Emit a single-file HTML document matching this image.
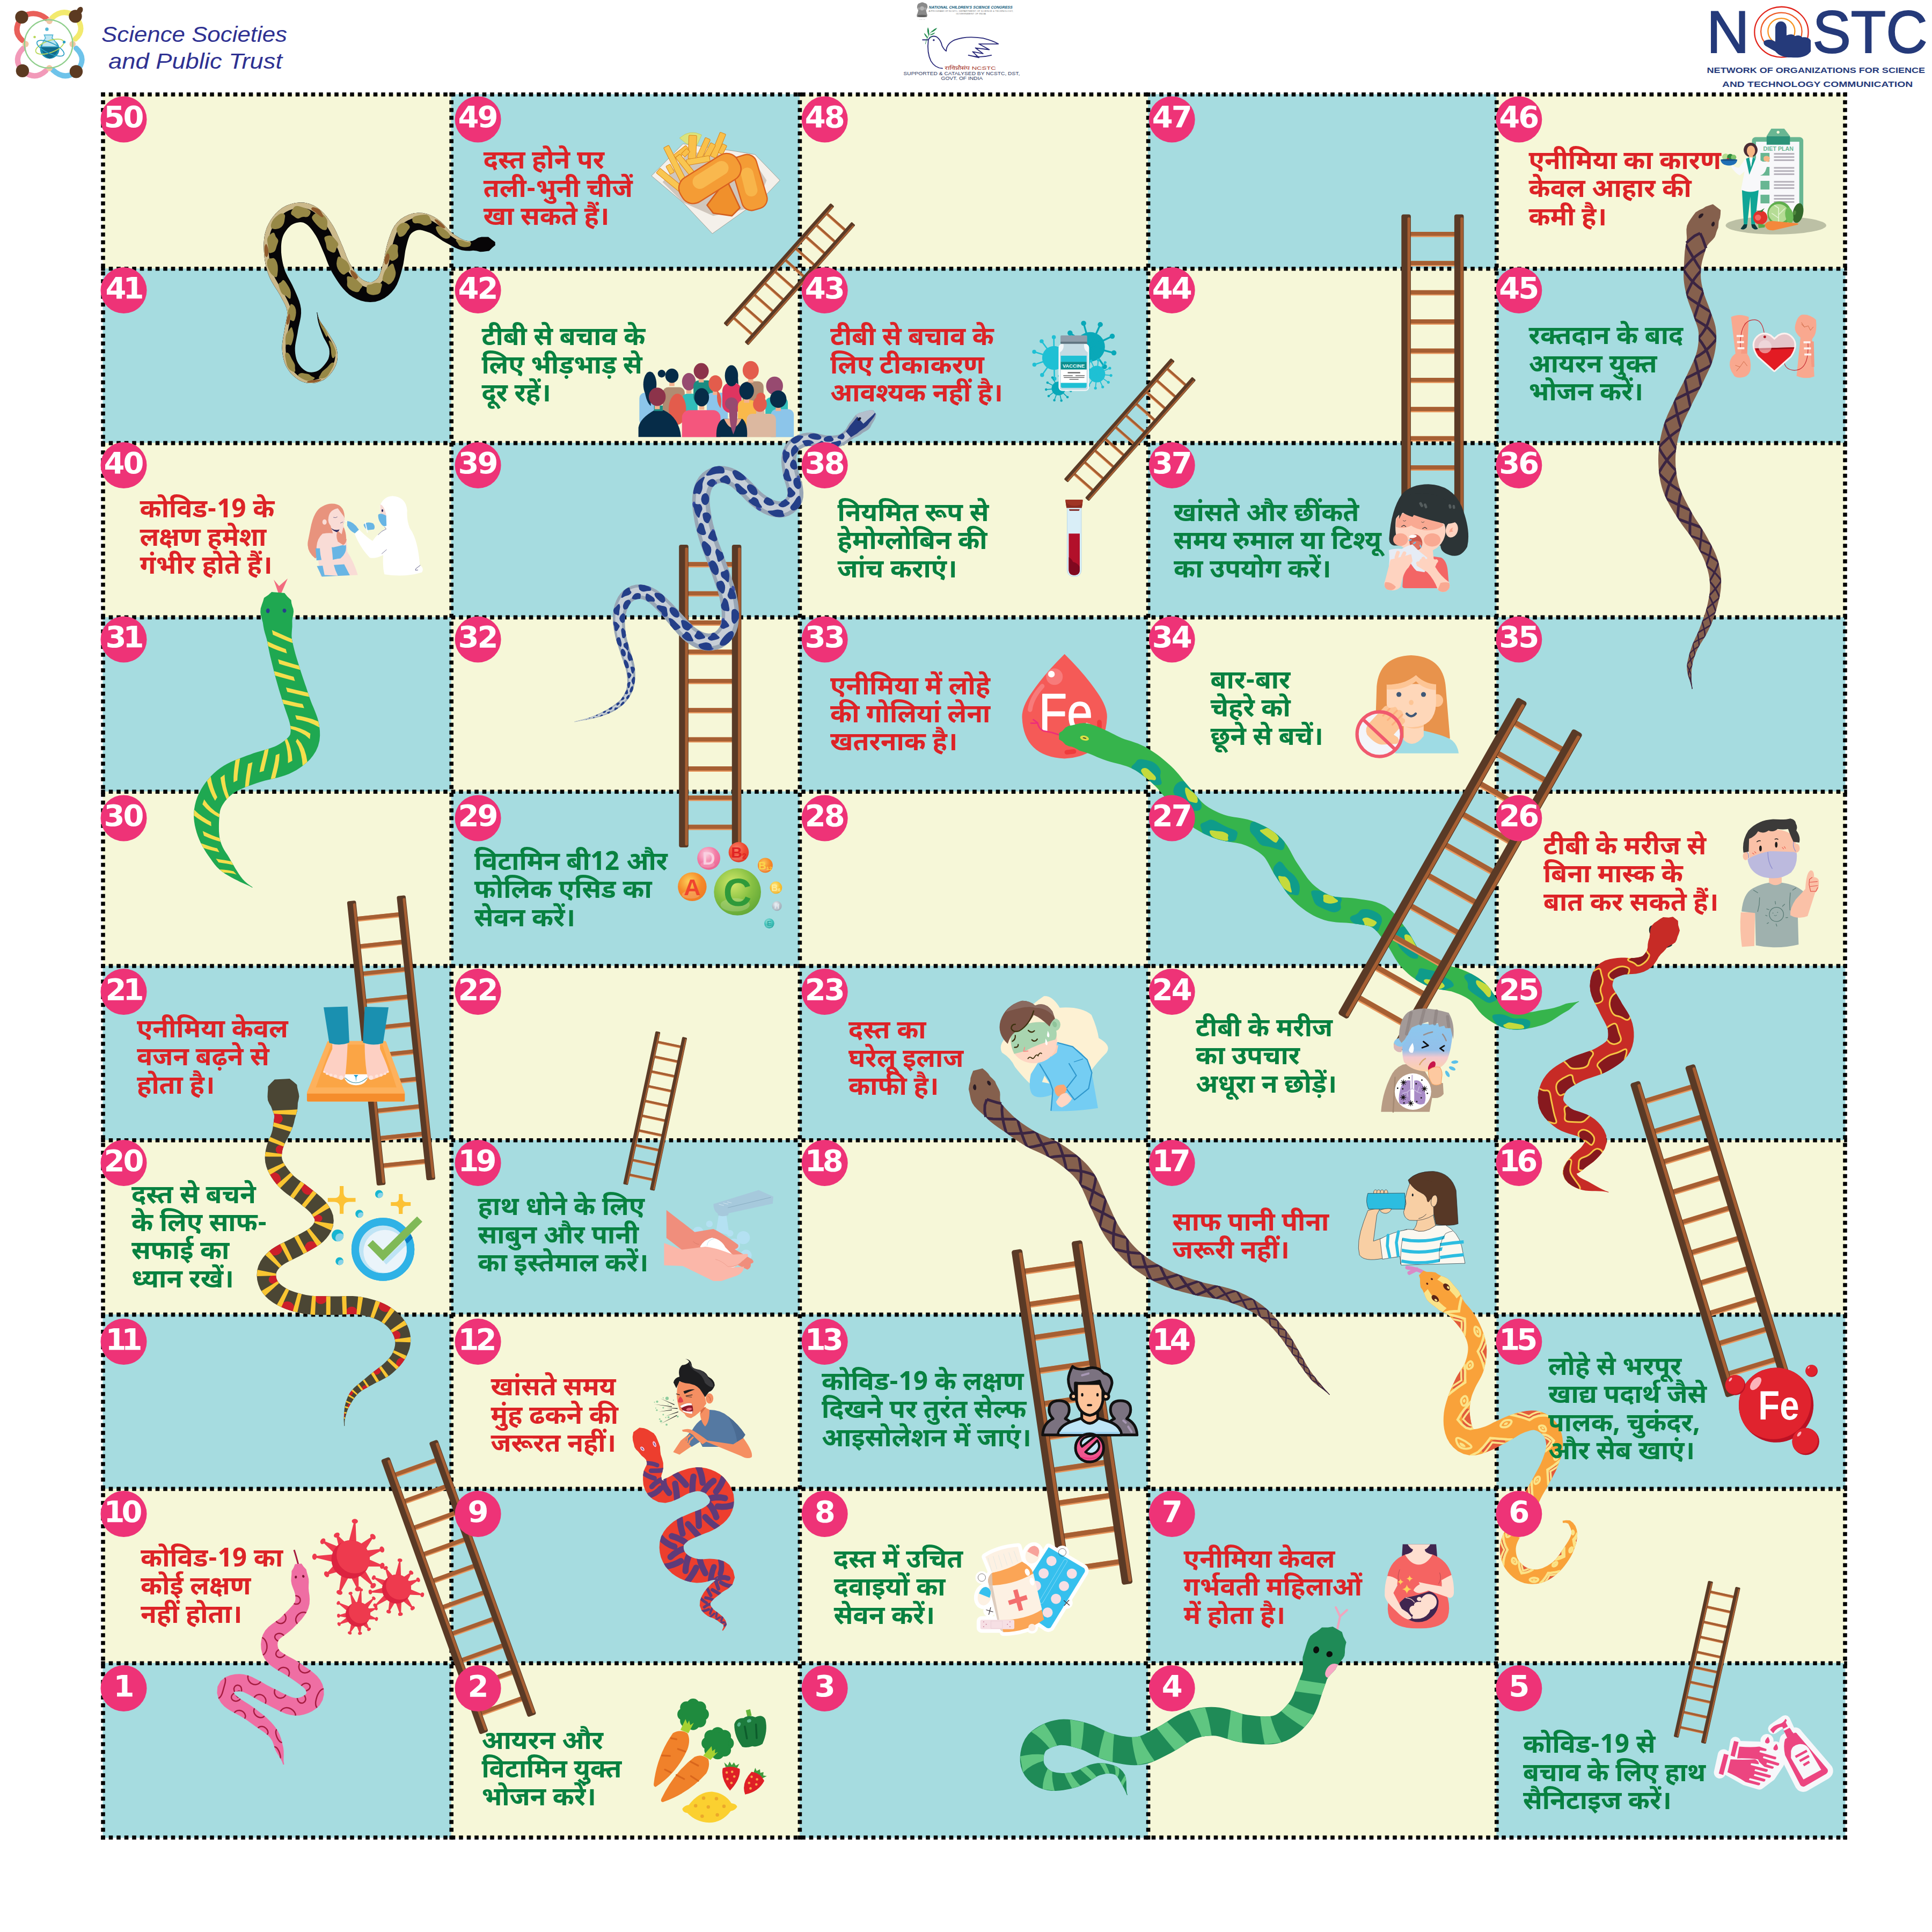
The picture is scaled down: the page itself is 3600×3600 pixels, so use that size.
<!DOCTYPE html>
<html lang="hi"><head><meta charset="utf-8"><title>Snakes and Ladders</title>
<style>
html,body{margin:0;padding:0;background:#fff}
#page{position:relative;width:3600px;height:3600px;overflow:hidden;background:#fff}
#page svg{position:absolute;left:0;top:0}
.t{position:absolute;font-family:"Noto Sans Devanagari","Liberation Sans","Noto Sans Devanagari UI","Mukta","Lohit Devanagari","FreeSans",sans-serif;font-weight:700;font-size:48.4px;line-height:52.3px;white-space:nowrap;margin:0}
.r{color:#dd2327}.g{color:#088140}
</style></head>
<body><div id="page">
<svg xmlns="http://www.w3.org/2000/svg" width="3600" height="3600" viewBox="0 0 3600 3600">
<rect x="191.5" y="175.5" width="650.2" height="325.8" fill="#f6f7d8"/>
<rect x="840.7" y="175.5" width="650.2" height="325.8" fill="#a6dce0"/>
<rect x="1489.9" y="175.5" width="650.2" height="325.8" fill="#f6f7d8"/>
<rect x="2139.1" y="175.5" width="650.2" height="325.8" fill="#a6dce0"/>
<rect x="2788.3" y="175.5" width="650.2" height="325.8" fill="#f6f7d8"/>
<rect x="191.5" y="500.3" width="650.2" height="325.8" fill="#a6dce0"/>
<rect x="840.7" y="500.3" width="650.2" height="325.8" fill="#f6f7d8"/>
<rect x="1489.9" y="500.3" width="650.2" height="325.8" fill="#a6dce0"/>
<rect x="2139.1" y="500.3" width="650.2" height="325.8" fill="#f6f7d8"/>
<rect x="2788.3" y="500.3" width="650.2" height="325.8" fill="#a6dce0"/>
<rect x="191.5" y="825.1" width="650.2" height="325.8" fill="#f6f7d8"/>
<rect x="840.7" y="825.1" width="650.2" height="325.8" fill="#a6dce0"/>
<rect x="1489.9" y="825.1" width="650.2" height="325.8" fill="#f6f7d8"/>
<rect x="2139.1" y="825.1" width="650.2" height="325.8" fill="#a6dce0"/>
<rect x="2788.3" y="825.1" width="650.2" height="325.8" fill="#f6f7d8"/>
<rect x="191.5" y="1149.9" width="650.2" height="325.8" fill="#a6dce0"/>
<rect x="840.7" y="1149.9" width="650.2" height="325.8" fill="#f6f7d8"/>
<rect x="1489.9" y="1149.9" width="650.2" height="325.8" fill="#a6dce0"/>
<rect x="2139.1" y="1149.9" width="650.2" height="325.8" fill="#f6f7d8"/>
<rect x="2788.3" y="1149.9" width="650.2" height="325.8" fill="#a6dce0"/>
<rect x="191.5" y="1474.7" width="650.2" height="325.8" fill="#f6f7d8"/>
<rect x="840.7" y="1474.7" width="650.2" height="325.8" fill="#a6dce0"/>
<rect x="1489.9" y="1474.7" width="650.2" height="325.8" fill="#f6f7d8"/>
<rect x="2139.1" y="1474.7" width="650.2" height="325.8" fill="#a6dce0"/>
<rect x="2788.3" y="1474.7" width="650.2" height="325.8" fill="#f6f7d8"/>
<rect x="191.5" y="1799.5" width="650.2" height="325.8" fill="#a6dce0"/>
<rect x="840.7" y="1799.5" width="650.2" height="325.8" fill="#f6f7d8"/>
<rect x="1489.9" y="1799.5" width="650.2" height="325.8" fill="#a6dce0"/>
<rect x="2139.1" y="1799.5" width="650.2" height="325.8" fill="#f6f7d8"/>
<rect x="2788.3" y="1799.5" width="650.2" height="325.8" fill="#a6dce0"/>
<rect x="191.5" y="2124.3" width="650.2" height="325.8" fill="#f6f7d8"/>
<rect x="840.7" y="2124.3" width="650.2" height="325.8" fill="#a6dce0"/>
<rect x="1489.9" y="2124.3" width="650.2" height="325.8" fill="#f6f7d8"/>
<rect x="2139.1" y="2124.3" width="650.2" height="325.8" fill="#a6dce0"/>
<rect x="2788.3" y="2124.3" width="650.2" height="325.8" fill="#f6f7d8"/>
<rect x="191.5" y="2449.1" width="650.2" height="325.8" fill="#a6dce0"/>
<rect x="840.7" y="2449.1" width="650.2" height="325.8" fill="#f6f7d8"/>
<rect x="1489.9" y="2449.1" width="650.2" height="325.8" fill="#a6dce0"/>
<rect x="2139.1" y="2449.1" width="650.2" height="325.8" fill="#f6f7d8"/>
<rect x="2788.3" y="2449.1" width="650.2" height="325.8" fill="#a6dce0"/>
<rect x="191.5" y="2773.9" width="650.2" height="325.8" fill="#f6f7d8"/>
<rect x="840.7" y="2773.9" width="650.2" height="325.8" fill="#a6dce0"/>
<rect x="1489.9" y="2773.9" width="650.2" height="325.8" fill="#f6f7d8"/>
<rect x="2139.1" y="2773.9" width="650.2" height="325.8" fill="#a6dce0"/>
<rect x="2788.3" y="2773.9" width="650.2" height="325.8" fill="#f6f7d8"/>
<rect x="191.5" y="3098.7" width="650.2" height="325.8" fill="#a6dce0"/>
<rect x="840.7" y="3098.7" width="650.2" height="325.8" fill="#f6f7d8"/>
<rect x="1489.9" y="3098.7" width="650.2" height="325.8" fill="#a6dce0"/>
<rect x="2139.1" y="3098.7" width="650.2" height="325.8" fill="#f6f7d8"/>
<rect x="2788.3" y="3098.7" width="650.2" height="325.8" fill="#a6dce0"/>
<g stroke="#050505" stroke-width="7.6" fill="none" stroke-dasharray="7.6 6.9">
<path d="M192 172.2 V3427.8"/>
<path d="M841.2 172.2 V3427.8"/>
<path d="M1490.4 172.2 V3427.8"/>
<path d="M2139.6 172.2 V3427.8"/>
<path d="M2788.8 172.2 V3427.8"/>
<path d="M3438 172.2 V3427.8"/>
<path d="M188.2 176 H3441.8"/>
<path d="M188.2 500.8 H3441.8"/>
<path d="M188.2 825.6 H3441.8"/>
<path d="M188.2 1150.4 H3441.8"/>
<path d="M188.2 1475.2 H3441.8"/>
<path d="M188.2 1800 H3441.8"/>
<path d="M188.2 2124.8 H3441.8"/>
<path d="M188.2 2449.6 H3441.8"/>
<path d="M188.2 2774.4 H3441.8"/>
<path d="M188.2 3099.2 H3441.8"/>
<path d="M188.2 3424 H3441.8"/>
</g>
<!-- snake s1 --><polygon points="922.6,450.9 916.3,446.6 910,441.6 903.8,441.6 897.3,441.4 890.9,442.9 885.3,446.4 879.9,448.9 874.7,449.3 870,448.8 865.5,447.7 861,445.7 856.4,443.4 851.7,440.6 846.9,437.4 842.4,434 838.1,430.5 834.3,426.6 830.4,422.3 826.1,417.6 821.2,412.8 815.4,408.2 809.1,404.3 802.5,401.1 795.4,398.4 787.3,396.8 778.6,396.4 770,397.6 761.9,400 754.3,403.4 747.1,408 740.5,413.9 735.1,420.8 731.1,428 728.2,434.9 725.9,441.2 723.9,447.3 721.9,453.6 720.2,460.1 718.8,466.6 717.6,472.7 716.6,478.5 715.5,483.8 714.3,489 712.8,494.4 711.2,499.9 709.7,505.1 708.1,509.8 706.5,513.7 704.7,516.7 702.7,519.3 700.1,521.6 697.3,523.6 694.6,525 692.2,525.9 689.7,526 686.9,525.7 683.5,524.8 680,523.5 676.5,521.7 673.4,519.6 670.4,516.9 667.4,513.7 664.3,509.8 661.2,505.6 658.2,501.2 655.2,496.5 652.4,491.9 649.9,487.4 647.8,482.8 645.7,477.9 643.7,472.6 641.5,466.9 639.2,461 636.7,455.3 634.4,449.7 632,444.2 629.5,438.4 626.8,432.4 623.7,426.3 620.3,420.3 616.6,414.5 612.8,408.9 608.5,403.3 603.7,397.7 598.1,392.3 591.7,387.2 584.3,382.8 575.9,379.4 566.8,377.6 557.9,377.3 549.6,378.3 541.7,380.2 533.9,383.1 526.4,387.1 519.6,392.2 513.8,397.8 508.9,403.7 504.6,409.8 500.9,416.2 497.6,423.1 495,430.4 493.1,437.8 492.1,445.2 491.5,452.3 491.4,459.1 491.6,465.8 492,472.5 492.6,479.1 493.5,485.8 494.7,492.4 496.2,498.9 498.1,505.4 500.3,512 503,518.5 506.2,524.7 509.6,530.5 512.9,535.8 516.2,540.7 519.1,545.5 521.9,550.3 524.6,555.4 527.4,560.6 530,565.6 532.2,570.3 533.8,574.7 534.9,578.9 535.2,583.2 535,587.8 534.2,592.9 533.1,598.5 531.9,604.5 530.7,610.7 529.8,616.7 528.7,622.5 527.6,628.4 526.6,634.7 525.8,641.5 525.5,648.5 526,655.4 526.9,662.3 528.3,669.1 530.3,675.9 533.2,682.7 537,689.1 541.4,694.9 546.4,700.1 552,704.8 558.2,709 565.5,712.1 573.3,713.9 581.1,714.1 588.6,713.2 595.9,711.1 603,707.9 609.1,703.5 614.4,698.5 618.8,693 622.6,687.2 625.7,680.7 628,673.8 629,666.5 628.9,659.4 627.9,652.4 626,645.6 623.1,639.4 619.8,633.8 616.6,628.6 613.5,623.5 610.4,618.5 607,613.5 603.5,608.6 599.9,603.7 596.7,598.8 594.1,593.5 592.4,587.8 591.2,581.9 590.2,582.1 591.1,588 591.7,594.1 593,600.2 594.7,606.2 596.7,612.1 598.7,617.8 600.9,623.5 603.2,629.2 606.2,634.6 609.1,639.7 611.6,644.7 613.3,649.6 613.9,654.5 613.9,659.5 613.1,664.4 611.7,668.9 609.5,673.1 606.7,677.1 603.5,681.1 600.1,684.8 596.6,688 593,690.6 589.1,692.2 584.8,693.3 580.4,693.7 576.1,693.5 572.3,692.4 568.6,690.6 565.1,687.9 561.6,684.7 558.5,681 555.7,677.1 553.7,673 552.1,668.6 551,663.8 550.2,658.8 549.8,653.7 549.7,648.7 550.1,643.6 550.9,638.4 552,632.9 553.2,627.1 554.4,621 555.3,615.1 556.4,609.4 557.7,603.7 559.1,597.5 560.4,590.8 561.1,583.4 560.9,575.7 559.5,568.1 557.5,561.1 555.1,554.7 552.6,548.7 550.1,543.1 547.6,537.4 544.8,531.5 541.8,525.8 538.9,520.5 536.1,515.4 533.7,510.6 531.6,506 529.9,501.3 528.5,496.4 527.2,491.3 526.1,486.1 525.2,480.8 524.5,475.6 524,470.2 523.9,464.9 523.9,459.5 524.2,454.4 524.8,449.5 525.7,444.9 527,440.8 528.6,436.9 530.8,433 533.4,429.2 536.2,425.6 539.2,422.4 542.2,419.8 545.1,417.9 548.3,416.5 551.9,415.3 555.8,414.5 559.4,414.1 562.4,414.3 565.1,414.8 567.9,416 570.8,417.7 573.8,420.1 576.8,423.1 579.8,426.6 582.8,430.6 585.8,435 588.6,439.3 591.1,443.8 593.5,448.4 595.7,453.4 598,458.7 600.3,464.2 602.7,469.7 604.9,475 607,480.3 609.1,485.9 611.4,491.8 614,498 617,504.3 620.3,510.3 623.8,516 627.3,521.5 631,527 635,532.5 639.5,538 644.7,543.6 650.7,548.9 657.6,553.5 664.8,557.3 672.5,560.2 680.8,562.2 689.9,563 699.4,562.2 708.4,559.4 716.4,555.4 723.4,550.4 729.7,544.5 735.2,537.7 739.5,530.4 742.5,523.2 744.9,516.5 746.8,510.3 748.5,504.2 750.1,497.9 751.6,491.4 752.7,484.9 753.6,478.7 754.4,473 755.2,467.6 756.3,462.4 757.6,457.2 759,451.7 760.5,446.6 762,442.3 763.5,438.8 765.3,436.2 767.4,433.9 770.3,431.9 773.6,430.2 777,429 780.2,428.4 783.6,428.6 787.3,429.3 791.5,430.5 796,432 800.4,433.6 804.7,435.6 809.1,438.3 813.9,441.5 819.2,445.1 824.7,448.7 830.5,451.9 836.1,454.9 841.6,458 847.3,461.2 853.6,463.9 860.4,466.2 867.7,467.3 875,467.4 881.7,466.8 888.3,467.6 894.6,469.3 900.1,469.1 905.6,468.2 911.4,467.4 917.1,461.8 922.9,456.9" fill="#070507"/><clipPath id="c1"><polygon points="922.6,450.9 916.3,446.6 910,441.6 903.8,441.6 897.3,441.4 890.9,442.9 885.3,446.4 879.9,448.9 874.7,449.3 870,448.8 865.5,447.7 861,445.7 856.4,443.4 851.7,440.6 846.9,437.4 842.4,434 838.1,430.5 834.3,426.6 830.4,422.3 826.1,417.6 821.2,412.8 815.4,408.2 809.1,404.3 802.5,401.1 795.4,398.4 787.3,396.8 778.6,396.4 770,397.6 761.9,400 754.3,403.4 747.1,408 740.5,413.9 735.1,420.8 731.1,428 728.2,434.9 725.9,441.2 723.9,447.3 721.9,453.6 720.2,460.1 718.8,466.6 717.6,472.7 716.6,478.5 715.5,483.8 714.3,489 712.8,494.4 711.2,499.9 709.7,505.1 708.1,509.8 706.5,513.7 704.7,516.7 702.7,519.3 700.1,521.6 697.3,523.6 694.6,525 692.2,525.9 689.7,526 686.9,525.7 683.5,524.8 680,523.5 676.5,521.7 673.4,519.6 670.4,516.9 667.4,513.7 664.3,509.8 661.2,505.6 658.2,501.2 655.2,496.5 652.4,491.9 649.9,487.4 647.8,482.8 645.7,477.9 643.7,472.6 641.5,466.9 639.2,461 636.7,455.3 634.4,449.7 632,444.2 629.5,438.4 626.8,432.4 623.7,426.3 620.3,420.3 616.6,414.5 612.8,408.9 608.5,403.3 603.7,397.7 598.1,392.3 591.7,387.2 584.3,382.8 575.9,379.4 566.8,377.6 557.9,377.3 549.6,378.3 541.7,380.2 533.9,383.1 526.4,387.1 519.6,392.2 513.8,397.8 508.9,403.7 504.6,409.8 500.9,416.2 497.6,423.1 495,430.4 493.1,437.8 492.1,445.2 491.5,452.3 491.4,459.1 491.6,465.8 492,472.5 492.6,479.1 493.5,485.8 494.7,492.4 496.2,498.9 498.1,505.4 500.3,512 503,518.5 506.2,524.7 509.6,530.5 512.9,535.8 516.2,540.7 519.1,545.5 521.9,550.3 524.6,555.4 527.4,560.6 530,565.6 532.2,570.3 533.8,574.7 534.9,578.9 535.2,583.2 535,587.8 534.2,592.9 533.1,598.5 531.9,604.5 530.7,610.7 529.8,616.7 528.7,622.5 527.6,628.4 526.6,634.7 525.8,641.5 525.5,648.5 526,655.4 526.9,662.3 528.3,669.1 530.3,675.9 533.2,682.7 537,689.1 541.4,694.9 546.4,700.1 552,704.8 558.2,709 565.5,712.1 573.3,713.9 581.1,714.1 588.6,713.2 595.9,711.1 603,707.9 609.1,703.5 614.4,698.5 618.8,693 622.6,687.2 625.7,680.7 628,673.8 629,666.5 628.9,659.4 627.9,652.4 626,645.6 623.1,639.4 619.8,633.8 616.6,628.6 613.5,623.5 610.4,618.5 607,613.5 603.5,608.6 599.9,603.7 596.7,598.8 594.1,593.5 592.4,587.8 591.2,581.9 590.2,582.1 591.1,588 591.7,594.1 593,600.2 594.7,606.2 596.7,612.1 598.7,617.8 600.9,623.5 603.2,629.2 606.2,634.6 609.1,639.7 611.6,644.7 613.3,649.6 613.9,654.5 613.9,659.5 613.1,664.4 611.7,668.9 609.5,673.1 606.7,677.1 603.5,681.1 600.1,684.8 596.6,688 593,690.6 589.1,692.2 584.8,693.3 580.4,693.7 576.1,693.5 572.3,692.4 568.6,690.6 565.1,687.9 561.6,684.7 558.5,681 555.7,677.1 553.7,673 552.1,668.6 551,663.8 550.2,658.8 549.8,653.7 549.7,648.7 550.1,643.6 550.9,638.4 552,632.9 553.2,627.1 554.4,621 555.3,615.1 556.4,609.4 557.7,603.7 559.1,597.5 560.4,590.8 561.1,583.4 560.9,575.7 559.5,568.1 557.5,561.1 555.1,554.7 552.6,548.7 550.1,543.1 547.6,537.4 544.8,531.5 541.8,525.8 538.9,520.5 536.1,515.4 533.7,510.6 531.6,506 529.9,501.3 528.5,496.4 527.2,491.3 526.1,486.1 525.2,480.8 524.5,475.6 524,470.2 523.9,464.9 523.9,459.5 524.2,454.4 524.8,449.5 525.7,444.9 527,440.8 528.6,436.9 530.8,433 533.4,429.2 536.2,425.6 539.2,422.4 542.2,419.8 545.1,417.9 548.3,416.5 551.9,415.3 555.8,414.5 559.4,414.1 562.4,414.3 565.1,414.8 567.9,416 570.8,417.7 573.8,420.1 576.8,423.1 579.8,426.6 582.8,430.6 585.8,435 588.6,439.3 591.1,443.8 593.5,448.4 595.7,453.4 598,458.7 600.3,464.2 602.7,469.7 604.9,475 607,480.3 609.1,485.9 611.4,491.8 614,498 617,504.3 620.3,510.3 623.8,516 627.3,521.5 631,527 635,532.5 639.5,538 644.7,543.6 650.7,548.9 657.6,553.5 664.8,557.3 672.5,560.2 680.8,562.2 689.9,563 699.4,562.2 708.4,559.4 716.4,555.4 723.4,550.4 729.7,544.5 735.2,537.7 739.5,530.4 742.5,523.2 744.9,516.5 746.8,510.3 748.5,504.2 750.1,497.9 751.6,491.4 752.7,484.9 753.6,478.7 754.4,473 755.2,467.6 756.3,462.4 757.6,457.2 759,451.7 760.5,446.6 762,442.3 763.5,438.8 765.3,436.2 767.4,433.9 770.3,431.9 773.6,430.2 777,429 780.2,428.4 783.6,428.6 787.3,429.3 791.5,430.5 796,432 800.4,433.6 804.7,435.6 809.1,438.3 813.9,441.5 819.2,445.1 824.7,448.7 830.5,451.9 836.1,454.9 841.6,458 847.3,461.2 853.6,463.9 860.4,466.2 867.7,467.3 875,467.4 881.7,466.8 888.3,467.6 894.6,469.3 900.1,469.1 905.6,468.2 911.4,467.4 917.1,461.8 922.9,456.9"/></clipPath><g clip-path="url(#c1)"><polygon points="876.5,449.2 871.6,449.1 867.1,448.1 862.6,446.5 858.1,444.2 853.3,441.6 848.6,438.6 843.9,435.2 839.5,431.7 835.6,427.9 831.7,423.7 827.6,419.2 822.9,414.4 817.4,409.6 811.2,405.5 804.7,402 797.7,399.2 790,397.2 781.4,396.4 772.7,397 764.4,399.1 756.6,402.2 749.3,406.5 742.4,411.9 736.6,418.6 732.2,425.9 729,432.8 726.5,439.4 724.5,445.5 722.5,451.7 720.6,458.2 719.2,464.8 718,471 716.9,476.9 715.8,482.3 714.7,487.5 713.2,492.9 711.7,498.3 710.1,503.7 708.5,508.6 706.9,512.7 705.2,516 703.2,518.6 700.8,521 698.1,523.1 695.3,524.7 692.8,525.6 690.4,526 687.6,525.8 684.4,525.1 680.8,523.9 677.4,522.2 674.1,520.1 671.1,517.6 668.1,514.5 665,510.8 662,506.7 658.9,502.2 655.9,497.6 653,492.9 650.5,488.4 648.2,483.9 646.2,479 644.1,473.8 642,468.2 639.7,462.3 637.3,456.5 634.9,450.9 632.5,445.3 630.1,439.6 627.4,433.6 624.4,427.5 621,421.5 617.4,415.6 613.6,410 609.4,404.4 604.7,398.8 599.3,393.3 593,388.2 585.8,383.6 577.5,380 568.5,377.8 559.5,377.3 551,378.1 543.1,379.8 535.3,382.5 527.7,386.3 520.7,391.2 514.7,396.8 509.7,402.7 505.3,408.8 501.4,415.1 498.1,422 495.3,429.2 493.4,436.7 492.2,444 491.6,451.2 491.4,458.1 491.5,464.8 491.9,471.5 492.5,478.2 493.4,484.8 494.5,491.5 496,498 497.8,504.5 500,511.1 502.6,517.6 505.8,523.9 509.2,529.8 512.5,535.1 515.8,540.1 518.8,544.9 521.6,549.7 524.3,554.8 527.1,560 529.7,565 531.9,569.8 533.6,574.2 534.8,578.5 535.2,582.7 535,587.3 534.3,592.4 533.3,598 532,604 530.8,610.1 529.9,616.1 528.8,621.9 527.7,627.9 526.7,634.2 525.9,640.9 525.5,647.9 525.9,654.9 526.8,661.8 528.2,668.6 530.2,675.5 533,682.3 536.7,688.7 541.1,694.5 546.1,699.8 551.6,704.5 557.8,708.7 565.1,712 572.9,713.8 580.7,714.1 588.2,713.3 595.6,711.3 602.6,708.1 608.9,703.7 614.2,698.7 618.6,693.2 622.4,687.4 625.6,681 627.9,674 628.9,666.8 629,659.6 627.9,652.6 626.1,645.8 623.1,639.5 619.8,633.9 616.7,628.7 613.6,623.6 610.5,618.6 607,613.6 603.5,608.7 600,603.8 596.8,598.8 594.1,593.5 592.4,587.8 591.2,581.9 590.9,581.9 592.1,587.8 593.5,593.7 595.7,599.2 598.5,604.5 601.6,609.6 604.8,614.8 607.8,620 610.8,625.2 613.8,630.3 616.9,635.5 620,641 622.6,646.8 624.1,653.2 624.8,659.6 624.6,666.1 623.4,672.6 621.1,678.8 618.1,684.6 614.4,689.9 610.3,694.9 605.5,699.4 599.9,703.3 593.7,706 587.2,707.8 580.5,708.5 573.7,708.2 567,706.6 560.8,703.7 555.2,699.9 550.3,695.6 545.8,690.7 541.9,685.4 538.7,679.6 536.2,673.5 534.4,667.2 533.2,660.8 532.5,654.5 532.2,648 532.6,641.5 533.4,635.2 534.4,629.1 535.6,623.2 536.6,617.3 537.6,611.3 538.8,605.3 540,599.4 541.2,593.6 542,588.1 542.3,582.7 541.9,577.5 540.7,572.3 538.9,567.2 536.6,562 534,556.7 531.3,551.4 528.7,546.1 525.9,541 522.8,536 519.7,530.9 516.5,525.6 513.4,520.1 510.5,514.3 508.2,508.2 506.2,502.1 504.5,496 503.2,489.8 502.1,483.5 501.3,477.2 500.7,470.9 500.4,464.6 500.3,458.3 500.6,451.9 501.2,445.3 502.3,438.8 504.1,432.2 506.6,425.9 509.6,419.9 513.2,414.2 517.1,408.8 521.6,403.7 526.8,399 532.6,394.9 539.1,391.8 545.7,389.5 552.5,388.1 559.6,387.4 567,387.8 574.3,389.6 581,392.6 587,396.4 592.4,400.8 597.2,405.7 601.4,410.7 605.3,415.9 608.9,421.2 612.2,426.6 615.4,432.2 618.2,438 620.8,443.7 623.2,449.3 625.5,454.9 627.9,460.5 630.3,466.1 632.5,471.9 634.6,477.5 636.8,482.9 639,488.2 641.5,493.2 644.3,498.1 647.3,503 650.4,507.9 653.7,512.6 657.1,517.1 660.6,521.3 664.2,525.1 668.2,528.4 672.4,531.1 677,533.3 681.7,534.9 686.4,535.9 690.9,536.2 695.3,535.5 699.5,534 703.6,531.6 707.5,528.7 710.9,525.3 713.8,521.4 716.1,517 718.1,512.1 719.8,506.7 721.5,501.2 723,495.5 724.5,489.9 725.8,484.3 726.8,478.6 727.8,472.7 728.9,466.6 730.2,460.4 731.9,454.3 733.7,448.3 735.6,442.3 737.8,436.3 740.5,430.1 744.1,423.9 748.9,418.4 754.5,413.8 760.7,410.2 767.2,407.6 774.1,405.8 781.4,405.2 788.5,405.8 795.2,407.6 801.5,410 807.4,412.9 813.1,416.4 818.3,420.4 823,424.7 827.3,429 831.6,433 836,436.7 840.7,440.1 845.6,443.3 850.6,446.4 855.7,449.2 860.8,451.5 865.9,453.2 871.3,454.2 876.8,454.1" fill="#cbb98b"/><path d="M850.9 450.3Q847.9 447.2 851 446.8Q854 446.5 857.6 446.9Q861.3 447.3 864.7 449.2Q868.2 451.2 873.4 451.4Q878.7 451.7 877.9 453.8Q877 455.9 876.6 457.6Q876.2 459.3 871.8 460.1Q867.3 460.8 861.6 459.9Q855.8 459.1 854.8 456.3Q853.8 453.5 850.9 450.3Z" fill="#978846"/><path d="M812.3 425.8Q811.4 422.3 814.6 421.4Q817.9 420.5 822.1 423.3Q826.4 426.2 830.3 429Q834.2 431.8 836.9 435.6Q839.6 439.3 838.7 441.3Q837.8 443.2 835.7 444.1Q833.7 445 829.5 444.5Q825.4 443.9 821.4 440.1Q817.3 436.2 815.3 432.8Q813.2 429.4 812.3 425.8Z" fill="#978846"/><path d="M810.7 411.5Q808.5 408.8 811.1 408.8Q813.7 408.7 818 411.9Q822.3 415.1 826 419Q829.6 422.9 829.3 424.3Q828.9 425.8 827.1 425.4Q825.3 425.1 821.7 422.9Q818.1 420.7 815.6 417.4Q813 414.2 810.7 411.5Z" fill="#8f5b2c"/><path d="M769.4 413.8Q767.7 410.8 768.3 407.4Q769 404 775.7 402.3Q782.4 400.7 790.2 400.1Q798 399.6 800.1 403.9Q802.1 408.3 803.8 411.8Q805.6 415.4 802.5 416.9Q799.5 418.5 795.3 419.9Q791.1 421.2 786.7 418.4Q782.4 415.6 776.7 416.1Q771.1 416.7 769.4 413.8Z" fill="#978846"/><path d="M746.8 441.3Q743.2 441.5 741.9 437.7Q740.6 433.9 739.2 430Q737.8 426 742 421Q746.2 416 750.8 415.2Q755.5 414.4 758.2 415.9Q760.9 417.5 762.8 420.4Q764.7 423.4 762 426.6Q759.3 429.7 757.7 432.7Q756 435.6 753.2 438.3Q750.4 441.1 746.8 441.3Z" fill="#978846"/><path d="M732.6 485.8Q729 486.8 726.7 483.7Q724.4 480.6 721.1 477.6Q717.7 474.6 720.7 469.6Q723.6 464.6 726 460.2Q728.4 455.9 731.9 455.2Q735.4 454.6 738.9 456Q742.4 457.3 741.5 462.8Q740.5 468.3 741.8 473.4Q743 478.4 739.6 481.6Q736.2 484.9 732.6 485.8Z" fill="#978846"/><path d="M720.4 492.4Q718.4 493.7 717.3 491.6Q716.2 489.5 716.3 485.7Q716.4 481.9 717.8 478.1Q719.3 474.2 721.2 472.8Q723.1 471.4 724.4 473.3Q725.7 475.1 725.6 479.4Q725.4 483.6 723.9 487.4Q722.4 491.2 720.4 492.4Z" fill="#8f5b2c"/><path d="M722.1 529Q719.5 526.3 715.7 524.9Q712 523.6 712.9 518.5Q713.8 513.5 715.7 508.4Q717.7 503.3 720.9 499.7Q724.1 496.1 728.2 492.5Q732.3 489 733.8 494.6Q735.4 500.2 736.8 504.7Q738.2 509.1 736.3 515.7Q734.3 522.3 729.5 527Q724.6 531.6 722.1 529Z" fill="#978846"/><path d="M683.1 542.5Q683 539 683.1 534.9Q683.3 530.7 687.6 530.5Q691.9 530.3 694.5 528.8Q697.2 527.2 701.1 527Q704.9 526.8 709 527.6Q713.1 528.5 711.4 533.4Q709.8 538.3 709.1 542.9Q708.3 547.5 700.9 549.1Q693.4 550.8 688.3 548.3Q683.2 545.9 683.1 542.5Z" fill="#978846"/><path d="M646.5 519.6Q645.6 514 650.3 515Q655 515.9 659.1 517.6Q663.2 519.4 666.1 522.6Q668.9 525.8 672.9 529.1Q676.9 532.4 674 535.6Q671.1 538.7 669.7 541.9Q668.3 545.1 662.5 544.1Q656.8 543 651.4 538.5Q646.1 534 646.7 529.6Q647.3 525.2 646.5 519.6Z" fill="#978846"/><path d="M653 505.3Q652.6 502.1 655.4 503.6Q658.2 505.1 660.8 507.4Q663.5 509.7 665.5 513Q667.6 516.3 666.5 517.8Q665.4 519.3 663.8 520.2Q662.3 521.1 659.2 518.2Q656.1 515.4 654.8 512Q653.4 508.6 653 505.3Z" fill="#8f5b2c"/><path d="M628.8 481.2Q630.2 476.3 634.5 479.2Q638.8 482 642.3 484.2Q645.8 486.3 648.5 490.5Q651.2 494.7 652 499.7Q652.7 504.8 649.4 506.3Q646 507.9 643.3 510.6Q640.6 513.4 636.2 509.8Q631.7 506.1 629.3 500.8Q626.9 495.5 627.1 490.8Q627.4 486.1 628.8 481.2Z" fill="#978846"/><path d="M606.7 440.5Q610.5 439 614 438.7Q617.6 438.3 621 442Q624.4 445.7 628.2 450.4Q632 455.1 629.3 458.8Q626.5 462.5 625.5 467Q624.4 471.4 620.5 470.7Q616.5 470 612.5 467.1Q608.5 464.3 608.1 458.9Q607.7 453.6 605.3 447.8Q602.9 442 606.7 440.5Z" fill="#978846"/><path d="M582.3 402.4Q584.8 399.4 587.8 397.6Q590.9 395.9 596.3 397.3Q601.7 398.7 606.1 404.3Q610.4 409.9 610.1 414.5Q609.9 419.1 609.6 424Q609.3 429 605.1 428.8Q600.8 428.6 596.8 425.3Q592.7 422 589.4 418.2Q586.1 414.5 582.9 409.9Q579.8 405.3 582.3 402.4Z" fill="#978846"/><path d="M580.1 388.7Q580.3 386.7 582.9 386.3Q585.5 385.9 590.7 387.9Q595.9 390 598.2 394Q600.6 398.1 602 401.7Q603.5 405.3 600.7 404.8Q597.9 404.2 594 400.7Q590.1 397.2 584.9 394Q579.8 390.7 580.1 388.7Z" fill="#8f5b2c"/><path d="M544.4 400.8Q541.2 398.8 542.6 395Q544.1 391.3 547.2 386.9Q550.4 382.4 557.9 384.5Q565.3 386.6 572.3 389.2Q579.3 391.8 578.8 395.7Q578.2 399.5 575.6 402.2Q572.9 405 568.2 404.2Q563.5 403.4 559.1 406Q554.8 408.6 551.2 405.8Q547.7 402.9 544.4 400.8Z" fill="#978846"/><path d="M513 426.9Q509.8 427.1 506.7 425.4Q503.7 423.6 505.2 417.7Q506.7 411.9 510.5 407.6Q514.4 403.4 519.5 399.8Q524.6 396.3 528.1 398Q531.7 399.8 531.1 403.9Q530.4 408 530 412Q529.5 415.9 526.9 420.1Q524.3 424.3 520.3 425.5Q516.3 426.7 513 426.9Z" fill="#978846"/><path d="M510 469.5Q507.2 470.8 503.7 471.6Q500.1 472.4 499.8 464.8Q499.5 457.2 498.3 450.9Q497.1 444.7 500.4 440.1Q503.7 435.5 507.4 433.9Q511.2 432.4 512.3 437Q513.4 441.6 516.6 444.4Q519.7 447.3 517.6 452.8Q515.5 458.4 514.2 463.3Q512.9 468.2 510 469.5Z" fill="#978846"/><path d="M498.4 477.8Q497.2 479.5 495.5 478.6Q493.8 477.6 493.2 472.6Q492.5 467.5 492.8 462.7Q493 457.9 494.5 455.7Q496.1 453.5 497.3 456.3Q498.6 459.1 499.5 463.1Q500.5 467.1 500.1 471.6Q499.6 476 498.4 477.8Z" fill="#8f5b2c"/><path d="M516.6 513.5Q515.8 518.1 511.7 515.7Q507.7 513.3 504.5 509.2Q501.4 505 499.2 499.1Q496.9 493.2 497.8 487.4Q498.7 481.6 501.8 481.5Q505 481.4 508 480.9Q511.1 480.5 513.9 484.7Q516.7 489 517.4 494.5Q518 500.1 517.7 504.5Q517.3 508.9 516.6 513.5Z" fill="#978846"/><path d="M541.6 554.2Q541.2 558.8 537.1 554.9Q533 550.9 529.4 549.8Q525.9 548.7 523.4 543.5Q520.9 538.4 519.6 533.3Q518.3 528.3 521.1 527.2Q523.8 526.1 525.9 522.9Q527.9 519.6 531.8 525.1Q535.6 530.6 538.6 535.4Q541.5 540.2 541.8 544.8Q542.1 549.5 541.6 554.2Z" fill="#978846"/><path d="M545.6 598.2Q543.1 597.2 541.1 595.7Q539.2 594.2 538 590.6Q536.8 587 536.5 582.7Q536.1 578.4 537.9 575.9Q539.7 573.3 540.4 569.5Q541.2 565.7 544.4 566.9Q547.5 568 549.8 572.6Q552 577.1 551.7 582.4Q551.5 587.6 549.8 593.4Q548.2 599.2 545.6 598.2Z" fill="#978846"/><path d="M536.6 604.7Q535.3 605.6 534.3 604.2Q533.4 602.9 533.9 598.5Q534.4 594.1 535.4 590.8Q536.5 587.4 537.7 585.5Q538.8 583.5 539.8 585.7Q540.8 587.8 540.7 591.6Q540.6 595.3 539.3 599.6Q538 603.9 536.6 604.7Z" fill="#8f5b2c"/><path d="M539.9 643.1Q537.5 641.4 534.9 642.3Q532.4 643.1 531.9 637.7Q531.4 632.3 532.3 626.9Q533.3 621.5 535.7 618.8Q538.1 616.2 540.8 611.8Q543.4 607.5 544.7 612.1Q545.9 616.6 546.9 620.5Q547.8 624.4 546.7 629.4Q545.7 634.5 544 639.6Q542.4 644.7 539.9 643.1Z" fill="#978846"/><path d="M550.1 689.6Q550.7 692.9 548 693Q545.3 693.1 540.8 689.6Q536.3 686.1 534.5 679.5Q532.8 672.9 531.6 665.8Q530.4 658.6 532.7 657.4Q535 656.3 537.4 658.1Q539.7 660 541.6 664.5Q543.6 669.1 546.7 674Q549.9 678.9 549.7 682.6Q549.5 686.3 550.1 689.6Z" fill="#978846"/><path d="M583.9 702.5Q587.5 703.6 585.7 705.8Q583.8 708 579 709.1Q574.3 710.2 569.2 708.5Q564.1 706.7 559 703Q553.9 699.4 555.8 697.9Q557.8 696.4 559.6 695.5Q561.5 694.6 564.9 695.2Q568.2 695.9 572.3 696.6Q576.5 697.4 578.4 699.4Q580.3 701.4 583.9 702.5Z" fill="#978846"/><path d="M596.3 707Q599.9 706.4 598.1 708.2Q596.3 710 590.9 711.5Q585.4 712.9 579.1 713Q572.9 713.1 572.4 711.9Q571.9 710.7 573.9 710.1Q575.9 709.5 580.3 708.7Q584.8 707.9 588.8 707.8Q592.8 707.7 596.3 707Z" fill="#8f5b2c"/><path d="M618.6 675.8Q620.9 674.8 622.1 676.6Q623.4 678.3 619.9 684.8Q616.5 691.3 612.6 697.2Q608.8 703 603.6 704.4Q598.4 705.8 595.7 705Q592.9 704.2 594.9 701.6Q596.9 699 598.3 695.6Q599.7 692.2 604.6 688.8Q609.5 685.4 612.9 681.1Q616.4 676.8 618.6 675.8Z" fill="#978846"/><path d="M612.6 635.5Q612.9 633.5 615.1 635.2Q617.3 636.9 620 640.9Q622.7 644.8 624.7 651Q626.8 657.2 625.5 660.9Q624.2 664.6 622.6 666.3Q621 668.1 619.6 666.9Q618.3 665.8 617.6 661.5Q616.9 657.3 616.7 652.4Q616.5 647.4 614.5 642.4Q612.4 637.4 612.6 635.5Z" fill="#978846"/><path d="M594.4 597.9Q593.8 595.2 595.8 599.1Q597.9 602.9 599.7 604.5Q601.4 606 604.5 610.9Q607.5 615.9 609.4 620Q611.2 624 610.6 625.1Q610 626.2 609.3 627.7Q608.7 629.3 605.6 623.4Q602.6 617.5 600.2 613.1Q597.8 608.7 596.4 604.6Q595.1 600.5 594.4 597.9Z" fill="#978846"/><path d="M592.7 590.1Q592.3 587.9 593.1 590.8Q594 593.6 595.7 596.7Q597.3 599.8 599.5 603.3Q601.6 606.7 602.1 607.9Q602.5 609.1 601.9 608.9Q601.3 608.6 598.8 604.4Q596.4 600.2 594.8 596.2Q593.2 592.2 592.7 590.1Z" fill="#8f5b2c"/></g>
<g transform="translate(1880 1200) scale(0.1139)"><path d="M910 165 Q1250 500 1450 800 Q1610 1030 1605 1200 Q1580 1840 910 1875 Q240 1840 215 1200 Q210 1030 370 800 Q570 500 910 165Z" fill="#f55a57"/><circle cx="745" cy="535" r="135" fill="#f77b7b"/><circle cx="695" cy="493" r="54" fill="#ffffff"/><path d="M545 690 Q370 880 345 1075" stroke="#f77b7b" stroke-width="75" stroke-linecap="round" fill="none"/><rect x="0" y="-37.5" width="160" height="75" rx="37.5" fill="#ee3b3b" transform="translate(1480 1240) rotate(90)"/><rect x="0" y="-37.5" width="191" height="75" rx="37.5" fill="#ee3b3b" transform="translate(910 1775) rotate(-6)"/><text x="490" y="1410" font-family="'Liberation Sans',sans-serif" font-size="870" fill="#fff" stroke="#fff" stroke-width="14" stroke-linejoin="round" textLength="880" lengthAdjust="spacingAndGlyphs">Fe</text><path d="M835 1490 Q700 1440 560 1420 Q480 1380 470 1290 L400 1238 M470 1290 Q440 1300 360 1295" stroke="#ee2d7a" stroke-width="24" fill="none" stroke-linecap="round"/></g>
<g transform="translate(1840 1840) scale(0.1346)"><path d="M780 120 Q900 110 1000 280 Q1300 260 1440 380 Q1520 560 1540 700 Q1720 800 1650 900 Q1500 1050 1400 1200 L700 1420 Q560 1330 380 1100 Q330 980 200 900 Q150 800 250 700 Q500 300 780 120Z" fill="#fdf1d3"/><path d="M960 760 Q1300 800 1430 1100 L1530 1670 Q1200 1720 880 1710 L900 1480 Q700 1560 620 1480 Q560 1400 600 1200 L700 1040 Q800 1000 900 900Z" fill="#74cdf3"/><path d="M755 1310 L790 1220 L860 1330Z" fill="#fdf1d3"/><polyline points="725,1065 860,1290 905,1420 880,1700" fill="none" stroke="#2f97cc" stroke-width="16" stroke-linecap="round" stroke-linejoin="round"/><polyline points="1130,1055 1230,1220 1090,1400 1205,1555 1400,1400 1445,1180 1380,1000 1180,820 975,765" fill="none" stroke="#2f97cc" stroke-width="16" stroke-linecap="round" stroke-linejoin="round"/><polyline points="1200,1030 1320,990" fill="none" stroke="#2f97cc" stroke-width="10" stroke-linecap="round" stroke-linejoin="round"/><path d="M930 1390 Q960 1340 1060 1345 L1100 1400 L1070 1470 L980 1510 Q920 1470 930 1390Z" fill="#fba671"/><path d="M990 1520 Q1020 1460 1100 1460 L1170 1540 Q1130 1620 1030 1660 Q960 1640 950 1580Z" fill="#fed6c3"/><path d="M860 800 L980 800 L960 900 L880 960Z" fill="#fdcdb5"/><path d="M330 640 Q560 420 900 500 Q1000 700 940 860 Q860 1040 640 1050 Q440 1040 350 880 Q300 760 330 640Z" fill="#fed6c3"/><path d="M330 640 Q560 420 900 500 Q990 620 940 720 Q700 780 520 880 L370 920 Q300 760 330 640Z" fill="#a9d5b0"/><ellipse cx="935" cy="515" rx="75" ry="85" fill="#a9d5b0"/><ellipse cx="930" cy="510" rx="30" ry="42" fill="#8fc49a" transform="rotate(-20 930 510)"/><path d="M280 780 Q130 640 180 460 Q250 250 470 185 Q580 180 660 250 Q800 190 900 330 L935 430 Q880 470 860 540 Q740 420 640 380 Q560 540 380 620 Q320 660 280 780Z" fill="#7a5346"/><path d="M470 185 Q580 180 660 250 Q800 190 900 330 L925 410 Q820 280 660 280 Q560 240 250 340 Q340 220 470 185Z" fill="#8a6a60"/><path d="M640 325 Q580 520 440 600 Q360 630 330 570 Q330 510 385 510" stroke="#3e3210" stroke-width="18" fill="none" stroke-linecap="round"/><path d="M565 595 Q610 640 650 600" stroke="#3e3210" stroke-width="17" fill="none" stroke-linecap="round"/><path d="M615 725 Q655 765 690 715" stroke="#3e3210" stroke-width="17" fill="none" stroke-linecap="round"/><path d="M385 665 Q390 720 345 745" stroke="#3e3210" stroke-width="17" fill="none" stroke-linecap="round"/><path d="M425 790 Q430 830 375 830" stroke="#3e3210" stroke-width="17" fill="none" stroke-linecap="round"/><path d="M560 985 Q585 950 610 975 Q635 1000 660 950 Q685 920 700 945 Q725 890 750 915" stroke="#3e3210" stroke-width="14" fill="none" stroke-linecap="round"/><polyline points="515,830 500,885 560,880" fill="none" stroke="#f5908a" stroke-width="14" stroke-linecap="round" stroke-linejoin="round"/><path d="M835 600 Q870 660 850 690 Q820 690 825 650Z" fill="#ffffff"/><path d="M805 705 Q845 770 825 800 Q795 795 800 750Z" fill="#ffffff"/></g>
<g transform="translate(1190 2520) scale(0.1190)"><path d="M660 1380 L760 1300 L900 1420 L640 1600 L540 1560Z" fill="#f58f62"/><path d="M1110 900 Q1280 900 1400 1000 Q1560 1120 1670 1290 L1540 1480 H1000 L960 1400 L830 1480 L740 1380 Q740 1300 830 1230 Q900 1100 1000 1040Z" fill="#5579a2"/><path d="M1400 1000 Q1560 1120 1670 1290 L1540 1480 Q1560 1300 1400 1000Z" fill="#4a6b93"/><path d="M1000 840 L1110 900 Q1110 1100 1040 1160 Q980 1100 960 960Z" fill="#f58f62"/><path d="M960 900 L1060 850 L980 960Z" fill="#d96c45"/><path d="M1640 1340 Q1800 1560 1770 1640 Q1700 1680 1600 1620 L1060 1400 L1000 1440 L880 1330 Q820 1240 690 1240 L680 1215 Q790 1180 860 1230 Q960 1290 1080 1380 L1480 1440Z" fill="#f58f62"/><polyline points="800,1300 760,1340 760,1390" fill="none" stroke="#f58f62" stroke-width="26" stroke-linecap="round" stroke-linejoin="round"/><polyline points="850,1330 800,1380 790,1420" fill="none" stroke="#f58f62" stroke-width="26" stroke-linecap="round" stroke-linejoin="round"/><ellipse cx="1110" cy="720" rx="60" ry="80" fill="#f58f62"/><path d="M1090 690 Q1130 700 1120 760" stroke="#c75e3c" stroke-width="8" fill="none"/><path d="M620 470 Q800 400 1000 520 L1060 800 Q960 960 820 1030 Q740 1020 720 960 L640 900 L610 780 Q580 640 620 470Z" fill="#f58f62"/><path d="M545 470 Q560 400 640 380 Q610 260 680 200 Q760 190 790 150 Q790 120 730 100 Q820 110 830 190 Q830 250 900 260 Q1040 280 1090 380 Q1200 440 1190 520 Q1160 600 1100 620 L1040 700 L990 620 Q940 520 800 490 Q700 480 640 450 L590 560Z" fill="#1d1d1f"/><path d="M790 150 Q800 250 900 300 Q1000 350 1040 480 Q1120 560 1170 540 Q1180 480 1090 400 Q1040 290 900 262 Q830 250 830 190Z" fill="#3a3a3d"/><path d="M700 610 Q800 570 880 580 Q800 610 720 650Z" fill="#1d1d1f"/><polyline points="590,650 640,665" fill="none" stroke="#1d1d1f" stroke-width="9" stroke-linecap="round" stroke-linejoin="round"/><polyline points="740,680 840,665" fill="none" stroke="#1d1d1f" stroke-width="9" stroke-linecap="round" stroke-linejoin="round"/><polyline points="745,690 830,700" fill="none" stroke="#1d1d1f" stroke-width="7" stroke-linecap="round" stroke-linejoin="round"/><path d="M650 690 Q690 720 700 770 Q660 800 620 780 Q605 750 650 690Z" fill="#e0404c"/><path d="M650 840 Q760 780 830 800 Q870 900 840 960 Q760 960 690 910Z" fill="#8d1a2a"/><path d="M650 840 Q760 780 830 800 L835 830 Q760 820 670 870Z" fill="#ffffff"/><path d="M690 905 Q770 940 845 920 L840 960 Q760 960 690 925Z" fill="#ffffff"/><ellipse cx="790" cy="890" rx="45" ry="22" fill="#e8697a" transform="rotate(-10 790 890)"/><polygon points="340,720 560,814 560,826" fill="#1d1d1f"/><polygon points="240,810 520,844 520,856" fill="#1d1d1f"/><polygon points="310,930 520,894 520,906" fill="#1d1d1f"/><polygon points="420,1000 620,924 620,936" fill="#1d1d1f"/><polygon points="340,1120 600,979 600,991" fill="#1d1d1f"/><polygon points="440,870 610,872 610,884" fill="#1d1d1f"/><circle cx="445" cy="720" r="26" fill="#8fcc9e"/><circle cx="290" cy="772" r="18" fill="#8fcc9e"/><circle cx="385" cy="712" r="9" fill="#8fcc9e"/><circle cx="545" cy="748" r="8" fill="#8fcc9e"/><circle cx="248" cy="780" r="8" fill="#8fcc9e"/><circle cx="462" cy="815" r="7" fill="#8fcc9e"/><circle cx="385" cy="868" r="12" fill="#8fcc9e"/><circle cx="285" cy="905" r="14" fill="#8fcc9e"/><circle cx="268" cy="872" r="8" fill="#8fcc9e"/><circle cx="385" cy="975" r="12" fill="#8fcc9e"/><circle cx="468" cy="1015" r="16" fill="#8fcc9e"/><circle cx="425" cy="1020" r="9" fill="#8fcc9e"/><circle cx="612" cy="1005" r="15" fill="#8fcc9e"/><circle cx="330" cy="1045" r="12" fill="#8fcc9e"/><circle cx="350" cy="1078" r="18" fill="#8fcc9e"/><circle cx="437" cy="1132" r="16" fill="#8fcc9e"/></g>
<!-- ladder A --><g transform="translate(1570.8 399) rotate(41.7)"><rect x="-23.4" y="17.2" width="47.3" height="5.2" rx="2.4" fill="#e8965c"/><rect x="-23.4" y="17.2" width="47.3" height="4.1" rx="2.1" fill="#a65f33"/><rect x="-23.4" y="46.1" width="47.3" height="5.2" rx="2.4" fill="#e8965c"/><rect x="-23.4" y="46.1" width="47.3" height="4.1" rx="2.1" fill="#a65f33"/><rect x="-23.4" y="75" width="47.3" height="5.2" rx="2.4" fill="#e8965c"/><rect x="-23.4" y="75" width="47.3" height="4.1" rx="2.1" fill="#a65f33"/><rect x="-23.4" y="104" width="47.3" height="5.2" rx="2.4" fill="#e8965c"/><rect x="-23.4" y="104" width="47.3" height="4.1" rx="2.1" fill="#a65f33"/><rect x="-23.4" y="132.9" width="47.3" height="5.2" rx="2.4" fill="#e8965c"/><rect x="-23.4" y="132.9" width="47.3" height="4.1" rx="2.1" fill="#a65f33"/><rect x="-23.4" y="161.8" width="47.3" height="5.2" rx="2.4" fill="#e8965c"/><rect x="-23.4" y="161.8" width="47.3" height="4.1" rx="2.1" fill="#a65f33"/><rect x="-23.4" y="190.8" width="47.3" height="5.2" rx="2.4" fill="#e8965c"/><rect x="-23.4" y="190.8" width="47.3" height="4.1" rx="2.1" fill="#a65f33"/><rect x="-23.4" y="219.7" width="47.3" height="5.2" rx="2.4" fill="#e8965c"/><rect x="-23.4" y="219.7" width="47.3" height="4.1" rx="2.1" fill="#a65f33"/><rect x="-23.4" y="248.6" width="47.3" height="5.2" rx="2.4" fill="#e8965c"/><rect x="-23.4" y="248.6" width="47.3" height="4.1" rx="2.1" fill="#a65f33"/><rect x="-23.4" y="277.5" width="47.3" height="5.2" rx="2.4" fill="#e8965c"/><rect x="-23.4" y="277.5" width="47.3" height="4.1" rx="2.1" fill="#a65f33"/><rect x="-30.9" y="0" width="9.3" height="300" rx="2.1" fill="#5a3a26"/><rect x="-24.9" y="2.8" width="2.8" height="295.3" rx="1.3" fill="#a65f33"/><rect x="21.6" y="0" width="9.3" height="300" rx="2.1" fill="#5a3a26"/><rect x="27.5" y="2.8" width="2.8" height="295.3" rx="1.3" fill="#a65f33"/></g>
<!-- ladder C --><g transform="translate(2205.2 687.8) rotate(41.5)"><rect x="-23.5" y="17.2" width="47.5" height="5.3" rx="2.4" fill="#e8965c"/><rect x="-23.5" y="17.2" width="47.5" height="4.1" rx="2.1" fill="#a65f33"/><rect x="-23.5" y="46.3" width="47.5" height="5.3" rx="2.4" fill="#e8965c"/><rect x="-23.5" y="46.3" width="47.5" height="4.1" rx="2.1" fill="#a65f33"/><rect x="-23.5" y="75.3" width="47.5" height="5.3" rx="2.4" fill="#e8965c"/><rect x="-23.5" y="75.3" width="47.5" height="4.1" rx="2.1" fill="#a65f33"/><rect x="-23.5" y="104.4" width="47.5" height="5.3" rx="2.4" fill="#e8965c"/><rect x="-23.5" y="104.4" width="47.5" height="4.1" rx="2.1" fill="#a65f33"/><rect x="-23.5" y="133.4" width="47.5" height="5.3" rx="2.4" fill="#e8965c"/><rect x="-23.5" y="133.4" width="47.5" height="4.1" rx="2.1" fill="#a65f33"/><rect x="-23.5" y="162.4" width="47.5" height="5.3" rx="2.4" fill="#e8965c"/><rect x="-23.5" y="162.4" width="47.5" height="4.1" rx="2.1" fill="#a65f33"/><rect x="-23.5" y="191.5" width="47.5" height="5.3" rx="2.4" fill="#e8965c"/><rect x="-23.5" y="191.5" width="47.5" height="4.1" rx="2.1" fill="#a65f33"/><rect x="-23.5" y="220.5" width="47.5" height="5.3" rx="2.4" fill="#e8965c"/><rect x="-23.5" y="220.5" width="47.5" height="4.1" rx="2.1" fill="#a65f33"/><rect x="-23.5" y="249.5" width="47.5" height="5.3" rx="2.4" fill="#e8965c"/><rect x="-23.5" y="249.5" width="47.5" height="4.1" rx="2.1" fill="#a65f33"/><rect x="-23.5" y="278.6" width="47.5" height="5.3" rx="2.4" fill="#e8965c"/><rect x="-23.5" y="278.6" width="47.5" height="4.1" rx="2.1" fill="#a65f33"/><rect x="-31" y="0" width="9.4" height="301.1" rx="2.1" fill="#5a3a26"/><rect x="-25" y="2.8" width="2.8" height="296.4" rx="1.3" fill="#a65f33"/><rect x="21.6" y="0" width="9.4" height="301.1" rx="2.1" fill="#5a3a26"/><rect x="27.6" y="2.8" width="2.8" height="296.4" rx="1.3" fill="#a65f33"/></g>
<!-- ladder B --><g transform="translate(2669.4 399.6) rotate(0)"><rect x="-44" y="32.3" width="88.9" height="9.9" rx="4.4" fill="#e8965c"/><rect x="-44" y="32.3" width="88.9" height="7.7" rx="3.9" fill="#a65f33"/><rect x="-44" y="86.7" width="88.9" height="9.9" rx="4.4" fill="#e8965c"/><rect x="-44" y="86.7" width="88.9" height="7.7" rx="3.9" fill="#a65f33"/><rect x="-44" y="141.1" width="88.9" height="9.9" rx="4.4" fill="#e8965c"/><rect x="-44" y="141.1" width="88.9" height="7.7" rx="3.9" fill="#a65f33"/><rect x="-44" y="195.5" width="88.9" height="9.9" rx="4.4" fill="#e8965c"/><rect x="-44" y="195.5" width="88.9" height="7.7" rx="3.9" fill="#a65f33"/><rect x="-44" y="249.9" width="88.9" height="9.9" rx="4.4" fill="#e8965c"/><rect x="-44" y="249.9" width="88.9" height="7.7" rx="3.9" fill="#a65f33"/><rect x="-44" y="304.3" width="88.9" height="9.9" rx="4.4" fill="#e8965c"/><rect x="-44" y="304.3" width="88.9" height="7.7" rx="3.9" fill="#a65f33"/><rect x="-44" y="358.7" width="88.9" height="9.9" rx="4.4" fill="#e8965c"/><rect x="-44" y="358.7" width="88.9" height="7.7" rx="3.9" fill="#a65f33"/><rect x="-44" y="413.1" width="88.9" height="9.9" rx="4.4" fill="#e8965c"/><rect x="-44" y="413.1" width="88.9" height="7.7" rx="3.9" fill="#a65f33"/><rect x="-44" y="467.5" width="88.9" height="9.9" rx="4.4" fill="#e8965c"/><rect x="-44" y="467.5" width="88.9" height="7.7" rx="3.9" fill="#a65f33"/><rect x="-44" y="521.8" width="88.9" height="9.9" rx="4.4" fill="#e8965c"/><rect x="-44" y="521.8" width="88.9" height="7.7" rx="3.9" fill="#a65f33"/><rect x="-58.1" y="0" width="17.6" height="564" rx="3.9" fill="#5a3a26"/><rect x="-46.8" y="5.3" width="5.3" height="555.2" rx="2.5" fill="#a65f33"/><rect x="40.5" y="0" width="17.6" height="564" rx="3.9" fill="#5a3a26"/><rect x="51.8" y="5.3" width="5.3" height="555.2" rx="2.5" fill="#a65f33"/></g>
<!-- ladder D --><g transform="translate(1323.3 1015) rotate(0)"><rect x="-44" y="32.3" width="88.9" height="9.9" rx="4.4" fill="#e8965c"/><rect x="-44" y="32.3" width="88.9" height="7.7" rx="3.9" fill="#a65f33"/><rect x="-44" y="86.7" width="88.9" height="9.9" rx="4.4" fill="#e8965c"/><rect x="-44" y="86.7" width="88.9" height="7.7" rx="3.9" fill="#a65f33"/><rect x="-44" y="141.1" width="88.9" height="9.9" rx="4.4" fill="#e8965c"/><rect x="-44" y="141.1" width="88.9" height="7.7" rx="3.9" fill="#a65f33"/><rect x="-44" y="195.5" width="88.9" height="9.9" rx="4.4" fill="#e8965c"/><rect x="-44" y="195.5" width="88.9" height="7.7" rx="3.9" fill="#a65f33"/><rect x="-44" y="249.9" width="88.9" height="9.9" rx="4.4" fill="#e8965c"/><rect x="-44" y="249.9" width="88.9" height="7.7" rx="3.9" fill="#a65f33"/><rect x="-44" y="304.3" width="88.9" height="9.9" rx="4.4" fill="#e8965c"/><rect x="-44" y="304.3" width="88.9" height="7.7" rx="3.9" fill="#a65f33"/><rect x="-44" y="358.7" width="88.9" height="9.9" rx="4.4" fill="#e8965c"/><rect x="-44" y="358.7" width="88.9" height="7.7" rx="3.9" fill="#a65f33"/><rect x="-44" y="413.1" width="88.9" height="9.9" rx="4.4" fill="#e8965c"/><rect x="-44" y="413.1" width="88.9" height="7.7" rx="3.9" fill="#a65f33"/><rect x="-44" y="467.5" width="88.9" height="9.9" rx="4.4" fill="#e8965c"/><rect x="-44" y="467.5" width="88.9" height="7.7" rx="3.9" fill="#a65f33"/><rect x="-44" y="521.8" width="88.9" height="9.9" rx="4.4" fill="#e8965c"/><rect x="-44" y="521.8" width="88.9" height="7.7" rx="3.9" fill="#a65f33"/><rect x="-58.1" y="0" width="17.6" height="564" rx="3.9" fill="#5a3a26"/><rect x="-46.8" y="5.3" width="5.3" height="555.2" rx="2.5" fill="#a65f33"/><rect x="40.5" y="0" width="17.6" height="564" rx="3.9" fill="#5a3a26"/><rect x="51.8" y="5.3" width="5.3" height="555.2" rx="2.5" fill="#a65f33"/></g>
<!-- snake s2 --><polygon points="1626.8,764.3 1619.4,764.6 1612.9,766.1 1606.8,768.1 1600.1,769.8 1594.6,773.3 1590.4,778.4 1586.7,783.7 1582.6,788.4 1579.5,793.6 1576.6,799 1572.8,803.4 1568.8,806.8 1565.1,809.1 1561.1,810.4 1556.4,811.2 1551.4,811.7 1546.3,811.7 1541.2,811.5 1536.2,810.7 1531,809.6 1525.1,808.2 1518.7,807 1511.4,806.1 1503.7,806.2 1495.9,807.5 1488.6,809.7 1481.5,812.9 1474.7,817.1 1468.3,822.8 1463.2,829.8 1459.7,837.3 1457.4,844.9 1456.1,852.6 1455.9,860.2 1456.4,867.4 1457.3,874 1458.3,880.4 1459.5,886.9 1461.2,893.4 1463,899.4 1464.7,904.8 1465.9,909.6 1466.7,914.3 1467.1,918.8 1467.1,922.4 1466.6,924.9 1465.3,927.1 1463.1,929.4 1460.4,931.8 1457.8,933.4 1455.4,934.2 1452.6,934.3 1448.9,933.8 1444.7,932.7 1440.3,931.2 1436.1,929.3 1431.9,926.9 1427.6,924.1 1423.3,921 1419.2,917.7 1415.3,914.3 1411.6,910.6 1407.7,906.3 1403.4,901.7 1398.9,897.1 1394.2,892.7 1389.5,888.4 1384.4,884 1378.5,879.5 1371.7,875.5 1364.5,872.3 1357,870 1349,868.5 1340.4,868.3 1331.7,869.6 1323.5,872.4 1315.9,876.3 1308.8,881.6 1302.7,888.2 1298.2,895.6 1294.9,903 1292.7,910.3 1291.1,917.5 1290.2,924.8 1289.8,932 1290,939 1290.4,945.8 1291.1,952.2 1292,958.6 1293,964.8 1294,971.1 1295.3,977.4 1296.7,983.7 1298.3,989.9 1299.9,995.9 1301.6,1002 1303.4,1008 1305.4,1014 1307.5,1020.1 1309.7,1025.9 1311.8,1031.7 1314,1037.2 1316.1,1042.8 1318.2,1048.4 1320.3,1054.1 1322.4,1059.7 1324.5,1065.3 1326.5,1070.8 1328.5,1076.4 1330.4,1082.1 1332.4,1087.8 1334.4,1093.3 1336.3,1098.8 1338,1104.1 1339.5,1109.4 1340.7,1114.8 1341.9,1120.2 1342.9,1125.7 1343.7,1131.1 1344.3,1136.4 1344.7,1141.6 1344.8,1146.7 1344.6,1151.8 1344.1,1156.7 1343.3,1161.1 1342.2,1164.9 1340.6,1168.3 1338.5,1171.5 1336,1174.4 1333.4,1176.7 1330.7,1178.4 1327.6,1179.5 1324.2,1180.2 1320.4,1180.4 1316.7,1180.1 1313,1179.3 1309.2,1177.8 1305.1,1175.7 1300.8,1173.2 1296.7,1170.4 1292.8,1167.4 1289.1,1164 1285.3,1160.1 1281.2,1155.9 1277.1,1151.6 1273,1147.3 1269.1,1143 1265.1,1138.6 1261.1,1134.1 1256.8,1129.5 1252.5,1124.8 1248,1120.4 1243.5,1116.1 1238.9,1111.7 1234,1107.3 1228.7,1102.9 1222.7,1098.8 1216.1,1095.2 1209.1,1092.2 1201.6,1090.1 1193.4,1089 1184.8,1089.5 1176.5,1091.6 1169,1095.2 1162.3,1099.8 1156.4,1105.6 1151.7,1112.1 1148.3,1119 1145.7,1125.8 1143.9,1132.6 1142.6,1139.5 1141.9,1146.5 1141.8,1153.4 1142.2,1160.1 1142.9,1166.6 1143.8,1173 1145,1179.3 1146.3,1185.6 1147.9,1191.8 1149.8,1197.9 1151.7,1203.8 1153.5,1209.6 1155.4,1215.3 1157.1,1221.2 1159.2,1227 1161.3,1232.7 1163.3,1238.1 1165.1,1243.3 1166.4,1248.5 1167.5,1254 1168.3,1259.5 1168.8,1265.1 1169,1270.6 1168.7,1276 1167.8,1281.3 1166.4,1286.5 1164.3,1291.5 1161.7,1296.3 1158.6,1300.8 1154.9,1304.9 1150.7,1308.6 1146.2,1312.1 1141.5,1315.4 1136.7,1318.7 1131.7,1321.7 1126.6,1324.6 1121.4,1327.3 1116,1329.8 1110.5,1332.2 1105,1334.5 1099.4,1336.6 1093.7,1338.5 1087.9,1340.1 1082.1,1341.6 1076.2,1343.1 1070.4,1344.5 1070.6,1345.4 1076.5,1344.2 1082.4,1343 1088.4,1342 1094.3,1341 1100.3,1339.8 1106.2,1338.4 1112.1,1336.9 1118,1335.4 1123.9,1333.6 1129.8,1331.6 1135.5,1329.2 1141.2,1326.5 1146.6,1323.5 1151.9,1320.1 1157.1,1316.4 1161.9,1312.1 1166.5,1307.4 1170.6,1302.3 1174.2,1296.8 1177.2,1290.9 1179.7,1284.7 1181.6,1278.3 1182.8,1271.8 1183.5,1265.2 1183.7,1258.7 1183.6,1252.3 1183.1,1245.8 1182.1,1239.2 1180.6,1232.8 1178.8,1226.8 1177,1221 1175.2,1215.4 1173.5,1209.8 1171.8,1204 1170.2,1198.2 1168.6,1192.6 1167.3,1187 1166.2,1181.6 1165.5,1176 1165,1170.4 1164.6,1164.7 1164.5,1159.2 1164.7,1153.9 1165.2,1148.8 1166.2,1143.8 1167.6,1139 1169.3,1134.3 1171.3,1129.9 1173.5,1126.2 1176,1123.1 1178.9,1120.6 1182.1,1118.6 1185.5,1117 1188.9,1116.2 1192.3,1116 1196,1116.6 1200,1117.8 1204.1,1119.6 1208,1121.9 1211.8,1124.8 1215.7,1128.2 1219.6,1132 1223.6,1136.1 1227.6,1140.3 1231.5,1144.5 1235.3,1148.8 1239,1153.2 1242.8,1157.9 1246.6,1162.6 1250.7,1167.3 1254.7,1172 1258.7,1176.6 1262.8,1181.2 1267.3,1186.1 1272.3,1190.9 1277.8,1195.5 1283.6,1199.6 1289.6,1203.4 1296.2,1206.9 1303.6,1209.8 1311.6,1211.7 1319.9,1212.4 1328.1,1212 1336.5,1210.3 1344.7,1207.2 1352.2,1202.6 1358.7,1197.1 1364.1,1190.8 1368.6,1184 1372.1,1176.5 1374.5,1168.9 1375.9,1161.4 1376.7,1154.3 1377,1147.3 1377,1140.4 1376.5,1133.6 1375.8,1126.9 1374.9,1120.4 1373.7,1114 1372.4,1107.7 1370.9,1101.3 1369.2,1095 1367.3,1088.8 1365.3,1082.8 1363.3,1077 1361.3,1071.3 1359.4,1065.6 1357.4,1059.8 1355.3,1054 1353.2,1048.3 1351.1,1042.7 1349,1037 1347,1031.3 1344.8,1025.6 1342.7,1019.9 1340.5,1014.4 1338.5,1008.9 1336.7,1003.6 1334.9,998.2 1333.3,992.6 1331.7,987.1 1330.2,981.5 1328.7,976 1327.5,970.5 1326.4,965 1325.4,959.4 1324.5,953.8 1323.7,948.2 1323,942.7 1322.6,937.4 1322.4,932.4 1322.6,927.6 1323.2,922.9 1324.1,918.4 1325.3,914.1 1326.8,910.5 1328.5,907.5 1330.5,905.3 1333,903.4 1336.1,901.7 1339.3,900.6 1342.4,900 1345.8,900.1 1349.6,900.8 1353.7,902 1357.5,903.6 1361.2,905.7 1364.9,908.4 1368.9,911.9 1373.1,915.7 1377.3,919.4 1381.2,923.3 1385.2,927.5 1389.5,932.1 1394.3,936.8 1399.6,941.4 1405,945.5 1410.4,949.4 1416.3,953.1 1422.6,956.6 1429.3,959.6 1436.4,961.9 1443.9,963.6 1452.2,964.5 1461.3,963.8 1470.3,960.8 1478,956.2 1484.4,950.7 1490.1,944 1494.6,935.7 1496.8,926.5 1497.1,918.1 1496.4,910.6 1495.3,903.4 1493.4,896.6 1491.4,890.5 1489.5,885.1 1488,879.9 1486.7,874.6 1485.5,869.2 1484.6,863.9 1483.9,859.1 1483.8,854.7 1484.2,850.5 1485.1,846.4 1486.4,842.9 1488.2,840.1 1490.7,837.7 1494,835.4 1497.8,833.5 1502,832.1 1506,831.2 1510.3,831.2 1515,831.7 1520.4,832.7 1526.3,833.9 1532.9,834.9 1539.9,835.4 1546.9,835.1 1553.8,834.4 1560.7,833.2 1567.8,831.2 1574.9,828.1 1581.3,823.8 1586.4,819.4 1591.7,815.8 1597.7,813.2 1603.3,810 1607.9,806.3 1613,803.5 1617.9,800.6 1621.6,796.4 1624.5,790.6 1627.8,785.2 1630.9,779.3 1632.9,772.2" fill="#98a6b5"/><clipPath id="c2"><polygon points="1626.8,764.3 1619.4,764.6 1612.9,766.1 1606.8,768.1 1600.1,769.8 1594.6,773.3 1590.4,778.4 1586.7,783.7 1582.6,788.4 1579.5,793.6 1576.6,799 1572.8,803.4 1568.8,806.8 1565.1,809.1 1561.1,810.4 1556.4,811.2 1551.4,811.7 1546.3,811.7 1541.2,811.5 1536.2,810.7 1531,809.6 1525.1,808.2 1518.7,807 1511.4,806.1 1503.7,806.2 1495.9,807.5 1488.6,809.7 1481.5,812.9 1474.7,817.1 1468.3,822.8 1463.2,829.8 1459.7,837.3 1457.4,844.9 1456.1,852.6 1455.9,860.2 1456.4,867.4 1457.3,874 1458.3,880.4 1459.5,886.9 1461.2,893.4 1463,899.4 1464.7,904.8 1465.9,909.6 1466.7,914.3 1467.1,918.8 1467.1,922.4 1466.6,924.9 1465.3,927.1 1463.1,929.4 1460.4,931.8 1457.8,933.4 1455.4,934.2 1452.6,934.3 1448.9,933.8 1444.7,932.7 1440.3,931.2 1436.1,929.3 1431.9,926.9 1427.6,924.1 1423.3,921 1419.2,917.7 1415.3,914.3 1411.6,910.6 1407.7,906.3 1403.4,901.7 1398.9,897.1 1394.2,892.7 1389.5,888.4 1384.4,884 1378.5,879.5 1371.7,875.5 1364.5,872.3 1357,870 1349,868.5 1340.4,868.3 1331.7,869.6 1323.5,872.4 1315.9,876.3 1308.8,881.6 1302.7,888.2 1298.2,895.6 1294.9,903 1292.7,910.3 1291.1,917.5 1290.2,924.8 1289.8,932 1290,939 1290.4,945.8 1291.1,952.2 1292,958.6 1293,964.8 1294,971.1 1295.3,977.4 1296.7,983.7 1298.3,989.9 1299.9,995.9 1301.6,1002 1303.4,1008 1305.4,1014 1307.5,1020.1 1309.7,1025.9 1311.8,1031.7 1314,1037.2 1316.1,1042.8 1318.2,1048.4 1320.3,1054.1 1322.4,1059.7 1324.5,1065.3 1326.5,1070.8 1328.5,1076.4 1330.4,1082.1 1332.4,1087.8 1334.4,1093.3 1336.3,1098.8 1338,1104.1 1339.5,1109.4 1340.7,1114.8 1341.9,1120.2 1342.9,1125.7 1343.7,1131.1 1344.3,1136.4 1344.7,1141.6 1344.8,1146.7 1344.6,1151.8 1344.1,1156.7 1343.3,1161.1 1342.2,1164.9 1340.6,1168.3 1338.5,1171.5 1336,1174.4 1333.4,1176.7 1330.7,1178.4 1327.6,1179.5 1324.2,1180.2 1320.4,1180.4 1316.7,1180.1 1313,1179.3 1309.2,1177.8 1305.1,1175.7 1300.8,1173.2 1296.7,1170.4 1292.8,1167.4 1289.1,1164 1285.3,1160.1 1281.2,1155.9 1277.1,1151.6 1273,1147.3 1269.1,1143 1265.1,1138.6 1261.1,1134.1 1256.8,1129.5 1252.5,1124.8 1248,1120.4 1243.5,1116.1 1238.9,1111.7 1234,1107.3 1228.7,1102.9 1222.7,1098.8 1216.1,1095.2 1209.1,1092.2 1201.6,1090.1 1193.4,1089 1184.8,1089.5 1176.5,1091.6 1169,1095.2 1162.3,1099.8 1156.4,1105.6 1151.7,1112.1 1148.3,1119 1145.7,1125.8 1143.9,1132.6 1142.6,1139.5 1141.9,1146.5 1141.8,1153.4 1142.2,1160.1 1142.9,1166.6 1143.8,1173 1145,1179.3 1146.3,1185.6 1147.9,1191.8 1149.8,1197.9 1151.7,1203.8 1153.5,1209.6 1155.4,1215.3 1157.1,1221.2 1159.2,1227 1161.3,1232.7 1163.3,1238.1 1165.1,1243.3 1166.4,1248.5 1167.5,1254 1168.3,1259.5 1168.8,1265.1 1169,1270.6 1168.7,1276 1167.8,1281.3 1166.4,1286.5 1164.3,1291.5 1161.7,1296.3 1158.6,1300.8 1154.9,1304.9 1150.7,1308.6 1146.2,1312.1 1141.5,1315.4 1136.7,1318.7 1131.7,1321.7 1126.6,1324.6 1121.4,1327.3 1116,1329.8 1110.5,1332.2 1105,1334.5 1099.4,1336.6 1093.7,1338.5 1087.9,1340.1 1082.1,1341.6 1076.2,1343.1 1070.4,1344.5 1070.6,1345.4 1076.5,1344.2 1082.4,1343 1088.4,1342 1094.3,1341 1100.3,1339.8 1106.2,1338.4 1112.1,1336.9 1118,1335.4 1123.9,1333.6 1129.8,1331.6 1135.5,1329.2 1141.2,1326.5 1146.6,1323.5 1151.9,1320.1 1157.1,1316.4 1161.9,1312.1 1166.5,1307.4 1170.6,1302.3 1174.2,1296.8 1177.2,1290.9 1179.7,1284.7 1181.6,1278.3 1182.8,1271.8 1183.5,1265.2 1183.7,1258.7 1183.6,1252.3 1183.1,1245.8 1182.1,1239.2 1180.6,1232.8 1178.8,1226.8 1177,1221 1175.2,1215.4 1173.5,1209.8 1171.8,1204 1170.2,1198.2 1168.6,1192.6 1167.3,1187 1166.2,1181.6 1165.5,1176 1165,1170.4 1164.6,1164.7 1164.5,1159.2 1164.7,1153.9 1165.2,1148.8 1166.2,1143.8 1167.6,1139 1169.3,1134.3 1171.3,1129.9 1173.5,1126.2 1176,1123.1 1178.9,1120.6 1182.1,1118.6 1185.5,1117 1188.9,1116.2 1192.3,1116 1196,1116.6 1200,1117.8 1204.1,1119.6 1208,1121.9 1211.8,1124.8 1215.7,1128.2 1219.6,1132 1223.6,1136.1 1227.6,1140.3 1231.5,1144.5 1235.3,1148.8 1239,1153.2 1242.8,1157.9 1246.6,1162.6 1250.7,1167.3 1254.7,1172 1258.7,1176.6 1262.8,1181.2 1267.3,1186.1 1272.3,1190.9 1277.8,1195.5 1283.6,1199.6 1289.6,1203.4 1296.2,1206.9 1303.6,1209.8 1311.6,1211.7 1319.9,1212.4 1328.1,1212 1336.5,1210.3 1344.7,1207.2 1352.2,1202.6 1358.7,1197.1 1364.1,1190.8 1368.6,1184 1372.1,1176.5 1374.5,1168.9 1375.9,1161.4 1376.7,1154.3 1377,1147.3 1377,1140.4 1376.5,1133.6 1375.8,1126.9 1374.9,1120.4 1373.7,1114 1372.4,1107.7 1370.9,1101.3 1369.2,1095 1367.3,1088.8 1365.3,1082.8 1363.3,1077 1361.3,1071.3 1359.4,1065.6 1357.4,1059.8 1355.3,1054 1353.2,1048.3 1351.1,1042.7 1349,1037 1347,1031.3 1344.8,1025.6 1342.7,1019.9 1340.5,1014.4 1338.5,1008.9 1336.7,1003.6 1334.9,998.2 1333.3,992.6 1331.7,987.1 1330.2,981.5 1328.7,976 1327.5,970.5 1326.4,965 1325.4,959.4 1324.5,953.8 1323.7,948.2 1323,942.7 1322.6,937.4 1322.4,932.4 1322.6,927.6 1323.2,922.9 1324.1,918.4 1325.3,914.1 1326.8,910.5 1328.5,907.5 1330.5,905.3 1333,903.4 1336.1,901.7 1339.3,900.6 1342.4,900 1345.8,900.1 1349.6,900.8 1353.7,902 1357.5,903.6 1361.2,905.7 1364.9,908.4 1368.9,911.9 1373.1,915.7 1377.3,919.4 1381.2,923.3 1385.2,927.5 1389.5,932.1 1394.3,936.8 1399.6,941.4 1405,945.5 1410.4,949.4 1416.3,953.1 1422.6,956.6 1429.3,959.6 1436.4,961.9 1443.9,963.6 1452.2,964.5 1461.3,963.8 1470.3,960.8 1478,956.2 1484.4,950.7 1490.1,944 1494.6,935.7 1496.8,926.5 1497.1,918.1 1496.4,910.6 1495.3,903.4 1493.4,896.6 1491.4,890.5 1489.5,885.1 1488,879.9 1486.7,874.6 1485.5,869.2 1484.6,863.9 1483.9,859.1 1483.8,854.7 1484.2,850.5 1485.1,846.4 1486.4,842.9 1488.2,840.1 1490.7,837.7 1494,835.4 1497.8,833.5 1502,832.1 1506,831.2 1510.3,831.2 1515,831.7 1520.4,832.7 1526.3,833.9 1532.9,834.9 1539.9,835.4 1546.9,835.1 1553.8,834.4 1560.7,833.2 1567.8,831.2 1574.9,828.1 1581.3,823.8 1586.4,819.4 1591.7,815.8 1597.7,813.2 1603.3,810 1607.9,806.3 1613,803.5 1617.9,800.6 1621.6,796.4 1624.5,790.6 1627.8,785.2 1630.9,779.3 1632.9,772.2"/></clipPath><g clip-path="url(#c2)"><polygon points="1628,765.9 1621.7,767.6 1615.9,769.9 1610.3,772.6 1604.4,775.2 1599.3,778.7 1594.9,783.4 1590.9,788.2 1586.8,792.7 1583.1,797.5 1579.7,802.4 1575.5,806.6 1571.3,810.2 1567,812.9 1562.4,814.6 1557.3,815.6 1551.9,816.2 1546.4,816.4 1541,816.2 1535.6,815.5 1530,814.4 1524.2,813.1 1517.9,811.9 1511.2,811.1 1504.1,811.2 1497.1,812.4 1490.4,814.5 1484,817.4 1477.9,821.2 1472.3,826.3 1467.8,832.4 1464.8,839.1 1462.8,846 1461.7,853 1461.5,860 1462,866.7 1462.9,873 1464,879.2 1465.2,885.5 1466.9,891.7 1468.7,897.6 1470.4,903.2 1471.8,908.4 1472.6,913.6 1473.1,918.7 1473,923.2 1472.2,927.1 1470.2,930.4 1467.4,933.7 1463.9,936.7 1460.3,938.9 1456.6,940.1 1452.5,940.3 1447.9,939.7 1443,938.6 1438.1,936.9 1433.4,934.8 1428.8,932.2 1424.2,929.2 1419.6,925.9 1415.2,922.5 1411.1,918.8 1407.2,914.9 1403.2,910.6 1399,906 1394.5,901.6 1390,897.3 1385.4,893.1 1380.5,888.9 1375,884.7 1368.9,881.1 1362.3,878.3 1355.5,876.2 1348.4,874.9 1340.8,874.6 1333.2,875.8 1326,878.2 1319.3,881.7 1313.1,886.3 1307.9,892.1 1303.9,898.5 1301,905.2 1299,911.9 1297.5,918.6 1296.7,925.3 1296.3,932.1 1296.5,938.7 1296.9,945.1 1297.6,951.4 1298.5,957.6 1299.4,963.7 1300.5,969.9 1301.7,976.1 1303.1,982.2 1304.6,988.2 1306.3,994.2 1308,1000.1 1309.7,1006 1311.6,1012 1313.7,1017.8 1315.8,1023.6 1318,1029.3 1320.2,1034.9 1322.3,1040.5 1324.3,1046.1 1326.4,1051.8 1328.5,1057.4 1330.6,1063 1332.7,1068.6 1334.7,1074.3 1336.6,1079.9 1338.6,1085.6 1340.6,1091.2 1342.5,1096.8 1344.2,1102.3 1345.8,1107.8 1347.1,1113.3 1348.3,1119 1349.3,1124.6 1350.2,1130.3 1350.8,1135.8 1351.2,1141.4 1351.2,1146.9 1351,1152.3 1350.5,1157.6 1349.6,1162.6 1348.1,1167.2 1346.2,1171.5 1343.6,1175.4 1340.6,1179 1337.2,1181.9 1333.5,1184.2 1329.4,1185.7 1325,1186.6 1320.3,1186.8 1315.7,1186.4 1311.1,1185.4 1306.6,1183.6 1302,1181.3 1297.4,1178.5 1292.9,1175.4 1288.7,1172.1 1284.7,1168.4 1280.8,1164.4 1276.7,1160 1272.6,1155.7 1268.6,1151.3 1264.6,1146.9 1260.7,1142.5 1256.6,1137.9 1252.5,1133.3 1248.3,1128.8 1243.9,1124.4 1239.5,1120.1 1235.1,1115.8 1230.4,1111.5 1225.3,1107.3 1219.8,1103.4 1213.7,1100.1 1207.3,1097.4 1200.5,1095.4 1193.2,1094.4 1185.6,1094.8 1178.3,1096.7 1171.7,1099.8 1165.6,1104 1160.3,1109.1 1156.1,1114.9 1152.9,1121.2 1150.4,1127.5 1148.6,1133.9 1147.3,1140.4 1146.6,1146.9 1146.4,1153.5 1146.6,1159.9 1147.2,1166.2 1148.1,1172.4 1149.1,1178.6 1150.3,1184.8 1151.8,1190.9 1153.5,1196.9 1155.4,1202.7 1157.2,1208.5 1159,1214.2 1160.8,1220 1162.7,1225.8 1164.8,1231.5 1166.8,1237 1168.5,1242.5 1169.8,1248 1170.7,1253.6 1171.4,1259.4 1171.8,1265.1 1171.8,1270.8 1171.3,1276.4 1170.2,1282 1168.5,1287.4 1166.3,1292.6 1163.5,1297.5 1160.1,1302.1 1156.3,1306.4 1152,1310.2 1147.4,1313.7 1142.5,1317 1137.6,1320.2 1132.5,1323.2 1127.3,1326 1121.9,1328.5 1116.4,1330.9 1110.9,1333.2 1105.2,1335.3 1099.6,1337.2 1093.8,1339 1088,1340.5 1082.2,1341.9 1076.3,1343.3 1070.4,1344.6 1070.5,1345.2 1076.4,1343.9 1082.3,1342.7 1088.3,1341.5 1094.2,1340.3 1100.1,1339 1105.9,1337.4 1111.7,1335.8 1117.5,1334 1123.3,1332 1129,1329.8 1134.6,1327.3 1140,1324.5 1145.3,1321.5 1150.5,1318.1 1155.5,1314.4 1160.2,1310.3 1164.5,1305.8 1168.4,1300.8 1171.7,1295.4 1174.5,1289.8 1176.7,1283.9 1178.4,1277.7 1179.4,1271.5 1179.9,1265.2 1179.9,1258.9 1179.6,1252.7 1178.9,1246.5 1177.9,1240.2 1176.3,1234.1 1174.5,1228.3 1172.5,1222.5 1170.7,1216.9 1169,1211.2 1167.3,1205.4 1165.5,1199.6 1163.9,1193.9 1162.4,1188.2 1161.2,1182.6 1160.4,1176.8 1159.7,1171 1159.2,1165.2 1158.9,1159.4 1159,1153.8 1159.4,1148.2 1160.3,1142.7 1161.7,1137.4 1163.4,1132.1 1165.5,1127.2 1168.1,1122.7 1171.1,1118.7 1174.7,1115.4 1178.9,1112.7 1183.3,1110.7 1187.9,1109.5 1192.6,1109.3 1197.4,1110 1202.3,1111.4 1207.1,1113.5 1211.7,1116.1 1216,1119.3 1220.3,1122.9 1224.4,1126.9 1228.6,1131.1 1232.7,1135.3 1236.8,1139.6 1240.7,1144 1244.5,1148.4 1248.4,1153 1252.3,1157.7 1256.3,1162.3 1260.3,1166.9 1264.4,1171.4 1268.4,1175.9 1272.8,1180.5 1277.5,1185.1 1282.5,1189.2 1287.9,1193 1293.5,1196.5 1299.4,1199.6 1305.9,1202.1 1312.9,1203.8 1320,1204.4 1327.1,1204 1334.3,1202.6 1341.2,1200 1347.5,1196.2 1353,1191.4 1357.7,1186 1361.6,1180.1 1364.6,1173.6 1366.7,1166.9 1368,1160.2 1368.7,1153.7 1368.9,1147.2 1368.9,1140.7 1368.5,1134.3 1367.8,1128 1366.9,1121.7 1365.8,1115.6 1364.5,1109.4 1363.1,1103.3 1361.4,1097.3 1359.5,1091.3 1357.6,1085.5 1355.6,1079.7 1353.6,1074 1351.7,1068.3 1349.6,1062.6 1347.6,1056.8 1345.5,1051.2 1343.4,1045.5 1341.3,1039.9 1339.2,1034.2 1337.1,1028.5 1334.9,1022.8 1332.8,1017.3 1330.8,1011.7 1328.9,1006.2 1327.1,1000.6 1325.4,995 1323.7,989.3 1322.2,983.6 1320.7,977.9 1319.4,972.2 1318.3,966.6 1317.3,960.8 1316.3,955 1315.5,949.2 1314.9,943.5 1314.4,937.8 1314.2,932.3 1314.5,926.9 1315.2,921.6 1316.3,916.3 1317.7,911.3 1319.7,906.7 1322,902.7 1325.1,899.4 1328.7,896.6 1332.9,894.4 1337.4,892.8 1341.9,892.1 1346.6,892.2 1351.5,893.1 1356.4,894.6 1361.1,896.5 1365.5,899.1 1369.7,902.3 1374,906 1378.4,909.9 1382.7,913.9 1386.8,917.9 1390.8,922.2 1395,926.7 1399.6,931.2 1404.5,935.5 1409.5,939.4 1414.7,943.1 1420.2,946.6 1426,949.8 1432.1,952.5 1438.5,954.6 1445.1,956.2 1452.3,956.9 1459.8,956.4 1467.2,954 1473.6,950.1 1479.1,945.4 1483.9,939.8 1487.6,933 1489.4,925.5 1489.6,918.3 1489,911.5 1487.9,905 1486.2,898.6 1484.3,892.7 1482.4,887.2 1480.9,881.7 1479.6,876.1 1478.5,870.4 1477.5,864.8 1476.9,859.4 1476.9,854.2 1477.5,849.1 1478.8,844.2 1480.6,839.6 1483.2,835.8 1486.7,832.5 1490.8,829.8 1495.5,827.6 1500.4,826 1505.4,825 1510.6,824.9 1515.9,825.6 1521.6,826.6 1527.5,827.8 1533.8,828.8 1540.2,829.4 1546.8,829.3 1553.2,828.8 1559.6,827.7 1566.1,826 1572.5,823.3 1578.2,819.6 1583,815.4 1587.9,811.6 1593.2,808.3 1598.1,804.6 1602.6,800.7 1607.4,797.2 1612.1,793.8 1616.3,789.7 1620,785 1624.1,780.4 1628,775.6 1631.4,770.2" fill="#c6ced6"/><path d="M1562.6 817.2Q1559.8 816.5 1560.9 814.3Q1561.9 812 1563.9 811Q1565.8 809.9 1568.1 808.2Q1570.4 806.5 1571.6 808.5Q1572.9 810.4 1573.6 812.2Q1574.4 814 1572.6 816.7Q1570.8 819.4 1568.1 818.7Q1565.4 818 1562.6 817.2Z" fill="#243f88"/><path d="M1549.3 829.8Q1545.9 828.5 1547.6 826.2Q1549.3 823.8 1553.4 823.5Q1557.4 823.2 1561.7 821.6Q1566.1 820 1566.9 822.4Q1567.6 824.7 1566.8 826.8Q1566 828.9 1562.6 831.6Q1559.2 834.3 1556 832.6Q1552.8 831 1549.3 829.8Z" fill="#243f88"/><path d="M1544 815.1Q1543 813.9 1544 812.9Q1544.9 811.8 1546.9 811.8Q1548.8 811.8 1549.9 812.9Q1550.9 814 1550 815.1Q1549.1 816.2 1547 816.3Q1545 816.3 1544 815.1Z" fill="#3c50a4"/><path d="M1535 819.9Q1534.2 817.4 1536.1 815.7Q1537.9 814 1541 812.9Q1544 811.7 1547.1 813.1Q1550.1 814.5 1552.1 816.2Q1554.1 818 1553 820.2Q1552 822.5 1548 823Q1543.9 823.6 1539.9 823Q1535.8 822.4 1535 819.9Z" fill="#243f88"/><path d="M1520.8 829.2Q1520.1 826.4 1523.1 825.4Q1526.1 824.5 1528.9 822.4Q1531.6 820.3 1534 823Q1536.3 825.7 1537.8 827.6Q1539.2 829.4 1539.1 832.2Q1539 834.9 1534.2 833.7Q1529.5 832.4 1525.5 832.2Q1521.5 832 1520.8 829.2Z" fill="#243f88"/><path d="M1506.9 814.5Q1504.7 812.3 1507.2 810.1Q1509.6 807.9 1514.8 807.5Q1520 807 1524.4 808.9Q1528.7 810.9 1530 813.4Q1531.2 815.9 1529.3 817.8Q1527.4 819.7 1522.7 819.5Q1518.1 819.3 1513.6 818Q1509.1 816.6 1506.9 814.5Z" fill="#243f88"/><path d="M1505.5 830Q1504.5 829 1505.3 827.6Q1506.2 826.3 1508.2 826.3Q1510.3 826.3 1511.2 827.5Q1512.2 828.8 1511.1 829.9Q1510.1 831 1508.3 831Q1506.5 831 1505.5 830Z" fill="#3c50a4"/><path d="M1498.3 828.6Q1497.7 826.3 1495.6 823.9Q1493.5 821.4 1498.9 820.5Q1504.3 819.5 1508.2 820Q1512 820.4 1515.1 823Q1518.3 825.5 1514 826.4Q1509.7 827.4 1507.7 829.7Q1505.7 832.1 1502.3 831.5Q1498.9 830.9 1498.3 828.6Z" fill="#243f88"/><path d="M1477.4 825.9Q1475.4 824.3 1473.6 822.3Q1471.9 820.3 1476.7 816.5Q1481.5 812.7 1486.1 811.8Q1490.6 810.9 1494.6 811.9Q1498.6 812.9 1495.7 815.7Q1492.8 818.5 1490.3 821.3Q1487.7 824 1483.6 825.8Q1479.4 827.5 1477.4 825.9Z" fill="#243f88"/><path d="M1478.6 849.6Q1476 853 1474.8 848.6Q1473.5 844.1 1473.9 840Q1474.2 835.8 1478.3 831.7Q1482.4 827.7 1483.7 830.2Q1485 832.7 1487 834.5Q1489 836.3 1487.4 839.4Q1485.8 842.4 1483.4 844.3Q1481.1 846.2 1478.6 849.6Z" fill="#243f88"/><path d="M1461 847.8Q1459.4 849.2 1458.4 847.3Q1457.4 845.4 1458.4 842.1Q1459.3 838.8 1461.1 837.6Q1462.9 836.4 1463.6 838.4Q1464.2 840.4 1463.4 843.4Q1462.6 846.5 1461 847.8Z" fill="#3c50a4"/><path d="M1465.6 860.6Q1464 864.9 1461.5 861.3Q1459.1 857.7 1458.6 853.4Q1458.1 849.2 1459.6 843.3Q1461.1 837.4 1463.6 839.4Q1466.1 841.4 1468.7 842Q1471.3 842.6 1471.5 846.8Q1471.8 851.1 1469.5 853.7Q1467.1 856.3 1465.6 860.6Z" fill="#243f88"/><path d="M1483.4 874.3Q1480.7 875.4 1478 874.8Q1475.3 874.2 1473.2 870.5Q1471.2 866.9 1472.5 863.3Q1473.7 859.8 1475.8 857.5Q1477.9 855.1 1480.4 856.9Q1482.9 858.6 1484.1 861.8Q1485.3 864.9 1485.7 869Q1486.1 873.1 1483.4 874.3Z" fill="#243f88"/><path d="M1472.9 896.7Q1469.4 897.3 1466.7 896.5Q1464.1 895.8 1460.5 892.3Q1456.9 888.9 1459.2 884.9Q1461.6 881 1462.5 876.4Q1463.5 871.7 1466.6 873.4Q1469.8 875.2 1470.5 880.2Q1471.1 885.3 1473.7 890.7Q1476.3 896.1 1472.9 896.7Z" fill="#243f88"/><path d="M1491 894.4Q1490.2 896.3 1488.3 895.2Q1486.5 894.2 1485.6 891.4Q1484.6 888.7 1485.5 887Q1486.5 885.3 1488.2 886.1Q1490 887 1491 889.8Q1491.9 892.5 1491 894.4Z" fill="#3c50a4"/><path d="M1490.5 910.1Q1488.1 912.3 1485.3 910.8Q1482.5 909.4 1480.4 905.9Q1478.3 902.3 1478.3 898.3Q1478.3 894.2 1480.2 891.8Q1482.1 889.4 1485.1 890.1Q1488.2 890.8 1490.4 894.6Q1492.7 898.4 1492.8 903.2Q1493 908 1490.5 910.1Z" fill="#243f88"/><path d="M1475.3 926.5Q1472.8 927.4 1469.6 926.2Q1466.4 924.9 1467.5 921.9Q1468.7 919 1467.7 914.8Q1466.6 910.7 1469.3 908.6Q1472 906.5 1474.5 909.6Q1477 912.8 1480.3 915.7Q1483.7 918.7 1480.8 922.2Q1477.9 925.6 1475.3 926.5Z" fill="#243f88"/><path d="M1477.3 951.2Q1474.2 950.3 1472.8 947.5Q1471.4 944.7 1475.3 940.4Q1479.2 936.2 1481.7 931.7Q1484.2 927.2 1487.2 924.6Q1490.2 922.1 1491.7 927Q1493.2 932 1492.4 938.3Q1491.6 944.6 1486 948.3Q1480.3 952.1 1477.3 951.2Z" fill="#243f88"/><path d="M1461.8 936.2Q1460.3 935.5 1460.2 933.8Q1460.2 932.1 1461.5 931Q1462.9 929.8 1464.6 930.2Q1466.3 930.5 1466.6 932.2Q1466.9 934 1465.2 935.4Q1463.4 936.9 1461.8 936.2Z" fill="#3c50a4"/><path d="M1452 943Q1448.9 940.2 1452.2 938.4Q1455.5 936.6 1456.3 933.9Q1457.2 931.2 1460.3 930.7Q1463.5 930.2 1465.6 932Q1467.7 933.8 1470.6 935.7Q1473.4 937.6 1468.6 941.1Q1463.8 944.7 1459.5 945.2Q1455.2 945.7 1452 943Z" fill="#243f88"/><path d="M1432.3 955.4Q1428.1 951.4 1434 951.4Q1439.9 951.4 1444 950.2Q1448.1 949 1453.8 949.9Q1459.4 950.7 1459.4 953.9Q1459.3 957.1 1461.5 959.9Q1463.7 962.8 1454.9 963.4Q1446.1 964 1441.3 961.6Q1436.5 959.3 1432.3 955.4Z" fill="#243f88"/><path d="M1423.1 932.7Q1424.4 930 1426.4 927.8Q1428.5 925.7 1432.3 926.9Q1436.1 928.1 1438.4 930.7Q1440.6 933.2 1442.3 936.3Q1444.1 939.4 1440.7 940.9Q1437.4 942.4 1433.3 942.1Q1429.3 941.7 1425.6 938.6Q1421.9 935.5 1423.1 932.7Z" fill="#243f88"/><path d="M1408.6 946.1Q1408.1 944 1410.2 943.8Q1412.4 943.5 1415.1 945.3Q1417.8 947.1 1418.5 949.2Q1419.2 951.3 1417 951.7Q1414.7 952 1411.9 950.2Q1409.1 948.3 1408.6 946.1Z" fill="#3c50a4"/><path d="M1396.1 931.6Q1399.8 930.3 1401.5 927.6Q1403.1 925 1407.8 927.3Q1412.6 929.6 1413.6 933.5Q1414.5 937.5 1418.3 942.1Q1422.1 946.7 1416.8 946.2Q1411.4 945.6 1407.3 943.6Q1403.1 941.6 1397.7 937.3Q1392.3 933 1396.1 931.6Z" fill="#243f88"/><path d="M1392 906.3Q1392.7 903 1396 902.4Q1399.3 901.8 1403.6 904.6Q1407.8 907.4 1409.9 911.4Q1412 915.5 1411.6 918.8Q1411.2 922.1 1407.9 922.7Q1404.6 923.4 1400.6 920.7Q1396.5 918 1394 913.8Q1391.4 909.5 1392 906.3Z" fill="#243f88"/><path d="M1369.9 906.1Q1367.8 901.8 1371.6 900.9Q1375.4 900 1379.4 904.2Q1383.5 908.4 1388.9 912.6Q1394.4 916.7 1391.5 918.9Q1388.5 921 1385.6 921.4Q1382.7 921.8 1377.7 920.8Q1372.8 919.8 1372.5 915.1Q1372.1 910.5 1369.9 906.1Z" fill="#243f88"/><path d="M1381.7 887.8Q1381.4 885.5 1383.6 885.5Q1385.9 885.4 1388.4 887.6Q1390.8 889.8 1391 892Q1391.1 894.1 1389 894.2Q1386.8 894.2 1384.5 892.1Q1382.1 890 1381.7 887.8Z" fill="#3c50a4"/><path d="M1365.3 882.3Q1363.7 878.9 1366.6 876.8Q1369.4 874.6 1375 877.7Q1380.6 880.7 1385 884.6Q1389.4 888.4 1388.2 891.6Q1387.1 894.8 1383.8 895.1Q1380.4 895.4 1376 894.5Q1371.5 893.5 1369.2 889.6Q1366.9 885.6 1365.3 882.3Z" fill="#243f88"/><path d="M1341.7 895.9Q1340.2 892.9 1343.2 890.7Q1346.1 888.5 1350.2 886.3Q1354.2 884.2 1357.4 887.9Q1360.5 891.6 1361.2 894.6Q1361.9 897.6 1360 900.5Q1358.1 903.4 1354.2 901.5Q1350.4 899.5 1346.8 899.2Q1343.2 899 1341.7 895.9Z" fill="#243f88"/><path d="M1318.4 886.4Q1313.4 886.4 1317.9 881Q1322.4 875.5 1327 871Q1331.5 866.4 1339.5 868Q1347.5 869.5 1348.8 872.4Q1350.1 875.3 1350.2 878.9Q1350.2 882.6 1342.7 882.2Q1335.1 881.9 1329.2 884.1Q1323.3 886.4 1318.4 886.4Z" fill="#243f88"/><path d="M1331 902.7Q1329.5 901.9 1329.4 900.1Q1329.3 898.3 1331.3 897.2Q1333.2 896.2 1334.7 897.2Q1336.3 898.2 1336 900Q1335.7 901.8 1334.2 902.6Q1332.6 903.4 1331 902.7Z" fill="#3c50a4"/><path d="M1324 906.7Q1321.2 905.6 1318.6 903.7Q1316 901.7 1318.3 898.1Q1320.7 894.5 1324.2 893.2Q1327.7 891.8 1330.7 893.4Q1333.7 895 1333 898Q1332.3 901.1 1331.9 903.7Q1331.5 906.4 1329.1 907.1Q1326.7 907.8 1324 906.7Z" fill="#243f88"/><path d="M1301.5 920.6Q1298.4 918.7 1294.4 920.4Q1290.3 922.2 1292.3 913.4Q1294.2 904.6 1297.9 899.6Q1301.6 894.5 1308.5 889.9Q1315.5 885.4 1312 892.8Q1308.5 900.2 1309 905Q1309.6 909.8 1307.1 916.1Q1304.6 922.5 1301.5 920.6Z" fill="#243f88"/><path d="M1317.1 939.9Q1314.3 941.7 1311.3 940.2Q1308.3 938.6 1307 934.1Q1305.8 929.5 1307.4 925.2Q1309.1 920.9 1312.2 919.6Q1315.4 918.3 1317.9 920.5Q1320.4 922.7 1321.2 926.5Q1322.1 930.3 1321 934.2Q1319.9 938 1317.1 939.9Z" fill="#243f88"/><path d="M1295.2 945.1Q1293.8 946.9 1292.1 945.4Q1290.4 943.9 1290.2 940.5Q1290 937.1 1291.5 935.4Q1293.1 933.6 1294.6 935.2Q1296.2 936.9 1296.4 940.1Q1296.6 943.4 1295.2 945.1Z" fill="#3c50a4"/><path d="M1304 961.4Q1303 967.3 1299.7 963.1Q1296.4 959 1294.9 954.7Q1293.4 950.5 1292.5 943.7Q1291.6 936.9 1295.5 938.5Q1299.4 940.1 1302.6 939.3Q1305.7 938.5 1307.7 943.5Q1309.7 948.6 1307.4 952.1Q1305.1 955.6 1304 961.4Z" fill="#243f88"/><path d="M1321.1 972.9Q1319.4 976.1 1316 974.6Q1312.7 973.1 1311.2 969.3Q1309.7 965.5 1309.3 960.9Q1308.8 956.3 1312.1 955.4Q1315.3 954.5 1318.4 955.1Q1321.4 955.7 1323.6 959.2Q1325.9 962.6 1324.4 966.1Q1322.9 969.7 1321.1 972.9Z" fill="#243f88"/><path d="M1313.3 996.4Q1309.8 997.4 1306.9 996.6Q1303.9 995.8 1300.4 992.6Q1296.9 989.3 1299 985.3Q1301 981.3 1302.4 977.2Q1303.7 973.1 1307.3 974.5Q1310.8 975.8 1311.9 980.5Q1312.9 985.2 1314.8 990.3Q1316.8 995.3 1313.3 996.4Z" fill="#243f88"/><path d="M1332.1 994.6Q1331 996.5 1329.1 995.5Q1327.1 994.6 1326.3 991.7Q1325.5 988.9 1326.6 987.1Q1327.8 985.3 1329.7 986.3Q1331.6 987.2 1332.4 990Q1333.2 992.8 1332.1 994.6Z" fill="#3c50a4"/><path d="M1334.7 1007.7Q1331.7 1009.5 1328.7 1008.2Q1325.7 1006.8 1321.9 1004.6Q1318.2 1002.4 1320.1 998.5Q1322 994.6 1323.6 991.5Q1325.1 988.4 1328.7 988.4Q1332.3 988.5 1333.1 993Q1334 997.5 1335.9 1001.7Q1337.8 1005.9 1334.7 1007.7Z" fill="#243f88"/><path d="M1323.6 1033.1Q1321.9 1036.3 1318.4 1036.3Q1314.9 1036.4 1312.5 1030.6Q1310 1024.9 1308.3 1019Q1306.7 1013.1 1308.9 1010Q1311.2 1006.9 1314.7 1009.3Q1318.1 1011.7 1321.8 1015.4Q1325.5 1019.2 1325.4 1024.6Q1325.3 1030 1323.6 1033.1Z" fill="#243f88"/><path d="M1346.8 1042.4Q1344.5 1044.1 1341.2 1046.3Q1337.8 1048.5 1336.7 1042.7Q1335.5 1036.9 1333.8 1032.6Q1332.1 1028.3 1334 1024.5Q1335.8 1020.8 1339.2 1024.4Q1342.7 1028 1346.8 1029.6Q1350.9 1031.1 1350 1035.9Q1349.1 1040.7 1346.8 1042.4Z" fill="#243f88"/><path d="M1326.1 1055.8Q1325.2 1057.8 1323.2 1056.9Q1321.2 1056 1320.1 1053.2Q1319.1 1050.4 1320 1048.5Q1321 1046.5 1323 1047.4Q1324.9 1048.2 1326 1051.1Q1327 1053.9 1326.1 1055.8Z" fill="#3c50a4"/><path d="M1337.8 1069.2Q1335.9 1072.3 1332.4 1071.2Q1328.9 1070 1325.9 1065.4Q1322.9 1060.8 1322.1 1055.3Q1321.4 1049.7 1323.3 1046.6Q1325.3 1043.5 1328.8 1044.6Q1332.3 1045.7 1335.3 1050.4Q1338.3 1055.1 1339.1 1060.6Q1339.8 1066.2 1337.8 1069.2Z" fill="#243f88"/><path d="M1358.1 1082.3Q1357.4 1087.3 1353.8 1083.3Q1350.2 1079.3 1347 1077.2Q1343.8 1075.2 1343.1 1070.2Q1342.4 1065.2 1346 1065Q1349.6 1064.8 1352.6 1062.1Q1355.6 1059.5 1357.5 1064.6Q1359.3 1069.8 1359.1 1073.5Q1358.9 1077.3 1358.1 1082.3Z" fill="#243f88"/><path d="M1349.5 1103.6Q1347.9 1107.6 1344.5 1105.2Q1341.2 1102.8 1338.6 1099.3Q1336 1095.9 1335 1090.7Q1334.1 1085.5 1337 1084.1Q1339.9 1082.6 1343 1082.1Q1346.2 1081.6 1348.8 1086.1Q1351.5 1090.7 1351.2 1095.2Q1351 1099.6 1349.5 1103.6Z" fill="#243f88"/><path d="M1369.1 1101.1Q1368 1103.1 1366.1 1101.9Q1364.2 1100.8 1363.4 1097.7Q1362.5 1094.7 1363.5 1092.7Q1364.5 1090.8 1366.5 1091.8Q1368.4 1092.9 1369.3 1096Q1370.2 1099.1 1369.1 1101.1Z" fill="#3c50a4"/><path d="M1369.1 1115.9Q1365.4 1115.8 1362.3 1116.5Q1359.3 1117.1 1357 1113.3Q1354.7 1109.5 1356.4 1106.1Q1358 1102.7 1358.9 1098.1Q1359.8 1093.6 1363.3 1096.2Q1366.8 1098.8 1368.7 1102.2Q1370.5 1105.7 1371.6 1110.9Q1372.8 1116 1369.1 1115.9Z" fill="#243f88"/><path d="M1356.4 1138.9Q1352.7 1138.6 1349.9 1138.1Q1347 1137.5 1344.5 1133.5Q1342 1129.4 1344.1 1125.7Q1346.3 1122 1347.5 1117.3Q1348.7 1112.6 1352.2 1115.1Q1355.6 1117.6 1356.8 1122.3Q1358 1127.1 1359 1133.2Q1360 1139.3 1356.4 1138.9Z" fill="#243f88"/><path d="M1371.3 1160.4Q1368.3 1163.6 1365.7 1160.9Q1363.1 1158.1 1363 1152.9Q1363 1147.6 1363 1142Q1363 1136.4 1366.2 1135.2Q1369.4 1134.1 1372.2 1135.9Q1375.1 1137.7 1377.1 1142.9Q1379.1 1148 1376.6 1152.6Q1374.2 1157.2 1371.3 1160.4Z" fill="#243f88"/><path d="M1348.4 1159.8Q1346.7 1160.7 1345.4 1159.3Q1344.1 1157.9 1344.4 1155.5Q1344.6 1153.1 1346.2 1152Q1347.9 1150.8 1349.3 1152.2Q1350.7 1153.7 1350.4 1156.3Q1350.1 1158.9 1348.4 1159.8Z" fill="#3c50a4"/><path d="M1349.4 1171.4Q1346.4 1172.5 1343.7 1170.3Q1340.9 1168 1342.9 1165.3Q1344.8 1162.6 1344.6 1158.7Q1344.4 1154.8 1347.9 1154.7Q1351.5 1154.7 1353.4 1157.2Q1355.3 1159.7 1357.8 1163.3Q1360.3 1167 1356.3 1168.6Q1352.3 1170.3 1349.4 1171.4Z" fill="#243f88"/><path d="M1344.2 1202.9Q1340.2 1201.8 1341.3 1198Q1342.5 1194.3 1346 1189.7Q1349.6 1185 1353.9 1181.1Q1358.1 1177.1 1361.8 1176Q1365.4 1174.9 1366.9 1178.6Q1368.3 1182.3 1364.9 1189.1Q1361.4 1195.8 1354.8 1199.9Q1348.2 1204 1344.2 1202.9Z" fill="#243f88"/><path d="M1320 1191.3Q1317.4 1188.3 1321.1 1186.4Q1324.8 1184.5 1325.9 1180.9Q1327.1 1177.4 1330.2 1178.7Q1333.3 1180 1335.2 1182Q1337.1 1184 1340 1186.6Q1342.9 1189.1 1337.2 1191Q1331.6 1192.8 1327.1 1193.6Q1322.6 1194.3 1320 1191.3Z" fill="#243f88"/><path d="M1316.9 1210.6Q1315 1208.9 1317 1207.5Q1319 1206.1 1322.7 1206Q1326.3 1205.9 1328.4 1207.1Q1330.5 1208.3 1328.8 1210.1Q1327 1211.9 1322.9 1212.1Q1318.8 1212.2 1316.9 1210.6Z" fill="#3c50a4"/><path d="M1302.2 1204.4Q1300.3 1200.8 1304.1 1199.6Q1308 1198.5 1311.9 1197.4Q1315.8 1196.3 1320 1197.7Q1324.3 1199.2 1325.5 1202Q1326.8 1204.8 1326.6 1208.1Q1326.3 1211.3 1320.1 1211.7Q1313.9 1212.1 1309 1210.1Q1304.1 1208.1 1302.2 1204.4Z" fill="#243f88"/><path d="M1294.7 1183.2Q1296.9 1180.8 1298.1 1177.4Q1299.4 1174.1 1303.2 1176Q1307 1178 1308.9 1180.3Q1310.8 1182.6 1313.2 1185.6Q1315.6 1188.7 1311.4 1189.8Q1307.2 1190.9 1303.5 1191.5Q1299.9 1192.2 1296.2 1188.9Q1292.6 1185.6 1294.7 1183.2Z" fill="#243f88"/><path d="M1272 1183Q1274.8 1181.1 1276.7 1178.4Q1278.6 1175.8 1282.5 1178.2Q1286.3 1180.6 1287.7 1183.9Q1289.1 1187.2 1291.4 1191.2Q1293.6 1195.3 1289 1195.1Q1284.3 1194.9 1280.5 1193.9Q1276.6 1192.8 1272.9 1188.8Q1269.2 1184.8 1272 1183Z" fill="#243f88"/><path d="M1282.8 1164.2Q1282.9 1162.2 1285 1162.1Q1287 1162.1 1288.9 1164Q1290.8 1165.8 1290.7 1167.7Q1290.7 1169.7 1288.7 1169.9Q1286.7 1170.1 1284.7 1168.2Q1282.8 1166.2 1282.8 1164.2Z" fill="#3c50a4"/><path d="M1269.2 1158.8Q1268.4 1154.7 1272.4 1155.2Q1276.3 1155.7 1280 1158.1Q1283.6 1160.5 1286.7 1164.2Q1289.7 1167.8 1287.7 1170.3Q1285.7 1172.8 1283.2 1174.4Q1280.8 1176.1 1276.6 1173.6Q1272.3 1171 1271.1 1167Q1269.9 1162.9 1269.2 1158.8Z" fill="#243f88"/><path d="M1246.8 1156Q1244.6 1150.8 1248.9 1151.8Q1253.3 1152.8 1256.7 1156.6Q1260.1 1160.3 1265.1 1164.8Q1270.1 1169.2 1266.7 1170.7Q1263.2 1172.3 1260.9 1173.7Q1258.6 1175.1 1253.8 1172.7Q1248.9 1170.4 1248.9 1165.8Q1248.9 1161.3 1246.8 1156Z" fill="#243f88"/><path d="M1247.6 1134.6Q1248.4 1131.6 1251.5 1131.3Q1254.7 1130.9 1258.6 1133.5Q1262.5 1136.1 1264.4 1140.1Q1266.4 1144.1 1265.7 1147.2Q1265 1150.3 1261.8 1150.7Q1258.6 1151.1 1255 1148.4Q1251.3 1145.7 1249.1 1141.7Q1246.9 1137.6 1247.6 1134.6Z" fill="#243f88"/><path d="M1232.7 1143.5Q1232.7 1141.5 1234.7 1141.6Q1236.6 1141.7 1238.5 1143.9Q1240.3 1146 1240.2 1148Q1240.1 1150 1238.2 1149.8Q1236.2 1149.7 1234.4 1147.6Q1232.6 1145.5 1232.7 1143.5Z" fill="#3c50a4"/><path d="M1223.8 1129.6Q1225.5 1126.9 1229.1 1127.8Q1232.7 1128.7 1237.5 1129.5Q1242.3 1130.3 1242.8 1135.1Q1243.2 1139.9 1244.1 1143.8Q1244.9 1147.7 1241.9 1149Q1238.8 1150.3 1235.4 1145.2Q1232 1140.2 1227.1 1136.2Q1222.2 1132.3 1223.8 1129.6Z" fill="#243f88"/><path d="M1219.5 1107.8Q1219.4 1104.6 1223 1104.5Q1226.7 1104.4 1231.2 1105.9Q1235.7 1107.4 1237.9 1111.6Q1240 1115.7 1239.7 1118.7Q1239.4 1121.7 1236.7 1122.9Q1234 1124.1 1230.2 1120.9Q1226.4 1117.7 1223 1114.4Q1219.7 1111 1219.5 1107.8Z" fill="#243f88"/><path d="M1202.7 1113.2Q1202.9 1110.8 1203.5 1107.7Q1204.1 1104.7 1208.7 1107.3Q1213.2 1109.9 1216.6 1112.4Q1220 1114.9 1220.2 1118.5Q1220.5 1122 1216.7 1121.1Q1212.9 1120.3 1209.6 1121Q1206.3 1121.7 1204.4 1118.7Q1202.6 1115.7 1202.7 1113.2Z" fill="#243f88"/><path d="M1203 1094.6Q1201.7 1092.9 1203.8 1092.1Q1205.8 1091.3 1209.1 1092.5Q1212.3 1093.6 1213.3 1095.5Q1214.3 1097.3 1212.3 1097.9Q1210.3 1098.4 1207.3 1097.3Q1204.3 1096.2 1203 1094.6Z" fill="#3c50a4"/><path d="M1190.8 1097.1Q1190.6 1094.6 1189.7 1091.6Q1188.8 1088.6 1195.4 1089.3Q1202 1089.9 1206.1 1091.9Q1210.3 1093.8 1212.6 1097.3Q1214.8 1100.8 1210.4 1100.9Q1205.9 1100.9 1202.5 1102Q1199.1 1103.2 1195.1 1101.4Q1191.1 1099.6 1190.8 1097.1Z" fill="#243f88"/><path d="M1179.7 1116.5Q1176.6 1115.9 1178 1112.7Q1179.5 1109.5 1182.2 1107Q1184.9 1104.5 1189.4 1105Q1193.8 1105.6 1193.9 1108.2Q1194 1110.9 1193.6 1113.6Q1193.3 1116.3 1190.6 1117Q1187.9 1117.6 1185.4 1117.4Q1182.8 1117.2 1179.7 1116.5Z" fill="#243f88"/><path d="M1160.7 1113.2Q1156.7 1115.8 1158 1110.9Q1159.3 1106.1 1161.2 1102.6Q1163 1099.1 1168.3 1096.1Q1173.5 1093.2 1173.5 1096.6Q1173.5 1099.9 1175.7 1102Q1177.8 1104.1 1174.5 1106.9Q1171.1 1109.6 1168 1110.1Q1164.8 1110.6 1160.7 1113.2Z" fill="#243f88"/><path d="M1171.9 1126.2Q1170.3 1126.4 1169.8 1124.8Q1169.3 1123.3 1170.6 1121.6Q1171.9 1120 1173.5 1120.1Q1175.1 1120.3 1175.4 1121.7Q1175.7 1123.2 1174.6 1124.6Q1173.5 1126 1171.9 1126.2Z" fill="#3c50a4"/><path d="M1166.1 1135.7Q1163.4 1136.4 1161.8 1134.2Q1160.2 1132 1161.1 1127.5Q1162 1123 1165.2 1120.1Q1168.4 1117.2 1171.3 1117.4Q1174.3 1117.7 1174.9 1120.4Q1175.4 1123 1174.4 1126Q1173.4 1129 1171 1132.1Q1168.7 1135.1 1166.1 1135.7Z" fill="#243f88"/><path d="M1150.9 1146.5Q1148.2 1145.2 1146.2 1144.5Q1144.2 1143.8 1143.2 1139.4Q1142.1 1135 1145.1 1132.9Q1148.1 1130.8 1150.9 1127.1Q1153.7 1123.4 1154.8 1126.9Q1155.9 1130.4 1155 1134.1Q1154 1137.7 1153.8 1142.8Q1153.6 1147.8 1150.9 1146.5Z" fill="#243f88"/><path d="M1162 1160.3Q1159.8 1161.2 1157.9 1159.8Q1156 1158.5 1154.7 1155Q1153.5 1151.5 1155.2 1148.4Q1156.9 1145.4 1159.2 1143.7Q1161.4 1141.9 1163.3 1143.7Q1165.2 1145.4 1165.1 1148.8Q1165 1152.1 1164.6 1155.7Q1164.1 1159.3 1162 1160.3Z" fill="#243f88"/><path d="M1146 1165.6Q1145.1 1166.9 1143.9 1165.7Q1142.7 1164.6 1142.5 1162.1Q1142.2 1159.6 1143.2 1158.3Q1144.2 1157 1145.4 1158.2Q1146.5 1159.4 1146.7 1161.9Q1146.9 1164.3 1146 1165.6Z" fill="#3c50a4"/><path d="M1151 1174.1Q1149.9 1176.3 1147.6 1175.9Q1145.2 1175.5 1145 1171.6Q1144.8 1167.6 1143.9 1163.7Q1143.1 1159.7 1145.5 1159Q1147.8 1158.3 1149.5 1160.1Q1151.2 1162 1153.4 1164.3Q1155.6 1166.6 1153.9 1169.3Q1152.2 1171.9 1151 1174.1Z" fill="#243f88"/><path d="M1165 1187.2Q1163.8 1189 1161.7 1189.3Q1159.5 1189.5 1158.9 1185.1Q1158.2 1180.7 1157.6 1176.7Q1156.9 1172.7 1158.8 1171Q1160.8 1169.3 1162.5 1171.7Q1164.2 1174.2 1166.2 1176.5Q1168.3 1178.9 1167.3 1182.2Q1166.2 1185.4 1165 1187.2Z" fill="#243f88"/><path d="M1157.8 1204.1Q1156.7 1206.4 1154.6 1204.3Q1152.4 1202.3 1150.2 1199.9Q1148 1197.5 1148.1 1193.9Q1148.2 1190.2 1149.6 1188.9Q1151.1 1187.5 1153.2 1187.3Q1155.3 1187.1 1156.4 1191Q1157.5 1194.9 1158.2 1198.3Q1158.9 1201.8 1157.8 1204.1Z" fill="#243f88"/><path d="M1170.9 1204.4Q1170.3 1205.6 1169.2 1204.9Q1168 1204.2 1167.4 1202.4Q1166.9 1200.5 1167.5 1199.3Q1168.1 1198.1 1169.3 1198.7Q1170.4 1199.4 1171 1201.3Q1171.5 1203.2 1170.9 1204.4Z" fill="#3c50a4"/><path d="M1170.8 1210.9Q1170 1213.8 1168 1211Q1166 1208.2 1163.8 1206.8Q1161.6 1205.4 1161.7 1202.1Q1161.7 1198.9 1163.5 1198.5Q1165.3 1198.2 1167.3 1196.7Q1169.2 1195.2 1170 1198.9Q1170.8 1202.6 1171.2 1205.3Q1171.5 1208 1170.8 1210.9Z" fill="#243f88"/><path d="M1165 1222.1Q1163.7 1223.6 1161.7 1223.2Q1159.8 1222.9 1158.3 1220.3Q1156.8 1217.7 1156.7 1214.8Q1156.6 1212 1157.8 1210.3Q1159 1208.5 1160.9 1209.3Q1162.9 1210.2 1164.4 1212.5Q1165.9 1214.9 1166.1 1217.8Q1166.3 1220.7 1165 1222.1Z" fill="#243f88"/><path d="M1177.9 1230.6Q1175.6 1230 1174 1231.6Q1172.5 1233.1 1170.7 1229.3Q1168.9 1225.4 1169.3 1222.6Q1169.7 1219.8 1169.7 1215.6Q1169.6 1211.3 1172 1214.6Q1174.4 1217.8 1176.1 1220.1Q1177.8 1222.4 1179 1226.8Q1180.3 1231.2 1177.9 1230.6Z" fill="#243f88"/><path d="M1166.6 1239.4Q1166 1240.4 1164.9 1239.8Q1163.8 1239.2 1163.2 1237.6Q1162.6 1235.9 1163.1 1234.8Q1163.6 1233.7 1164.8 1234.3Q1165.9 1234.9 1166.5 1236.6Q1167.1 1238.3 1166.6 1239.4Z" fill="#3c50a4"/><path d="M1170.8 1244.8Q1169.2 1245.7 1167.5 1245.3Q1165.8 1244.9 1164.1 1242Q1162.4 1239.2 1162.3 1236.2Q1162.3 1233.3 1162.9 1230.7Q1163.5 1228.1 1165.7 1229.5Q1167.9 1230.9 1169.5 1233.8Q1171.1 1236.7 1171.7 1240.3Q1172.3 1244 1170.8 1244.8Z" fill="#243f88"/><path d="M1180.6 1253.7Q1179.7 1256.2 1178.2 1254.7Q1176.6 1253.2 1176.2 1250.8Q1175.8 1248.3 1175 1245.3Q1174.2 1242.3 1176.2 1242.3Q1178.2 1242.2 1179.7 1242.3Q1181.3 1242.4 1182.7 1244.7Q1184.1 1247.1 1182.8 1249.1Q1181.4 1251.1 1180.6 1253.7Z" fill="#243f88"/><path d="M1173.8 1263.1Q1172.8 1264.8 1171.3 1263.9Q1169.8 1262.9 1169.6 1260.7Q1169.4 1258.4 1168.8 1255.9Q1168.3 1253.4 1170 1253.1Q1171.7 1252.7 1173.1 1253.4Q1174.5 1254.1 1175.8 1256Q1177.2 1257.9 1176 1259.7Q1174.7 1261.4 1173.8 1263.1Z" fill="#243f88"/><path d="M1182.3 1270.8Q1181.5 1271.6 1180.9 1270.7Q1180.4 1269.8 1180.5 1268.2Q1180.6 1266.5 1181.3 1265.7Q1182.1 1264.9 1182.7 1265.8Q1183.4 1266.6 1183.2 1268.3Q1183 1270 1182.3 1270.8Z" fill="#3c50a4"/><path d="M1180.9 1275.2Q1179.5 1275.7 1178.6 1274.2Q1177.8 1272.6 1177 1270.3Q1176.2 1267.9 1177.3 1265.7Q1178.4 1263.5 1179.5 1262Q1180.7 1260.5 1182.2 1261.2Q1183.7 1262 1183.5 1265.1Q1183.3 1268.2 1182.9 1271.4Q1182.4 1274.6 1180.9 1275.2Z" fill="#243f88"/><path d="M1171.8 1282.2Q1170.3 1282.8 1169.9 1280.7Q1169.6 1278.7 1168.5 1277Q1167.4 1275.3 1168.7 1273.7Q1170 1272.1 1171.1 1271.3Q1172.1 1270.5 1173.7 1270.5Q1175.3 1270.6 1174.6 1273.5Q1173.9 1276.4 1173.6 1279Q1173.2 1281.6 1171.8 1282.2Z" fill="#243f88"/><path d="M1175.7 1290.3Q1174.4 1290.8 1173.7 1289.7Q1173 1288.5 1173.5 1286.2Q1174 1283.8 1175 1281.7Q1176 1279.6 1177.3 1278.8Q1178.7 1278 1179.5 1279.4Q1180.2 1280.8 1180.1 1283.2Q1179.9 1285.6 1178.5 1287.7Q1177.1 1289.9 1175.7 1290.3Z" fill="#243f88"/><path d="M1165.6 1292.7Q1164.8 1293 1164.6 1292.2Q1164.4 1291.5 1164.9 1290.4Q1165.3 1289.4 1166 1289.1Q1166.7 1288.8 1167 1289.6Q1167.3 1290.4 1166.8 1291.4Q1166.3 1292.4 1165.6 1292.7Z" fill="#3c50a4"/><path d="M1167.1 1293.7Q1166.2 1293 1164.8 1292.9Q1163.4 1292.8 1164.5 1290.9Q1165.6 1289 1166.3 1287.6Q1167.1 1286.3 1168.4 1285.2Q1169.8 1284.1 1169.8 1286.2Q1169.8 1288.4 1170.3 1289.9Q1170.8 1291.4 1169.4 1292.8Q1168 1294.3 1167.1 1293.7Z" fill="#243f88"/><path d="M1168.7 1302.7Q1167.6 1302.4 1167 1301.6Q1166.3 1300.8 1167.1 1299.2Q1167.9 1297.5 1169 1296.4Q1170.2 1295.3 1171.5 1294.8Q1172.8 1294.3 1173.1 1295.7Q1173.3 1297.1 1172.9 1298.7Q1172.5 1300.4 1171.1 1301.7Q1169.7 1303 1168.7 1302.7Z" fill="#243f88"/><path d="M1158.3 1305.1Q1156.7 1305.8 1157.2 1304.3Q1157.7 1302.7 1158.1 1301.4Q1158.5 1300.2 1159.6 1298.8Q1160.7 1297.4 1161.4 1298.4Q1162.1 1299.4 1163.2 1299.8Q1164.2 1300.2 1163.3 1301.8Q1162.4 1303.5 1161.2 1303.9Q1159.9 1304.4 1158.3 1305.1Z" fill="#243f88"/><path d="M1157.5 1315.3Q1156.8 1315.3 1156.9 1314.6Q1157 1313.9 1157.8 1313.2Q1158.6 1312.5 1159.4 1312.5Q1160.1 1312.5 1160 1313.2Q1159.9 1313.9 1159.1 1314.6Q1158.2 1315.3 1157.5 1315.3Z" fill="#3c50a4"/><path d="M1157.1 1314.7Q1155.3 1315.3 1155.9 1313.7Q1156.4 1312.2 1157.4 1310.9Q1158.5 1309.6 1160 1308.1Q1161.5 1306.6 1162.2 1307.5Q1162.9 1308.4 1163.5 1309.1Q1164.2 1309.8 1163.1 1311.5Q1161.9 1313.3 1160.4 1313.7Q1158.8 1314.1 1157.1 1314.7Z" fill="#243f88"/><path d="M1149.4 1314.5Q1148.7 1313.7 1148.5 1312.8Q1148.2 1311.9 1148.9 1310.6Q1149.6 1309.4 1150.9 1309.3Q1152.2 1309.2 1153.4 1309.1Q1154.7 1308.9 1154.7 1310.1Q1154.7 1311.3 1153.7 1312.3Q1152.7 1313.3 1151.4 1314.3Q1150 1315.3 1149.4 1314.5Z" fill="#243f88"/><path d="M1145.2 1323.2Q1144.7 1322.3 1144.8 1321.4Q1144.8 1320.5 1145.4 1319.2Q1145.9 1317.9 1147.2 1318.2Q1148.6 1318.5 1149.9 1318.3Q1151.3 1318.1 1151.3 1319.3Q1151.4 1320.4 1150 1321.2Q1148.6 1321.9 1147.2 1323.1Q1145.8 1324.2 1145.2 1323.2Z" fill="#243f88"/><path d="M1134.8 1321.4Q1134.2 1321.3 1134.4 1320.6Q1134.6 1320 1135.4 1319.5Q1136.2 1319 1136.8 1319.1Q1137.4 1319.3 1137.2 1319.9Q1137 1320.5 1136.2 1321Q1135.4 1321.5 1134.8 1321.4Z" fill="#3c50a4"/><path d="M1135.2 1322.5Q1134.2 1322.2 1134.3 1321.2Q1134.4 1320.2 1135.6 1319.2Q1136.8 1318.1 1138.2 1317.5Q1139.6 1316.9 1140.5 1317.3Q1141.4 1317.7 1141.2 1318.8Q1141.1 1319.8 1140.1 1320.9Q1139 1322 1137.6 1322.4Q1136.1 1322.8 1135.2 1322.5Z" fill="#243f88"/><path d="M1132 1329.3Q1131.3 1328.9 1130.9 1328.1Q1130.4 1327.3 1131.9 1326.9Q1133.4 1326.5 1134.5 1325.8Q1135.6 1325.1 1136.4 1325.6Q1137.3 1326.1 1136.6 1327.1Q1135.9 1328 1135.6 1329.1Q1135.2 1330.2 1134 1329.9Q1132.7 1329.7 1132 1329.3Z" fill="#243f88"/><path d="M1123.9 1328.3Q1123.3 1327.9 1123.3 1327.1Q1123.3 1326.3 1124.4 1325.6Q1125.6 1324.9 1126.7 1324.5Q1127.9 1324.1 1128.7 1324.4Q1129.6 1324.8 1129.2 1325.7Q1128.8 1326.6 1127.9 1327.4Q1127.1 1328.3 1125.8 1328.5Q1124.5 1328.6 1123.9 1328.3Z" fill="#243f88"/><path d="M1117.8 1335.1Q1117.3 1335 1117.6 1334.6Q1117.8 1334.2 1118.6 1334Q1119.3 1333.7 1119.7 1333.9Q1120.2 1334.1 1119.9 1334.5Q1119.7 1334.8 1119 1335.1Q1118.2 1335.3 1117.8 1335.1Z" fill="#3c50a4"/><path d="M1118.6 1334.5Q1117.6 1334.3 1118.5 1333.6Q1119.4 1332.9 1119.9 1332.2Q1120.3 1331.5 1121.4 1331.4Q1122.6 1331.3 1122.8 1331.9Q1123 1332.5 1123.5 1333.1Q1124 1333.8 1122.8 1334.1Q1121.5 1334.4 1120.5 1334.6Q1119.6 1334.7 1118.6 1334.5Z" fill="#243f88"/><path d="M1110.5 1333.8Q1109.8 1333.6 1110.3 1333Q1110.8 1332.4 1111.3 1331.9Q1111.7 1331.4 1112.5 1331.2Q1113.3 1331.1 1113.5 1331.6Q1113.6 1332.1 1113.9 1332.6Q1114.2 1333.1 1113.4 1333.5Q1112.5 1333.9 1111.9 1333.9Q1111.2 1333.9 1110.5 1333.8Z" fill="#243f88"/><path d="M1105.2 1338Q1105.1 1337.6 1105 1337.3Q1104.8 1336.9 1105.5 1336.6Q1106.1 1336.2 1106.6 1336.3Q1107.2 1336.4 1107.8 1336.5Q1108.4 1336.7 1108 1337.2Q1107.6 1337.6 1107.2 1337.9Q1106.7 1338.2 1106 1338.3Q1105.3 1338.4 1105.2 1338Z" fill="#243f88"/><path d="M1095.6 1338.3Q1095.4 1338.2 1095.6 1338Q1095.7 1337.9 1096.1 1337.7Q1096.5 1337.6 1096.8 1337.7Q1097 1337.7 1096.8 1337.9Q1096.7 1338.1 1096.3 1338.3Q1095.9 1338.4 1095.6 1338.3Z" fill="#3c50a4"/><path d="M1097.6 1338.4Q1097.7 1338.1 1097.6 1337.8Q1097.5 1337.5 1097.9 1337.2Q1098.4 1336.9 1098.8 1337Q1099.2 1337.2 1099.7 1337.2Q1100.3 1337.2 1100 1337.6Q1099.6 1338 1099.2 1338.2Q1098.8 1338.4 1098.2 1338.6Q1097.6 1338.8 1097.6 1338.4Z" fill="#243f88"/><path d="M1091.7 1341.2Q1091.5 1341 1091.6 1340.8Q1091.7 1340.5 1092.1 1340.4Q1092.4 1340.3 1092.8 1340.2Q1093.2 1340.2 1093.3 1340.4Q1093.5 1340.6 1093.4 1340.8Q1093.3 1341.1 1093 1341.2Q1092.7 1341.4 1092.3 1341.4Q1092 1341.3 1091.7 1341.2Z" fill="#243f88"/><polygon points="1627.5,765.3 1620.4,766.5 1614.1,768.9 1607.8,771.3 1601.4,773.9 1596.1,778.1 1591.8,783.4 1587.6,788.6 1583.4,793.5 1580,798.9 1576.1,803.9 1585.6,814.8 1591.2,811.2 1596.9,807.7 1601.9,803.6 1606.9,799.9 1612,796.5 1616.6,792.5 1620.4,787.3 1624.5,782.1 1628.5,776.9 1631.8,770.7" fill="#243a80"/><polygon points="1626.8,764.3 1619.4,764.6 1612.9,766.1 1606.8,768.1 1600.2,769.8 1594.7,773.2 1608.7,789.6 1613.1,785.7 1617.4,781.6 1621.9,777.5 1626.3,773.4 1630.5,769" fill="#b4bfcc"/><path d="M1599.4 784.1Q1597.8 784 1597.8 782.2Q1597.8 780.5 1599.5 778.9Q1601.3 777.3 1603.1 777.6Q1604.8 777.9 1604.6 779.5Q1604.5 781.1 1602.7 782.6Q1601 784.2 1599.4 784.1Z" fill="#151a33"/></g>
<!-- snake s3 --><polygon points="3191.8,380.6 3184.9,382.7 3178.3,385 3173,388.6 3166.2,391.5 3159.6,395.5 3155,401.5 3150.6,407.8 3146.5,414.1 3143.5,420.6 3142.4,427.5 3142.6,434.8 3143.1,441.9 3143,448.7 3141.6,455.1 3140.3,461.5 3139.4,468 3138.9,474.6 3138.5,481.1 3138.2,487.6 3137.9,494.1 3137.5,500.5 3137.2,507.1 3137.1,513.8 3137.4,520.7 3138.1,527.5 3139.1,534.3 3140.4,540.8 3141.8,547.1 3143.4,553.5 3145.3,559.9 3147.4,566.1 3149.6,572 3151.7,577.6 3153.7,583 3155.7,588.7 3157.7,594.5 3159.8,600.2 3161.7,605.5 3163.2,610.3 3164.3,614.9 3165,619.5 3165.2,624.4 3165.2,629.6 3165,634.8 3164.5,640.1 3163.8,645.3 3162.9,650.5 3161.7,655.6 3160.3,660.5 3158.6,665.4 3156.6,670.4 3154.3,675.5 3151.9,680.8 3149.4,686.2 3146.8,691.6 3144.3,697.1 3141.7,702.3 3139.1,707.6 3136.4,712.9 3133.7,718.2 3130.9,723.6 3128.2,729.1 3125.4,734.6 3122.7,740.2 3120.1,745.7 3117.6,751.2 3115,756.6 3112.4,762.1 3109.7,767.8 3107.1,773.6 3104.7,779.5 3102.3,785.7 3100.2,792 3098.3,798.3 3096.7,804.6 3095.2,810.9 3093.9,817.2 3092.7,823.6 3091.8,830 3091,836.5 3090.4,843.1 3090.1,849.6 3090,856.2 3090.1,862.7 3090.4,869.2 3090.8,875.7 3091.5,882.2 3092.4,888.7 3093.5,895.2 3095,901.7 3096.7,908.2 3098.7,914.6 3101.1,921 3103.8,927.1 3106.7,933.1 3109.8,938.8 3112.9,944.3 3116.2,949.7 3119.4,954.9 3122.7,960.1 3125.9,965.3 3129.4,970.6 3133,975.9 3136.7,981 3140.4,985.9 3144.1,990.8 3147.7,995.5 3151.1,1000.2 3154.3,1004.9 3157.4,1009.7 3160.5,1014.7 3163.5,1019.8 3166.4,1024.9 3169.1,1030 3171.7,1035 3174.1,1040.1 3176.3,1045.2 3178.3,1050.3 3180,1055.5 3181.6,1060.8 3183,1066.2 3184.2,1071.6 3185.1,1077.1 3185.8,1082.6 3186.2,1088.1 3186.3,1093.5 3186.2,1099 3185.7,1104.6 3184.9,1110.2 3183.9,1115.8 3182.8,1121.6 3181.5,1127.3 3180.1,1132.9 3178.5,1138.5 3176.7,1144 3174.8,1149.5 3172.8,1155 3170.8,1160.6 3168.8,1166.1 3166.7,1171.6 3164.6,1176.9 3162.2,1182.2 3159.6,1187.6 3157,1193.2 3154.5,1199 3152.2,1204.9 3150.2,1210.9 3148.4,1216.8 3146.8,1222.8 3145.3,1228.9 3144,1235.1 3143.3,1241.5 3143.4,1248 3144.5,1254.3 3146.1,1260.4 3148,1266.3 3149.9,1272.1 3151.5,1277.9 3152.7,1283.8 3153.7,1283.6 3152.9,1277.6 3152.2,1271.6 3151.8,1265.6 3151.5,1259.6 3151.7,1253.7 3152.1,1248 3152.9,1242.4 3153.8,1236.8 3155.1,1231.2 3156.7,1225.7 3158.7,1220.2 3160.8,1214.8 3163.2,1209.5 3165.8,1204.4 3168.8,1199.4 3172,1194.4 3175.2,1189.2 3178.5,1183.9 3181.5,1178.3 3184.2,1172.7 3186.8,1167.1 3189.3,1161.5 3191.6,1155.7 3193.8,1149.8 3195.7,1143.9 3197.6,1137.9 3199.3,1131.9 3200.9,1125.9 3202.4,1119.8 3203.9,1113.7 3205.1,1107.4 3206.1,1101 3206.8,1094.4 3207.1,1087.8 3207.1,1081.3 3206.8,1074.7 3206.1,1068.2 3205.2,1061.8 3203.9,1055.4 3202.4,1049 3200.6,1042.8 3198.4,1036.5 3196,1030.5 3193.3,1024.6 3190.4,1018.9 3187.5,1013.4 3184.5,1007.9 3181.6,1002.5 3178.5,997.1 3175.4,991.6 3172,986.2 3168.6,980.9 3165.2,975.8 3161.9,970.8 3158.7,965.9 3155.7,961 3152.8,956.1 3150,951 3147.2,945.8 3144.4,940.5 3141.7,935.3 3139.1,930.2 3136.6,925 3134.2,919.9 3132.1,914.9 3130.2,909.9 3128.6,904.9 3127.2,899.8 3126,894.5 3124.9,889.2 3124,883.8 3123.3,878.4 3122.7,872.9 3122.3,867.4 3122.1,861.8 3122,856.3 3122.1,850.8 3122.4,845.3 3122.9,839.8 3123.6,834.3 3124.4,828.8 3125.5,823.4 3126.6,817.9 3127.9,812.4 3129.4,807 3130.9,801.8 3132.7,796.7 3134.7,791.6 3136.9,786.5 3139.2,781.2 3141.7,776 3144.3,770.6 3147,765.2 3149.6,759.7 3152.1,754.3 3154.7,749.1 3157.4,743.8 3160.1,738.5 3162.8,733.2 3165.6,727.8 3168.4,722.4 3171.2,716.8 3173.9,711.2 3176.5,705.7 3179.1,700.3 3181.7,694.8 3184.4,689.1 3187,683.2 3189.5,677 3191.8,670.5 3193.7,663.8 3195.2,657.1 3196.4,650.4 3197.3,643.7 3197.9,637 3198.1,630.2 3198.1,623.3 3197.6,616.1 3196.6,608.8 3194.8,601.7 3192.7,595 3190.5,589 3188.3,583.4 3186.3,577.8 3184.3,572.1 3182.1,566.2 3179.9,560.6 3177.9,555.2 3176,550 3174.4,544.8 3173.1,539.5 3171.8,534.1 3170.7,528.7 3169.9,523.6 3169.3,518.4 3169.1,513.2 3169.2,507.9 3169.4,502.4 3169.9,496.8 3170.8,491.3 3172,485.8 3173.5,480.4 3175.1,475.1 3176.7,469.9 3178.3,464.6 3180.1,459.3 3183.5,454.5 3187.7,450.2 3191.9,446.1 3195.2,441.8 3197,437.2 3198.2,432.7 3199.7,428.4 3201.6,424.3 3202.1,418.5 3202.7,412 3205,406.1 3205.9,399 3206.2,391.4" fill="#85604d"/><clipPath id="c3"><polygon points="3191.8,380.6 3184.9,382.7 3178.3,385 3173,388.6 3166.2,391.5 3159.6,395.5 3155,401.5 3150.6,407.8 3146.5,414.1 3143.5,420.6 3142.4,427.5 3142.6,434.8 3143.1,441.9 3143,448.7 3141.6,455.1 3140.3,461.5 3139.4,468 3138.9,474.6 3138.5,481.1 3138.2,487.6 3137.9,494.1 3137.5,500.5 3137.2,507.1 3137.1,513.8 3137.4,520.7 3138.1,527.5 3139.1,534.3 3140.4,540.8 3141.8,547.1 3143.4,553.5 3145.3,559.9 3147.4,566.1 3149.6,572 3151.7,577.6 3153.7,583 3155.7,588.7 3157.7,594.5 3159.8,600.2 3161.7,605.5 3163.2,610.3 3164.3,614.9 3165,619.5 3165.2,624.4 3165.2,629.6 3165,634.8 3164.5,640.1 3163.8,645.3 3162.9,650.5 3161.7,655.6 3160.3,660.5 3158.6,665.4 3156.6,670.4 3154.3,675.5 3151.9,680.8 3149.4,686.2 3146.8,691.6 3144.3,697.1 3141.7,702.3 3139.1,707.6 3136.4,712.9 3133.7,718.2 3130.9,723.6 3128.2,729.1 3125.4,734.6 3122.7,740.2 3120.1,745.7 3117.6,751.2 3115,756.6 3112.4,762.1 3109.7,767.8 3107.1,773.6 3104.7,779.5 3102.3,785.7 3100.2,792 3098.3,798.3 3096.7,804.6 3095.2,810.9 3093.9,817.2 3092.7,823.6 3091.8,830 3091,836.5 3090.4,843.1 3090.1,849.6 3090,856.2 3090.1,862.7 3090.4,869.2 3090.8,875.7 3091.5,882.2 3092.4,888.7 3093.5,895.2 3095,901.7 3096.7,908.2 3098.7,914.6 3101.1,921 3103.8,927.1 3106.7,933.1 3109.8,938.8 3112.9,944.3 3116.2,949.7 3119.4,954.9 3122.7,960.1 3125.9,965.3 3129.4,970.6 3133,975.9 3136.7,981 3140.4,985.9 3144.1,990.8 3147.7,995.5 3151.1,1000.2 3154.3,1004.9 3157.4,1009.7 3160.5,1014.7 3163.5,1019.8 3166.4,1024.9 3169.1,1030 3171.7,1035 3174.1,1040.1 3176.3,1045.2 3178.3,1050.3 3180,1055.5 3181.6,1060.8 3183,1066.2 3184.2,1071.6 3185.1,1077.1 3185.8,1082.6 3186.2,1088.1 3186.3,1093.5 3186.2,1099 3185.7,1104.6 3184.9,1110.2 3183.9,1115.8 3182.8,1121.6 3181.5,1127.3 3180.1,1132.9 3178.5,1138.5 3176.7,1144 3174.8,1149.5 3172.8,1155 3170.8,1160.6 3168.8,1166.1 3166.7,1171.6 3164.6,1176.9 3162.2,1182.2 3159.6,1187.6 3157,1193.2 3154.5,1199 3152.2,1204.9 3150.2,1210.9 3148.4,1216.8 3146.8,1222.8 3145.3,1228.9 3144,1235.1 3143.3,1241.5 3143.4,1248 3144.5,1254.3 3146.1,1260.4 3148,1266.3 3149.9,1272.1 3151.5,1277.9 3152.7,1283.8 3153.7,1283.6 3152.9,1277.6 3152.2,1271.6 3151.8,1265.6 3151.5,1259.6 3151.7,1253.7 3152.1,1248 3152.9,1242.4 3153.8,1236.8 3155.1,1231.2 3156.7,1225.7 3158.7,1220.2 3160.8,1214.8 3163.2,1209.5 3165.8,1204.4 3168.8,1199.4 3172,1194.4 3175.2,1189.2 3178.5,1183.9 3181.5,1178.3 3184.2,1172.7 3186.8,1167.1 3189.3,1161.5 3191.6,1155.7 3193.8,1149.8 3195.7,1143.9 3197.6,1137.9 3199.3,1131.9 3200.9,1125.9 3202.4,1119.8 3203.9,1113.7 3205.1,1107.4 3206.1,1101 3206.8,1094.4 3207.1,1087.8 3207.1,1081.3 3206.8,1074.7 3206.1,1068.2 3205.2,1061.8 3203.9,1055.4 3202.4,1049 3200.6,1042.8 3198.4,1036.5 3196,1030.5 3193.3,1024.6 3190.4,1018.9 3187.5,1013.4 3184.5,1007.9 3181.6,1002.5 3178.5,997.1 3175.4,991.6 3172,986.2 3168.6,980.9 3165.2,975.8 3161.9,970.8 3158.7,965.9 3155.7,961 3152.8,956.1 3150,951 3147.2,945.8 3144.4,940.5 3141.7,935.3 3139.1,930.2 3136.6,925 3134.2,919.9 3132.1,914.9 3130.2,909.9 3128.6,904.9 3127.2,899.8 3126,894.5 3124.9,889.2 3124,883.8 3123.3,878.4 3122.7,872.9 3122.3,867.4 3122.1,861.8 3122,856.3 3122.1,850.8 3122.4,845.3 3122.9,839.8 3123.6,834.3 3124.4,828.8 3125.5,823.4 3126.6,817.9 3127.9,812.4 3129.4,807 3130.9,801.8 3132.7,796.7 3134.7,791.6 3136.9,786.5 3139.2,781.2 3141.7,776 3144.3,770.6 3147,765.2 3149.6,759.7 3152.1,754.3 3154.7,749.1 3157.4,743.8 3160.1,738.5 3162.8,733.2 3165.6,727.8 3168.4,722.4 3171.2,716.8 3173.9,711.2 3176.5,705.7 3179.1,700.3 3181.7,694.8 3184.4,689.1 3187,683.2 3189.5,677 3191.8,670.5 3193.7,663.8 3195.2,657.1 3196.4,650.4 3197.3,643.7 3197.9,637 3198.1,630.2 3198.1,623.3 3197.6,616.1 3196.6,608.8 3194.8,601.7 3192.7,595 3190.5,589 3188.3,583.4 3186.3,577.8 3184.3,572.1 3182.1,566.2 3179.9,560.6 3177.9,555.2 3176,550 3174.4,544.8 3173.1,539.5 3171.8,534.1 3170.7,528.7 3169.9,523.6 3169.3,518.4 3169.1,513.2 3169.2,507.9 3169.4,502.4 3169.9,496.8 3170.8,491.3 3172,485.8 3173.5,480.4 3175.1,475.1 3176.7,469.9 3178.3,464.6 3180.1,459.3 3183.5,454.5 3187.7,450.2 3191.9,446.1 3195.2,441.8 3197,437.2 3198.2,432.7 3199.7,428.4 3201.6,424.3 3202.1,418.5 3202.7,412 3205,406.1 3205.9,399 3206.2,391.4"/></clipPath><g clip-path="url(#c3)"><polyline points="3179.4,464.4 3169.4,470.4 3160,477.2 3151.5,484.8 3143.9,493.1 3136.6,501.9" fill="none" stroke="#3b2542" stroke-width="5"/><polyline points="3140.8,454.4 3146.6,465.4 3152.7,475.9 3158.5,485.7 3164.1,495 3170.1,503.6" fill="none" stroke="#3b2542" stroke-width="5"/><polyline points="3170.1,503.6 3163.2,511.5 3156.8,520.1 3151.2,529.6 3146.2,539.9 3141.8,550.6" fill="none" stroke="#3b2542" stroke-width="5"/><polyline points="3136.6,501.9 3143,511.6 3150.1,520.6 3157.8,528.6 3166,535.6 3174.5,542" fill="none" stroke="#3b2542" stroke-width="5"/><polyline points="3174.5,542 3170.3,551.6 3166.7,561.9 3163.5,572.5 3160.1,583 3156.5,593.7" fill="none" stroke="#3b2542" stroke-width="5"/><polyline points="3141.8,550.6 3150.9,557.9 3160.4,564.2 3169.9,570.1 3179.4,576.1 3188.7,582" fill="none" stroke="#3b2542" stroke-width="5"/><polyline points="3188.7,582 3185.4,592.6 3181.9,603.4 3177.2,613.5 3171.2,622.3 3164.4,630.1" fill="none" stroke="#3b2542" stroke-width="5"/><polyline points="3156.5,593.7 3166,599.6 3175.3,605.4 3184,612.4 3191.9,621.1 3199,630.9" fill="none" stroke="#3b2542" stroke-width="5"/><polyline points="3199,630.9 3191.5,640.2 3183.5,648.5 3175.1,655.9 3166.2,662 3157.1,667.1" fill="none" stroke="#3b2542" stroke-width="5"/><polyline points="3164.4,630.1 3170.8,638.3 3176.7,647.5 3181.8,657.4 3186.1,668.2 3189.3,679.8" fill="none" stroke="#3b2542" stroke-width="5"/><polyline points="3189.3,679.8 3179.2,685.8 3169.1,691 3159.1,696 3149.2,700.9 3139.2,705.6" fill="none" stroke="#3b2542" stroke-width="5"/><polyline points="3157.1,667.1 3160.3,677.3 3162.9,688 3165.4,698.9 3167.8,709.9 3170,721" fill="none" stroke="#3b2542" stroke-width="5"/><polyline points="3170,721 3159.8,725.9 3149.7,730.5 3139.5,735.2 3129.4,740.2 3119.4,745.3" fill="none" stroke="#3b2542" stroke-width="5"/><polyline points="3139.2,705.6 3141.4,716.4 3143.5,727.4 3145.7,738.3 3147.9,749.2 3150.3,760" fill="none" stroke="#3b2542" stroke-width="5"/><polyline points="3150.3,760 3140.4,765 3130.4,770 3120.5,775.1 3110.6,780.7 3100.9,787.1" fill="none" stroke="#3b2542" stroke-width="5"/><polyline points="3119.4,745.3 3121.9,756.1 3124.2,767 3126.7,777.9 3129.5,788.4 3132.9,798.4" fill="none" stroke="#3b2542" stroke-width="5"/><polyline points="3132.9,798.4 3124,804 3115.3,810.5 3106.8,817.6 3098.5,825.3 3090.5,833.6" fill="none" stroke="#3b2542" stroke-width="5"/><polyline points="3100.9,787.1 3104.5,798.3 3108.7,808.8 3113.4,818.9 3118.5,828.5 3124,837.6" fill="none" stroke="#3b2542" stroke-width="5"/><polyline points="3124,837.6 3116.5,845.1 3109.4,853.2 3102.7,862 3096.4,871.4 3090.6,881.4" fill="none" stroke="#3b2542" stroke-width="5"/><polyline points="3090.5,833.6 3096.3,843.7 3102.7,853.1 3109.4,861.9 3116.5,870 3124,877.6" fill="none" stroke="#3b2542" stroke-width="5"/><polyline points="3124,877.6 3118.4,886.6 3113.4,896.1 3109.1,906.3 3105.8,917.1 3103.6,928.4" fill="none" stroke="#3b2542" stroke-width="5"/><polyline points="3090.6,881.4 3098.6,889.9 3106.9,897.6 3115.5,904.5 3124.3,910.4 3133.1,915.4" fill="none" stroke="#3b2542" stroke-width="5"/><polyline points="3133.1,915.4 3130.5,925.3 3128.6,935.6 3127.4,945.9 3126.5,956.3 3125.9,966.6" fill="none" stroke="#3b2542" stroke-width="5"/><polyline points="3103.6,928.4 3113.4,933.8 3123.1,938.5 3132.7,942.9 3142,947.2 3151.1,951.6" fill="none" stroke="#3b2542" stroke-width="5"/><polyline points="3151.1,951.6 3149.8,961 3149.1,970.5 3148.9,979.9 3148.9,989.3 3149,998.4" fill="none" stroke="#3b2542" stroke-width="5"/><polyline points="3125.9,966.6 3135.2,970.2 3144.4,973.6 3153.4,976.7 3162.2,979.9 3170.9,983.4" fill="none" stroke="#3b2542" stroke-width="5"/><polyline points="3170.9,983.4 3170.4,992.4 3169.7,1001.2 3168.8,1009.9 3167.8,1018.4 3166.7,1026.7" fill="none" stroke="#3b2542" stroke-width="4"/><polyline points="3149,998.4 3157.2,1000.9 3165.3,1003.9 3173.2,1007.3 3181.1,1010.9 3188.9,1014.8" fill="none" stroke="#3b2542" stroke-width="4"/><polyline points="3188.9,1014.8 3187.6,1023.2 3186.1,1031.5 3184.1,1039.5 3181.8,1047.2 3179.1,1054.5" fill="none" stroke="#3b2542" stroke-width="3.8"/><polyline points="3166.7,1026.7 3174.1,1030 3181.5,1033.6 3188.8,1037.6 3195.8,1042.3 3202.6,1047.5" fill="none" stroke="#3b2542" stroke-width="3.8"/><polyline points="3202.6,1047.5 3199.6,1055.5 3196.3,1063 3192.8,1070.1 3189.1,1076.9 3185.3,1083.2" fill="none" stroke="#3b2542" stroke-width="3.6"/><polyline points="3179.1,1054.5 3185.5,1059 3191.6,1063.9 3197.4,1069.4 3202.8,1075.4 3207.6,1081.9" fill="none" stroke="#3b2542" stroke-width="3.6"/><polyline points="3207.6,1081.9 3203.3,1088.3 3198.7,1094.4 3194,1099.9 3189.3,1105 3184.5,1109.9" fill="none" stroke="#3b2542" stroke-width="3.3"/><polyline points="3185.3,1083.2 3190.1,1088.4 3194.4,1094.2 3198.2,1100.3 3201.5,1106.8 3204.4,1113.5" fill="none" stroke="#3b2542" stroke-width="3.3"/><polyline points="3204.4,1113.5 3199.2,1118.1 3194.1,1122.5 3189.1,1126.7 3184.1,1130.9 3179.1,1134.8" fill="none" stroke="#3b2542" stroke-width="3"/><polyline points="3184.5,1109.9 3187.5,1115.6 3190.3,1121.6 3192.8,1127.7 3195.2,1133.8 3197.4,1140.1" fill="none" stroke="#3b2542" stroke-width="3"/><polyline points="3197.4,1140.1 3192.2,1144 3187,1147.6 3181.8,1151 3176.6,1154.3 3171.4,1157.6" fill="none" stroke="#3b2542" stroke-width="2.8"/><polyline points="3179.1,1134.8 3181.4,1140.5 3183.4,1146.4 3185.3,1152.3 3187,1158.3 3188.5,1164.4" fill="none" stroke="#3b2542" stroke-width="2.8"/><polyline points="3188.5,1164.4 3183.2,1167.5 3177.9,1170.6 3172.8,1173.6 3167.9,1176.5 3163.1,1179.3" fill="none" stroke="#3b2542" stroke-width="2.7"/><polyline points="3171.4,1157.6 3173.2,1163.4 3174.7,1169.2 3176,1175 3176.8,1180.9 3177.2,1186.7" fill="none" stroke="#3b2542" stroke-width="2.7"/><polyline points="3177.2,1186.7 3172.3,1188.8 3167.5,1191 3162.9,1193.3 3158.5,1195.8 3154.3,1198.5" fill="none" stroke="#3b2542" stroke-width="2.4"/><polyline points="3163.1,1179.3 3164.1,1184.5 3164.9,1189.6 3165.4,1194.7 3165.9,1199.6 3166.3,1204.3" fill="none" stroke="#3b2542" stroke-width="2.4"/><polyline points="3166.3,1204.3 3162.1,1206.5 3158.2,1209.1 3154.6,1211.9 3151.1,1215 3147.8,1218.1" fill="none" stroke="#3b2542" stroke-width="2.2"/><polyline points="3154.3,1198.5 3155.1,1203.4 3156,1208.2 3156.8,1212.8 3157.7,1217.2 3158.4,1221.6" fill="none" stroke="#3b2542" stroke-width="2.2"/><polyline points="3158.4,1221.6 3155.1,1224.5 3151.9,1227.7 3148.9,1231 3146,1234.6 3143.3,1238.4" fill="none" stroke="#3b2542" stroke-width="2.2"/><polyline points="3147.8,1218.1 3148.8,1222.7 3149.8,1227.2 3150.9,1231.5 3152.2,1235.7 3153.6,1239.7" fill="none" stroke="#3b2542" stroke-width="2.2"/><polyline points="3153.6,1239.7 3151,1243.2 3148.7,1247 3147,1250.9 3146,1255 3145.6,1259.2" fill="none" stroke="#3b2542" stroke-width="2.2"/><polyline points="3143.3,1238.4 3145,1242.7 3146.9,1246.9 3148.7,1250.9 3150.3,1254.6 3151.7,1258.3" fill="none" stroke="#3b2542" stroke-width="2.2"/><polyline points="3151.7,1258.3 3150.7,1262.4 3150.4,1266.5 3150.5,1270.5 3150.9,1274.4 3151.6,1278.4" fill="none" stroke="#3b2542" stroke-width="2.2"/><polyline points="3145.6,1259.2 3147.8,1262.9 3149.6,1266.6 3151,1270.4 3152.1,1274.2 3153,1278.1" fill="none" stroke="#3b2542" stroke-width="2.2"/><polyline points="3153,1278.1 3153.3,1282.1 3153.3,1283.7 3153.1,1283.7 3152.9,1283.8 3152.7,1283.8" fill="none" stroke="#3b2542" stroke-width="2.2"/><polyline points="3151.6,1278.4 3152.6,1282.2 3153.1,1283.7 3153.3,1283.7 3153.5,1283.6 3153.7,1283.6" fill="none" stroke="#3b2542" stroke-width="2.2"/></g><polyline points="3168,434.6 3172.8,444.7 3175.9,453.7 3178.9,462.4" fill="none" stroke="#3b2542" stroke-width="5"/><polyline points="3168,434.6 3157.7,439.5 3149.7,445.8 3142.3,452.5" fill="none" stroke="#3b2542" stroke-width="5"/><path d="M3191.3 421.9Q3189.9 421.8 3189.2 420.6Q3188.6 419.4 3189 417.6Q3189.5 415.8 3190.6 414.4Q3191.7 413 3192.8 412.9Q3193.9 412.8 3194.6 414.2Q3195.2 415.5 3195.1 417.5Q3194.9 419.5 3193.8 420.7Q3192.6 421.9 3191.3 421.9Z" fill="#2a1c25"/><path d="M3167 406.7Q3165.5 406.9 3165 405.5Q3164.5 404.1 3165.5 402Q3166.5 400 3168.6 398.8Q3170.7 397.7 3172.3 397.8Q3173.9 397.8 3174.1 399Q3174.2 400.2 3173.1 402Q3171.9 403.7 3170.2 405.2Q3168.5 406.6 3167 406.7Z" fill="#2a1c25"/>
<!-- snake s4 --><path d="M519 1106 L510 1080 L520 1092 L536 1078 L523 1108Z" fill="#f26c7f"/><polygon points="506.2,1103.1 500.2,1108.6 492,1113.9 490.3,1120.1 487.9,1126.7 485.7,1133.8 485.2,1140.8 486.3,1147.6 488.1,1154 489.8,1160.3 490.7,1166.6 491.9,1172.9 493.5,1179.2 495.4,1185.4 497.2,1191.7 498.6,1198.1 499.7,1204.5 501,1210.9 502.3,1217.2 503.7,1223.5 505.2,1229.6 506.7,1235.7 508.2,1241.7 509.7,1247.7 511.2,1253.6 512.7,1259.5 514.3,1265.5 516,1271.5 517.7,1277.5 519.4,1283.4 521.1,1289.3 522.9,1295.1 524.7,1300.9 526.5,1306.7 528.4,1312.6 530.4,1318.6 532.5,1324.8 534.6,1330.7 536.5,1336.3 538.3,1341.7 539.7,1346.7 540.7,1351.2 541.3,1355.3 541.5,1359.3 541.5,1363.2 541.1,1366.5 540.6,1368.7 539.8,1370.3 538.8,1371.8 537.4,1373.5 535.4,1375.5 532.7,1377.9 529.6,1380.4 526.2,1382.9 522.4,1385.4 518.6,1387.7 514.8,1389.7 510.9,1391.5 506.6,1393.1 501.8,1394.7 496.5,1396.4 490.9,1398 485,1399.7 478.8,1401.6 472.3,1403.6 466,1405.9 459.9,1408.1 454.2,1410.3 448.3,1412.5 442.3,1414.8 436.1,1417.3 429.8,1420.1 423.3,1423.3 416.7,1427 410.3,1431.3 404.1,1436 398.4,1441 393,1446.3 388,1451.9 383.3,1457.8 378.9,1464 374.9,1470.5 371.2,1477.4 367.9,1484.7 365.2,1492.5 363.2,1500.5 361.8,1508.4 361.2,1516.1 361.2,1523.6 361.9,1530.8 363,1537.8 364.6,1544.6 366.5,1551.4 368.7,1558 371.3,1564.6 374.2,1571.1 377.5,1577.5 381.1,1583.6 384.8,1589.4 388.6,1595 392.4,1600.3 396.2,1605.7 400,1610.8 404.3,1615.7 409.1,1620.2 414.3,1624.4 419.7,1628.2 425.3,1631.6 430.9,1634.7 436.5,1637.7 442.2,1640.6 447.9,1643.5 453.7,1646.1 459.4,1648.5 464.9,1651.1 470.1,1654 470.7,1653.2 465.6,1649.8 460.7,1646.3 456.2,1642.3 452.1,1638 448.4,1633.2 444.9,1628.2 441.6,1623.1 438.4,1617.9 435.4,1612.8 432.5,1607.8 429.7,1602.9 426.9,1598.1 424,1593.3 420.8,1588.6 417.9,1583.9 415.2,1579 413,1574.1 411.2,1569.1 409.9,1564.2 408.9,1559.3 408.4,1554.3 408,1549.2 407.9,1543.9 407.9,1538.7 408,1533.5 408.2,1528.5 408.6,1523.6 408.9,1519 409.4,1514.8 410.1,1510.8 411.2,1507.1 412.7,1503.5 414.6,1500 416.9,1496.4 419.5,1492.8 422.4,1489.4 425.6,1486.1 428.9,1483 432.4,1480.1 436,1477.5 439.7,1475.1 443.5,1473 447.5,1471 452,1469.1 456.8,1467.1 461.8,1465.1 467.1,1463.2 472.6,1461.2 478.2,1459.3 483.6,1457.5 488.7,1455.9 493.8,1454.6 499.3,1453.3 505.1,1452 511.1,1450.5 517.5,1449 524.2,1447.1 531.3,1444.8 538.6,1441.9 545.7,1438.5 552.3,1434.9 558.7,1430.8 565.1,1426.3 571.3,1421.1 577.4,1415.2 583.2,1408.1 588.5,1399.7 592.7,1390.3 595.3,1380.3 596.2,1370.6 596,1361.8 595.1,1353.6 593.7,1345.7 591.6,1338 589.1,1330.9 586.6,1324.5 584.2,1318.5 581.8,1312.9 579.6,1307.5 577.7,1302.3 575.9,1296.9 574,1291.3 572.1,1285.6 570.2,1279.8 568.2,1274.2 566.3,1268.5 564.4,1262.9 562.5,1257.3 560.7,1251.8 558.9,1246.2 557.2,1240.5 555.4,1234.8 553.6,1229.1 551.9,1223.5 550.3,1217.9 548.8,1212.3 547.4,1206.8 546.1,1201.3 544.9,1195.9 543.9,1190.5 543.4,1184.9 543.6,1179.2 544,1173.5 544.5,1167.7 544.5,1162 544.4,1156.3 545.3,1150.5 546.5,1144.8 547.1,1139.5 546.5,1134.5 544.7,1129.5 543.2,1124 542.5,1118.2 535.4,1111.4 530.2,1104.9" fill="#1fa851"/><clipPath id="c4"><polygon points="506.2,1103.1 500.2,1108.6 492,1113.9 490.3,1120.1 487.9,1126.7 485.7,1133.8 485.2,1140.8 486.3,1147.6 488.1,1154 489.8,1160.3 490.7,1166.6 491.9,1172.9 493.5,1179.2 495.4,1185.4 497.2,1191.7 498.6,1198.1 499.7,1204.5 501,1210.9 502.3,1217.2 503.7,1223.5 505.2,1229.6 506.7,1235.7 508.2,1241.7 509.7,1247.7 511.2,1253.6 512.7,1259.5 514.3,1265.5 516,1271.5 517.7,1277.5 519.4,1283.4 521.1,1289.3 522.9,1295.1 524.7,1300.9 526.5,1306.7 528.4,1312.6 530.4,1318.6 532.5,1324.8 534.6,1330.7 536.5,1336.3 538.3,1341.7 539.7,1346.7 540.7,1351.2 541.3,1355.3 541.5,1359.3 541.5,1363.2 541.1,1366.5 540.6,1368.7 539.8,1370.3 538.8,1371.8 537.4,1373.5 535.4,1375.5 532.7,1377.9 529.6,1380.4 526.2,1382.9 522.4,1385.4 518.6,1387.7 514.8,1389.7 510.9,1391.5 506.6,1393.1 501.8,1394.7 496.5,1396.4 490.9,1398 485,1399.7 478.8,1401.6 472.3,1403.6 466,1405.9 459.9,1408.1 454.2,1410.3 448.3,1412.5 442.3,1414.8 436.1,1417.3 429.8,1420.1 423.3,1423.3 416.7,1427 410.3,1431.3 404.1,1436 398.4,1441 393,1446.3 388,1451.9 383.3,1457.8 378.9,1464 374.9,1470.5 371.2,1477.4 367.9,1484.7 365.2,1492.5 363.2,1500.5 361.8,1508.4 361.2,1516.1 361.2,1523.6 361.9,1530.8 363,1537.8 364.6,1544.6 366.5,1551.4 368.7,1558 371.3,1564.6 374.2,1571.1 377.5,1577.5 381.1,1583.6 384.8,1589.4 388.6,1595 392.4,1600.3 396.2,1605.7 400,1610.8 404.3,1615.7 409.1,1620.2 414.3,1624.4 419.7,1628.2 425.3,1631.6 430.9,1634.7 436.5,1637.7 442.2,1640.6 447.9,1643.5 453.7,1646.1 459.4,1648.5 464.9,1651.1 470.1,1654 470.7,1653.2 465.6,1649.8 460.7,1646.3 456.2,1642.3 452.1,1638 448.4,1633.2 444.9,1628.2 441.6,1623.1 438.4,1617.9 435.4,1612.8 432.5,1607.8 429.7,1602.9 426.9,1598.1 424,1593.3 420.8,1588.6 417.9,1583.9 415.2,1579 413,1574.1 411.2,1569.1 409.9,1564.2 408.9,1559.3 408.4,1554.3 408,1549.2 407.9,1543.9 407.9,1538.7 408,1533.5 408.2,1528.5 408.6,1523.6 408.9,1519 409.4,1514.8 410.1,1510.8 411.2,1507.1 412.7,1503.5 414.6,1500 416.9,1496.4 419.5,1492.8 422.4,1489.4 425.6,1486.1 428.9,1483 432.4,1480.1 436,1477.5 439.7,1475.1 443.5,1473 447.5,1471 452,1469.1 456.8,1467.1 461.8,1465.1 467.1,1463.2 472.6,1461.2 478.2,1459.3 483.6,1457.5 488.7,1455.9 493.8,1454.6 499.3,1453.3 505.1,1452 511.1,1450.5 517.5,1449 524.2,1447.1 531.3,1444.8 538.6,1441.9 545.7,1438.5 552.3,1434.9 558.7,1430.8 565.1,1426.3 571.3,1421.1 577.4,1415.2 583.2,1408.1 588.5,1399.7 592.7,1390.3 595.3,1380.3 596.2,1370.6 596,1361.8 595.1,1353.6 593.7,1345.7 591.6,1338 589.1,1330.9 586.6,1324.5 584.2,1318.5 581.8,1312.9 579.6,1307.5 577.7,1302.3 575.9,1296.9 574,1291.3 572.1,1285.6 570.2,1279.8 568.2,1274.2 566.3,1268.5 564.4,1262.9 562.5,1257.3 560.7,1251.8 558.9,1246.2 557.2,1240.5 555.4,1234.8 553.6,1229.1 551.9,1223.5 550.3,1217.9 548.8,1212.3 547.4,1206.8 546.1,1201.3 544.9,1195.9 543.9,1190.5 543.4,1184.9 543.6,1179.2 544,1173.5 544.5,1167.7 544.5,1162 544.4,1156.3 545.3,1150.5 546.5,1144.8 547.1,1139.5 546.5,1134.5 544.7,1129.5 543.2,1124 542.5,1118.2 535.4,1111.4 530.2,1104.9"/></clipPath><g clip-path="url(#c4)"><polygon points="544,1190.6 535.1,1186.8 526.2,1182.8 516.8,1178.5 506.8,1174.1 508.5,1182.7 518.1,1187 527.2,1191.1 536.2,1194.8 545.4,1198.2" fill="#f5de4c"/><polygon points="532.6,1209.5 523.9,1206.3 515.2,1202.8 506.6,1199.1 498,1195 499.6,1204.1 508.3,1207.9 517,1211.4 525.7,1214.6 534.6,1217.6" fill="#f5de4c"/><polygon points="557.1,1240.3 547.2,1237.5 537.4,1234.6 527.7,1231.6 518.1,1228.5 520.3,1236.9 530,1239.9 539.8,1242.7 549.6,1245.6 559.6,1248.3" fill="#f5de4c"/><polygon points="547.1,1260.9 537.8,1258.4 528.5,1255.8 519.4,1253.1 510.4,1250.4 512.5,1258.7 521.7,1261.5 530.9,1264.1 540.2,1266.6 549.6,1268.9" fill="#f5de4c"/><polygon points="573.8,1290.7 563.5,1288.3 553.2,1285.9 543,1283.5 532.8,1281.1 535.4,1289.2 545.6,1291.6 555.9,1294 566.2,1296.4 576.4,1298.6" fill="#f5de4c"/><polygon points="563.8,1311.8 554.2,1309.9 544.6,1307.7 535,1305.5 525.4,1303.2 528,1311.4 537.7,1313.8 547.3,1316 557.1,1317.9 566.8,1319.6" fill="#f5de4c"/><polygon points="593.4,1344.4 582.2,1340 571.3,1336.9 560.6,1334.6 550.1,1332.8 552.7,1340.5 563.2,1342.6 573.9,1345.6 584.7,1349.9 595.4,1355.6" fill="#f5de4c"/><polygon points="578.4,1367.1 569.1,1361.6 559.6,1357.5 550.3,1354.5 541,1352.6 541.5,1358.3 550.7,1361.1 559.9,1364.9 568.9,1370.1 577.3,1377.3" fill="#f5de4c"/><polygon points="572.7,1419.9 570.4,1407.3 566.7,1395.4 561.3,1384.9 554.1,1376.5 551.1,1381.5 556.5,1391.4 560.3,1402.6 562.7,1414.7 563.9,1427.2" fill="#f5de4c"/><polygon points="544.7,1417.5 543.7,1406.5 541.8,1395.7 538.9,1385.5 534.7,1376.2 530.6,1379.6 533.6,1389.6 535.5,1400.2 536.5,1411 536.6,1422.1" fill="#f5de4c"/><polygon points="512.9,1450.1 515.8,1438.8 518.4,1427.4 520.2,1415.8 520.8,1404.3 513.9,1407.1 512.3,1418.5 509.9,1429.8 507.1,1441.1 504.3,1452.1" fill="#f5de4c"/><polygon points="491.4,1436.7 493.8,1426.4 496.3,1416 498.7,1405.6 500.7,1395.1 493,1397.4 490.6,1407.9 488,1418.3 485.6,1428.6 483.5,1438.9" fill="#f5de4c"/><polygon points="463.6,1464.4 465.1,1453.5 466.8,1442.5 468.5,1431.4 470.5,1420.2 462.3,1423.2 460.5,1434.3 458.8,1445.3 457.4,1456.3 456.5,1467.2" fill="#f5de4c"/><polygon points="442.2,1454.3 442.8,1444.1 444.1,1433.7 445.6,1423.3 447.4,1412.8 438.8,1416.1 437.2,1426.7 435.9,1437.2 435.2,1447.7 435.2,1457.8" fill="#f5de4c"/><polygon points="426.9,1484.8 423.6,1475.3 421,1465.2 419.2,1454.5 418.4,1443.3 410.8,1449.1 412.6,1460.1 415.1,1470.5 418.4,1480.3 422.4,1489.4" fill="#f5de4c"/><polygon points="404.9,1485.4 400.9,1476.7 397.4,1467.3 394.6,1457.3 392.5,1446.8 385.6,1454.8 388.5,1465.1 392,1474.7 396.1,1483.7 400.8,1491.9" fill="#f5de4c"/><polygon points="409.2,1517 401,1511.9 393.4,1505.6 386.5,1498.1 380.4,1489.5 377.2,1498.8 384.3,1506.6 392.1,1513.2 400.3,1518.7 408.6,1523.3" fill="#f5de4c"/><polygon points="393.2,1531.4 385.2,1526.9 377.2,1521.7 369.3,1515.7 361.8,1508.7 361.1,1519.5 369.3,1525.5 377.6,1530.8 385.8,1535.4 393.7,1539.5" fill="#f5de4c"/><polygon points="409.3,1561.6 402.2,1559.2 394.5,1556.2 386.3,1552.6 377.7,1548.5 380,1557.3 388.5,1560.9 396.4,1564 404,1566.5 411,1568.5" fill="#f5de4c"/><polygon points="404.7,1580.7 397.6,1578.9 390.2,1576.8 382.4,1574.1 374.1,1571 378.8,1579.9 386.9,1582.4 394.5,1584.5 401.8,1586.3 408.8,1587.9" fill="#f5de4c"/><polygon points="430.8,1604.9 424.4,1603.7 417.4,1602.6 409.9,1601.4 402.3,1600 407.4,1607 415.1,1608.2 422.3,1609.3 428.9,1610.4 434.8,1611.9" fill="#f5de4c"/><polygon points="435.2,1623.5 429.5,1622.2 423.1,1621.3 416.2,1620.6 408.7,1619.9 416,1625.7 423.2,1626.2 429.7,1626.9 435.6,1628.1 440.9,1629.8" fill="#f5de4c"/></g><path d="M531.4 1141.3Q530.1 1142 528.8 1141.4Q527.5 1140.8 526.9 1139.3Q526.3 1137.8 526.8 1136.3Q527.3 1134.8 528.5 1134.2Q529.7 1133.6 531.1 1134.3Q532.4 1134.9 533.1 1136.3Q533.8 1137.8 533.2 1139.2Q532.7 1140.7 531.4 1141.3Z" fill="#27408b"/><path d="M500.6 1142.2Q499.3 1142.9 498 1142.3Q496.6 1141.6 496 1139.9Q495.4 1138.1 496 1136.3Q496.7 1134.6 498.1 1133.9Q499.5 1133.1 500.7 1133.9Q501.9 1134.6 502.4 1136.3Q502.8 1138 502.3 1139.8Q501.8 1141.5 500.6 1142.2Z" fill="#27408b"/>
<!-- snake s5 --><polygon points="1973.3,1377.7 1979.4,1381.3 1985.6,1387.7 1991.7,1390.6 1997.4,1391.5 2002.5,1393.6 2007.2,1396.1 2011.2,1398.4 2015.2,1399.8 2019.4,1400.9 2023.9,1402.4 2028.7,1404.1 2033.8,1406.1 2039,1408.3 2044.5,1410.7 2050.2,1413.1 2056.1,1415.3 2062.5,1417.5 2069,1419.4 2075.5,1421.2 2081.8,1422.8 2087.7,1424.3 2093.3,1426 2098.4,1427.6 2103.2,1429.3 2107.5,1431.2 2111.8,1433.2 2116,1435.6 2120.3,1438.3 2124.6,1441.2 2128.9,1444.4 2133.2,1447.6 2137.5,1451.1 2141.7,1454.6 2145.9,1458.3 2149.8,1461.9 2153.5,1465.5 2157,1469.2 2160.4,1473.2 2164,1477.5 2167.6,1482 2171.4,1486.8 2175.4,1491.7 2179.4,1496.6 2183.3,1501.1 2187,1505.6 2190.8,1510.2 2194.8,1515.1 2199.1,1520.1 2203.8,1525.3 2209.1,1530.5 2214.8,1535.4 2220.7,1539.9 2226.6,1543.9 2232.6,1547.6 2238.8,1551 2244.9,1554.2 2251.2,1557 2257.5,1559.7 2264,1562.2 2270.9,1564.5 2278.1,1566.3 2285,1567.7 2291.4,1568.8 2297.4,1569.7 2303.1,1570.6 2308.3,1571.6 2313,1572.6 2317.4,1573.9 2321.7,1575.5 2326.4,1577.5 2331.1,1579.7 2335.6,1582 2339.9,1584.4 2344,1587 2347.7,1589.7 2351.2,1592.4 2354.2,1595.2 2356.7,1598.1 2359.1,1601.4 2361.5,1605.4 2364.1,1610 2366.8,1615.1 2369.7,1620.6 2373,1626.5 2376.6,1632.3 2380.2,1637.7 2383.5,1642.8 2386.9,1647.8 2390.4,1653 2394.1,1658.4 2398,1663.8 2402.3,1669.3 2407,1674.8 2412.1,1680 2417.4,1684.9 2422.8,1689.5 2428.4,1693.8 2434.2,1697.9 2440.2,1701.8 2446.5,1705.4 2453.1,1708.7 2459.9,1711.6 2467.3,1714.2 2474.9,1716.3 2482.5,1717.6 2489.6,1718.4 2496.3,1718.9 2502.6,1719.3 2508.5,1719.6 2514,1720 2519.2,1720.4 2524.6,1721.2 2530.5,1722.1 2536.4,1723 2541.9,1723.8 2546.7,1724.6 2550.8,1725.6 2554.1,1726.7 2556.9,1728.1 2559.5,1729.9 2562.3,1732.3 2565.3,1735.4 2568.4,1739 2571.7,1743.2 2575,1747.6 2578.5,1752.4 2582,1757 2585.2,1761.4 2587.9,1765.7 2590.6,1770.2 2593.5,1775.3 2596.6,1780.7 2600,1786.5 2604,1792.6 2608.5,1798.8 2613.6,1804.4 2618.7,1809.6 2624,1814.4 2629.4,1819 2635.2,1823.3 2641.1,1827.4 2647.4,1831.1 2654,1834.6 2661.2,1837.8 2668.7,1840.4 2676,1842.2 2682.7,1843.5 2688.9,1844.6 2694.6,1845.5 2699.7,1846.4 2704.3,1847.3 2708.7,1848.7 2713.4,1850.4 2718.3,1852.3 2723,1854.3 2727.5,1856.5 2731.8,1858.8 2735.8,1861.3 2739.2,1863.6 2742,1866.1 2744.7,1869.2 2747.8,1873.4 2751.5,1878.5 2755.9,1884.3 2761.3,1890.3 2767.3,1895.5 2773.2,1899.9 2778.8,1903.8 2784.7,1907.3 2791,1910.6 2797.7,1913.4 2804.9,1915.7 2812.3,1917.5 2820,1918.4 2827.5,1918.7 2834.7,1918.3 2841.8,1917.4 2848.5,1916.3 2855.1,1914.9 2861.5,1913.4 2867.8,1911.8 2874,1910.1 2880.1,1907.8 2886,1905 2891.7,1901.7 2897.1,1898.2 2902.4,1894.7 2907.6,1891.2 2912.8,1888 2918.1,1885 2923.3,1881.9 2928,1877.9 2932.6,1873.5 2937.3,1869.4 2942.5,1866.3 2942.1,1865.4 2936.3,1867.2 2930.1,1868.3 2923.8,1869.1 2917.7,1870.3 2912,1872.4 2906.5,1874.7 2900.8,1876.6 2895,1878.2 2889.2,1879.4 2883.5,1880.5 2877.9,1881.4 2872.3,1882.3 2866.8,1883.3 2861.3,1884.5 2855.8,1885.6 2850.4,1886.3 2845.1,1886.7 2839.9,1886.6 2834.8,1886.2 2830,1885.4 2825.6,1884.2 2821.5,1882.7 2817.4,1880.8 2813.4,1878.5 2809.3,1876 2805.1,1873.3 2800.9,1870.4 2796.6,1867.4 2792.9,1864.6 2789.8,1861.9 2787.3,1858.7 2784.6,1854.8 2781.5,1849.9 2777.7,1844.2 2772.8,1838 2767.1,1832 2761,1827 2755,1822.6 2749,1818.8 2742.9,1815.3 2736.7,1812.1 2730.5,1809.2 2724,1806.4 2717,1803.9 2709.9,1802 2703.1,1800.5 2697,1799.4 2691.3,1798.3 2686.2,1797.3 2681.8,1796.2 2677.9,1794.9 2674.1,1793.2 2670.1,1791.1 2666,1788.6 2662,1785.9 2658.1,1783 2654.3,1779.8 2650.7,1776.4 2647.4,1773.1 2644.4,1769.7 2641.8,1766.2 2639.2,1762.2 2636.6,1757.6 2633.7,1752.5 2630.7,1747 2627.3,1741.2 2623.5,1735.4 2619.6,1729.9 2615.9,1724.9 2612.3,1719.9 2608.4,1714.7 2604.2,1709.4 2599.5,1703.9 2594.1,1698.4 2587.7,1692.9 2580.5,1687.9 2572.5,1683.9 2564.4,1681 2556.8,1679 2549.7,1677.7 2543.3,1676.7 2537.4,1675.9 2531.3,1674.9 2524.8,1674 2518,1673.3 2511.4,1672.8 2505.3,1672.5 2499.6,1672.1 2494.3,1671.7 2489.4,1671.2 2485.1,1670.4 2481.1,1669.4 2477.1,1667.9 2472.9,1666.1 2468.7,1664 2464.5,1661.6 2460.4,1658.9 2456.4,1656.1 2452.4,1653 2448.6,1649.8 2445,1646.5 2441.8,1643.1 2438.7,1639.4 2435.5,1635.4 2432.4,1631.1 2429.2,1626.5 2426,1621.7 2422.7,1616.7 2419.4,1611.7 2416.2,1607.1 2413.5,1602.7 2410.9,1598 2408.2,1592.9 2405.3,1587.4 2402,1581.5 2398.1,1575.2 2393.4,1568.7 2388,1562.6 2382.2,1557.1 2376.2,1552.3 2370.2,1548 2364.1,1544.1 2357.9,1540.6 2351.7,1537.4 2345.4,1534.5 2339,1531.8 2332.1,1529.2 2324.9,1527.1 2317.8,1525.5 2311.2,1524.3 2304.9,1523.3 2299.1,1522.4 2293.6,1521.5 2288.7,1520.5 2284.1,1519.3 2279.6,1517.8 2274.9,1516 2270.1,1514 2265.4,1511.8 2260.8,1509.5 2256.4,1507.1 2252.1,1504.5 2248.1,1501.7 2244.4,1498.9 2241,1496 2237.7,1492.7 2234.3,1489 2230.8,1484.9 2227.1,1480.4 2223.3,1475.7 2219.3,1470.8 2215.3,1466.2 2211.6,1461.8 2208,1457.4 2204.3,1452.7 2200.4,1447.8 2196.3,1442.8 2191.9,1437.7 2187.1,1432.6 2182.2,1427.8 2177.2,1423.3 2172.3,1419 2167.3,1414.8 2162.2,1410.6 2156.9,1406.6 2151.5,1402.7 2145.8,1398.9 2139.9,1395.2 2133.6,1391.6 2127,1388.4 2120.3,1385.6 2113.7,1383.2 2107.4,1381.1 2101.4,1379.3 2095.7,1377.4 2090.5,1375.4 2085.6,1373.3 2080.9,1371 2076.1,1368.5 2071,1365.9 2065.7,1363.3 2060.1,1360.8 2054.4,1358.1 2048.3,1355.5 2041.9,1352.8 2035,1350.4 2027.6,1348.2 2019.8,1347.2 2011.9,1348 2004.5,1349.8 1997.6,1351.6 1991.2,1352.6 1985.2,1355.8 1979.4,1362.3 1973.5,1365.7" fill="#36b44c"/><clipPath id="c5"><polygon points="1973.3,1377.7 1979.4,1381.3 1985.6,1387.7 1991.7,1390.6 1997.4,1391.5 2002.5,1393.6 2007.2,1396.1 2011.2,1398.4 2015.2,1399.8 2019.4,1400.9 2023.9,1402.4 2028.7,1404.1 2033.8,1406.1 2039,1408.3 2044.5,1410.7 2050.2,1413.1 2056.1,1415.3 2062.5,1417.5 2069,1419.4 2075.5,1421.2 2081.8,1422.8 2087.7,1424.3 2093.3,1426 2098.4,1427.6 2103.2,1429.3 2107.5,1431.2 2111.8,1433.2 2116,1435.6 2120.3,1438.3 2124.6,1441.2 2128.9,1444.4 2133.2,1447.6 2137.5,1451.1 2141.7,1454.6 2145.9,1458.3 2149.8,1461.9 2153.5,1465.5 2157,1469.2 2160.4,1473.2 2164,1477.5 2167.6,1482 2171.4,1486.8 2175.4,1491.7 2179.4,1496.6 2183.3,1501.1 2187,1505.6 2190.8,1510.2 2194.8,1515.1 2199.1,1520.1 2203.8,1525.3 2209.1,1530.5 2214.8,1535.4 2220.7,1539.9 2226.6,1543.9 2232.6,1547.6 2238.8,1551 2244.9,1554.2 2251.2,1557 2257.5,1559.7 2264,1562.2 2270.9,1564.5 2278.1,1566.3 2285,1567.7 2291.4,1568.8 2297.4,1569.7 2303.1,1570.6 2308.3,1571.6 2313,1572.6 2317.4,1573.9 2321.7,1575.5 2326.4,1577.5 2331.1,1579.7 2335.6,1582 2339.9,1584.4 2344,1587 2347.7,1589.7 2351.2,1592.4 2354.2,1595.2 2356.7,1598.1 2359.1,1601.4 2361.5,1605.4 2364.1,1610 2366.8,1615.1 2369.7,1620.6 2373,1626.5 2376.6,1632.3 2380.2,1637.7 2383.5,1642.8 2386.9,1647.8 2390.4,1653 2394.1,1658.4 2398,1663.8 2402.3,1669.3 2407,1674.8 2412.1,1680 2417.4,1684.9 2422.8,1689.5 2428.4,1693.8 2434.2,1697.9 2440.2,1701.8 2446.5,1705.4 2453.1,1708.7 2459.9,1711.6 2467.3,1714.2 2474.9,1716.3 2482.5,1717.6 2489.6,1718.4 2496.3,1718.9 2502.6,1719.3 2508.5,1719.6 2514,1720 2519.2,1720.4 2524.6,1721.2 2530.5,1722.1 2536.4,1723 2541.9,1723.8 2546.7,1724.6 2550.8,1725.6 2554.1,1726.7 2556.9,1728.1 2559.5,1729.9 2562.3,1732.3 2565.3,1735.4 2568.4,1739 2571.7,1743.2 2575,1747.6 2578.5,1752.4 2582,1757 2585.2,1761.4 2587.9,1765.7 2590.6,1770.2 2593.5,1775.3 2596.6,1780.7 2600,1786.5 2604,1792.6 2608.5,1798.8 2613.6,1804.4 2618.7,1809.6 2624,1814.4 2629.4,1819 2635.2,1823.3 2641.1,1827.4 2647.4,1831.1 2654,1834.6 2661.2,1837.8 2668.7,1840.4 2676,1842.2 2682.7,1843.5 2688.9,1844.6 2694.6,1845.5 2699.7,1846.4 2704.3,1847.3 2708.7,1848.7 2713.4,1850.4 2718.3,1852.3 2723,1854.3 2727.5,1856.5 2731.8,1858.8 2735.8,1861.3 2739.2,1863.6 2742,1866.1 2744.7,1869.2 2747.8,1873.4 2751.5,1878.5 2755.9,1884.3 2761.3,1890.3 2767.3,1895.5 2773.2,1899.9 2778.8,1903.8 2784.7,1907.3 2791,1910.6 2797.7,1913.4 2804.9,1915.7 2812.3,1917.5 2820,1918.4 2827.5,1918.7 2834.7,1918.3 2841.8,1917.4 2848.5,1916.3 2855.1,1914.9 2861.5,1913.4 2867.8,1911.8 2874,1910.1 2880.1,1907.8 2886,1905 2891.7,1901.7 2897.1,1898.2 2902.4,1894.7 2907.6,1891.2 2912.8,1888 2918.1,1885 2923.3,1881.9 2928,1877.9 2932.6,1873.5 2937.3,1869.4 2942.5,1866.3 2942.1,1865.4 2936.3,1867.2 2930.1,1868.3 2923.8,1869.1 2917.7,1870.3 2912,1872.4 2906.5,1874.7 2900.8,1876.6 2895,1878.2 2889.2,1879.4 2883.5,1880.5 2877.9,1881.4 2872.3,1882.3 2866.8,1883.3 2861.3,1884.5 2855.8,1885.6 2850.4,1886.3 2845.1,1886.7 2839.9,1886.6 2834.8,1886.2 2830,1885.4 2825.6,1884.2 2821.5,1882.7 2817.4,1880.8 2813.4,1878.5 2809.3,1876 2805.1,1873.3 2800.9,1870.4 2796.6,1867.4 2792.9,1864.6 2789.8,1861.9 2787.3,1858.7 2784.6,1854.8 2781.5,1849.9 2777.7,1844.2 2772.8,1838 2767.1,1832 2761,1827 2755,1822.6 2749,1818.8 2742.9,1815.3 2736.7,1812.1 2730.5,1809.2 2724,1806.4 2717,1803.9 2709.9,1802 2703.1,1800.5 2697,1799.4 2691.3,1798.3 2686.2,1797.3 2681.8,1796.2 2677.9,1794.9 2674.1,1793.2 2670.1,1791.1 2666,1788.6 2662,1785.9 2658.1,1783 2654.3,1779.8 2650.7,1776.4 2647.4,1773.1 2644.4,1769.7 2641.8,1766.2 2639.2,1762.2 2636.6,1757.6 2633.7,1752.5 2630.7,1747 2627.3,1741.2 2623.5,1735.4 2619.6,1729.9 2615.9,1724.9 2612.3,1719.9 2608.4,1714.7 2604.2,1709.4 2599.5,1703.9 2594.1,1698.4 2587.7,1692.9 2580.5,1687.9 2572.5,1683.9 2564.4,1681 2556.8,1679 2549.7,1677.7 2543.3,1676.7 2537.4,1675.9 2531.3,1674.9 2524.8,1674 2518,1673.3 2511.4,1672.8 2505.3,1672.5 2499.6,1672.1 2494.3,1671.7 2489.4,1671.2 2485.1,1670.4 2481.1,1669.4 2477.1,1667.9 2472.9,1666.1 2468.7,1664 2464.5,1661.6 2460.4,1658.9 2456.4,1656.1 2452.4,1653 2448.6,1649.8 2445,1646.5 2441.8,1643.1 2438.7,1639.4 2435.5,1635.4 2432.4,1631.1 2429.2,1626.5 2426,1621.7 2422.7,1616.7 2419.4,1611.7 2416.2,1607.1 2413.5,1602.7 2410.9,1598 2408.2,1592.9 2405.3,1587.4 2402,1581.5 2398.1,1575.2 2393.4,1568.7 2388,1562.6 2382.2,1557.1 2376.2,1552.3 2370.2,1548 2364.1,1544.1 2357.9,1540.6 2351.7,1537.4 2345.4,1534.5 2339,1531.8 2332.1,1529.2 2324.9,1527.1 2317.8,1525.5 2311.2,1524.3 2304.9,1523.3 2299.1,1522.4 2293.6,1521.5 2288.7,1520.5 2284.1,1519.3 2279.6,1517.8 2274.9,1516 2270.1,1514 2265.4,1511.8 2260.8,1509.5 2256.4,1507.1 2252.1,1504.5 2248.1,1501.7 2244.4,1498.9 2241,1496 2237.7,1492.7 2234.3,1489 2230.8,1484.9 2227.1,1480.4 2223.3,1475.7 2219.3,1470.8 2215.3,1466.2 2211.6,1461.8 2208,1457.4 2204.3,1452.7 2200.4,1447.8 2196.3,1442.8 2191.9,1437.7 2187.1,1432.6 2182.2,1427.8 2177.2,1423.3 2172.3,1419 2167.3,1414.8 2162.2,1410.6 2156.9,1406.6 2151.5,1402.7 2145.8,1398.9 2139.9,1395.2 2133.6,1391.6 2127,1388.4 2120.3,1385.6 2113.7,1383.2 2107.4,1381.1 2101.4,1379.3 2095.7,1377.4 2090.5,1375.4 2085.6,1373.3 2080.9,1371 2076.1,1368.5 2071,1365.9 2065.7,1363.3 2060.1,1360.8 2054.4,1358.1 2048.3,1355.5 2041.9,1352.8 2035,1350.4 2027.6,1348.2 2019.8,1347.2 2011.9,1348 2004.5,1349.8 1997.6,1351.6 1991.2,1352.6 1985.2,1355.8 1979.4,1362.3 1973.5,1365.7"/></clipPath><g clip-path="url(#c5)"><path d="M2163.7 1454.3Q2166.6 1462.3 2160.5 1462.7Q2154.4 1463.2 2147.8 1462.4Q2141.3 1461.6 2135.2 1456Q2129 1450.3 2123.6 1445.8Q2118.2 1441.2 2111.8 1435.6Q2105.4 1430.1 2110.4 1426Q2115.4 1421.9 2117.8 1417.9Q2120.2 1414 2127.5 1414.8Q2134.8 1415.5 2143.4 1418Q2152 1420.6 2158.1 1428.1Q2164.2 1435.7 2162.6 1441Q2160.9 1446.3 2163.7 1454.3Z" fill="#0f9c8a"/><path d="M2153.9 1451.3Q2153.3 1454.8 2148.8 1453.6Q2144.3 1452.4 2140 1452.9Q2135.7 1453.3 2132.8 1448.5Q2129.8 1443.6 2127.5 1439.8Q2125.1 1436 2126.9 1433.7Q2128.6 1431.4 2132.7 1431Q2136.8 1430.7 2141.2 1435Q2145.6 1439.2 2150 1443.5Q2154.5 1447.8 2153.9 1451.3Z" fill="#c5da3c"/><path d="M2238.9 1503.4Q2238.2 1509 2232.5 1510.5Q2226.9 1512 2219.8 1509.4Q2212.7 1506.8 2207.5 1499.7Q2202.3 1492.6 2193.7 1485.9Q2185 1479.2 2186.4 1472.5Q2187.8 1465.7 2190.8 1462.1Q2193.9 1458.5 2198.2 1456.5Q2202.5 1454.4 2208.9 1456.8Q2215.3 1459.1 2223.3 1463.9Q2231.4 1468.7 2231.8 1477Q2232.3 1485.2 2235.9 1491.5Q2239.5 1497.8 2238.9 1503.4Z" fill="#0f9c8a"/><path d="M2231.7 1493.3Q2231 1496.6 2227.4 1496.1Q2223.7 1495.5 2219.1 1494.1Q2214.5 1492.6 2212.1 1486.9Q2209.8 1481.3 2208.7 1477.1Q2207.7 1473 2208.4 1469Q2209.1 1465 2214.5 1469.7Q2219.8 1474.5 2224.5 1477.3Q2229.3 1480.2 2230.8 1485.1Q2232.3 1490 2231.7 1493.3Z" fill="#c5da3c"/><path d="M2305.9 1553.7Q2305.1 1559 2303.1 1563.8Q2301.2 1568.6 2291.4 1568.4Q2281.6 1568.3 2272.2 1569.6Q2262.8 1570.9 2252 1565.5Q2241.3 1560.1 2240.6 1553.8Q2239.9 1547.5 2237.5 1541.5Q2235.1 1535.4 2240.5 1533.5Q2245.9 1531.6 2251.6 1528.5Q2257.2 1525.3 2266 1530.3Q2274.9 1535.3 2281.4 1538.7Q2288 1542.1 2297.4 1545.3Q2306.7 1548.4 2305.9 1553.7Z" fill="#0f9c8a"/><path d="M2288.6 1557.7Q2287.5 1560.5 2288.6 1564.1Q2289.7 1567.7 2281.6 1566.4Q2273.5 1565 2266.8 1562.8Q2260 1560.5 2257 1556.8Q2254 1553.2 2253.9 1549.8Q2253.8 1546.4 2260.2 1547.6Q2266.6 1548.9 2272.6 1549Q2278.6 1549.1 2284.1 1552Q2289.7 1554.9 2288.6 1557.7Z" fill="#c5da3c"/><path d="M2392.8 1579.9Q2390.8 1585.6 2384.2 1583.4Q2377.6 1581.2 2371.4 1579.4Q2365.3 1577.5 2356.8 1576.5Q2348.4 1575.6 2344 1568.2Q2339.6 1560.8 2334.3 1555.6Q2329 1550.3 2328.9 1545.4Q2328.8 1540.5 2330 1535.4Q2331.2 1530.3 2340.6 1530.1Q2350 1529.9 2359.2 1536.9Q2368.5 1543.8 2379.6 1550.1Q2390.7 1556.4 2392.8 1565.3Q2394.8 1574.1 2392.8 1579.9Z" fill="#0f9c8a"/><path d="M2382.4 1563.7Q2381 1566.2 2379.2 1569.1Q2377.5 1572 2371.4 1567.3Q2365.2 1562.6 2360.4 1559.1Q2355.6 1555.6 2350.3 1551.1Q2345.1 1546.6 2350.2 1545.9Q2355.3 1545.2 2358.3 1543.5Q2361.4 1541.9 2368.1 1546Q2374.8 1550.2 2379.3 1555.7Q2383.9 1561.2 2382.4 1563.7Z" fill="#c5da3c"/><path d="M2420.5 1664.9Q2418.7 1670 2411.6 1667.6Q2404.6 1665.2 2398.7 1667.6Q2392.9 1670 2386.4 1660.3Q2379.9 1650.7 2377.3 1642.7Q2374.6 1634.7 2373 1626.6Q2371.4 1618.4 2374.3 1614.1Q2377.2 1609.7 2381.8 1606.2Q2386.3 1602.6 2392.6 1611.9Q2399 1621.3 2405.1 1625.6Q2411.2 1629.9 2416.3 1637.8Q2421.4 1645.7 2421.9 1652.8Q2422.3 1659.9 2420.5 1664.9Z" fill="#0f9c8a"/><path d="M2406.4 1658.7Q2408.4 1664.8 2403.3 1662.2Q2398.1 1659.5 2393.8 1656.4Q2389.5 1653.2 2386.7 1647.8Q2383.9 1642.5 2382.3 1636.8Q2380.7 1631.1 2384.9 1632.3Q2389.1 1633.5 2392.5 1633.2Q2395.8 1632.8 2399.9 1638.2Q2404 1643.7 2404.2 1648.1Q2404.4 1652.6 2406.4 1658.7Z" fill="#c5da3c"/><path d="M2499.6 1678.8Q2497.1 1683.7 2498.5 1688.8Q2500 1693.8 2493.8 1697.8Q2487.6 1701.9 2477.3 1698Q2467.1 1694 2458.8 1690Q2450.6 1686 2448.4 1679.9Q2446.1 1673.9 2443.7 1666.4Q2441.2 1658.9 2448.5 1659Q2455.8 1659.1 2461.9 1660.3Q2468 1661.5 2474.3 1660.3Q2480.7 1659 2485.2 1662.9Q2489.7 1666.7 2495.9 1670.3Q2502.1 1673.9 2499.6 1678.8Z" fill="#0f9c8a"/><path d="M2491.2 1676.6Q2495.5 1679.4 2490.8 1681.2Q2486 1683.1 2481.8 1683.6Q2477.5 1684.2 2471.4 1682.4Q2465.3 1680.7 2465.8 1677.2Q2466.3 1673.8 2465.7 1670.4Q2465.1 1667 2469.4 1666.8Q2473.7 1666.7 2478 1667.6Q2482.4 1668.5 2484.7 1671.2Q2487 1673.8 2491.2 1676.6Z" fill="#c5da3c"/><path d="M2573.6 1721.2Q2571.6 1725.2 2569.3 1731.2Q2567 1737.2 2561.1 1734Q2555.2 1730.7 2550.8 1730.9Q2546.5 1731.1 2540 1728.6Q2533.5 1726 2526 1722.4Q2518.5 1718.8 2516.1 1713.5Q2513.7 1708.2 2521.9 1705.6Q2530.1 1703.1 2532.9 1698.2Q2535.7 1693.3 2545.5 1694.1Q2555.3 1694.8 2564.5 1699.7Q2573.7 1704.6 2574.7 1710.9Q2575.6 1717.2 2573.6 1721.2Z" fill="#0f9c8a"/><path d="M2564.9 1720.6Q2563.1 1723.3 2560.9 1725Q2558.6 1726.8 2555.4 1726.6Q2552.2 1726.4 2547.5 1725.7Q2542.8 1725 2542.3 1721.7Q2541.8 1718.4 2539.4 1715.3Q2536.9 1712.2 2541.7 1710.6Q2546.5 1709 2551.6 1710.9Q2556.6 1712.8 2561.7 1715.4Q2566.8 1718 2564.9 1720.6Z" fill="#c5da3c"/><path d="M2642 1778.5Q2644.4 1786.3 2637.8 1786.6Q2631.2 1786.8 2624.5 1781.8Q2617.8 1776.8 2612.2 1770.8Q2606.6 1764.9 2603.4 1757.2Q2600.3 1749.4 2596.1 1740.2Q2591.9 1730.9 2598.9 1730.9Q2605.9 1730.8 2609.4 1728.2Q2612.9 1725.5 2619.5 1726.9Q2626 1728.4 2632.4 1737.5Q2638.7 1746.6 2641.8 1754.2Q2644.9 1761.8 2642.3 1766.2Q2639.6 1770.6 2642 1778.5Z" fill="#0f9c8a"/><path d="M2638.4 1768.3Q2635.4 1769.8 2632.6 1770Q2629.8 1770.2 2625.5 1767.9Q2621.2 1765.5 2620.2 1759.7Q2619.2 1753.8 2617.5 1748.2Q2615.7 1742.5 2618.5 1741.4Q2621.3 1740.3 2625.5 1742.6Q2629.7 1744.9 2632.3 1750.6Q2634.9 1756.2 2638.1 1761.6Q2641.4 1766.9 2638.4 1768.3Z" fill="#c5da3c"/><path d="M2707.6 1831.9Q2711.2 1837.6 2703.8 1840Q2696.5 1842.3 2691.6 1845.5Q2686.6 1848.7 2676.3 1846.9Q2666 1845 2652.9 1840.1Q2639.7 1835.2 2637.9 1828Q2636 1820.9 2639.2 1817.7Q2642.5 1814.4 2643.2 1808.5Q2643.9 1802.5 2652.2 1804.8Q2660.6 1807.1 2668.7 1808.5Q2676.8 1809.9 2682.7 1814.8Q2688.5 1819.7 2696.3 1822.9Q2704 1826.2 2707.6 1831.9Z" fill="#0f9c8a"/><path d="M2691 1834.9Q2693.1 1837.8 2690.1 1839.8Q2687.1 1841.8 2681.7 1843.3Q2676.3 1844.7 2670.5 1840.9Q2664.6 1837.1 2658.1 1832.9Q2651.6 1828.7 2653.5 1826.2Q2655.3 1823.6 2661.6 1825Q2668 1826.4 2674.2 1826.1Q2680.4 1825.8 2684.7 1828.9Q2689 1832.1 2691 1834.9Z" fill="#c5da3c"/><path d="M2785.9 1865.1Q2781.2 1867.3 2777.2 1868.5Q2773.2 1869.7 2767.4 1866.1Q2761.6 1862.5 2755.1 1858.1Q2748.7 1853.7 2741.2 1848.2Q2733.8 1842.6 2735.1 1837.2Q2736.4 1831.8 2731.1 1825.5Q2725.8 1819.3 2730.5 1816.4Q2735.2 1813.4 2743.4 1813.9Q2751.6 1814.3 2761.4 1821.5Q2771.2 1828.7 2776.3 1837.6Q2781.4 1846.5 2786 1854.7Q2790.7 1862.8 2785.9 1865.1Z" fill="#0f9c8a"/><path d="M2778.3 1853.2Q2777.8 1856.3 2775.5 1857.9Q2773.1 1859.5 2768.7 1853.6Q2764.2 1847.7 2759.1 1843.3Q2753.9 1838.9 2751.7 1834.7Q2749.6 1830.5 2750.5 1827.8Q2751.3 1825 2757.4 1828.1Q2763.6 1831.1 2770.3 1835Q2777 1838.9 2777.8 1844.5Q2778.7 1850.1 2778.3 1853.2Z" fill="#c5da3c"/><path d="M2851.5 1905Q2851.4 1908.2 2850.9 1911.3Q2850.5 1914.3 2843.1 1917.5Q2835.6 1920.7 2824.5 1923.4Q2813.3 1926.2 2804.9 1920.5Q2796.5 1914.7 2790.4 1909.4Q2784.4 1904.2 2781.6 1897.9Q2778.9 1891.7 2784.5 1890.6Q2790.2 1889.6 2797 1889.9Q2803.9 1890.2 2811.7 1894.4Q2819.5 1898.5 2829.2 1898Q2838.9 1897.4 2845.3 1899.6Q2851.6 1901.8 2851.5 1905Z" fill="#0f9c8a"/><path d="M2838.4 1911Q2839.9 1912.7 2840.2 1914.8Q2840.5 1917 2831.9 1917.4Q2823.3 1917.7 2815.3 1917.3Q2807.3 1917 2803.3 1913.6Q2799.3 1910.2 2802.6 1909.1Q2806 1907.9 2808.5 1906.2Q2811.1 1904.5 2818.2 1906Q2825.3 1907.5 2831.1 1908.4Q2836.8 1909.3 2838.4 1911Z" fill="#c5da3c"/></g><path d="M2029 1377.3Q2028.7 1379.1 2026.2 1379.8Q2023.6 1380.5 2020.4 1379.8Q2017.2 1379.2 2014.9 1377.5Q2012.6 1375.8 2012.6 1374Q2012.6 1372.2 2015.1 1371.2Q2017.7 1370.1 2021.3 1370.8Q2024.8 1371.5 2027.1 1373.5Q2029.4 1375.4 2029 1377.3Z" fill="#d9df45"/><path d="M2024.4 1376.3Q2024 1376.7 2022.1 1376.4Q2020.1 1376.1 2018.6 1375.5Q2017 1374.8 2017.4 1374.4Q2017.7 1373.9 2019.7 1374.1Q2021.6 1374.4 2023.2 1375.1Q2024.7 1375.9 2024.4 1376.3Z" fill="#23372a"/>
<!-- ladder E --><g transform="translate(2888.6 1333.4) rotate(29.6)"><rect x="-53" y="38.9" width="107" height="11.9" rx="5.3" fill="#e8965c"/><rect x="-53" y="38.9" width="107" height="9.3" rx="4.7" fill="#a65f33"/><rect x="-53" y="104.3" width="107" height="11.9" rx="5.3" fill="#e8965c"/><rect x="-53" y="104.3" width="107" height="9.3" rx="4.7" fill="#a65f33"/><rect x="-53" y="169.8" width="107" height="11.9" rx="5.3" fill="#e8965c"/><rect x="-53" y="169.8" width="107" height="9.3" rx="4.7" fill="#a65f33"/><rect x="-53" y="235.2" width="107" height="11.9" rx="5.3" fill="#e8965c"/><rect x="-53" y="235.2" width="107" height="9.3" rx="4.7" fill="#a65f33"/><rect x="-53" y="300.7" width="107" height="11.9" rx="5.3" fill="#e8965c"/><rect x="-53" y="300.7" width="107" height="9.3" rx="4.7" fill="#a65f33"/><rect x="-53" y="366.2" width="107" height="11.9" rx="5.3" fill="#e8965c"/><rect x="-53" y="366.2" width="107" height="9.3" rx="4.7" fill="#a65f33"/><rect x="-53" y="431.6" width="107" height="11.9" rx="5.3" fill="#e8965c"/><rect x="-53" y="431.6" width="107" height="9.3" rx="4.7" fill="#a65f33"/><rect x="-53" y="497.1" width="107" height="11.9" rx="5.3" fill="#e8965c"/><rect x="-53" y="497.1" width="107" height="9.3" rx="4.7" fill="#a65f33"/><rect x="-53" y="562.5" width="107" height="11.9" rx="5.3" fill="#e8965c"/><rect x="-53" y="562.5" width="107" height="9.3" rx="4.7" fill="#a65f33"/><rect x="-53" y="628" width="107" height="11.9" rx="5.3" fill="#e8965c"/><rect x="-53" y="628" width="107" height="9.3" rx="4.7" fill="#a65f33"/><rect x="-69.9" y="0" width="21.1" height="678.7" rx="4.6" fill="#5a3a26"/><rect x="-56.4" y="6.3" width="6.3" height="668.2" rx="3" fill="#a65f33"/><rect x="48.8" y="0" width="21.1" height="678.7" rx="4.6" fill="#5a3a26"/><rect x="62.3" y="6.3" width="6.3" height="668.2" rx="3" fill="#a65f33"/></g>
<!-- snake s6 --><path d="M3106 1765.9Q3104.3 1766.1 3103.9 1764.8Q3103.5 1763.6 3104.8 1761.8Q3106.1 1760 3108.7 1759Q3111.2 1758.1 3113.4 1758.4Q3115.6 1758.8 3115.9 1760Q3116.3 1761.2 3114.5 1762.5Q3112.6 1763.7 3110.2 1764.7Q3107.7 1765.7 3106 1765.9Z" fill="#232f35"/><path d="M3076.6 1740.5Q3075.2 1741.1 3074.1 1739.1Q3073 1737 3072.8 1733.4Q3072.6 1729.7 3074.1 1727.1Q3075.6 1724.5 3077.6 1724.5Q3079.6 1724.5 3080.4 1726.5Q3081.2 1728.5 3080.7 1731.6Q3080.2 1734.7 3079.1 1737.3Q3077.9 1740 3076.6 1740.5Z" fill="#232f35"/><polygon points="3117.3,1708.3 3109.5,1709.7 3099.1,1709.1 3093.4,1712.3 3088.2,1716 3082.5,1719.8 3077.8,1724.7 3075.3,1731.6 3074.4,1739.4 3073.6,1746.9 3071.5,1753.2 3070.4,1759.5 3070.1,1765.8 3068.7,1771.3 3066.1,1775.6 3063.3,1779 3060.5,1781.4 3057.4,1782.8 3053.7,1783.7 3049.4,1784.4 3045,1785 3040.1,1785.1 3034.5,1784.9 3027.9,1784.5 3020.7,1784.5 3013.5,1785.1 3006.4,1785.9 2999.1,1787.2 2990.7,1789.7 2981.8,1794.7 2974,1802.1 2968.6,1810.5 2965.1,1819.2 2963.2,1828.1 2962.5,1837.4 2963.5,1846.9 2965.9,1855.8 2969,1863.2 2972.1,1869.7 2975,1875.3 2977.7,1880.6 2980.3,1885.7 2982.9,1891.3 2985.9,1897.1 2988.9,1902.6 2991.5,1907.5 2993.6,1911.8 2995,1915.3 2995.9,1918.5 2996.3,1922 2996.6,1925.9 2996.6,1929.6 2996.3,1932.8 2995.7,1935.3 2995.1,1937.3 2994,1938.8 2992.4,1940.7 2989.6,1943 2986.3,1945.5 2982.2,1948.1 2977.7,1950.8 2973.3,1953.3 2969,1955.5 2964.8,1957.3 2960,1959 2954.7,1960.8 2949.1,1962.7 2943,1964.7 2936.6,1967 2929.9,1969.8 2923.6,1972.8 2917.7,1975.9 2912,1979 2906,1982.4 2900,1986.2 2893.7,1990.7 2887.2,1996.2 2881.1,2002.9 2875.8,2010.5 2871.7,2018.5 2868.7,2026.7 2866.6,2035.3 2865.6,2044.5 2866,2054.5 2868.4,2064.9 2872.8,2074.2 2878,2081.9 2883.6,2088.2 2889.3,2093.6 2895.3,2098.5 2902,2103.2 2909.5,2107.2 2917.1,2110.3 2923.8,2112.4 2929.8,2114.2 2934.9,2115.7 2938.9,2117 2941.9,2118.5 2944.7,2120.5 2947.8,2122.9 2950.6,2125.2 2952.4,2127 2953.5,2127 2953.9,2125.6 2954.3,2125.2 2953.3,2127.6 2951,2131.4 2948.4,2135.3 2945.6,2138.8 2941.9,2142 2937.2,2145.8 2931.9,2150.3 2927.3,2155.2 2923.1,2160.2 2918.7,2165.9 2913.9,2174.6 2911.8,2186 2915.7,2196.9 2922.1,2204.3 2928.7,2208.9 2935.2,2212.4 2941.5,2215.3 2947.9,2217.3 2954.2,2218.5 2960.5,2219 2966.8,2219.2 2973.1,2219.3 2979.3,2219.4 2985.4,2219.7 2991.4,2220.5 2997.3,2221.9 2997.5,2220.9 2991.8,2218.9 2986.3,2216.5 2980.8,2213.8 2975.3,2210.8 2970,2207.7 2964.7,2204.7 2959.5,2201.8 2954.4,2199.2 2949.5,2197 2945,2194.6 2941.3,2191.7 2938.6,2188.8 2937.9,2186.6 2938.2,2186.2 2939.8,2186.3 2942,2185.3 2946,2182.5 2950.4,2179.1 2954.5,2175.6 2958.5,2172.4 2963.3,2168.9 2969.1,2164.7 2974.7,2159.6 2979.8,2154.3 2984.8,2148.5 2990.1,2140.7 2993.9,2128.9 2993.1,2115.7 2988.6,2105.1 2983.3,2097.3 2977.6,2091.1 2971.5,2085.6 2964.5,2080.7 2956.8,2076.8 2949.5,2074 2943.1,2071.8 2937.6,2070.1 2932.9,2068.4 2929.4,2066.8 2926.4,2065 2923.5,2062.6 2920.3,2059.7 2917.5,2056.7 2915.2,2053.9 2913.8,2051.6 2913.1,2050.1 2913,2048.6 2913.1,2046.7 2913.6,2043.9 2914.4,2040.9 2915.6,2037.9 2916.9,2035.1 2918.5,2032.9 2920.5,2030.8 2923.3,2028.5 2926.7,2026 2930.9,2023.5 2935.4,2020.9 2940.2,2018.3 2945,2015.8 2949.5,2013.6 2953.9,2011.7 2958.8,2010 2964.2,2008.2 2969.9,2006.3 2976,2004.3 2982.6,2001.9 2989.4,1999 2995.8,1995.7 3001.9,1992.3 3007.7,1988.8 3013.8,1984.8 3020,1980.2 3026.4,1974.6 3032.6,1967.4 3038,1958.9 3041.6,1949.6 3043.7,1940.4 3044.5,1931.7 3044.4,1923.3 3043.5,1915.2 3041.8,1906.9 3039,1898.7 3035.5,1891.2 3031.9,1885 3028.4,1879.5 3025.2,1874.6 3022.3,1869.9 3019.5,1864.8 3016.3,1859.4 3013.1,1854.1 3010.1,1849.3 3007.7,1845.1 3005.9,1841.5 3005,1838.8 3004.6,1836.4 3004.8,1833.7 3005.3,1830.9 3006.1,1828.4 3006.5,1826.3 3007,1825 3008.1,1823.6 3011,1821.8 3015.2,1819.8 3019.9,1818 3024.5,1816.4 3029.3,1815.6 3034.7,1815.2 3041.1,1815.1 3048.3,1814.6 3055.6,1813.1 3063,1810.7 3070.4,1807.1 3077.4,1802 3082.9,1795.8 3087.2,1789.5 3090.6,1783.3 3094.7,1778.1 3099.5,1773.6 3103.6,1769 3107,1764.6 3112,1761.5 3117.4,1759.1 3121.7,1756.1 3124.2,1751.3 3125.9,1745.6 3128.1,1740 3130,1733.8 3127.1,1723.7 3126.7,1715.7" fill="#c72b26"/><clipPath id="c6"><polygon points="3117.3,1708.3 3109.5,1709.7 3099.1,1709.1 3093.4,1712.3 3088.2,1716 3082.5,1719.8 3077.8,1724.7 3075.3,1731.6 3074.4,1739.4 3073.6,1746.9 3071.5,1753.2 3070.4,1759.5 3070.1,1765.8 3068.7,1771.3 3066.1,1775.6 3063.3,1779 3060.5,1781.4 3057.4,1782.8 3053.7,1783.7 3049.4,1784.4 3045,1785 3040.1,1785.1 3034.5,1784.9 3027.9,1784.5 3020.7,1784.5 3013.5,1785.1 3006.4,1785.9 2999.1,1787.2 2990.7,1789.7 2981.8,1794.7 2974,1802.1 2968.6,1810.5 2965.1,1819.2 2963.2,1828.1 2962.5,1837.4 2963.5,1846.9 2965.9,1855.8 2969,1863.2 2972.1,1869.7 2975,1875.3 2977.7,1880.6 2980.3,1885.7 2982.9,1891.3 2985.9,1897.1 2988.9,1902.6 2991.5,1907.5 2993.6,1911.8 2995,1915.3 2995.9,1918.5 2996.3,1922 2996.6,1925.9 2996.6,1929.6 2996.3,1932.8 2995.7,1935.3 2995.1,1937.3 2994,1938.8 2992.4,1940.7 2989.6,1943 2986.3,1945.5 2982.2,1948.1 2977.7,1950.8 2973.3,1953.3 2969,1955.5 2964.8,1957.3 2960,1959 2954.7,1960.8 2949.1,1962.7 2943,1964.7 2936.6,1967 2929.9,1969.8 2923.6,1972.8 2917.7,1975.9 2912,1979 2906,1982.4 2900,1986.2 2893.7,1990.7 2887.2,1996.2 2881.1,2002.9 2875.8,2010.5 2871.7,2018.5 2868.7,2026.7 2866.6,2035.3 2865.6,2044.5 2866,2054.5 2868.4,2064.9 2872.8,2074.2 2878,2081.9 2883.6,2088.2 2889.3,2093.6 2895.3,2098.5 2902,2103.2 2909.5,2107.2 2917.1,2110.3 2923.8,2112.4 2929.8,2114.2 2934.9,2115.7 2938.9,2117 2941.9,2118.5 2944.7,2120.5 2947.8,2122.9 2950.6,2125.2 2952.4,2127 2953.5,2127 2953.9,2125.6 2954.3,2125.2 2953.3,2127.6 2951,2131.4 2948.4,2135.3 2945.6,2138.8 2941.9,2142 2937.2,2145.8 2931.9,2150.3 2927.3,2155.2 2923.1,2160.2 2918.7,2165.9 2913.9,2174.6 2911.8,2186 2915.7,2196.9 2922.1,2204.3 2928.7,2208.9 2935.2,2212.4 2941.5,2215.3 2947.9,2217.3 2954.2,2218.5 2960.5,2219 2966.8,2219.2 2973.1,2219.3 2979.3,2219.4 2985.4,2219.7 2991.4,2220.5 2997.3,2221.9 2997.5,2220.9 2991.8,2218.9 2986.3,2216.5 2980.8,2213.8 2975.3,2210.8 2970,2207.7 2964.7,2204.7 2959.5,2201.8 2954.4,2199.2 2949.5,2197 2945,2194.6 2941.3,2191.7 2938.6,2188.8 2937.9,2186.6 2938.2,2186.2 2939.8,2186.3 2942,2185.3 2946,2182.5 2950.4,2179.1 2954.5,2175.6 2958.5,2172.4 2963.3,2168.9 2969.1,2164.7 2974.7,2159.6 2979.8,2154.3 2984.8,2148.5 2990.1,2140.7 2993.9,2128.9 2993.1,2115.7 2988.6,2105.1 2983.3,2097.3 2977.6,2091.1 2971.5,2085.6 2964.5,2080.7 2956.8,2076.8 2949.5,2074 2943.1,2071.8 2937.6,2070.1 2932.9,2068.4 2929.4,2066.8 2926.4,2065 2923.5,2062.6 2920.3,2059.7 2917.5,2056.7 2915.2,2053.9 2913.8,2051.6 2913.1,2050.1 2913,2048.6 2913.1,2046.7 2913.6,2043.9 2914.4,2040.9 2915.6,2037.9 2916.9,2035.1 2918.5,2032.9 2920.5,2030.8 2923.3,2028.5 2926.7,2026 2930.9,2023.5 2935.4,2020.9 2940.2,2018.3 2945,2015.8 2949.5,2013.6 2953.9,2011.7 2958.8,2010 2964.2,2008.2 2969.9,2006.3 2976,2004.3 2982.6,2001.9 2989.4,1999 2995.8,1995.7 3001.9,1992.3 3007.7,1988.8 3013.8,1984.8 3020,1980.2 3026.4,1974.6 3032.6,1967.4 3038,1958.9 3041.6,1949.6 3043.7,1940.4 3044.5,1931.7 3044.4,1923.3 3043.5,1915.2 3041.8,1906.9 3039,1898.7 3035.5,1891.2 3031.9,1885 3028.4,1879.5 3025.2,1874.6 3022.3,1869.9 3019.5,1864.8 3016.3,1859.4 3013.1,1854.1 3010.1,1849.3 3007.7,1845.1 3005.9,1841.5 3005,1838.8 3004.6,1836.4 3004.8,1833.7 3005.3,1830.9 3006.1,1828.4 3006.5,1826.3 3007,1825 3008.1,1823.6 3011,1821.8 3015.2,1819.8 3019.9,1818 3024.5,1816.4 3029.3,1815.6 3034.7,1815.2 3041.1,1815.1 3048.3,1814.6 3055.6,1813.1 3063,1810.7 3070.4,1807.1 3077.4,1802 3082.9,1795.8 3087.2,1789.5 3090.6,1783.3 3094.7,1778.1 3099.5,1773.6 3103.6,1769 3107,1764.6 3112,1761.5 3117.4,1759.1 3121.7,1756.1 3124.2,1751.3 3125.9,1745.6 3128.1,1740 3130,1733.8 3127.1,1723.7 3126.7,1715.7"/></clipPath><g clip-path="url(#c6)"><path d="M3038.2 1791.7Q3030.6 1789.3 3035.2 1786.1Q3039.8 1783 3044 1780.4Q3048.3 1777.8 3052.8 1778.6Q3057.4 1779.3 3061.8 1773.9Q3066.2 1768.6 3068.2 1772.3Q3070.3 1776.1 3072.4 1777.9Q3074.5 1779.8 3071.2 1785.8Q3067.9 1791.9 3060 1796.8Q3052 1801.7 3048.9 1797.9Q3045.8 1794.1 3038.2 1791.7Z" fill="#87191e" stroke="#f6c443" stroke-width="3"/><path d="M3004.5 1825.7Q3000.7 1824.8 2998 1820.2Q2995.3 1815.6 3000.7 1810.9Q3006.1 1806.2 3013.4 1802.9Q3020.8 1799.7 3028.3 1801.5Q3035.9 1803.3 3036 1807Q3036.1 1810.6 3034.4 1813.9Q3032.8 1817.1 3028.9 1821.2Q3025 1825.2 3019 1826.7Q3013 1828.1 3010.6 1827.3Q3008.2 1826.6 3004.5 1825.7Z" fill="#87191e" stroke="#f6c443" stroke-width="3"/><path d="M2983.9 1866.4Q2979.4 1869.7 2974 1870.1Q2968.7 1870.5 2963.6 1860.1Q2958.5 1849.7 2955.1 1834.2Q2951.7 1818.7 2959.4 1814.5Q2967.1 1810.3 2974.4 1806.5Q2981.6 1802.7 2982.5 1808.6Q2983.4 1814.5 2985.7 1821.4Q2988.1 1828.2 2984.2 1836.1Q2980.3 1844.1 2984.4 1853.6Q2988.4 1863.1 2983.9 1866.4Z" fill="#87191e" stroke="#f6c443" stroke-width="3"/><path d="M3036.7 1897.4Q3033.1 1902.9 3026.4 1898.4Q3019.6 1893.9 3013.1 1893Q3006.5 1892.1 3002.6 1883.8Q2998.8 1875.5 2999.3 1868.7Q2999.8 1861.9 3002.5 1857.8Q3005.2 1853.6 3009.9 1850.4Q3014.6 1847.1 3020.5 1854.8Q3026.4 1862.4 3030.7 1868.1Q3035 1873.7 3037.7 1882.8Q3040.3 1891.8 3036.7 1897.4Z" fill="#87191e" stroke="#f6c443" stroke-width="3"/><path d="M3004.7 1945.3Q2999.3 1943.9 2996.6 1940Q2994 1936.1 2987.9 1933.5Q2981.7 1930.9 2985.6 1927.8Q2989.5 1924.8 2990.7 1920.7Q2991.9 1916.7 2996.2 1913.3Q3000.4 1910 3006.1 1907.7Q3011.8 1905.4 3013.9 1914.3Q3015.9 1923.2 3019.3 1931.2Q3022.7 1939.2 3016.4 1942.9Q3010.1 1946.7 3004.7 1945.3Z" fill="#87191e" stroke="#f6c443" stroke-width="3"/><path d="M2983.8 1999.8Q2983.3 1993.8 2978.4 1989Q2973.6 1984.3 2980.5 1978.4Q2987.5 1972.5 2994.6 1968.5Q3001.7 1964.6 3008.7 1963Q3015.7 1961.4 3024.5 1956.4Q3033.3 1951.4 3030.3 1963.7Q3027.2 1975.9 3024.5 1983.5Q3021.8 1991.2 3013 1997.3Q3004.2 2003.4 2994.2 2004.6Q2984.2 2005.9 2983.8 1999.8Z" fill="#87191e" stroke="#f6c443" stroke-width="3"/><path d="M2923.3 1986.9Q2920.2 1982.7 2914.8 1978Q2909.5 1973.4 2919.9 1967.5Q2930.4 1961.7 2938.3 1957.5Q2946.2 1953.4 2953.3 1954.2Q2960.5 1955.1 2965.9 1958.7Q2971.2 1962.4 2966.4 1968.4Q2961.5 1974.4 2960.3 1981.1Q2959.1 1987.8 2950.2 1989.7Q2941.3 1991.5 2933.9 1991.3Q2926.4 1991.2 2923.3 1986.9Z" fill="#87191e" stroke="#f6c443" stroke-width="3"/><path d="M2911.7 2039.8Q2906.4 2043.1 2902.9 2037.3Q2899.4 2031.5 2899.7 2024.8Q2899.9 2018 2906 2013.4Q2912.2 2008.7 2921.1 2004.6Q2930.1 2000.4 2930.6 2007.7Q2931.2 2015 2934.5 2019.4Q2937.8 2023.9 2934.8 2029.5Q2931.8 2035.2 2929.7 2037.8Q2927.5 2040.4 2922.3 2038.4Q2917.1 2036.4 2911.7 2039.8Z" fill="#87191e" stroke="#f6c443" stroke-width="3"/><path d="M2899.4 2086.8Q2902.4 2095.2 2892.5 2092.5Q2882.7 2089.9 2874.7 2085.8Q2866.6 2081.6 2860.7 2065.8Q2854.8 2049.9 2859.7 2037.5Q2864.5 2025.1 2869.5 2028.9Q2874.5 2032.6 2881 2031.9Q2887.4 2031.3 2888.8 2040Q2890.1 2048.8 2891.9 2056.7Q2893.6 2064.7 2895 2071.5Q2896.4 2078.3 2899.4 2086.8Z" fill="#87191e" stroke="#f6c443" stroke-width="3"/><path d="M2961.5 2079.7Q2957.2 2084.2 2953.3 2087.8Q2949.5 2091.3 2941.8 2091Q2934.2 2090.8 2924.4 2090.3Q2914.7 2089.8 2915.8 2082.8Q2916.9 2075.7 2915.3 2069.3Q2913.8 2063 2919.1 2061Q2924.4 2059 2929.1 2057.8Q2933.8 2056.7 2937.2 2061.3Q2940.7 2065.9 2953.3 2070.5Q2965.8 2075.1 2961.5 2079.7Z" fill="#87191e" stroke="#f6c443" stroke-width="3"/><path d="M2962.7 2132.4Q2958.9 2129.1 2955.6 2126.7Q2952.2 2124.4 2948 2126.8Q2943.8 2129.2 2942.6 2129.7Q2941.4 2130.2 2942.2 2125.5Q2943 2120.8 2941.3 2115.6Q2939.7 2110.3 2944.6 2106.9Q2949.5 2103.4 2956.4 2106.4Q2963.3 2109.3 2968 2115.2Q2972.6 2121 2969.6 2128.4Q2966.5 2135.8 2962.7 2132.4Z" fill="#87191e" stroke="#f6c443" stroke-width="3"/><path d="M2945.8 2180.7Q2940.9 2180.5 2941.3 2176Q2941.6 2171.5 2942 2165.2Q2942.4 2159 2951.1 2156.3Q2959.9 2153.6 2966.3 2146.7Q2972.8 2139.8 2977.8 2140.7Q2982.8 2141.5 2985.5 2145.7Q2988.2 2149.9 2980.3 2158.4Q2972.3 2167 2967.4 2174.7Q2962.5 2182.3 2956.6 2181.5Q2950.8 2180.8 2945.8 2180.7Z" fill="#87191e" stroke="#f6c443" stroke-width="3"/><path d="M2943.2 2210.5Q2944.9 2213.4 2944 2215.7Q2943.1 2218 2933.2 2214.4Q2923.3 2210.7 2915.5 2198.6Q2907.8 2186.4 2913.9 2172.9Q2920.1 2159.4 2924.6 2160Q2929.2 2160.6 2927.7 2166.9Q2926.2 2173.1 2925.8 2179.1Q2925.4 2185.1 2930.1 2191.9Q2934.8 2198.7 2938.1 2203.1Q2941.5 2207.6 2943.2 2210.5Z" fill="#87191e" stroke="#f6c443" stroke-width="3"/></g>
<!-- ladder J --><g transform="translate(3097.6 2000.7) rotate(-17)"><rect x="-47.8" y="35" width="96.5" height="10.7" rx="4.8" fill="#e8965c"/><rect x="-47.8" y="35" width="96.5" height="8.3" rx="4.3" fill="#a65f33"/><rect x="-47.8" y="94" width="96.5" height="10.7" rx="4.8" fill="#e8965c"/><rect x="-47.8" y="94" width="96.5" height="8.3" rx="4.3" fill="#a65f33"/><rect x="-47.8" y="153.1" width="96.5" height="10.7" rx="4.8" fill="#e8965c"/><rect x="-47.8" y="153.1" width="96.5" height="8.3" rx="4.3" fill="#a65f33"/><rect x="-47.8" y="212.1" width="96.5" height="10.7" rx="4.8" fill="#e8965c"/><rect x="-47.8" y="212.1" width="96.5" height="8.3" rx="4.3" fill="#a65f33"/><rect x="-47.8" y="271.1" width="96.5" height="10.7" rx="4.8" fill="#e8965c"/><rect x="-47.8" y="271.1" width="96.5" height="8.3" rx="4.3" fill="#a65f33"/><rect x="-47.8" y="330.1" width="96.5" height="10.7" rx="4.8" fill="#e8965c"/><rect x="-47.8" y="330.1" width="96.5" height="8.3" rx="4.3" fill="#a65f33"/><rect x="-47.8" y="389.1" width="96.5" height="10.7" rx="4.8" fill="#e8965c"/><rect x="-47.8" y="389.1" width="96.5" height="8.3" rx="4.3" fill="#a65f33"/><rect x="-47.8" y="448.1" width="96.5" height="10.7" rx="4.8" fill="#e8965c"/><rect x="-47.8" y="448.1" width="96.5" height="8.3" rx="4.3" fill="#a65f33"/><rect x="-47.8" y="507.1" width="96.5" height="10.7" rx="4.8" fill="#e8965c"/><rect x="-47.8" y="507.1" width="96.5" height="8.3" rx="4.3" fill="#a65f33"/><rect x="-47.8" y="566.2" width="96.5" height="10.7" rx="4.8" fill="#e8965c"/><rect x="-47.8" y="566.2" width="96.5" height="8.3" rx="4.3" fill="#a65f33"/><rect x="-63" y="0" width="19" height="611.9" rx="4.2" fill="#5a3a26"/><rect x="-50.8" y="5.7" width="5.7" height="602.4" rx="2.7" fill="#a65f33"/><rect x="44" y="0" width="19" height="611.9" rx="4.2" fill="#5a3a26"/><rect x="56.2" y="5.7" width="5.7" height="602.4" rx="2.7" fill="#a65f33"/></g>
<!-- snake s7 --><polygon points="511.7,2011.5 505.4,2017.8 499.4,2024.2 499.3,2030.4 498.8,2036.8 498.5,2043.6 499.1,2050.3 501.8,2056.4 505,2061.7 506.8,2066.6 508.3,2071.1 510.4,2075.3 511.5,2079.8 510.8,2084.6 510.1,2089.6 509.3,2095.1 508.5,2100.6 507.6,2105.9 506.2,2111 504.2,2116.4 501.7,2122.2 499.1,2128.7 496.9,2135.6 495.3,2142.6 494.1,2149.8 493.6,2157.7 494.3,2166.1 496.3,2174.1 499.1,2181.5 502.5,2188 506.1,2194.1 510,2199.7 514.1,2205.1 518.7,2210.4 523.6,2215.5 529,2220.2 534.3,2224.4 539.5,2228.2 544.5,2231.7 549.1,2235 553.5,2238.5 558,2242.1 562.7,2245.9 567.2,2249.5 571.5,2253.1 575.2,2256.5 578.5,2259.8 581.3,2263.4 583.7,2266.9 585.5,2270.2 586.5,2272.6 586.6,2274.4 586.3,2276.2 585.2,2278.6 583.5,2281.4 581,2284.4 578.2,2287.3 574.9,2289.9 571.1,2292.5 566.6,2295.1 561.7,2297.8 556.5,2300.5 551.1,2303.4 545.9,2306.2 540.8,2309 535.7,2311.5 530.4,2314.1 524.9,2316.8 519.1,2319.8 513.1,2323.2 506.8,2327.3 500.9,2332 495.3,2337.3 490.1,2343.3 485.4,2350.3 481.6,2358.4 479.2,2367.3 478.5,2376.4 479.3,2385.2 481.4,2393.6 484.7,2401.7 489.2,2409.1 494.6,2415.6 500.4,2421 506.4,2425.6 512.6,2429.6 518.8,2433 525.2,2436.1 531.7,2438.7 538.1,2440.9 544.5,2442.9 550.8,2444.6 557.2,2446.1 563.6,2447.4 570.2,2448.5 576.9,2449.3 583.6,2449.9 590.1,2450.1 596.5,2450.3 602.7,2450.3 608.7,2450.3 614.7,2450.2 620.8,2450.3 627.1,2450.1 633.3,2449.9 639.4,2449.6 645.2,2449.3 650.9,2449 656.3,2449 661.5,2449.1 666.7,2449.5 671.8,2450.2 677.1,2451.2 682.3,2452.3 687.5,2453.6 692.6,2455.2 697.5,2456.9 702.2,2458.9 706.6,2461.1 710.9,2463.5 714.9,2466.3 718.7,2469.3 722.2,2472.6 725.4,2476 728.2,2479.4 730.6,2483 732.6,2486.8 734.3,2490.7 735.5,2494.8 736.2,2498.9 736.4,2503 736,2507.3 735,2511.8 733.6,2516.3 731.7,2520.7 729.3,2525 726.4,2529.1 723.1,2533.1 719.3,2537 715.4,2540.7 711.4,2544.2 707.2,2547.5 702.7,2551 698,2554.5 693.2,2558.2 688.3,2562.1 683.6,2566 678.9,2569.9 674.2,2573.8 669.4,2577.7 664.5,2581.7 659.7,2586.1 655.1,2591 651.2,2596.4 648.2,2602.3 645.8,2608.2 644,2614.3 642.5,2620.4 641.6,2626.7 641.1,2632.9 640.9,2639 640.6,2645.1 640.9,2651.1 641.3,2657.2 642.3,2657.1 642.1,2651.1 642.6,2645.2 643.9,2639.4 645.5,2633.7 647.4,2628.1 649.6,2622.7 652.4,2617.6 655.3,2612.7 658.3,2607.9 661.5,2603.5 665,2599.4 668.7,2595.6 673,2592.2 677.7,2589.1 682.8,2586.2 688,2583.3 693.3,2580.4 698.5,2577.6 703.8,2575 709.1,2572.4 714.6,2569.6 720.2,2566.5 725.8,2562.9 731.1,2558.8 736,2554.3 740.7,2549.7 745.4,2544.7 749.8,2539.3 753.8,2533.4 757.4,2527.2 760.4,2520.6 762.9,2513.5 764.5,2506 765.3,2498.2 764.9,2490.3 763.5,2482.7 761.3,2475.3 758.3,2468.2 754.4,2461.5 749.9,2455.4 744.9,2450 739.6,2445.1 734.1,2440.6 728.3,2436.5 722.2,2432.8 715.9,2429.6 709.6,2426.8 703.3,2424.3 696.9,2422.2 690.5,2420.4 684,2418.8 677.5,2417.4 670.8,2416.3 664,2415.5 657.2,2415.1 650.6,2415 644.3,2415.1 638.1,2415.2 632.2,2415.4 626.4,2415.5 620.7,2415.5 614.8,2415.4 608.8,2415.3 602.8,2415.3 597,2415.3 591.3,2415.2 585.8,2414.9 580.5,2414.5 575.3,2413.8 570.1,2412.9 564.8,2411.8 559.4,2410.5 554.2,2409.1 549.1,2407.5 544.2,2405.8 539.5,2403.9 535.1,2401.7 530.9,2399.3 527,2396.8 523.4,2394 520.5,2391.3 518.2,2388.5 516.5,2385.7 515.3,2382.7 514.5,2379.4 514.2,2376.3 514.5,2373.4 515.2,2370.8 516.6,2368.1 518.6,2365.1 521.3,2362.1 524.4,2359.1 527.9,2356.4 531.7,2353.9 536.2,2351.5 541.1,2349 546.3,2346.4 551.8,2343.7 557.5,2340.9 563,2337.9 568.3,2335 573.5,2332.2 578.9,2329.3 584.5,2326.1 590.3,2322.6 596.4,2318.4 602.4,2313.5 607.9,2307.7 612.9,2301.3 617.2,2293.8 620.5,2285 621.8,2274.9 620.7,2264.8 617.5,2256.1 613.5,2248.8 609.2,2242.5 604.4,2236.7 599.2,2231.5 594,2226.9 589,2222.8 584.1,2219 579.4,2215.3 574.5,2211.4 569.4,2207.6 564.3,2203.9 559.4,2200.5 554.8,2197.2 550.8,2194.1 547.1,2190.9 543.7,2187.3 540.4,2183.5 537.1,2179.4 534,2175.3 531.2,2171.2 528.7,2167.2 526.9,2163.6 525.7,2160.1 525.1,2156.5 525,2152.5 525.5,2147.8 526.3,2143 527.6,2138.4 529.4,2133.7 531.8,2128.5 534.7,2123 537.8,2117 540.7,2110.9 543.3,2104.9 545.8,2098.8 547.8,2092.2 549.3,2085.1 551.5,2077.7 553.9,2069.9 554.6,2062.4 554.9,2055.3 556.4,2048.8 557.4,2043 556.7,2037.8 555.4,2032.6 554.1,2027 553.3,2021.2 546.7,2015.6 539.7,2009.9" fill="#4b4634"/><clipPath id="c7"><polygon points="511.7,2011.5 505.4,2017.8 499.4,2024.2 499.3,2030.4 498.8,2036.8 498.5,2043.6 499.1,2050.3 501.8,2056.4 505,2061.7 506.8,2066.6 508.3,2071.1 510.4,2075.3 511.5,2079.8 510.8,2084.6 510.1,2089.6 509.3,2095.1 508.5,2100.6 507.6,2105.9 506.2,2111 504.2,2116.4 501.7,2122.2 499.1,2128.7 496.9,2135.6 495.3,2142.6 494.1,2149.8 493.6,2157.7 494.3,2166.1 496.3,2174.1 499.1,2181.5 502.5,2188 506.1,2194.1 510,2199.7 514.1,2205.1 518.7,2210.4 523.6,2215.5 529,2220.2 534.3,2224.4 539.5,2228.2 544.5,2231.7 549.1,2235 553.5,2238.5 558,2242.1 562.7,2245.9 567.2,2249.5 571.5,2253.1 575.2,2256.5 578.5,2259.8 581.3,2263.4 583.7,2266.9 585.5,2270.2 586.5,2272.6 586.6,2274.4 586.3,2276.2 585.2,2278.6 583.5,2281.4 581,2284.4 578.2,2287.3 574.9,2289.9 571.1,2292.5 566.6,2295.1 561.7,2297.8 556.5,2300.5 551.1,2303.4 545.9,2306.2 540.8,2309 535.7,2311.5 530.4,2314.1 524.9,2316.8 519.1,2319.8 513.1,2323.2 506.8,2327.3 500.9,2332 495.3,2337.3 490.1,2343.3 485.4,2350.3 481.6,2358.4 479.2,2367.3 478.5,2376.4 479.3,2385.2 481.4,2393.6 484.7,2401.7 489.2,2409.1 494.6,2415.6 500.4,2421 506.4,2425.6 512.6,2429.6 518.8,2433 525.2,2436.1 531.7,2438.7 538.1,2440.9 544.5,2442.9 550.8,2444.6 557.2,2446.1 563.6,2447.4 570.2,2448.5 576.9,2449.3 583.6,2449.9 590.1,2450.1 596.5,2450.3 602.7,2450.3 608.7,2450.3 614.7,2450.2 620.8,2450.3 627.1,2450.1 633.3,2449.9 639.4,2449.6 645.2,2449.3 650.9,2449 656.3,2449 661.5,2449.1 666.7,2449.5 671.8,2450.2 677.1,2451.2 682.3,2452.3 687.5,2453.6 692.6,2455.2 697.5,2456.9 702.2,2458.9 706.6,2461.1 710.9,2463.5 714.9,2466.3 718.7,2469.3 722.2,2472.6 725.4,2476 728.2,2479.4 730.6,2483 732.6,2486.8 734.3,2490.7 735.5,2494.8 736.2,2498.9 736.4,2503 736,2507.3 735,2511.8 733.6,2516.3 731.7,2520.7 729.3,2525 726.4,2529.1 723.1,2533.1 719.3,2537 715.4,2540.7 711.4,2544.2 707.2,2547.5 702.7,2551 698,2554.5 693.2,2558.2 688.3,2562.1 683.6,2566 678.9,2569.9 674.2,2573.8 669.4,2577.7 664.5,2581.7 659.7,2586.1 655.1,2591 651.2,2596.4 648.2,2602.3 645.8,2608.2 644,2614.3 642.5,2620.4 641.6,2626.7 641.1,2632.9 640.9,2639 640.6,2645.1 640.9,2651.1 641.3,2657.2 642.3,2657.1 642.1,2651.1 642.6,2645.2 643.9,2639.4 645.5,2633.7 647.4,2628.1 649.6,2622.7 652.4,2617.6 655.3,2612.7 658.3,2607.9 661.5,2603.5 665,2599.4 668.7,2595.6 673,2592.2 677.7,2589.1 682.8,2586.2 688,2583.3 693.3,2580.4 698.5,2577.6 703.8,2575 709.1,2572.4 714.6,2569.6 720.2,2566.5 725.8,2562.9 731.1,2558.8 736,2554.3 740.7,2549.7 745.4,2544.7 749.8,2539.3 753.8,2533.4 757.4,2527.2 760.4,2520.6 762.9,2513.5 764.5,2506 765.3,2498.2 764.9,2490.3 763.5,2482.7 761.3,2475.3 758.3,2468.2 754.4,2461.5 749.9,2455.4 744.9,2450 739.6,2445.1 734.1,2440.6 728.3,2436.5 722.2,2432.8 715.9,2429.6 709.6,2426.8 703.3,2424.3 696.9,2422.2 690.5,2420.4 684,2418.8 677.5,2417.4 670.8,2416.3 664,2415.5 657.2,2415.1 650.6,2415 644.3,2415.1 638.1,2415.2 632.2,2415.4 626.4,2415.5 620.7,2415.5 614.8,2415.4 608.8,2415.3 602.8,2415.3 597,2415.3 591.3,2415.2 585.8,2414.9 580.5,2414.5 575.3,2413.8 570.1,2412.9 564.8,2411.8 559.4,2410.5 554.2,2409.1 549.1,2407.5 544.2,2405.8 539.5,2403.9 535.1,2401.7 530.9,2399.3 527,2396.8 523.4,2394 520.5,2391.3 518.2,2388.5 516.5,2385.7 515.3,2382.7 514.5,2379.4 514.2,2376.3 514.5,2373.4 515.2,2370.8 516.6,2368.1 518.6,2365.1 521.3,2362.1 524.4,2359.1 527.9,2356.4 531.7,2353.9 536.2,2351.5 541.1,2349 546.3,2346.4 551.8,2343.7 557.5,2340.9 563,2337.9 568.3,2335 573.5,2332.2 578.9,2329.3 584.5,2326.1 590.3,2322.6 596.4,2318.4 602.4,2313.5 607.9,2307.7 612.9,2301.3 617.2,2293.8 620.5,2285 621.8,2274.9 620.7,2264.8 617.5,2256.1 613.5,2248.8 609.2,2242.5 604.4,2236.7 599.2,2231.5 594,2226.9 589,2222.8 584.1,2219 579.4,2215.3 574.5,2211.4 569.4,2207.6 564.3,2203.9 559.4,2200.5 554.8,2197.2 550.8,2194.1 547.1,2190.9 543.7,2187.3 540.4,2183.5 537.1,2179.4 534,2175.3 531.2,2171.2 528.7,2167.2 526.9,2163.6 525.7,2160.1 525.1,2156.5 525,2152.5 525.5,2147.8 526.3,2143 527.6,2138.4 529.4,2133.7 531.8,2128.5 534.7,2123 537.8,2117 540.7,2110.9 543.3,2104.9 545.8,2098.8 547.8,2092.2 549.3,2085.1 551.5,2077.7 553.9,2069.9 554.6,2062.4 554.9,2055.3 556.4,2048.8 557.4,2043 556.7,2037.8 555.4,2032.6 554.1,2027 553.3,2021.2 546.7,2015.6 539.7,2009.9"/></clipPath><g clip-path="url(#c7)"><path d="M517 2094.3Q512 2094.8 507.6 2091.8Q503.2 2088.8 501.6 2084.8Q499.9 2080.8 501.4 2078.1Q502.9 2075.3 507.8 2074.3Q512.6 2073.2 518.5 2075Q524.5 2076.8 526.2 2081.4Q527.9 2086 524.9 2089.9Q522 2093.8 517 2094.3Z" fill="#cc1f2a"/><polygon points="554.4,2067.3 542.7,2067.9 531,2068.4 519.3,2069 507.6,2069.6 510.4,2075.3 520.7,2075.9 531,2076.4 541.3,2077 551.6,2077.6" fill="#f9c531"/><polygon points="545,2100.8 536.2,2098.4 527.4,2096.1 518.6,2093.7 509.8,2091.3 508.8,2098.7 517,2101.2 525.2,2103.7 533.4,2106.3 541.6,2108.8" fill="#f9c531"/><path d="M526.9 2151.2Q522.7 2152 518.8 2150.1Q514.9 2148.2 514 2144Q513 2139.9 515.7 2136.7Q518.5 2133.5 522.8 2133.5Q527.1 2133.5 530.2 2136.2Q533.4 2139 534.3 2142.2Q535.1 2145.5 533.1 2148Q531.1 2150.5 526.9 2151.2Z" fill="#cc1f2a"/><polygon points="530.8,2130.7 523.9,2127.6 517,2124.6 510.1,2121.6 503.3,2118.6 500.2,2125.8 507.2,2128.5 514.2,2131.1 521.3,2133.8 528.3,2136.4" fill="#f9c531"/><polygon points="525.2,2150.2 517.6,2149.2 509.9,2148.2 502.3,2147.2 494.6,2146.2 493.6,2155.1 501.5,2155.2 509.3,2155.2 517.1,2155.3 525,2155.3" fill="#f9c531"/><path d="M522 2203.5Q520 2208 515.2 2209.3Q510.3 2210.7 505.6 2207.6Q500.9 2204.5 499.5 2198.8Q498.1 2193.1 500.8 2188.9Q503.5 2184.8 508.3 2184.3Q513.2 2183.9 517.3 2186.7Q521.4 2189.5 522.7 2194.3Q524.1 2199 522 2203.5Z" fill="#cc1f2a"/><polygon points="528.5,2166.7 521,2170.2 513.6,2173.6 506.1,2177.1 498.7,2180.5 503,2189 510.2,2184.7 517.3,2180.4 524.4,2176.1 531.6,2171.8" fill="#f9c531"/><polygon points="541.7,2185 535.2,2190.6 528.8,2196.1 522.3,2201.6 515.9,2207.2 522,2213.9 528,2207.9 534,2201.9 540,2195.8 546,2189.8" fill="#f9c531"/><path d="M585.7 2217.7Q584.4 2222.5 580.1 2224.9Q575.7 2227.2 570.9 2225.8Q566.2 2224.4 563.6 2220.1Q561 2215.8 562.1 2211Q563.1 2206.2 567.4 2203.7Q571.7 2201.2 576.9 2202.7Q582 2204.2 584.5 2208.6Q587.1 2213 585.7 2217.7Z" fill="#cc1f2a"/><polygon points="560.5,2201.3 555.5,2208.2 550.6,2215.1 545.6,2222.1 540.7,2229 547.1,2233.6 552.1,2226.7 557.1,2219.8 562.2,2212.8 567.2,2205.9" fill="#f9c531"/><polygon points="583.6,2218.6 578.3,2225.3 572.9,2232 567.5,2238.8 562.2,2245.5 568.2,2250.4 573.7,2243.7 579.2,2237 584.6,2230.4 590.1,2223.7" fill="#f9c531"/><path d="M593.7 2276.8Q588.8 2277 584.4 2275.7Q580 2274.3 578.1 2274.7Q576.2 2275 577.4 2273.2Q578.6 2271.4 581.9 2267.9Q585.3 2264.5 590.1 2263.5Q594.8 2262.4 598.3 2265.5Q601.7 2268.5 600.1 2272.5Q598.5 2276.5 593.7 2276.8Z" fill="#cc1f2a"/><polygon points="608.7,2241.8 601.7,2247.1 594.8,2252.4 587.9,2257.7 581,2263 584.2,2267.7 591.8,2263.3 599.3,2259 606.9,2254.6 614.5,2250.3" fill="#f9c531"/><polygon points="621.4,2280.6 612.7,2279.3 604,2278 595.3,2276.7 586.5,2275.4 585.4,2278.2 593.5,2281.9 601.5,2285.5 609.6,2289.2 617.6,2292.8" fill="#f9c531"/><path d="M572.4 2335.1Q568.5 2331.8 567.9 2326.7Q567.3 2321.6 570.4 2317.7Q573.6 2313.8 578.6 2313.1Q583.7 2312.4 588.1 2315.2Q592.5 2317.9 593.2 2323.2Q593.9 2328.4 590.2 2332.8Q586.6 2337.3 581.4 2337.8Q576.3 2338.4 572.4 2335.1Z" fill="#cc1f2a"/><polygon points="599.2,2316.3 593.5,2309.4 587.8,2302.5 582.2,2295.7 576.5,2288.8 571.6,2292.2 576.4,2299.7 581.3,2307.2 586.2,2314.7 591.1,2322.1" fill="#f9c531"/><polygon points="572.4,2332.7 568.1,2324.8 563.9,2316.9 559.6,2309 555.4,2301.1 548.2,2304.9 552.5,2312.8 556.8,2320.7 561.1,2328.6 565.4,2336.5" fill="#f9c531"/><path d="M505.4 2338Q500.6 2335.9 499.4 2330.6Q498.1 2325.4 502.1 2320.1Q506.1 2314.8 512 2313.8Q517.9 2312.7 521.9 2316Q525.9 2319.4 526.3 2324.5Q526.7 2329.6 523.6 2333.7Q520.4 2337.7 515.3 2338.9Q510.2 2340.1 505.4 2338Z" fill="#cc1f2a"/><polygon points="545.2,2346.9 541.3,2338.9 537.3,2330.8 533.3,2322.7 529.3,2314.7 521.8,2318.4 526,2326.4 530.1,2334.4 534.3,2342.3 538.4,2350.3" fill="#f9c531"/><polygon points="524.9,2358.7 519.1,2351.9 513.3,2345 507.5,2338.2 501.7,2331.3 494.3,2338.4 500.9,2344.5 507.5,2350.6 514.1,2356.6 520.7,2362.7" fill="#f9c531"/><path d="M519.5 2386.8Q516.1 2390.1 511.3 2391.5Q506.6 2392.9 503.2 2389.9Q499.8 2386.8 501 2382.4Q502.2 2378 506.9 2376.6Q511.6 2375.2 516.3 2376.1Q521.1 2376.9 523.2 2378Q525.4 2379.1 524.2 2381.3Q522.9 2383.4 519.5 2386.8Z" fill="#cc1f2a"/><polygon points="514.5,2373.1 505.8,2371.3 497,2369.6 488.2,2367.8 479.5,2366.1 478.6,2378.1 487.5,2377.8 496.4,2377.5 505.4,2377.2 514.3,2376.9" fill="#f9c531"/><polygon points="517.3,2387.2 509.7,2391.8 502.1,2396.4 494.5,2401 487,2405.7 493.8,2414.7 500.4,2408.7 507,2402.8 513.5,2396.8 520.1,2390.9" fill="#f9c531"/><path d="M548.8 2436.5Q549.5 2441.5 546.2 2445.4Q542.9 2449.4 537.2 2449.6Q531.5 2449.8 526.9 2446Q522.4 2442.2 522.3 2437Q522.2 2431.8 526.1 2428.4Q530 2425.1 535.1 2425Q540.3 2425 544.2 2428.2Q548.1 2431.5 548.8 2436.5Z" fill="#cc1f2a"/><polygon points="533,2400.6 528.7,2408.3 524.4,2416 520.1,2423.7 515.8,2431.4 524.3,2435.7 527.9,2427.7 531.5,2419.6 535.2,2411.6 538.8,2403.6" fill="#f9c531"/><polygon points="555.2,2409.4 552.8,2417.8 550.4,2426.3 548,2434.8 545.6,2443.2 554.1,2445.4 556.1,2436.8 558.1,2428.3 560.1,2419.8 562.2,2411.2" fill="#f9c531"/><path d="M608.9 2413.3Q610.8 2418 608.9 2422.6Q607 2427.2 602.4 2429.1Q597.8 2431 593.3 2429Q588.8 2427 587.3 2422.3Q585.7 2417.5 587.7 2413Q589.6 2408.4 593.8 2406.6Q598.1 2404.8 602.5 2406.7Q607 2408.7 608.9 2413.3Z" fill="#cc1f2a"/><polygon points="581.5,2414.6 580.6,2423.3 579.8,2432 579,2440.7 578.1,2449.4 587,2450 587.4,2441.3 587.8,2432.5 588.2,2423.8 588.6,2415.1" fill="#f9c531"/><polygon points="607.8,2415.3 607.8,2424.1 607.8,2432.8 607.8,2441.5 607.7,2450.3 615.7,2450.2 615.7,2441.5 615.8,2432.8 615.8,2424.1 615.8,2415.4" fill="#f9c531"/><path d="M665.7 2442.4Q667 2447 664.9 2451.3Q662.8 2455.6 659 2457.4Q655.2 2459.1 651.2 2457.4Q647.1 2455.7 645.2 2451.2Q643.2 2446.8 645 2442.2Q646.7 2437.6 651.2 2435.6Q655.7 2433.7 660.1 2435.8Q664.4 2437.8 665.7 2442.4Z" fill="#cc1f2a"/><polygon points="637.1,2415.2 637.4,2423.8 637.8,2432.4 638.1,2441 638.4,2449.6 646.2,2449.2 646,2440.7 645.8,2432.1 645.5,2423.6 645.3,2415" fill="#f9c531"/><polygon points="667.4,2415.8 666.6,2424.2 665.7,2432.5 664.9,2440.9 664.1,2449.3 670.9,2450.1 672.3,2441.9 673.7,2433.6 675,2425.4 676.4,2417.2" fill="#f9c531"/><path d="M730.2 2435.6Q729.7 2440.4 725.7 2442.8Q721.6 2445.2 716.8 2444.5Q711.9 2443.8 708.5 2440.3Q705.1 2436.9 704.8 2432.1Q704.5 2427.4 707.9 2424.1Q711.4 2420.9 717.1 2421.5Q722.8 2422.2 726.7 2426.5Q730.7 2430.8 730.2 2435.6Z" fill="#cc1f2a"/><polygon points="700.2,2423.3 697.7,2431.1 695.2,2438.9 692.7,2446.6 690.2,2454.4 696.5,2456.6 699.5,2449 702.4,2441.4 705.4,2433.8 708.3,2426.3" fill="#f9c531"/><polygon points="728.2,2436.5 723.9,2443.2 719.5,2450 715.2,2456.8 710.8,2463.5 716,2467.1 720.9,2460.8 725.8,2454.4 730.7,2448.1 735.6,2441.8" fill="#f9c531"/><path d="M741.8 2495.2Q738.2 2497.1 734 2496.4Q729.9 2495.7 727.4 2493.8Q724.9 2491.9 725.3 2489.1Q725.7 2486.3 728.7 2483.3Q731.7 2480.2 736.1 2479.5Q740.4 2478.7 743.6 2481.8Q746.7 2484.8 746.1 2489.1Q745.5 2493.3 741.8 2495.2Z" fill="#cc1f2a"/><polygon points="753.6,2460.2 747.1,2464.9 740.6,2469.5 734.2,2474.1 727.7,2478.7 730.7,2483.1 737.6,2479.5 744.6,2475.8 751.5,2472.1 758.4,2468.4" fill="#f9c531"/><polygon points="765,2491.4 757.6,2492.4 750.3,2493.4 743,2494.4 735.6,2495.4 736.4,2500.4 743.5,2500.6 750.7,2500.8 757.9,2501 765.1,2501.2" fill="#f9c531"/><path d="M743.8 2548.5Q740.2 2547.6 738.9 2544.3Q737.5 2541 738.7 2537.4Q739.9 2533.7 743.1 2531.5Q746.3 2529.2 750.1 2529.4Q753.9 2529.6 755.9 2532.8Q758 2535.9 756.5 2540.3Q755.1 2544.6 751.2 2547.1Q747.3 2549.5 743.8 2548.5Z" fill="#cc1f2a"/><polygon points="757.8,2526.5 751.8,2523.8 745.8,2521.2 739.8,2518.5 733.8,2515.9 731.9,2520.3 737.5,2523.5 743,2526.6 748.6,2529.7 754.2,2532.9" fill="#f9c531"/><polygon points="743.3,2547 738.7,2542.9 734.1,2538.9 729.6,2534.9 725,2530.9 721.4,2534.9 725.7,2539.2 730,2543.4 734.3,2547.6 738.6,2551.8" fill="#f9c531"/><path d="M697.4 2560.3Q694.9 2558.8 694.5 2555.7Q694.1 2552.6 695.9 2549.6Q697.7 2546.7 700.6 2545.8Q703.5 2545 706.1 2546.7Q708.8 2548.5 709.5 2551.8Q710.2 2555 708.3 2557.7Q706.4 2560.5 703.1 2561.2Q699.9 2561.9 697.4 2560.3Z" fill="#cc1f2a"/><polygon points="724.1,2564.1 720.7,2559.3 717.2,2554.6 713.7,2549.9 710.2,2545.2 706.3,2548.3 709.5,2553 712.7,2557.7 715.9,2562.5 719,2567.2" fill="#f9c531"/><polygon points="706.5,2573.6 703.8,2569.3 701.1,2565 698.4,2560.6 695.7,2556.3 691.3,2559.7 693.9,2563.8 696.5,2567.8 699.1,2571.9 701.7,2576" fill="#f9c531"/><path d="M676.9 2590.6Q675.1 2589.5 674.7 2587.6Q674.3 2585.6 675.6 2583.8Q676.9 2582 679.1 2581.5Q681.3 2581 683.3 2582.2Q685.2 2583.5 685.6 2585.6Q685.9 2587.7 684.5 2589.3Q683.1 2591 680.9 2591.3Q678.7 2591.6 676.9 2590.6Z" fill="#cc1f2a"/><polygon points="687.9,2583.3 685.6,2580 683.4,2576.7 681.1,2573.4 678.8,2570 675.9,2572.4 678.1,2575.6 680.3,2578.8 682.4,2581.9 684.6,2585.1" fill="#f9c531"/><polygon points="676.8,2589.7 674.7,2586.8 672.7,2584 670.6,2581.2 668.5,2578.4 665.5,2580.9 667.6,2583.6 669.7,2586.2 671.8,2588.9 673.9,2591.6" fill="#f9c531"/><path d="M652.1 2600.1Q650.3 2599.9 649.3 2598.4Q648.4 2596.8 648.8 2594.6Q649.3 2592.5 651 2591.3Q652.7 2590 654.6 2590.5Q656.4 2591 657.2 2592.7Q658 2594.4 657.5 2596.3Q656.9 2598.1 655.4 2599.2Q653.8 2600.3 652.1 2600.1Z" fill="#cc1f2a"/><polygon points="666.5,2597.6 664.2,2595.4 661.8,2593.2 659.4,2591 657.1,2588.7 654.8,2591.3 657.3,2593.4 659.8,2595.5 662.3,2597.6 664.7,2599.7" fill="#f9c531"/><polygon points="660.5,2605 657.9,2603.3 655.3,2601.7 652.7,2600 650.2,2598.4 648.6,2601.3 651.2,2602.8 653.7,2604.3 656.3,2605.7 658.8,2607.2" fill="#f9c531"/><path d="M650.2 2622.7Q648.9 2622.9 648.2 2622Q647.6 2621.1 647.7 2619.5Q647.9 2617.9 649 2616.6Q650.1 2615.3 651.5 2615.2Q653 2615.1 653.8 2616.2Q654.7 2617.2 654.3 2618.7Q653.9 2620.1 652.7 2621.3Q651.4 2622.4 650.2 2622.7Z" fill="#cc1f2a"/><polygon points="654.5,2614 652.2,2612.9 649.9,2611.9 647.6,2610.9 645.3,2609.8 644.5,2612.7 646.6,2613.6 648.8,2614.5 651,2615.4 653.1,2616.3" fill="#f9c531"/><polygon points="649.9,2622.2 648.1,2621.6 646.3,2621 644.5,2620.4 642.7,2619.8 642.2,2622.7 643.8,2623.2 645.5,2623.7 647.1,2624.2 648.8,2624.6" fill="#f9c531"/><path d="M641.4 2641.1Q641 2641.8 640.6 2641Q640.3 2640.3 640.1 2638.6Q639.9 2637 640.1 2635.3Q640.3 2633.7 640.9 2633.1Q641.5 2632.5 642 2633.3Q642.5 2634.1 642.5 2635.7Q642.5 2637.3 642.1 2638.9Q641.8 2640.5 641.4 2641.1Z" fill="#cc1f2a"/><polygon points="646.1,2631.6 644.9,2631.4 643.7,2631.2 642.5,2630.9 641.3,2630.7 641.1,2633.5 642.2,2633.7 643.2,2633.9 644.2,2634.1 645.3,2634.3" fill="#f9c531"/><polygon points="643.5,2641 642.8,2640.9 642.2,2640.8 641.5,2640.8 640.8,2640.7 640.7,2643.5 641.2,2643.6 641.8,2643.6 642.3,2643.7 642.9,2643.7" fill="#f9c531"/></g>
<!-- ladder F --><g transform="translate(701 1673.8) rotate(-6)"><rect x="-41.6" y="30.5" width="84" height="9.3" rx="4.2" fill="#e8965c"/><rect x="-41.6" y="30.5" width="84" height="7.3" rx="3.7" fill="#a65f33"/><rect x="-41.6" y="81.9" width="84" height="9.3" rx="4.2" fill="#e8965c"/><rect x="-41.6" y="81.9" width="84" height="7.3" rx="3.7" fill="#a65f33"/><rect x="-41.6" y="133.2" width="84" height="9.3" rx="4.2" fill="#e8965c"/><rect x="-41.6" y="133.2" width="84" height="7.3" rx="3.7" fill="#a65f33"/><rect x="-41.6" y="184.6" width="84" height="9.3" rx="4.2" fill="#e8965c"/><rect x="-41.6" y="184.6" width="84" height="7.3" rx="3.7" fill="#a65f33"/><rect x="-41.6" y="236" width="84" height="9.3" rx="4.2" fill="#e8965c"/><rect x="-41.6" y="236" width="84" height="7.3" rx="3.7" fill="#a65f33"/><rect x="-41.6" y="287.4" width="84" height="9.3" rx="4.2" fill="#e8965c"/><rect x="-41.6" y="287.4" width="84" height="7.3" rx="3.7" fill="#a65f33"/><rect x="-41.6" y="338.7" width="84" height="9.3" rx="4.2" fill="#e8965c"/><rect x="-41.6" y="338.7" width="84" height="7.3" rx="3.7" fill="#a65f33"/><rect x="-41.6" y="390.1" width="84" height="9.3" rx="4.2" fill="#e8965c"/><rect x="-41.6" y="390.1" width="84" height="7.3" rx="3.7" fill="#a65f33"/><rect x="-41.6" y="441.5" width="84" height="9.3" rx="4.2" fill="#e8965c"/><rect x="-41.6" y="441.5" width="84" height="7.3" rx="3.7" fill="#a65f33"/><rect x="-41.6" y="492.8" width="84" height="9.3" rx="4.2" fill="#e8965c"/><rect x="-41.6" y="492.8" width="84" height="7.3" rx="3.7" fill="#a65f33"/><rect x="-54.8" y="0" width="16.6" height="532.7" rx="3.6" fill="#5a3a26"/><rect x="-44.2" y="5" width="5" height="524.4" rx="2.3" fill="#a65f33"/><rect x="38.3" y="0" width="16.6" height="532.7" rx="3.6" fill="#5a3a26"/><rect x="48.9" y="5" width="5" height="524.4" rx="2.3" fill="#a65f33"/></g>
<!-- ladder G --><g transform="translate(1251 1927.6) rotate(12)"><rect x="-22.8" y="16.7" width="46" height="5.1" rx="2.3" fill="#e8965c"/><rect x="-22.8" y="16.7" width="46" height="4" rx="2" fill="#a65f33"/><rect x="-22.8" y="44.8" width="46" height="5.1" rx="2.3" fill="#e8965c"/><rect x="-22.8" y="44.8" width="46" height="4" rx="2" fill="#a65f33"/><rect x="-22.8" y="72.9" width="46" height="5.1" rx="2.3" fill="#e8965c"/><rect x="-22.8" y="72.9" width="46" height="4" rx="2" fill="#a65f33"/><rect x="-22.8" y="101" width="46" height="5.1" rx="2.3" fill="#e8965c"/><rect x="-22.8" y="101" width="46" height="4" rx="2" fill="#a65f33"/><rect x="-22.8" y="129.1" width="46" height="5.1" rx="2.3" fill="#e8965c"/><rect x="-22.8" y="129.1" width="46" height="4" rx="2" fill="#a65f33"/><rect x="-22.8" y="157.2" width="46" height="5.1" rx="2.3" fill="#e8965c"/><rect x="-22.8" y="157.2" width="46" height="4" rx="2" fill="#a65f33"/><rect x="-22.8" y="185.3" width="46" height="5.1" rx="2.3" fill="#e8965c"/><rect x="-22.8" y="185.3" width="46" height="4" rx="2" fill="#a65f33"/><rect x="-22.8" y="213.4" width="46" height="5.1" rx="2.3" fill="#e8965c"/><rect x="-22.8" y="213.4" width="46" height="4" rx="2" fill="#a65f33"/><rect x="-22.8" y="241.6" width="46" height="5.1" rx="2.3" fill="#e8965c"/><rect x="-22.8" y="241.6" width="46" height="4" rx="2" fill="#a65f33"/><rect x="-22.8" y="269.7" width="46" height="5.1" rx="2.3" fill="#e8965c"/><rect x="-22.8" y="269.7" width="46" height="4" rx="2" fill="#a65f33"/><rect x="-30" y="0" width="9.1" height="291.4" rx="2" fill="#5a3a26"/><rect x="-24.2" y="2.7" width="2.7" height="286.9" rx="1.3" fill="#a65f33"/><rect x="20.9" y="0" width="9.1" height="291.4" rx="2" fill="#5a3a26"/><rect x="26.7" y="2.7" width="2.7" height="286.9" rx="1.3" fill="#a65f33"/></g>
<!-- snake s8 --><polygon points="1813.3,1995.3 1810.5,2002.2 1808.4,2008.8 1807.9,2015.3 1805.9,2022.3 1804.9,2029.4 1806.4,2036 1807.7,2042.4 1809,2048.8 1811.5,2055.3 1815.7,2061.6 1821.3,2067.6 1827.4,2073.1 1833.5,2078.2 1838.8,2083.4 1843.8,2088.4 1849,2092.8 1854.3,2096.7 1859.5,2100.4 1864.7,2103.9 1869.9,2107.4 1875.1,2111 1880.1,2114.7 1885.2,2118.4 1890.3,2122.1 1895.5,2125.6 1900.8,2129.1 1906.2,2132.6 1911.9,2135.9 1917.8,2139.1 1923.6,2141.9 1929.4,2144.6 1935,2147.1 1940.4,2149.5 1945.6,2151.9 1950.7,2154.4 1955.5,2156.9 1960.1,2159.6 1964.6,2162.6 1969.3,2165.8 1973.9,2169.1 1978.5,2172.5 1983,2175.9 1987.3,2179.5 1991.5,2183.1 1995.5,2186.8 1999.4,2190.5 2002.9,2194.4 2006.2,2198.3 2009.2,2202.3 2011.9,2206.5 2014.5,2211 2016.9,2215.8 2019.2,2220.9 2021.5,2226.1 2023.9,2231.6 2026.3,2237.3 2028.9,2243 2031.5,2248.7 2034.2,2254.2 2036.8,2259.5 2039.2,2264.9 2041.7,2270.3 2044.3,2275.9 2047,2281.5 2049.8,2287.2 2052.8,2293 2056,2298.7 2059.5,2304.4 2063.1,2309.8 2066.8,2315 2070.6,2320.1 2074.4,2325.2 2078.5,2330.2 2082.6,2335.1 2086.9,2339.9 2091.3,2344.7 2095.9,2349.3 2100.7,2353.8 2105.6,2358.1 2110.7,2362.3 2115.9,2366.2 2121.2,2370 2126.5,2373.6 2132,2377.1 2137.4,2380.4 2143,2383.6 2148.6,2386.6 2154.2,2389.5 2160,2392.2 2165.8,2394.8 2171.8,2397.3 2177.8,2399.6 2183.9,2401.6 2189.9,2403.6 2195.9,2405.3 2201.9,2407 2207.9,2408.5 2213.9,2410 2219.8,2411.5 2225.8,2412.9 2231.9,2414.4 2238.1,2415.6 2244.4,2416.8 2250.5,2417.7 2256.5,2418.7 2262.4,2419.6 2268.2,2420.5 2273.9,2421.6 2279.4,2422.8 2284.7,2424.2 2290,2426 2295.3,2427.9 2300.7,2430 2306.1,2432.1 2311.4,2434.3 2316.6,2436.6 2321.8,2439 2327,2441.5 2332,2444.2 2336.9,2446.9 2341.7,2449.9 2346.4,2453 2350.9,2456.4 2355.3,2459.9 2359.6,2463.7 2363.9,2467.7 2368,2471.8 2372.1,2476 2376.1,2480.4 2380,2484.8 2383.8,2489.3 2387.3,2493.8 2390.7,2498.5 2394.1,2503.2 2397.4,2508.1 2400.8,2513.1 2404.2,2518.1 2407.7,2523.1 2411.3,2528 2414.8,2532.8 2418.3,2537.7 2421.8,2542.7 2425.2,2547.7 2428.8,2552.7 2432.4,2557.7 2436.1,2562.6 2440,2567.5 2444.1,2572.1 2448.6,2576.4 2453.4,2580.3 2458.2,2584 2463.2,2587.6 2468,2591.3 2472.7,2595.1 2477.2,2599.2 2477.8,2598.4 2473.7,2594.1 2469.6,2589.6 2465.7,2585 2461.8,2580.3 2458.1,2575.6 2454.3,2570.9 2450.7,2566.3 2446.9,2561.8 2443.4,2557.1 2440.1,2552.3 2436.9,2547.3 2433.9,2542.1 2431,2536.9 2428.1,2531.6 2425.1,2526.3 2422.1,2521 2419.1,2515.8 2416.2,2510.6 2413.3,2505.3 2410.3,2500 2407.1,2494.7 2403.8,2489.4 2400.2,2484.3 2396.3,2479.3 2392.4,2474.5 2388.5,2469.7 2384.6,2464.9 2380.6,2460.2 2376.6,2455.5 2372.3,2450.8 2368,2446.3 2363.4,2441.8 2358.6,2437.5 2353.6,2433.3 2348.5,2429.4 2343.2,2425.8 2337.8,2422.3 2332.4,2419 2326.8,2416 2321.2,2413.1 2315.5,2410.4 2309.7,2407.8 2303.8,2405.5 2297.9,2403.3 2291.7,2401.2 2285.4,2399.4 2279.2,2397.8 2273,2396.4 2266.9,2395.2 2261,2394 2255.1,2392.8 2249.4,2391.5 2243.8,2390.2 2238.3,2388.7 2232.8,2387 2227.1,2385.2 2221.4,2383.4 2215.8,2381.6 2210.2,2379.7 2204.7,2377.8 2199.2,2375.9 2193.8,2373.8 2188.6,2371.7 2183.4,2369.5 2178.3,2367.1 2173.3,2364.6 2168.2,2362 2163.1,2359.3 2158.1,2356.6 2153.2,2353.7 2148.4,2350.8 2143.6,2347.7 2139,2344.6 2134.5,2341.3 2130.1,2337.9 2125.9,2334.4 2121.8,2330.8 2117.8,2327 2113.9,2323 2110.1,2318.9 2106.4,2314.7 2102.9,2310.3 2099.4,2305.9 2096,2301.3 2092.6,2296.7 2089.4,2292 2086.4,2287.3 2083.6,2282.7 2081,2277.9 2078.5,2272.9 2076,2267.7 2073.6,2262.4 2071.2,2257 2068.7,2251.5 2066.2,2245.8 2063.6,2240.2 2061,2234.8 2058.6,2229.6 2056.3,2224.3 2054,2218.8 2051.7,2213.2 2049.2,2207.4 2046.5,2201.5 2043.5,2195.5 2040.2,2189.5 2036.3,2183.6 2032.1,2177.9 2027.7,2172.5 2023,2167.6 2018.3,2162.9 2013.4,2158.4 2008.4,2154.2 2003.4,2150.1 1998.3,2146.2 1993.1,2142.5 1988,2138.8 1982.6,2135.2 1977,2131.7 1971.2,2128.3 1965.3,2125.3 1959.4,2122.5 1953.7,2119.9 1948.1,2117.5 1942.6,2115.1 1937.4,2112.8 1932.4,2110.4 1927.6,2107.9 1922.9,2105.1 1918.1,2102.1 1913.3,2099 1908.5,2095.8 1903.8,2092.4 1899.1,2089 1894.6,2085.5 1890.1,2081.7 1885.9,2077.7 1881.7,2073.6 1877.7,2069.5 1873.9,2065.5 1870.4,2061.6 1867,2058 1864.6,2053.9 1863.5,2049.2 1863.4,2044.4 1863.6,2039.6 1863.2,2034.8 1861.4,2029.9 1858.8,2024.9 1856.2,2019.9 1854.2,2015 1850,2010.5 1845,2005.8 1841.5,2000.6 1836.6,1995.5 1830.7,1990.7" fill="#85604d"/><clipPath id="c8"><polygon points="1813.3,1995.3 1810.5,2002.2 1808.4,2008.8 1807.9,2015.3 1805.9,2022.3 1804.9,2029.4 1806.4,2036 1807.7,2042.4 1809,2048.8 1811.5,2055.3 1815.7,2061.6 1821.3,2067.6 1827.4,2073.1 1833.5,2078.2 1838.8,2083.4 1843.8,2088.4 1849,2092.8 1854.3,2096.7 1859.5,2100.4 1864.7,2103.9 1869.9,2107.4 1875.1,2111 1880.1,2114.7 1885.2,2118.4 1890.3,2122.1 1895.5,2125.6 1900.8,2129.1 1906.2,2132.6 1911.9,2135.9 1917.8,2139.1 1923.6,2141.9 1929.4,2144.6 1935,2147.1 1940.4,2149.5 1945.6,2151.9 1950.7,2154.4 1955.5,2156.9 1960.1,2159.6 1964.6,2162.6 1969.3,2165.8 1973.9,2169.1 1978.5,2172.5 1983,2175.9 1987.3,2179.5 1991.5,2183.1 1995.5,2186.8 1999.4,2190.5 2002.9,2194.4 2006.2,2198.3 2009.2,2202.3 2011.9,2206.5 2014.5,2211 2016.9,2215.8 2019.2,2220.9 2021.5,2226.1 2023.9,2231.6 2026.3,2237.3 2028.9,2243 2031.5,2248.7 2034.2,2254.2 2036.8,2259.5 2039.2,2264.9 2041.7,2270.3 2044.3,2275.9 2047,2281.5 2049.8,2287.2 2052.8,2293 2056,2298.7 2059.5,2304.4 2063.1,2309.8 2066.8,2315 2070.6,2320.1 2074.4,2325.2 2078.5,2330.2 2082.6,2335.1 2086.9,2339.9 2091.3,2344.7 2095.9,2349.3 2100.7,2353.8 2105.6,2358.1 2110.7,2362.3 2115.9,2366.2 2121.2,2370 2126.5,2373.6 2132,2377.1 2137.4,2380.4 2143,2383.6 2148.6,2386.6 2154.2,2389.5 2160,2392.2 2165.8,2394.8 2171.8,2397.3 2177.8,2399.6 2183.9,2401.6 2189.9,2403.6 2195.9,2405.3 2201.9,2407 2207.9,2408.5 2213.9,2410 2219.8,2411.5 2225.8,2412.9 2231.9,2414.4 2238.1,2415.6 2244.4,2416.8 2250.5,2417.7 2256.5,2418.7 2262.4,2419.6 2268.2,2420.5 2273.9,2421.6 2279.4,2422.8 2284.7,2424.2 2290,2426 2295.3,2427.9 2300.7,2430 2306.1,2432.1 2311.4,2434.3 2316.6,2436.6 2321.8,2439 2327,2441.5 2332,2444.2 2336.9,2446.9 2341.7,2449.9 2346.4,2453 2350.9,2456.4 2355.3,2459.9 2359.6,2463.7 2363.9,2467.7 2368,2471.8 2372.1,2476 2376.1,2480.4 2380,2484.8 2383.8,2489.3 2387.3,2493.8 2390.7,2498.5 2394.1,2503.2 2397.4,2508.1 2400.8,2513.1 2404.2,2518.1 2407.7,2523.1 2411.3,2528 2414.8,2532.8 2418.3,2537.7 2421.8,2542.7 2425.2,2547.7 2428.8,2552.7 2432.4,2557.7 2436.1,2562.6 2440,2567.5 2444.1,2572.1 2448.6,2576.4 2453.4,2580.3 2458.2,2584 2463.2,2587.6 2468,2591.3 2472.7,2595.1 2477.2,2599.2 2477.8,2598.4 2473.7,2594.1 2469.6,2589.6 2465.7,2585 2461.8,2580.3 2458.1,2575.6 2454.3,2570.9 2450.7,2566.3 2446.9,2561.8 2443.4,2557.1 2440.1,2552.3 2436.9,2547.3 2433.9,2542.1 2431,2536.9 2428.1,2531.6 2425.1,2526.3 2422.1,2521 2419.1,2515.8 2416.2,2510.6 2413.3,2505.3 2410.3,2500 2407.1,2494.7 2403.8,2489.4 2400.2,2484.3 2396.3,2479.3 2392.4,2474.5 2388.5,2469.7 2384.6,2464.9 2380.6,2460.2 2376.6,2455.5 2372.3,2450.8 2368,2446.3 2363.4,2441.8 2358.6,2437.5 2353.6,2433.3 2348.5,2429.4 2343.2,2425.8 2337.8,2422.3 2332.4,2419 2326.8,2416 2321.2,2413.1 2315.5,2410.4 2309.7,2407.8 2303.8,2405.5 2297.9,2403.3 2291.7,2401.2 2285.4,2399.4 2279.2,2397.8 2273,2396.4 2266.9,2395.2 2261,2394 2255.1,2392.8 2249.4,2391.5 2243.8,2390.2 2238.3,2388.7 2232.8,2387 2227.1,2385.2 2221.4,2383.4 2215.8,2381.6 2210.2,2379.7 2204.7,2377.8 2199.2,2375.9 2193.8,2373.8 2188.6,2371.7 2183.4,2369.5 2178.3,2367.1 2173.3,2364.6 2168.2,2362 2163.1,2359.3 2158.1,2356.6 2153.2,2353.7 2148.4,2350.8 2143.6,2347.7 2139,2344.6 2134.5,2341.3 2130.1,2337.9 2125.9,2334.4 2121.8,2330.8 2117.8,2327 2113.9,2323 2110.1,2318.9 2106.4,2314.7 2102.9,2310.3 2099.4,2305.9 2096,2301.3 2092.6,2296.7 2089.4,2292 2086.4,2287.3 2083.6,2282.7 2081,2277.9 2078.5,2272.9 2076,2267.7 2073.6,2262.4 2071.2,2257 2068.7,2251.5 2066.2,2245.8 2063.6,2240.2 2061,2234.8 2058.6,2229.6 2056.3,2224.3 2054,2218.8 2051.7,2213.2 2049.2,2207.4 2046.5,2201.5 2043.5,2195.5 2040.2,2189.5 2036.3,2183.6 2032.1,2177.9 2027.7,2172.5 2023,2167.6 2018.3,2162.9 2013.4,2158.4 2008.4,2154.2 2003.4,2150.1 1998.3,2146.2 1993.1,2142.5 1988,2138.8 1982.6,2135.2 1977,2131.7 1971.2,2128.3 1965.3,2125.3 1959.4,2122.5 1953.7,2119.9 1948.1,2117.5 1942.6,2115.1 1937.4,2112.8 1932.4,2110.4 1927.6,2107.9 1922.9,2105.1 1918.1,2102.1 1913.3,2099 1908.5,2095.8 1903.8,2092.4 1899.1,2089 1894.6,2085.5 1890.1,2081.7 1885.9,2077.7 1881.7,2073.6 1877.7,2069.5 1873.9,2065.5 1870.4,2061.6 1867,2058 1864.6,2053.9 1863.5,2049.2 1863.4,2044.4 1863.6,2039.6 1863.2,2034.8 1861.4,2029.9 1858.8,2024.9 1856.2,2019.9 1854.2,2015 1850,2010.5 1845,2005.8 1841.5,2000.6 1836.6,1995.5 1830.7,1990.7"/></clipPath><g clip-path="url(#c8)"><polyline points="1867.5,2057 1866.9,2068.1 1867.8,2079.6 1869.7,2090.9 1872.4,2101.8 1875.7,2112.5" fill="none" stroke="#3b2542" stroke-width="5"/><polyline points="1837.7,2083.6 1850.6,2085.1 1862.8,2085.3 1874.3,2085.3 1885.3,2085.5 1896,2085.6" fill="none" stroke="#3b2542" stroke-width="5"/><polyline points="1896,2085.6 1898.8,2096.1 1902,2106.6 1905.5,2117.1 1909.6,2127.7 1914.5,2138.3" fill="none" stroke="#3b2542" stroke-width="5"/><polyline points="1875.7,2112.5 1887,2112.4 1898.2,2112.1 1909.2,2111.5 1920,2110.3 1930.4,2108.5" fill="none" stroke="#3b2542" stroke-width="5"/><polyline points="1930.4,2108.5 1934.7,2118.1 1939.7,2127.8 1945,2137.6 1950,2147.3 1954.1,2157.1" fill="none" stroke="#3b2542" stroke-width="5"/><polyline points="1914.5,2138.3 1926,2136.5 1937,2134 1947.8,2131.3 1958.8,2128.9 1970.4,2127" fill="none" stroke="#3b2542" stroke-width="5"/><polyline points="1970.4,2127 1975.3,2137.7 1979.2,2148.5 1982.4,2159.2 1985.1,2169.9 1987.2,2180.4" fill="none" stroke="#3b2542" stroke-width="5"/><polyline points="1954.1,2157.1 1964.4,2155.2 1975.3,2154.2 1986.4,2153.6 1997.8,2153.5 2009.4,2153.9" fill="none" stroke="#3b2542" stroke-width="5"/><polyline points="2009.4,2153.9 2012,2165.3 2013.7,2176.7 2014.5,2187.8 2014,2198.5 2012.2,2208.6" fill="none" stroke="#3b2542" stroke-width="5"/><polyline points="1987.2,2180.4 1997.9,2180.6 2008.8,2181.5 2019.8,2183.4 2031.1,2186.6 2042.2,2191.4" fill="none" stroke="#3b2542" stroke-width="5"/><polyline points="2042.2,2191.4 2040.6,2203.3 2038.1,2214.4 2035.2,2225.3 2032.4,2236.1 2029.9,2247.3" fill="none" stroke="#3b2542" stroke-width="5"/><polyline points="2012.2,2208.6 2022,2212.4 2031.8,2217.2 2041.6,2222.6 2051.3,2227.9 2060.9,2232.8" fill="none" stroke="#3b2542" stroke-width="5"/><polyline points="2060.9,2232.8 2058.5,2243.6 2056.1,2254.5 2053.5,2265.4 2051.1,2276.3 2049,2287.4" fill="none" stroke="#3b2542" stroke-width="5"/><polyline points="2029.9,2247.3 2040,2252.4 2049.9,2257.4 2059.7,2262.6 2069.4,2267.7 2079.1,2272.4" fill="none" stroke="#3b2542" stroke-width="5"/><polyline points="2079.1,2272.4 2076.9,2282.8 2075.4,2293.5 2074.7,2304.5 2074.6,2315.7 2074.9,2327" fill="none" stroke="#3b2542" stroke-width="5"/><polyline points="2049,2287.4 2059.3,2292.6 2069.8,2297.1 2080.2,2300.7 2090.6,2303.9 2100.9,2306.6" fill="none" stroke="#3b2542" stroke-width="5"/><polyline points="2100.9,2306.6 2100.9,2317.1 2101.5,2327.8 2102.7,2338.6 2104.7,2349.6 2107.4,2360.6" fill="none" stroke="#3b2542" stroke-width="5"/><polyline points="2074.9,2327 2085.8,2329.9 2096.6,2332.3 2107.4,2334 2117.9,2335.1 2128.2,2335.4" fill="none" stroke="#3b2542" stroke-width="5"/><polyline points="2128.2,2335.4 2130.4,2345.5 2133.4,2355.6 2136.9,2365.7 2141,2375.9 2145.6,2385.9" fill="none" stroke="#3b2542" stroke-width="5"/><polyline points="2107.4,2360.6 2118.7,2361.1 2129.7,2361 2140.4,2360.2 2150.9,2359 2161.2,2357.4" fill="none" stroke="#3b2542" stroke-width="5"/><polyline points="2161.2,2357.4 2165.4,2367 2170,2376.5 2175.1,2385.8 2180.9,2394.8 2187.2,2403.5" fill="none" stroke="#3b2542" stroke-width="5"/><polyline points="2145.6,2385.9 2156.6,2384.3 2167.2,2382.3 2177.6,2380 2187.6,2377.3 2197.3,2374.4" fill="none" stroke="#3b2542" stroke-width="5"/><polyline points="2197.3,2374.4 2202.7,2382.8 2208.5,2391 2214.6,2398.9 2220.8,2406.5 2227.3,2414" fill="none" stroke="#3b2542" stroke-width="5"/><polyline points="2187.2,2403.5 2197.2,2400.1 2206.8,2396.7 2216.2,2393.3 2225.5,2390 2234.5,2386.8" fill="none" stroke="#3b2542" stroke-width="5"/><polyline points="2234.5,2386.8 2240,2394.2 2245.8,2401.1 2252,2407.8 2258.3,2414.2 2264.5,2420.5" fill="none" stroke="#3b2542" stroke-width="5"/><polyline points="2227.3,2414 2236.1,2410.3 2244.7,2406.5 2253,2402.6 2261.1,2398.7 2269.4,2395" fill="none" stroke="#3b2542" stroke-width="5"/><polyline points="2269.4,2395 2275.2,2401.6 2280.9,2408.1 2286.1,2414.7 2290.9,2421.5 2295.2,2428.5" fill="none" stroke="#3b2542" stroke-width="3.9"/><polyline points="2264.5,2420.5 2272,2416.6 2279.7,2413 2287.5,2409.9 2295.7,2407.2 2304.1,2405" fill="none" stroke="#3b2542" stroke-width="3.9"/><polyline points="2304.1,2405 2308.7,2412.2 2312.9,2419.4 2316.9,2426.7 2320.6,2433.8 2324,2440.7" fill="none" stroke="#3b2542" stroke-width="3.7"/><polyline points="2295.2,2428.5 2303,2426.1 2310.9,2424 2318.9,2422.2 2327.1,2420.9 2335.3,2420.1" fill="none" stroke="#3b2542" stroke-width="3.7"/><polyline points="2335.3,2420.1 2338.5,2427.5 2341.5,2434.7 2344.2,2441.8 2346.6,2448.6 2348.7,2455.3" fill="none" stroke="#3b2542" stroke-width="3.5"/><polyline points="2324,2440.7 2331.5,2439.3 2339.1,2438.5 2346.6,2438.2 2354.2,2438.6 2361.7,2439.6" fill="none" stroke="#3b2542" stroke-width="3.5"/><polyline points="2361.7,2439.6 2363.2,2446.5 2364.5,2453.1 2365.7,2459.6 2366.7,2465.9 2367.8,2472.1" fill="none" stroke="#3b2542" stroke-width="3"/><polyline points="2348.7,2455.3 2355.3,2455.4 2361.8,2456 2368.3,2457 2374.7,2458.3 2381,2460" fill="none" stroke="#3b2542" stroke-width="3"/><polyline points="2381,2460 2381.5,2466 2381.9,2471.9 2382.4,2477.8 2382.8,2483.5 2383.2,2489.1" fill="none" stroke="#3b2542" stroke-width="2.7"/><polyline points="2367.8,2472.1 2373.6,2473.1 2379.3,2474.2 2385,2475.6 2390.6,2477 2396.3,2478.6" fill="none" stroke="#3b2542" stroke-width="2.7"/><polyline points="2396.3,2478.6 2396.5,2484.3 2396.5,2489.9 2396.3,2495.4 2396,2500.9 2395.7,2506.2" fill="none" stroke="#3b2542" stroke-width="2.5"/><polyline points="2383.2,2489.1 2388.5,2490.4 2393.7,2491.9 2399,2493.6 2404.2,2495.4 2409.3,2497.5" fill="none" stroke="#3b2542" stroke-width="2.5"/><polyline points="2409.3,2497.5 2408.7,2502.9 2408.3,2508.2 2407.9,2513.5 2407.7,2518.6 2407.7,2523.6" fill="none" stroke="#3b2542" stroke-width="2.4"/><polyline points="2395.7,2506.2 2400.7,2508 2405.6,2509.9 2410.4,2511.9 2415.1,2513.9 2419.6,2516" fill="none" stroke="#3b2542" stroke-width="2.4"/><polyline points="2419.6,2516 2419.3,2520.9 2419.1,2525.8 2419,2530.5 2419.1,2535.1 2419.3,2539.6" fill="none" stroke="#3b2542" stroke-width="2.2"/><polyline points="2407.7,2523.6 2412.4,2525.4 2416.9,2527.2 2421.2,2529.1 2425.4,2531.2 2429.3,2533.4" fill="none" stroke="#3b2542" stroke-width="2.2"/><polyline points="2429.3,2533.4 2429.3,2538.1 2429.5,2542.6 2429.8,2547.2 2430.2,2551.6 2430.9,2556" fill="none" stroke="#3b2542" stroke-width="2.2"/><polyline points="2419.3,2539.6 2423.5,2541.7 2427.6,2543.8 2431.5,2546 2435.4,2548.2 2439.1,2550.4" fill="none" stroke="#3b2542" stroke-width="2.2"/><polyline points="2439.1,2550.4 2439.6,2554.7 2440.3,2559.1 2441.2,2563.4 2442.3,2567.7 2443.6,2571.9" fill="none" stroke="#3b2542" stroke-width="2.2"/><polyline points="2430.9,2556 2434.9,2558.1 2438.8,2560.2 2442.7,2562.2 2446.7,2564.1 2450.5,2565.8" fill="none" stroke="#3b2542" stroke-width="2.2"/><polyline points="2450.5,2565.8 2451.7,2570 2453,2574.1 2454.7,2578 2456.8,2581.6 2459.2,2584.8" fill="none" stroke="#3b2542" stroke-width="2.2"/><polyline points="2443.6,2571.9 2447.8,2573.6 2451.9,2575.2 2455.8,2577 2459.4,2578.9 2462.7,2581.1" fill="none" stroke="#3b2542" stroke-width="2.2"/><polyline points="2462.7,2581.1 2464.7,2584.8 2466.9,2588.2 2469.4,2591.3 2472.1,2594.2 2474.9,2597" fill="none" stroke="#3b2542" stroke-width="2.2"/><polyline points="2459.2,2584.8 2463,2586.6 2466.5,2588.6 2469.7,2591 2472.8,2593.5 2475.7,2596.2" fill="none" stroke="#3b2542" stroke-width="2.2"/><polyline points="2475.7,2596.2 2477.7,2598.6 2477.6,2598.7 2477.4,2598.9 2477.3,2599 2477.1,2599.2" fill="none" stroke="#3b2542" stroke-width="2.2"/><polyline points="2474.9,2597 2477.3,2599 2477.4,2598.9 2477.6,2598.7 2477.7,2598.6 2477.9,2598.4" fill="none" stroke="#3b2542" stroke-width="2.2"/></g><polyline points="1838.7,2048.5 1849.3,2051.8 1857.9,2054.5 1865.8,2056.4" fill="none" stroke="#3b2542" stroke-width="5"/><polyline points="1838.7,2048.5 1835.1,2059.5 1834.8,2070.5 1836.7,2081.2" fill="none" stroke="#3b2542" stroke-width="5"/><path d="M1845.7 2021.9Q1844.8 2022.9 1843.4 2022.6Q1842 2022.2 1840.9 2020.6Q1839.8 2019 1839.4 2017.2Q1839 2015.4 1839.7 2014.4Q1840.3 2013.4 1841.8 2013.8Q1843.3 2014.2 1844.7 2015.7Q1846.2 2017.1 1846.4 2019Q1846.6 2020.8 1845.7 2021.9Z" fill="#2a1c25"/><path d="M1818.3 2030.5Q1817.4 2031.7 1816 2031.2Q1814.7 2030.7 1813.7 2028.8Q1812.8 2026.9 1813.2 2024.7Q1813.6 2022.4 1814.7 2021.2Q1815.8 2020 1816.8 2020.6Q1817.9 2021.2 1818.5 2023.1Q1819.2 2025.1 1819.2 2027.2Q1819.2 2029.3 1818.3 2030.5Z" fill="#2a1c25"/>
<!-- ladder H --><g transform="translate(1950.4 2320.4) rotate(-8.4)"><rect x="-50.5" y="37" width="102" height="11.3" rx="5.1" fill="#e8965c"/><rect x="-50.5" y="37" width="102" height="8.8" rx="4.5" fill="#a65f33"/><rect x="-50.5" y="99.4" width="102" height="11.3" rx="5.1" fill="#e8965c"/><rect x="-50.5" y="99.4" width="102" height="8.8" rx="4.5" fill="#a65f33"/><rect x="-50.5" y="161.8" width="102" height="11.3" rx="5.1" fill="#e8965c"/><rect x="-50.5" y="161.8" width="102" height="8.8" rx="4.5" fill="#a65f33"/><rect x="-50.5" y="224.1" width="102" height="11.3" rx="5.1" fill="#e8965c"/><rect x="-50.5" y="224.1" width="102" height="8.8" rx="4.5" fill="#a65f33"/><rect x="-50.5" y="286.5" width="102" height="11.3" rx="5.1" fill="#e8965c"/><rect x="-50.5" y="286.5" width="102" height="8.8" rx="4.5" fill="#a65f33"/><rect x="-50.5" y="348.9" width="102" height="11.3" rx="5.1" fill="#e8965c"/><rect x="-50.5" y="348.9" width="102" height="8.8" rx="4.5" fill="#a65f33"/><rect x="-50.5" y="411.3" width="102" height="11.3" rx="5.1" fill="#e8965c"/><rect x="-50.5" y="411.3" width="102" height="8.8" rx="4.5" fill="#a65f33"/><rect x="-50.5" y="473.6" width="102" height="11.3" rx="5.1" fill="#e8965c"/><rect x="-50.5" y="473.6" width="102" height="8.8" rx="4.5" fill="#a65f33"/><rect x="-50.5" y="536" width="102" height="11.3" rx="5.1" fill="#e8965c"/><rect x="-50.5" y="536" width="102" height="8.8" rx="4.5" fill="#a65f33"/><rect x="-50.5" y="598.4" width="102" height="11.3" rx="5.1" fill="#e8965c"/><rect x="-50.5" y="598.4" width="102" height="8.8" rx="4.5" fill="#a65f33"/><rect x="-66.6" y="0" width="20.1" height="646.7" rx="4.4" fill="#5a3a26"/><rect x="-53.7" y="6" width="6" height="636.6" rx="2.8" fill="#a65f33"/><rect x="46.5" y="0" width="20.1" height="646.7" rx="4.4" fill="#5a3a26"/><rect x="59.3" y="6" width="6" height="636.6" rx="2.8" fill="#a65f33"/></g>
<!-- snake s9 --><path d="M2652 2371 Q2640 2364 2622 2362 M2640 2365 L2626 2372" stroke="#d98ac6" stroke-width="7" fill="none" stroke-linecap="round"/><polygon points="2643.9,2376.3 2646,2382.7 2646.1,2391.2 2647.1,2398.7 2650.7,2403.6 2653.4,2409.5 2655.7,2415.7 2658.5,2421.5 2662.6,2426 2667.4,2430 2672.3,2433.8 2677.1,2437.6 2681.5,2441.3 2686.6,2444.1 2692,2446.5 2697.4,2449.5 2702,2453.3 2705.9,2457.7 2709.8,2461.8 2713.5,2465.9 2716.9,2469.9 2720.1,2473.9 2722.9,2478 2725.6,2482.4 2728.2,2487.1 2730.5,2491.7 2732.4,2496.4 2733.9,2501.1 2734.9,2505.6 2735.5,2510.1 2735.5,2514.6 2735.1,2519.2 2734.3,2524 2733.2,2528.9 2731.8,2533.8 2730.2,2538.4 2728.4,2542.5 2726.2,2546.5 2723.5,2550.7 2720.4,2555.5 2716.9,2561 2713.5,2567 2710.5,2573.2 2707.8,2579.1 2705,2585.2 2702.2,2591.6 2699.7,2598.1 2697.4,2604.7 2695.3,2611.2 2693.4,2617.9 2691.7,2625.1 2690.5,2632.5 2689.9,2640.1 2689.7,2647.5 2690,2654.9 2691,2662.6 2692.9,2671.1 2696.2,2680.1 2701.3,2688.9 2708,2696.9 2716.5,2703.9 2727.2,2709.3 2739.2,2711.9 2750.4,2711.4 2759.2,2709.4 2766.5,2706.9 2772.9,2704.4 2779.4,2701.8 2785.8,2698.8 2792,2695.6 2797.6,2692.6 2802.8,2689.9 2808.2,2687.1 2813.6,2684.1 2819,2681 2824,2677.9 2828.6,2675.1 2832.9,2672.6 2837.3,2670.5 2842,2668.6 2846.9,2666.9 2851.4,2665.5 2855.1,2664.8 2858.3,2664.6 2861,2665.2 2864,2666.3 2867.3,2668.1 2870.6,2670.1 2873.4,2672.4 2875.8,2674.8 2877.6,2677.7 2879.2,2681.2 2880.4,2685.3 2881.1,2689.7 2881.2,2694 2880.8,2698.3 2879.8,2703 2878.4,2707.9 2876.6,2713 2874.8,2718.2 2872.7,2723.3 2870.5,2728.2 2868,2733.2 2865.3,2738.3 2862.4,2743.5 2859.6,2748.8 2856.8,2754 2853.9,2759.1 2850.9,2764.3 2847.8,2769.7 2844.7,2775.3 2841.8,2781.2 2839.1,2787.2 2836.7,2793 2834.4,2798.4 2832.2,2803.4 2829.8,2808.2 2827.2,2812.9 2824.2,2817.7 2821.1,2822.7 2817.8,2827.9 2814.5,2833.4 2811.4,2838.9 2808.6,2844.4 2805.6,2849.8 2802.6,2855.6 2799.7,2862 2797.1,2869.2 2795.4,2876.9 2794.8,2884.8 2795,2892.4 2796,2899.9 2797.8,2907.3 2800.5,2914.7 2804.2,2921.7 2808.6,2928 2813.7,2933.8 2819.4,2939 2825.8,2943.7 2832.9,2947.3 2840.5,2949.9 2848.1,2951.3 2855.7,2951.8 2863.4,2951.3 2871.1,2949.8 2878.3,2947.3 2884.9,2944.1 2890.9,2940.4 2896.5,2936.4 2901.7,2932.1 2906.7,2927.5 2911.4,2922.6 2915.7,2917.3 2919.6,2912 2923.3,2906.6 2926.7,2901.1 2929.6,2895.5 2932.2,2889.6 2934.4,2883.6 2936.3,2877.4 2937.8,2870.9 2938.8,2864.2 2939.2,2857.1 2937.9,2850 2935.4,2843.3 2931.1,2837.5 2925.2,2832.9 2918.1,2832.8 2911.7,2833.7 2912.1,2837.7 2917.6,2837.6 2922.2,2838.9 2924.4,2843.2 2926.4,2847.6 2927.9,2852.3 2928.2,2857.1 2926.9,2861.9 2924.8,2866.8 2922.1,2871.7 2919.1,2876.5 2916,2881.2 2912.8,2886 2909.6,2890.8 2906.6,2895.5 2903.3,2900 2899.9,2904.2 2896.2,2908 2892.3,2911.4 2888,2914.5 2883.5,2917.4 2878.9,2919.8 2874.3,2921.9 2869.8,2923.3 2865.5,2924.2 2861.2,2924.5 2856.8,2924.2 2852.5,2923.5 2848.3,2922.4 2844.5,2920.9 2841,2919 2837.7,2916.5 2834.5,2913.6 2831.6,2910.2 2829.2,2906.7 2827.4,2903 2826,2899 2825.1,2894.7 2824.6,2890.2 2824.5,2885.8 2825,2881.7 2826,2877.7 2827.6,2873.6 2829.8,2869.1 2832.5,2864.3 2835.4,2859.1 2838.3,2854 2841.1,2849 2844.1,2844.1 2847.3,2839.2 2850.6,2834 2853.9,2828.5 2857.2,2822.7 2860.2,2816.7 2862.9,2810.7 2865.3,2805 2867.5,2799.6 2869.8,2794.6 2872.2,2789.7 2874.9,2784.8 2877.8,2779.7 2880.9,2774.4 2883.9,2769 2886.8,2763.6 2889.7,2758.2 2892.6,2752.9 2895.5,2747.3 2898.5,2741.6 2901.2,2735.5 2903.7,2729.3 2905.9,2723.2 2908,2716.9 2909.9,2710.2 2911.4,2703.1 2912.2,2695.4 2912.2,2687.7 2911.5,2680.1 2910.1,2672.4 2907.7,2664.6 2904,2656.7 2899,2649.7 2893.2,2643.5 2886.8,2638.4 2879.7,2634.1 2871.5,2630.7 2862.5,2628.7 2853.6,2628.4 2845.4,2629 2838.1,2630.2 2831.3,2631.6 2824.5,2633.3 2817.6,2635.4 2811,2637.9 2804.8,2640.6 2799.1,2643.1 2793.8,2645.6 2788.5,2648 2783,2650.6 2777.6,2653.4 2772.4,2655.9 2767.7,2657.9 2763,2659.6 2758.1,2661 2753.1,2662.2 2748.7,2663 2745.8,2663.3 2744.9,2663 2745.3,2662.8 2745.5,2662.3 2744.9,2661.4 2744.1,2660 2743.3,2658.3 2742.6,2656 2741.7,2652.7 2740.8,2648.5 2740,2643.9 2739.3,2639.3 2738.8,2634.8 2738.5,2630.2 2738.6,2625.4 2738.9,2620.3 2739.5,2615.1 2740.3,2610 2741.4,2605 2742.8,2600 2744.7,2595 2746.9,2589.9 2749,2585.2 2751.4,2580.6 2754.1,2575.8 2757.2,2570.3 2760.5,2564 2763.5,2557 2765.7,2549.8 2767.4,2542.8 2768.6,2536 2769.6,2529 2770.1,2521.8 2770.2,2514.3 2769.6,2506.8 2768.4,2499.3 2766.7,2492.2 2764.6,2485.3 2762.2,2478.7 2759.6,2472.4 2756.8,2466.2 2753.7,2460 2750.3,2453.9 2746.5,2448 2742.5,2442.5 2738.4,2437.3 2734.3,2432.5 2730.2,2427.9 2726.7,2422.8 2723.9,2416.8 2721,2410.5 2717.6,2404.8 2713.3,2400.1 2709.4,2395.5 2705.7,2390.9 2701.9,2386.4 2697.5,2382.4 2691.8,2379.6 2685.5,2377.4 2679.7,2374.6 2674.7,2371.1 2667.2,2370 2658.7,2370 2652.4,2367.8" fill="#f9a23a"/><clipPath id="c9"><polygon points="2643.9,2376.3 2646,2382.7 2646.1,2391.2 2647.1,2398.7 2650.7,2403.6 2653.4,2409.5 2655.7,2415.7 2658.5,2421.5 2662.6,2426 2667.4,2430 2672.3,2433.8 2677.1,2437.6 2681.5,2441.3 2686.6,2444.1 2692,2446.5 2697.4,2449.5 2702,2453.3 2705.9,2457.7 2709.8,2461.8 2713.5,2465.9 2716.9,2469.9 2720.1,2473.9 2722.9,2478 2725.6,2482.4 2728.2,2487.1 2730.5,2491.7 2732.4,2496.4 2733.9,2501.1 2734.9,2505.6 2735.5,2510.1 2735.5,2514.6 2735.1,2519.2 2734.3,2524 2733.2,2528.9 2731.8,2533.8 2730.2,2538.4 2728.4,2542.5 2726.2,2546.5 2723.5,2550.7 2720.4,2555.5 2716.9,2561 2713.5,2567 2710.5,2573.2 2707.8,2579.1 2705,2585.2 2702.2,2591.6 2699.7,2598.1 2697.4,2604.7 2695.3,2611.2 2693.4,2617.9 2691.7,2625.1 2690.5,2632.5 2689.9,2640.1 2689.7,2647.5 2690,2654.9 2691,2662.6 2692.9,2671.1 2696.2,2680.1 2701.3,2688.9 2708,2696.9 2716.5,2703.9 2727.2,2709.3 2739.2,2711.9 2750.4,2711.4 2759.2,2709.4 2766.5,2706.9 2772.9,2704.4 2779.4,2701.8 2785.8,2698.8 2792,2695.6 2797.6,2692.6 2802.8,2689.9 2808.2,2687.1 2813.6,2684.1 2819,2681 2824,2677.9 2828.6,2675.1 2832.9,2672.6 2837.3,2670.5 2842,2668.6 2846.9,2666.9 2851.4,2665.5 2855.1,2664.8 2858.3,2664.6 2861,2665.2 2864,2666.3 2867.3,2668.1 2870.6,2670.1 2873.4,2672.4 2875.8,2674.8 2877.6,2677.7 2879.2,2681.2 2880.4,2685.3 2881.1,2689.7 2881.2,2694 2880.8,2698.3 2879.8,2703 2878.4,2707.9 2876.6,2713 2874.8,2718.2 2872.7,2723.3 2870.5,2728.2 2868,2733.2 2865.3,2738.3 2862.4,2743.5 2859.6,2748.8 2856.8,2754 2853.9,2759.1 2850.9,2764.3 2847.8,2769.7 2844.7,2775.3 2841.8,2781.2 2839.1,2787.2 2836.7,2793 2834.4,2798.4 2832.2,2803.4 2829.8,2808.2 2827.2,2812.9 2824.2,2817.7 2821.1,2822.7 2817.8,2827.9 2814.5,2833.4 2811.4,2838.9 2808.6,2844.4 2805.6,2849.8 2802.6,2855.6 2799.7,2862 2797.1,2869.2 2795.4,2876.9 2794.8,2884.8 2795,2892.4 2796,2899.9 2797.8,2907.3 2800.5,2914.7 2804.2,2921.7 2808.6,2928 2813.7,2933.8 2819.4,2939 2825.8,2943.7 2832.9,2947.3 2840.5,2949.9 2848.1,2951.3 2855.7,2951.8 2863.4,2951.3 2871.1,2949.8 2878.3,2947.3 2884.9,2944.1 2890.9,2940.4 2896.5,2936.4 2901.7,2932.1 2906.7,2927.5 2911.4,2922.6 2915.7,2917.3 2919.6,2912 2923.3,2906.6 2926.7,2901.1 2929.6,2895.5 2932.2,2889.6 2934.4,2883.6 2936.3,2877.4 2937.8,2870.9 2938.8,2864.2 2939.2,2857.1 2937.9,2850 2935.4,2843.3 2931.1,2837.5 2925.2,2832.9 2918.1,2832.8 2911.7,2833.7 2912.1,2837.7 2917.6,2837.6 2922.2,2838.9 2924.4,2843.2 2926.4,2847.6 2927.9,2852.3 2928.2,2857.1 2926.9,2861.9 2924.8,2866.8 2922.1,2871.7 2919.1,2876.5 2916,2881.2 2912.8,2886 2909.6,2890.8 2906.6,2895.5 2903.3,2900 2899.9,2904.2 2896.2,2908 2892.3,2911.4 2888,2914.5 2883.5,2917.4 2878.9,2919.8 2874.3,2921.9 2869.8,2923.3 2865.5,2924.2 2861.2,2924.5 2856.8,2924.2 2852.5,2923.5 2848.3,2922.4 2844.5,2920.9 2841,2919 2837.7,2916.5 2834.5,2913.6 2831.6,2910.2 2829.2,2906.7 2827.4,2903 2826,2899 2825.1,2894.7 2824.6,2890.2 2824.5,2885.8 2825,2881.7 2826,2877.7 2827.6,2873.6 2829.8,2869.1 2832.5,2864.3 2835.4,2859.1 2838.3,2854 2841.1,2849 2844.1,2844.1 2847.3,2839.2 2850.6,2834 2853.9,2828.5 2857.2,2822.7 2860.2,2816.7 2862.9,2810.7 2865.3,2805 2867.5,2799.6 2869.8,2794.6 2872.2,2789.7 2874.9,2784.8 2877.8,2779.7 2880.9,2774.4 2883.9,2769 2886.8,2763.6 2889.7,2758.2 2892.6,2752.9 2895.5,2747.3 2898.5,2741.6 2901.2,2735.5 2903.7,2729.3 2905.9,2723.2 2908,2716.9 2909.9,2710.2 2911.4,2703.1 2912.2,2695.4 2912.2,2687.7 2911.5,2680.1 2910.1,2672.4 2907.7,2664.6 2904,2656.7 2899,2649.7 2893.2,2643.5 2886.8,2638.4 2879.7,2634.1 2871.5,2630.7 2862.5,2628.7 2853.6,2628.4 2845.4,2629 2838.1,2630.2 2831.3,2631.6 2824.5,2633.3 2817.6,2635.4 2811,2637.9 2804.8,2640.6 2799.1,2643.1 2793.8,2645.6 2788.5,2648 2783,2650.6 2777.6,2653.4 2772.4,2655.9 2767.7,2657.9 2763,2659.6 2758.1,2661 2753.1,2662.2 2748.7,2663 2745.8,2663.3 2744.9,2663 2745.3,2662.8 2745.5,2662.3 2744.9,2661.4 2744.1,2660 2743.3,2658.3 2742.6,2656 2741.7,2652.7 2740.8,2648.5 2740,2643.9 2739.3,2639.3 2738.8,2634.8 2738.5,2630.2 2738.6,2625.4 2738.9,2620.3 2739.5,2615.1 2740.3,2610 2741.4,2605 2742.8,2600 2744.7,2595 2746.9,2589.9 2749,2585.2 2751.4,2580.6 2754.1,2575.8 2757.2,2570.3 2760.5,2564 2763.5,2557 2765.7,2549.8 2767.4,2542.8 2768.6,2536 2769.6,2529 2770.1,2521.8 2770.2,2514.3 2769.6,2506.8 2768.4,2499.3 2766.7,2492.2 2764.6,2485.3 2762.2,2478.7 2759.6,2472.4 2756.8,2466.2 2753.7,2460 2750.3,2453.9 2746.5,2448 2742.5,2442.5 2738.4,2437.3 2734.3,2432.5 2730.2,2427.9 2726.7,2422.8 2723.9,2416.8 2721,2410.5 2717.6,2404.8 2713.3,2400.1 2709.4,2395.5 2705.7,2390.9 2701.9,2386.4 2697.5,2382.4 2691.8,2379.6 2685.5,2377.4 2679.7,2374.6 2674.7,2371.1 2667.2,2370 2658.7,2370 2652.4,2367.8"/></clipPath><g clip-path="url(#c9)"><path d="M2730.4 2475.1Q2729.3 2481.7 2722.9 2479.8Q2716.5 2478 2711.2 2471.4Q2705.9 2464.8 2706.2 2458.8Q2706.6 2452.7 2712.8 2453.1Q2719 2453.5 2725.3 2461Q2731.6 2468.4 2730.4 2475.1Z" fill="#e25b3c"/><polyline points="2694.9,2449.1 2704.3,2450.3 2712.8,2452.5 2721.1,2454.8 2729.4,2457.4 2729.4,2457.4 2729.9,2465.9 2729.9,2474 2729.4,2482 2728.5,2489.6" fill="none" stroke="#fbe388" stroke-width="4.5"/><polyline points="2704.5,2457.5 2710.9,2458.8 2717.2,2460.3 2723.5,2462 2723.5,2462 2723.7,2468.1 2723.5,2474.1 2723.1,2479.9" fill="none" stroke="#fbe388" stroke-width="3.5"/><path d="M2758.1 2485.8Q2757.3 2493.1 2752.1 2488.3Q2746.9 2483.5 2747.3 2476.5Q2747.6 2469.4 2753.3 2473.9Q2759 2478.4 2758.1 2485.8Z" fill="none" stroke="#fbe388" stroke-width="4"/><path d="M2755 2482.8Q2754.7 2485.6 2752.7 2483.8Q2750.6 2482 2750.8 2479.2Q2751 2476.5 2753.2 2478.2Q2755.3 2480 2755 2482.8Z" fill="#fbe388"/><path d="M2768.6 2535.5Q2763.9 2541.6 2760.7 2535Q2757.5 2528.5 2757.2 2517.6Q2756.8 2506.7 2760.6 2501.9Q2764.4 2497.1 2769.4 2501.7Q2774.4 2506.4 2773.9 2517.9Q2773.3 2529.4 2768.6 2535.5Z" fill="#e25b3c"/><polyline points="2765.3,2484.8 2763.7,2493.9 2761.2,2502.7 2757.9,2510.8 2753.6,2518.1 2753.6,2518.1 2757.4,2525.7 2760.8,2533.8 2763.7,2542.4 2766.2,2551.8" fill="none" stroke="#fbe388" stroke-width="4.5"/><polyline points="2769.3,2499.1 2766.9,2506 2764,2512.5 2760.6,2518.4 2760.6,2518.4 2763.8,2524.5 2766.6,2530.9 2769.3,2537.6" fill="none" stroke="#fbe388" stroke-width="3.5"/><path d="M2740.1 2549.9Q2734.5 2553.2 2733.4 2547.5Q2732.3 2541.7 2737.2 2538Q2742.1 2534.3 2743.9 2540.5Q2745.7 2546.6 2740.1 2549.9Z" fill="none" stroke="#fbe388" stroke-width="4"/><path d="M2739.6 2546.4Q2737.5 2547.7 2736.9 2545.4Q2736.4 2543.2 2738.3 2541.8Q2740.3 2540.5 2741 2542.8Q2741.7 2545.1 2739.6 2546.4Z" fill="#fbe388"/><path d="M2713.7 2586.5Q2707.1 2590.7 2705.9 2582.9Q2704.8 2575.1 2709.8 2563.8Q2714.9 2552.5 2721.8 2551.1Q2728.7 2549.8 2730.8 2556.3Q2732.8 2562.8 2726.6 2572.6Q2720.3 2582.4 2713.7 2586.5Z" fill="#e25b3c"/><polyline points="2728.1,2541.1 2729.5,2548.4 2730,2556.9 2729.9,2566.2 2730.3,2575.8 2730.3,2575.8 2722.4,2581 2714.4,2586.6 2706.2,2592.9 2697.9,2599.9" fill="none" stroke="#fbe388" stroke-width="4.5"/><polyline points="2722.6,2550.4 2722.8,2557.2 2722.8,2564.6 2723.2,2572.1 2723.2,2572.1 2716.9,2576.2 2710.5,2580.4 2704.1,2584.8" fill="none" stroke="#fbe388" stroke-width="3.5"/><path d="M2731.3 2617.3Q2726.3 2622.2 2723.4 2615.2Q2720.4 2608.2 2726 2603.4Q2731.5 2598.6 2733.9 2605.5Q2736.2 2612.3 2731.3 2617.3Z" fill="none" stroke="#fbe388" stroke-width="4"/><path d="M2729.4 2613Q2727.4 2614.9 2726.3 2612.1Q2725.2 2609.4 2727.3 2607.6Q2729.4 2605.7 2730.4 2608.4Q2731.5 2611.1 2729.4 2613Z" fill="#fbe388"/><path d="M2744.6 2657.2Q2739.4 2662.2 2732.4 2659.3Q2725.3 2656.4 2724.3 2644.7Q2723.2 2632.9 2728.7 2627.5Q2734.3 2622.2 2740 2627.6Q2745.8 2633.1 2747.8 2642.7Q2749.8 2652.2 2744.6 2657.2Z" fill="#e25b3c"/><polyline points="2741.1,2611.6 2734.6,2619 2728.1,2626.9 2721.9,2635.5 2716.1,2645.2 2716.1,2645.2 2723.6,2654 2731.7,2660.5 2739.8,2662.7 2746.1,2661" fill="none" stroke="#fbe388" stroke-width="4.5"/><polyline points="2739.7,2626.5 2735,2631.9 2730.5,2637.8 2726.1,2644.5 2726.1,2644.5 2732.1,2650.6 2738.3,2655.1 2744.3,2657.2" fill="none" stroke="#fbe388" stroke-width="3.5"/><path d="M2738.6 2691.5Q2747 2698.4 2733.1 2699.4Q2719.3 2700.5 2714.8 2688.4Q2710.3 2676.3 2720.2 2680.5Q2730.1 2684.6 2738.6 2691.5Z" fill="none" stroke="#fbe388" stroke-width="4"/><path d="M2729.8 2693.1Q2732.7 2696.8 2727.6 2696.2Q2722.6 2695.7 2720.3 2691.4Q2718.1 2687.1 2722.5 2688.2Q2726.9 2689.4 2729.8 2693.1Z" fill="#fbe388"/><path d="M2798.8 2680.8Q2806.6 2683 2804.4 2690.7Q2802.2 2698.5 2788.6 2704.1Q2775 2709.7 2766.3 2707.3Q2757.6 2704.9 2763.4 2697.8Q2769.3 2690.6 2780.2 2684.6Q2791.1 2678.5 2798.8 2680.8Z" fill="#e25b3c"/><polyline points="2739.4,2713.1 2754.3,2705.7 2763.4,2696.9 2770.6,2688.2 2777,2679.5 2777,2679.5 2787.5,2680.5 2798,2681.3 2808.4,2682.1 2818.9,2682.3" fill="none" stroke="#fbe388" stroke-width="4.5"/><polyline points="2764.2,2709 2770.1,2701.8 2775.6,2694.8 2780.6,2687.7 2780.6,2687.7 2788.9,2688.5 2797,2689.2 2804.9,2690" fill="none" stroke="#fbe388" stroke-width="3.5"/><path d="M2811 2646.1Q2819.8 2646.4 2814.8 2653.2Q2809.7 2660 2801.4 2659.6Q2793.1 2659.2 2797.7 2652.4Q2802.2 2645.7 2811 2646.1Z" fill="none" stroke="#fbe388" stroke-width="4"/><path d="M2807.8 2650.2Q2811.1 2650.3 2809.3 2653Q2807.5 2655.7 2804.2 2655.5Q2801 2655.3 2802.8 2652.7Q2804.5 2650 2807.8 2650.2Z" fill="#fbe388"/><path d="M2867.7 2629.3Q2872.6 2634.9 2867.3 2638.4Q2862 2641.9 2850.3 2642.5Q2838.7 2643.2 2830.7 2640.6Q2822.8 2637.9 2829.2 2632.1Q2835.6 2626.3 2849.2 2625Q2862.8 2623.8 2867.7 2629.3Z" fill="#e25b3c"/><polyline points="2813.2,2635.9 2823.3,2637.7 2832.8,2640.2 2841.7,2642.9 2850,2646.1 2850,2646.1 2857.7,2641.1 2867.2,2637.9 2877.9,2637.2 2888.5,2638.6" fill="none" stroke="#fbe388" stroke-width="4.5"/><polyline points="2828,2631.4 2835.2,2633.7 2842.2,2636.1 2849.1,2638.8 2849.1,2638.8 2855.5,2634.7 2863.3,2631.6 2872.1,2630" fill="none" stroke="#fbe388" stroke-width="3.5"/><path d="M2880.4 2661.9Q2882 2667.8 2876.3 2667.2Q2870.7 2666.6 2868.4 2661.6Q2866.1 2656.5 2872.4 2656.2Q2878.7 2655.9 2880.4 2661.9Z" fill="none" stroke="#fbe388" stroke-width="4"/><path d="M2877 2661.4Q2877.7 2663.6 2875.4 2663.5Q2873.1 2663.4 2872.3 2661.3Q2871.5 2659.2 2873.9 2659.2Q2876.3 2659.2 2877 2661.4Z" fill="#fbe388"/><path d="M2888 2695.9Q2883.9 2698.6 2880.6 2695.5Q2877.4 2692.5 2876.2 2687.3Q2875.1 2682.1 2877.1 2677.9Q2879.1 2673.7 2884.4 2675.4Q2889.7 2677 2890.8 2685.2Q2892 2693.3 2888 2695.9Z" fill="#e25b3c"/><polyline points="2873.1,2673.2 2879,2673.5 2884.8,2675.6 2890.4,2679.5 2895.4,2684.5 2895.4,2684.5 2892.1,2690.8 2888.1,2696.2 2883.4,2700.8 2878.4,2705" fill="none" stroke="#fbe388" stroke-width="4.5"/><polyline points="2876.8,2677.9 2881.1,2679.5 2885.3,2682 2889.2,2685.4 2889.2,2685.4 2886.5,2689.7 2883.6,2693.4 2880.2,2696.7" fill="none" stroke="#fbe388" stroke-width="3.5"/><path d="M2901.5 2718.6Q2897 2722.8 2895.9 2717Q2894.7 2711.1 2898.8 2706.5Q2903 2701.9 2904.5 2708.2Q2906 2714.4 2901.5 2718.6Z" fill="none" stroke="#fbe388" stroke-width="4"/><path d="M2900.9 2715Q2899.1 2716.7 2898.6 2714.4Q2898.1 2712.1 2899.8 2710.4Q2901.5 2708.7 2902.1 2711Q2902.6 2713.4 2900.9 2715Z" fill="#fbe388"/><path d="M2890.4 2758.3Q2884.7 2761 2884.2 2754.6Q2883.8 2748.1 2887.4 2740.6Q2891 2733.1 2895.7 2731.1Q2900.5 2729.1 2902.8 2733.8Q2905.1 2738.4 2900.7 2747Q2896.2 2755.6 2890.4 2758.3Z" fill="#e25b3c"/><polyline points="2907.6,2720.7 2901.7,2725.7 2895.8,2730.5 2889.6,2734.9 2883.4,2738.8 2883.4,2738.8 2883.9,2746.2 2884.4,2753.5 2884.8,2760.8 2885.2,2768.2" fill="none" stroke="#fbe388" stroke-width="4.5"/><polyline points="2903.6,2731.8 2898.8,2735.3 2893.9,2738.6 2888.9,2741.6 2888.9,2741.6 2889.5,2747.3 2889.9,2752.9 2890.4,2758.5" fill="none" stroke="#fbe388" stroke-width="3.5"/><path d="M2864.2 2764.1Q2859.2 2767 2859.1 2761.2Q2859 2755.5 2863.9 2752.5Q2868.9 2749.5 2869.1 2755.4Q2869.3 2761.2 2864.2 2764.1Z" fill="none" stroke="#fbe388" stroke-width="4"/><path d="M2864.2 2760.6Q2862.3 2761.7 2862.2 2759.4Q2862.1 2757.2 2864 2756.1Q2866 2755 2866.1 2757.2Q2866.2 2759.5 2864.2 2760.6Z" fill="#fbe388"/><path d="M2842.3 2796Q2837.1 2800 2835.7 2793.7Q2834.3 2787.5 2838.3 2778.3Q2842.3 2769.2 2847.3 2768.6Q2852.3 2768 2853.9 2772.8Q2855.5 2777.5 2851.5 2784.8Q2847.5 2792.1 2842.3 2796Z" fill="#e25b3c"/><polyline points="2853.8,2757.7 2854.1,2765 2854.3,2772.3 2854.7,2779.8 2855.3,2787.1 2855.3,2787.1 2849.2,2791.2 2843.2,2795.5 2837.3,2799.6 2831.4,2803.2" fill="none" stroke="#fbe388" stroke-width="4.5"/><polyline points="2848.4,2767.2 2848.7,2772.9 2849.1,2778.7 2849.7,2784.4 2849.7,2784.4 2844.8,2787.6 2840.1,2790.8 2835.4,2794" fill="none" stroke="#fbe388" stroke-width="3.5"/><path d="M2851.9 2820.6Q2846.7 2824 2846.6 2818Q2846.4 2812.1 2851.2 2808.6Q2856 2805.1 2856.5 2811.2Q2857 2817.3 2851.9 2820.6Z" fill="none" stroke="#fbe388" stroke-width="4"/><path d="M2851.8 2817Q2849.9 2818.3 2849.8 2816Q2849.6 2813.7 2851.5 2812.3Q2853.5 2811 2853.6 2813.4Q2853.8 2815.7 2851.8 2817Z" fill="#fbe388"/><path d="M2838 2855Q2833.1 2857 2832 2851.8Q2830.8 2846.5 2834.9 2839Q2839 2831.4 2844.7 2829.8Q2850.4 2828.3 2851.3 2834.2Q2852.1 2840.1 2847.5 2846.5Q2843 2853 2838 2855Z" fill="#e25b3c"/><polyline points="2857.7,2823.5 2850.9,2827.5 2844.2,2831 2837.6,2834.2 2831.1,2837.3 2831.1,2837.3 2831.2,2844.5 2831.6,2851.7 2832,2858.9 2832.4,2866" fill="none" stroke="#fbe388" stroke-width="4.5"/><polyline points="2851.7,2833.7 2846.5,2836.1 2841.4,2838.3 2836.3,2840.5 2836.3,2840.5 2836.7,2846 2837.1,2851.3 2837.6,2856.8" fill="none" stroke="#fbe388" stroke-width="3.5"/><path d="M2811.7 2862.8Q2806.8 2866.3 2806.6 2860.1Q2806.3 2854 2811.3 2850.8Q2816.3 2847.7 2816.5 2853.5Q2816.6 2859.3 2811.7 2862.8Z" fill="none" stroke="#fbe388" stroke-width="4"/><path d="M2811.6 2859Q2809.6 2860.3 2809.5 2857.9Q2809.4 2855.6 2811.4 2854.4Q2813.4 2853.2 2813.4 2855.4Q2813.5 2857.7 2811.6 2859Z" fill="#fbe388"/><path d="M2803.4 2901.7Q2800.5 2906.1 2796.2 2902.2Q2791.8 2898.3 2791.8 2888Q2791.7 2877.8 2796.4 2872.2Q2801.1 2866.6 2803.4 2872.6Q2805.6 2878.5 2806 2887.9Q2806.3 2897.3 2803.4 2901.7Z" fill="#e25b3c"/><polyline points="2800.6,2858 2801.3,2866.1 2802.8,2874 2805.4,2881.3 2808.9,2887.7 2808.9,2887.7 2805.6,2894.1 2803.1,2901.2 2801.5,2909 2801,2917.4" fill="none" stroke="#fbe388" stroke-width="4.5"/><polyline points="2796,2870.3 2797.7,2876.7 2800.1,2882.5 2802.9,2887.8 2802.9,2887.8 2800.2,2893 2798,2898.6 2796.3,2904.7" fill="none" stroke="#fbe388" stroke-width="3.5"/><path d="M2826.1 2911.2Q2825.9 2915.9 2821.2 2913.7Q2816.4 2911.6 2817.3 2906.4Q2818.2 2901.2 2822.2 2903.8Q2826.2 2906.4 2826.1 2911.2Z" fill="none" stroke="#fbe388" stroke-width="4"/><path d="M2823.1 2909.8Q2822.9 2911.7 2821.1 2910.9Q2819.4 2910 2819.6 2908Q2819.9 2906.1 2821.6 2907Q2823.2 2907.9 2823.1 2909.8Z" fill="#fbe388"/><path d="M2850.3 2921.9Q2851.7 2926.2 2847.9 2929.1Q2844.1 2931.9 2838.3 2927.9Q2832.5 2923.9 2831.9 2919.1Q2831.2 2914.3 2835.6 2914.2Q2840 2914.2 2844.4 2915.8Q2848.8 2917.5 2850.3 2921.9Z" fill="#e25b3c"/><polyline points="2830.8,2907.8 2830.5,2913.5 2831.1,2919.4 2832.6,2925.5 2835.2,2931.5 2835.2,2931.5 2841.6,2930.6 2847.5,2928.9 2852.8,2926.4 2857.4,2923.6" fill="none" stroke="#fbe388" stroke-width="4.5"/><polyline points="2835.3,2913.4 2835.7,2917.8 2836.6,2922.1 2838,2926.5 2838,2926.5 2842.5,2925.5 2846.6,2924 2850.3,2922.2" fill="none" stroke="#fbe388" stroke-width="3.5"/><path d="M2863.7 2941Q2869 2942.9 2863.7 2946.2Q2858.5 2949.4 2853.2 2946.4Q2847.9 2943.5 2853.2 2941.2Q2858.4 2939 2863.7 2941Z" fill="none" stroke="#fbe388" stroke-width="4"/><path d="M2860.5 2943.1Q2862.5 2944 2860.5 2945.1Q2858.5 2946.3 2856.4 2945.2Q2854.4 2944.1 2856.4 2943.1Q2858.4 2942.2 2860.5 2943.1Z" fill="#fbe388"/><path d="M2896.2 2930.2Q2900.4 2930.3 2899.8 2934.6Q2899.3 2938.9 2892.2 2943.5Q2885.1 2948 2880.1 2946.9Q2875.1 2945.8 2878.2 2941.6Q2881.3 2937.3 2886.7 2933.7Q2892.1 2930.1 2896.2 2930.2Z" fill="#e25b3c"/><polyline points="2869.3,2950.9 2874.3,2946.1 2878.5,2941 2881.9,2935.9 2884.8,2930.9 2884.8,2930.9 2890.4,2930.7 2896.1,2930.1 2901.8,2929 2907.5,2927.5" fill="none" stroke="#fbe388" stroke-width="4.5"/><polyline points="2879.5,2947.5 2882.4,2943.3 2885,2939.1 2887.2,2935 2887.2,2935 2891.6,2934.9 2896.1,2934.5 2900.5,2933.9" fill="none" stroke="#fbe388" stroke-width="3.5"/><path d="M2898.7 2910.7Q2902.7 2909.6 2901.5 2913.7Q2900.2 2917.7 2896 2918.5Q2891.7 2919.3 2893.2 2915.6Q2894.7 2911.8 2898.7 2910.7Z" fill="none" stroke="#fbe388" stroke-width="4"/><path d="M2898 2913.2Q2899.5 2912.9 2899.1 2914.4Q2898.6 2915.9 2896.9 2916.3Q2895.3 2916.6 2895.8 2915.1Q2896.4 2913.6 2898 2913.2Z" fill="#fbe388"/><path d="M2910.5 2888.9Q2913.8 2887.9 2914.3 2891.2Q2914.8 2894.6 2912.1 2899.2Q2909.4 2903.8 2905.7 2904.4Q2902 2904.9 2901.5 2901.4Q2901 2897.9 2904.1 2893.9Q2907.2 2889.9 2910.5 2888.9Z" fill="#e25b3c"/><polyline points="2897.3,2906.2 2901.7,2905.3 2906.1,2904 2910.4,2902.4 2914.7,2900.5 2914.7,2900.5 2914.7,2895.8 2914.6,2891.2 2914.6,2886.7 2914.6,2882.4" fill="none" stroke="#fbe388" stroke-width="4.5"/><polyline points="2901.4,2901.6 2904.7,2900.7 2908,2899.6 2911.3,2898.3 2911.3,2898.3 2911.2,2894.8 2911,2891.3 2910.9,2887.9" fill="none" stroke="#fbe388" stroke-width="3.5"/><path d="M2927.2 2884.2Q2930.1 2881.9 2930.3 2885.8Q2930.5 2889.7 2927.4 2891.8Q2924.4 2894 2924.3 2890.2Q2924.3 2886.4 2927.2 2884.2Z" fill="none" stroke="#fbe388" stroke-width="4"/><path d="M2927.3 2886.5Q2928.5 2885.7 2928.5 2887.2Q2928.6 2888.7 2927.4 2889.5Q2926.3 2890.3 2926.2 2888.9Q2926.2 2887.4 2927.3 2886.5Z" fill="#fbe388"/><path d="M2936.3 2862.3Q2938 2859.7 2939 2863.3Q2939.9 2866.8 2939.3 2871.5Q2938.7 2876.2 2936.5 2877.4Q2934.3 2878.6 2932.9 2876.4Q2931.5 2874.1 2933 2869.5Q2934.5 2864.9 2936.3 2862.3Z" fill="#e25b3c"/><polyline points="2934.6,2884.4 2933.8,2880.3 2933,2876.3 2932.3,2872.5 2931.7,2868.8 2931.7,2868.8 2934.1,2866.1 2936.2,2863.1 2938,2859.7 2939.3,2856" fill="none" stroke="#fbe388" stroke-width="4.5"/><polyline points="2936.4,2878.6 2935.6,2875.5 2934.9,2872.5 2934.3,2869.6 2934.3,2869.6 2936.1,2867.5 2937.8,2865.2 2939.3,2862.7" fill="none" stroke="#fbe388" stroke-width="3.5"/><path d="M2929.8 2853.3Q2930.5 2850.9 2931.8 2853.1Q2933.2 2855.4 2931.9 2857.8Q2930.7 2860.3 2929.9 2858Q2929.1 2855.7 2929.8 2853.3Z" fill="none" stroke="#fbe388" stroke-width="4"/><path d="M2930.7 2854.7Q2931.1 2853.7 2931.5 2854.6Q2932 2855.5 2931.5 2856.4Q2931.1 2857.4 2930.7 2856.5Q2930.3 2855.6 2930.7 2854.7Z" fill="#fbe388"/><polygon points="2678.1,2384.5 2683.7,2387.8 2688.9,2391.4 2693.4,2395.7 2697.5,2400.2 2701.7,2404.8 2706,2409.4 2710.4,2414.1 2714.2,2419.5 2721.8,2412.1 2718.4,2406 2714.2,2401 2710,2396.3 2706.1,2391.5 2702.3,2386.8 2697.7,2382.6 2691.8,2379.7 2685.3,2377.3" fill="#fbe388"/><polygon points="2653.3,2409.3 2655.7,2415.8 2658.6,2421.7 2662.9,2426.3 2667.9,2430.4 2673.1,2434.3 2677.9,2438.3 2682.6,2442 2688,2444.7 2695.6,2437.4 2690.6,2433.9 2686.1,2429.9 2681.4,2425.8 2676.5,2421.7 2671.8,2417.4 2667.4,2412.9 2663.8,2407.6 2660.5,2402.1" fill="#fbe388"/><polyline points="2723.7,2416.3 2721.2,2426.2 2719.5,2435 2718.4,2443.2 2718.4,2443.2 2710.1,2443.5 2701.4,2444.3 2691.6,2446.4" fill="none" stroke="#fbe388" stroke-width="5"/></g><path d="M2701.2 2403.3Q2700.2 2405 2697.8 2404.7Q2695.4 2404.4 2693 2402.3Q2690.6 2400.1 2689.6 2397.4Q2688.6 2394.7 2689.7 2393Q2690.8 2391.2 2693.3 2391.4Q2695.9 2391.6 2698.2 2393.8Q2700.5 2396 2701.4 2398.8Q2702.2 2401.6 2701.2 2403.3Z" fill="#5b2416"/><path d="M2681.1 2421.8Q2681.5 2424.3 2679.8 2425.3Q2678.1 2426.4 2675.2 2425.5Q2672.3 2424.7 2670 2422.3Q2667.7 2419.9 2667.5 2417.3Q2667.3 2414.8 2669 2413.7Q2670.8 2412.6 2673.5 2413.6Q2676.2 2414.6 2678.5 2417Q2680.7 2419.4 2681.1 2421.8Z" fill="#5b2416"/><path d="M2700.9 2400.5Q2700.8 2401.8 2699.6 2401.9Q2698.3 2401.9 2697.2 2400.6Q2696 2399.3 2696.1 2398Q2696.2 2396.7 2697.5 2396.6Q2698.7 2396.6 2699.8 2397.9Q2700.9 2399.2 2700.9 2400.5Z" fill="#fbe388"/><path d="M2678.3 2423.7Q2678.3 2424.9 2677 2425Q2675.6 2425.1 2674.3 2424Q2672.9 2422.8 2672.9 2421.6Q2672.9 2420.3 2674.2 2420.2Q2675.6 2420.1 2676.9 2421.3Q2678.3 2422.5 2678.3 2423.7Z" fill="#fbe388"/><path d="M2670 2384Q2669.8 2385 2668.7 2385.3Q2667.6 2385.5 2666.7 2384.6Q2665.8 2383.7 2666 2382.7Q2666.1 2381.6 2667.2 2381.5Q2668.3 2381.3 2669.2 2382.1Q2670.1 2383 2670 2384Z" fill="#5b2416"/><path d="M2661.3 2392.7Q2661.1 2393.8 2660 2393.9Q2659 2394.1 2658.2 2393.2Q2657.3 2392.2 2657.5 2391.2Q2657.7 2390.1 2658.7 2389.9Q2659.8 2389.8 2660.6 2390.7Q2661.5 2391.6 2661.3 2392.7Z" fill="#5b2416"/>
<!-- ladder I --><g transform="translate(762.5 2701.3) rotate(-19.8)"><rect x="-42.5" y="31.1" width="85.8" height="9.5" rx="4.3" fill="#e8965c"/><rect x="-42.5" y="31.1" width="85.8" height="7.4" rx="3.8" fill="#a65f33"/><rect x="-42.5" y="83.6" width="85.8" height="9.5" rx="4.3" fill="#e8965c"/><rect x="-42.5" y="83.6" width="85.8" height="7.4" rx="3.8" fill="#a65f33"/><rect x="-42.5" y="136" width="85.8" height="9.5" rx="4.3" fill="#e8965c"/><rect x="-42.5" y="136" width="85.8" height="7.4" rx="3.8" fill="#a65f33"/><rect x="-42.5" y="188.5" width="85.8" height="9.5" rx="4.3" fill="#e8965c"/><rect x="-42.5" y="188.5" width="85.8" height="7.4" rx="3.8" fill="#a65f33"/><rect x="-42.5" y="240.9" width="85.8" height="9.5" rx="4.3" fill="#e8965c"/><rect x="-42.5" y="240.9" width="85.8" height="7.4" rx="3.8" fill="#a65f33"/><rect x="-42.5" y="293.4" width="85.8" height="9.5" rx="4.3" fill="#e8965c"/><rect x="-42.5" y="293.4" width="85.8" height="7.4" rx="3.8" fill="#a65f33"/><rect x="-42.5" y="345.8" width="85.8" height="9.5" rx="4.3" fill="#e8965c"/><rect x="-42.5" y="345.8" width="85.8" height="7.4" rx="3.8" fill="#a65f33"/><rect x="-42.5" y="398.3" width="85.8" height="9.5" rx="4.3" fill="#e8965c"/><rect x="-42.5" y="398.3" width="85.8" height="7.4" rx="3.8" fill="#a65f33"/><rect x="-42.5" y="450.8" width="85.8" height="9.5" rx="4.3" fill="#e8965c"/><rect x="-42.5" y="450.8" width="85.8" height="7.4" rx="3.8" fill="#a65f33"/><rect x="-42.5" y="503.2" width="85.8" height="9.5" rx="4.3" fill="#e8965c"/><rect x="-42.5" y="503.2" width="85.8" height="7.4" rx="3.8" fill="#a65f33"/><rect x="-56" y="0" width="16.9" height="543.9" rx="3.7" fill="#5a3a26"/><rect x="-45.2" y="5.1" width="5.1" height="535.4" rx="2.4" fill="#a65f33"/><rect x="39.1" y="0" width="16.9" height="543.9" rx="3.7" fill="#5a3a26"/><rect x="49.9" y="5.1" width="5.1" height="535.4" rx="2.4" fill="#a65f33"/></g>
<!-- snake s10 --><polygon points="1180.2,2668.5 1178.7,2677.2 1179.3,2684.4 1181,2690.5 1182.4,2696.6 1185.2,2701 1189,2704.6 1192.3,2708.5 1195.6,2712.6 1200.3,2716.2 1203.9,2720.2 1205.1,2724.5 1205.5,2727.8 1204.6,2730.2 1202.8,2733.4 1199.9,2740 1198.2,2748.5 1198.1,2757.5 1198.9,2766.7 1202.1,2776.7 1207.9,2785.9 1216.2,2793.5 1227.1,2799.1 1239.9,2800.4 1250.7,2798.1 1258,2795.1 1264.4,2792.3 1270.4,2789.2 1275.7,2786.2 1279.9,2784 1284.1,2782.3 1288.6,2780.8 1293.1,2779.5 1296.8,2778.7 1299.9,2778.4 1303,2778.7 1306.5,2779.3 1309.8,2780.4 1312.7,2781.5 1314.9,2782.9 1317,2784.7 1319.1,2787.2 1321,2789.9 1322.3,2792.3 1323,2794 1323,2795.5 1322.9,2797.3 1322.3,2799.2 1321.7,2800.8 1320.3,2802.3 1318.3,2804.3 1315,2806.7 1311.4,2809 1307.7,2811.1 1303.6,2813 1298.6,2814.9 1292.9,2817 1286.8,2819.4 1281,2822 1275.3,2824.4 1269.2,2827.1 1262.4,2830.7 1255.3,2835.1 1248.7,2840.5 1242.6,2846.6 1236.9,2854.1 1232,2863.2 1229.3,2873.5 1228.6,2883.6 1229.5,2892.9 1231.6,2902.1 1235.3,2910.8 1240.1,2918.9 1245.9,2925.8 1252.3,2931.9 1259.5,2937.1 1267.1,2941.3 1274.7,2944.4 1282.2,2946.8 1289.9,2948.5 1298.3,2949.5 1307.1,2949.1 1315,2947.7 1321.1,2946 1325.5,2944.6 1329,2944 1331.9,2943.9 1333.4,2944 1333.9,2943.9 1334.4,2943.3 1335.7,2941.2 1337.3,2939.2 1337.5,2940 1334.3,2943.6 1329.5,2947.7 1324.6,2952.1 1320.1,2956.7 1315.6,2961.8 1311.3,2967.6 1307.6,2974.3 1304.5,2982.2 1303.8,2991.8 1307.2,3000.8 1313,3007 1319.1,3011.4 1325.4,3014.1 1331,3016.3 1335.8,3019 1340,3022.3 1344.3,3024.9 1348.2,3027.8 1348,3032.6 1345.6,3037.8 1347,3038.7 1350.8,3033.6 1354.2,3027.2 1352.1,3019.8 1348,3013.8 1343.1,3009.4 1337.9,3005.3 1333,3001.7 1328.9,2998.3 1326.1,2994.7 1324.2,2991.5 1323.6,2989.3 1324,2987.1 1326,2984.1 1328.8,2980.7 1332.4,2977.5 1336.6,2974.2 1341,2970.7 1345.2,2967.2 1350.1,2964.1 1356.5,2960.5 1364.9,2952.6 1369.2,2939.4 1366.1,2926.2 1359.3,2916 1349.7,2909.6 1339.7,2906.3 1330.6,2904.9 1322.1,2904.6 1314.7,2905.1 1308.9,2905.6 1304.9,2905.6 1301.6,2905.2 1298.1,2904.4 1294.1,2903.4 1290.1,2902.1 1286.6,2900.7 1283.6,2899.1 1281.1,2897.3 1278.8,2895.1 1276.8,2892.7 1275.4,2890.5 1274.4,2888.2 1273.9,2885.6 1273.6,2883 1273.7,2881 1273.9,2879.7 1274.8,2878.3 1276.4,2876.3 1278.9,2873.9 1281.6,2871.6 1284.7,2869.7 1288.6,2867.8 1293.5,2865.6 1298.9,2863.3 1304.1,2861 1309.3,2858.9 1314.8,2856.8 1321.1,2854.4 1328,2851.3 1334.8,2847.5 1341.2,2843.2 1347.6,2838.4 1354.2,2832 1360.2,2824 1364.5,2814.7 1367.1,2805 1367.9,2794.8 1366.8,2784.3 1363.5,2774.7 1359.1,2766.4 1354,2759.4 1348.2,2752.8 1341.1,2746.8 1333.1,2741.9 1324.8,2738.5 1316.6,2736.1 1308.2,2734.6 1299.3,2734.1 1290.5,2734.9 1282.4,2736.6 1275.3,2738.7 1268.3,2741.1 1261.5,2744 1255,2747.3 1249.8,2750.3 1245.1,2752.7 1240.5,2754.8 1236.7,2756.6 1236,2757.5 1236.8,2758.3 1237,2758.8 1235.7,2759 1234.5,2758.6 1233.3,2757.5 1232.5,2754.7 1232.1,2751.6 1232.6,2748.4 1234.1,2743.8 1235.9,2735.5 1235.8,2726 1233.6,2717.5 1231.2,2710.4 1230.3,2703.2 1229.9,2695.8 1227.6,2689.3 1225,2682.7 1222.2,2676.2 1218.2,2670.8 1212.3,2667.2 1206.8,2663.7 1200.2,2661.2 1191.5,2660.2" fill="#ed3e2e"/><clipPath id="c10"><polygon points="1180.2,2668.5 1178.7,2677.2 1179.3,2684.4 1181,2690.5 1182.4,2696.6 1185.2,2701 1189,2704.6 1192.3,2708.5 1195.6,2712.6 1200.3,2716.2 1203.9,2720.2 1205.1,2724.5 1205.5,2727.8 1204.6,2730.2 1202.8,2733.4 1199.9,2740 1198.2,2748.5 1198.1,2757.5 1198.9,2766.7 1202.1,2776.7 1207.9,2785.9 1216.2,2793.5 1227.1,2799.1 1239.9,2800.4 1250.7,2798.1 1258,2795.1 1264.4,2792.3 1270.4,2789.2 1275.7,2786.2 1279.9,2784 1284.1,2782.3 1288.6,2780.8 1293.1,2779.5 1296.8,2778.7 1299.9,2778.4 1303,2778.7 1306.5,2779.3 1309.8,2780.4 1312.7,2781.5 1314.9,2782.9 1317,2784.7 1319.1,2787.2 1321,2789.9 1322.3,2792.3 1323,2794 1323,2795.5 1322.9,2797.3 1322.3,2799.2 1321.7,2800.8 1320.3,2802.3 1318.3,2804.3 1315,2806.7 1311.4,2809 1307.7,2811.1 1303.6,2813 1298.6,2814.9 1292.9,2817 1286.8,2819.4 1281,2822 1275.3,2824.4 1269.2,2827.1 1262.4,2830.7 1255.3,2835.1 1248.7,2840.5 1242.6,2846.6 1236.9,2854.1 1232,2863.2 1229.3,2873.5 1228.6,2883.6 1229.5,2892.9 1231.6,2902.1 1235.3,2910.8 1240.1,2918.9 1245.9,2925.8 1252.3,2931.9 1259.5,2937.1 1267.1,2941.3 1274.7,2944.4 1282.2,2946.8 1289.9,2948.5 1298.3,2949.5 1307.1,2949.1 1315,2947.7 1321.1,2946 1325.5,2944.6 1329,2944 1331.9,2943.9 1333.4,2944 1333.9,2943.9 1334.4,2943.3 1335.7,2941.2 1337.3,2939.2 1337.5,2940 1334.3,2943.6 1329.5,2947.7 1324.6,2952.1 1320.1,2956.7 1315.6,2961.8 1311.3,2967.6 1307.6,2974.3 1304.5,2982.2 1303.8,2991.8 1307.2,3000.8 1313,3007 1319.1,3011.4 1325.4,3014.1 1331,3016.3 1335.8,3019 1340,3022.3 1344.3,3024.9 1348.2,3027.8 1348,3032.6 1345.6,3037.8 1347,3038.7 1350.8,3033.6 1354.2,3027.2 1352.1,3019.8 1348,3013.8 1343.1,3009.4 1337.9,3005.3 1333,3001.7 1328.9,2998.3 1326.1,2994.7 1324.2,2991.5 1323.6,2989.3 1324,2987.1 1326,2984.1 1328.8,2980.7 1332.4,2977.5 1336.6,2974.2 1341,2970.7 1345.2,2967.2 1350.1,2964.1 1356.5,2960.5 1364.9,2952.6 1369.2,2939.4 1366.1,2926.2 1359.3,2916 1349.7,2909.6 1339.7,2906.3 1330.6,2904.9 1322.1,2904.6 1314.7,2905.1 1308.9,2905.6 1304.9,2905.6 1301.6,2905.2 1298.1,2904.4 1294.1,2903.4 1290.1,2902.1 1286.6,2900.7 1283.6,2899.1 1281.1,2897.3 1278.8,2895.1 1276.8,2892.7 1275.4,2890.5 1274.4,2888.2 1273.9,2885.6 1273.6,2883 1273.7,2881 1273.9,2879.7 1274.8,2878.3 1276.4,2876.3 1278.9,2873.9 1281.6,2871.6 1284.7,2869.7 1288.6,2867.8 1293.5,2865.6 1298.9,2863.3 1304.1,2861 1309.3,2858.9 1314.8,2856.8 1321.1,2854.4 1328,2851.3 1334.8,2847.5 1341.2,2843.2 1347.6,2838.4 1354.2,2832 1360.2,2824 1364.5,2814.7 1367.1,2805 1367.9,2794.8 1366.8,2784.3 1363.5,2774.7 1359.1,2766.4 1354,2759.4 1348.2,2752.8 1341.1,2746.8 1333.1,2741.9 1324.8,2738.5 1316.6,2736.1 1308.2,2734.6 1299.3,2734.1 1290.5,2734.9 1282.4,2736.6 1275.3,2738.7 1268.3,2741.1 1261.5,2744 1255,2747.3 1249.8,2750.3 1245.1,2752.7 1240.5,2754.8 1236.7,2756.6 1236,2757.5 1236.8,2758.3 1237,2758.8 1235.7,2759 1234.5,2758.6 1233.3,2757.5 1232.5,2754.7 1232.1,2751.6 1232.6,2748.4 1234.1,2743.8 1235.9,2735.5 1235.8,2726 1233.6,2717.5 1231.2,2710.4 1230.3,2703.2 1229.9,2695.8 1227.6,2689.3 1225,2682.7 1222.2,2676.2 1218.2,2670.8 1212.3,2667.2 1206.8,2663.7 1200.2,2661.2 1191.5,2660.2"/></clipPath><g clip-path="url(#c10)"><polyline points="1203.9,2726.3 1208.9,2726.4 1214.2,2727.1 1219.3,2728.3 1224.5,2730.3" fill="none" stroke="#5f3b79" stroke-width="7.9" stroke-linecap="round"/><polyline points="1237,2739 1231.1,2740 1225.2,2740.5 1219.2,2740.5 1213.1,2740.5" fill="none" stroke="#5f3b79" stroke-width="8.6" stroke-linecap="round"/><polyline points="1197.1,2743.6 1202.4,2747.3 1207.9,2750.3 1213.7,2752.7 1219.5,2754.5" fill="none" stroke="#5f3b79" stroke-width="8.9" stroke-linecap="round"/><polyline points="1234.8,2756.3 1229.3,2758.6 1224,2761.6 1218.9,2765.5 1214.4,2770.2" fill="none" stroke="#5f3b79" stroke-width="9.5" stroke-linecap="round"/><polyline points="1206.6,2787.3 1213.9,2785.4 1220.5,2782.3 1226.4,2778.1 1231.2,2772.9" fill="none" stroke="#5f3b79" stroke-width="10.5" stroke-linecap="round"/><polyline points="1236.3,2755.8 1236.4,2762.6 1238.4,2769.5 1242.1,2775.9 1246.8,2782" fill="none" stroke="#5f3b79" stroke-width="11.4" stroke-linecap="round"/><polyline points="1261.8,2795.9 1261.2,2788 1260.4,2780.2 1259.3,2772.3 1258,2764.6" fill="none" stroke="#5f3b79" stroke-width="11.5" stroke-linecap="round"/><polyline points="1256.2,2744.2 1262.1,2749.5 1267.8,2755 1273.2,2760.8 1278.2,2766.8" fill="none" stroke="#5f3b79" stroke-width="11.5" stroke-linecap="round"/><polyline points="1290.3,2782.6 1290.2,2774.9 1290.4,2767.1 1291,2759.3 1292.2,2751.5" fill="none" stroke="#5f3b79" stroke-width="11.5" stroke-linecap="round"/><polyline points="1300.7,2731.9 1304.1,2739.5 1306.6,2747.3 1308.3,2755.1 1309.3,2762.9" fill="none" stroke="#5f3b79" stroke-width="11.5" stroke-linecap="round"/><polyline points="1309.2,2782.5 1313.3,2776 1318.1,2769.9 1323.5,2764.3 1329.7,2759.2" fill="none" stroke="#5f3b79" stroke-width="11.5" stroke-linecap="round"/><polyline points="1349.5,2750.9 1346.6,2758.8 1343.1,2766.2 1338.9,2773.1 1334.2,2779.5" fill="none" stroke="#5f3b79" stroke-width="11.5" stroke-linecap="round"/><polyline points="1320.1,2792.9 1327.6,2791 1335.2,2790 1343.1,2790.2 1350.9,2791.7" fill="none" stroke="#5f3b79" stroke-width="11.5" stroke-linecap="round"/><polyline points="1369.7,2803 1361.5,2805.7 1353.4,2807.3 1345.2,2807.7 1337.4,2807" fill="none" stroke="#5f3b79" stroke-width="11.5" stroke-linecap="round"/><polyline points="1319.1,2800.4 1324.2,2806.1 1328.4,2812.5 1332,2819.5 1334.8,2826.9" fill="none" stroke="#5f3b79" stroke-width="11.5" stroke-linecap="round"/><polyline points="1338.7,2847.7 1332,2842.9 1325.7,2837.9 1319.7,2832.5 1314.1,2826.8" fill="none" stroke="#5f3b79" stroke-width="11.5" stroke-linecap="round"/><polyline points="1300.4,2811.8 1301.1,2819.7 1301.5,2827.6 1301.9,2835.6 1302.3,2843.5" fill="none" stroke="#5f3b79" stroke-width="11.5" stroke-linecap="round"/><polyline points="1303,2863.9 1297.8,2857.9 1292.6,2851.9 1287.3,2846 1281.9,2840" fill="none" stroke="#5f3b79" stroke-width="11.5" stroke-linecap="round"/><polyline points="1266.2,2826.1 1267,2834.2 1268,2842.3 1269.7,2850.2 1271.9,2857.8" fill="none" stroke="#5f3b79" stroke-width="11.5" stroke-linecap="round"/><polyline points="1279.9,2876 1273.5,2871.6 1266.6,2867.8 1259.4,2864.7 1251.7,2862.3" fill="none" stroke="#5f3b79" stroke-width="11.5" stroke-linecap="round"/><polyline points="1229.6,2863.5 1235.5,2869.9 1242.1,2875.1 1249.2,2879.2 1256.7,2882" fill="none" stroke="#5f3b79" stroke-width="11.5" stroke-linecap="round"/><polyline points="1276.1,2885.2 1268.8,2887.9 1261.9,2891.4 1255.4,2895.9 1249.3,2901.2" fill="none" stroke="#5f3b79" stroke-width="11.5" stroke-linecap="round"/><polyline points="1237.9,2919.5 1246.2,2917.9 1254.1,2915.6 1261.6,2912.5 1268.6,2908.7" fill="none" stroke="#5f3b79" stroke-width="11.5" stroke-linecap="round"/><polyline points="1284.4,2896.9 1281.5,2904.1 1279.4,2911.6 1278,2919.4 1277.3,2927.3" fill="none" stroke="#5f3b79" stroke-width="11.5" stroke-linecap="round"/><polyline points="1279.5,2948.3 1284.6,2941.9 1289.2,2935.2 1293.5,2928.3 1297.1,2921.3" fill="none" stroke="#5f3b79" stroke-width="11.5" stroke-linecap="round"/><polyline points="1303.6,2903.4 1305.3,2910.8 1307.8,2918 1310.9,2924.9 1314.4,2931.6" fill="none" stroke="#5f3b79" stroke-width="11.3" stroke-linecap="round"/><polyline points="1323.9,2947.2 1324.8,2940 1326.1,2932.9 1327.9,2926.1 1330.4,2919.6" fill="none" stroke="#5f3b79" stroke-width="10.4" stroke-linecap="round"/><polyline points="1342.4,2905 1343.9,2912.1 1344.6,2919.3 1344,2926.1 1342.1,2932.6" fill="none" stroke="#5f3b79" stroke-width="9.9" stroke-linecap="round"/><polyline points="1332.8,2944.6 1338.3,2941.3 1344.4,2939.5 1350.6,2939.3 1356.6,2941" fill="none" stroke="#5f3b79" stroke-width="9.2" stroke-linecap="round"/><polyline points="1364.4,2955.8 1358.1,2955.1 1352.5,2953.4 1347.7,2951.3 1343.4,2948.8" fill="none" stroke="#5f3b79" stroke-width="7.5" stroke-linecap="round"/><polyline points="1332.7,2943.3 1334.3,2947.6 1335.7,2951.9 1337.2,2956.2 1338.7,2960.3" fill="none" stroke="#5f3b79" stroke-width="6.6" stroke-linecap="round"/><polyline points="1342.4,2971.1 1338.7,2968.8 1334.9,2966.5 1331.1,2964.4 1327.3,2962.3" fill="none" stroke="#5f3b79" stroke-width="6.4" stroke-linecap="round"/><polyline points="1317,2958.3 1318.9,2962.2 1320.7,2966 1322.6,2969.6 1324.6,2973.1" fill="none" stroke="#5f3b79" stroke-width="6" stroke-linecap="round"/><polyline points="1329.5,2981.5 1325.9,2980.1 1322.3,2978.9 1318.6,2977.9 1314.9,2977.2" fill="none" stroke="#5f3b79" stroke-width="5.6" stroke-linecap="round"/><polyline points="1305,2977.5 1307.7,2980.3 1310.4,2982.7 1313.3,2984.8 1316.4,2986.5" fill="none" stroke="#5f3b79" stroke-width="5.3" stroke-linecap="round"/><polyline points="1324.6,2988.9 1321.3,2989.6 1318,2990.9 1315,2992.6 1312.3,2994.7" fill="none" stroke="#5f3b79" stroke-width="5.2" stroke-linecap="round"/><polyline points="1307.3,3002.4 1311,3001.8 1314.4,3001 1317.6,3000 1320.7,2998.7" fill="none" stroke="#5f3b79" stroke-width="4.9" stroke-linecap="round"/><polyline points="1327.7,2995.6 1326.3,2998.3 1325.1,3001.1 1324,3003.9 1323.2,3006.7" fill="none" stroke="#5f3b79" stroke-width="4.4" stroke-linecap="round"/><polyline points="1322.3,3013.7 1324.6,3011.9 1326.8,3010.2 1328.9,3008.5 1330.9,3006.8" fill="none" stroke="#5f3b79" stroke-width="4" stroke-linecap="round"/><polyline points="1336.1,3003.2 1335.7,3005.7 1335.3,3008.1 1334.9,3010.4 1334.4,3012.7" fill="none" stroke="#5f3b79" stroke-width="4" stroke-linecap="round"/><polyline points="1333.6,3018.3 1335.5,3017.1 1337.4,3015.9 1339.3,3014.8 1341.2,3013.7" fill="none" stroke="#5f3b79" stroke-width="4" stroke-linecap="round"/><polyline points="1346.6,3011.6 1346,3013.7 1345.3,3015.9 1344.6,3017.9 1343.9,3019.9" fill="none" stroke="#5f3b79" stroke-width="4" stroke-linecap="round"/><polyline points="1342.4,3024.4 1344.3,3023.7 1346.2,3023.2 1348.1,3022.9 1350,3022.9" fill="none" stroke="#5f3b79" stroke-width="4" stroke-linecap="round"/><polyline points="1354.1,3024.5 1353.2,3025.9 1352.4,3027 1351.4,3028 1350.3,3028.9" fill="none" stroke="#5f3b79" stroke-width="4" stroke-linecap="round"/></g><path d="M1200 2703.2Q1199 2703.9 1197.5 2703.3Q1196.1 2702.7 1194.7 2701.4Q1193.4 2700 1193.2 2698.4Q1192.9 2696.9 1193.8 2696.1Q1194.8 2695.3 1196.4 2695.8Q1197.9 2696.3 1199.2 2697.8Q1200.5 2699.3 1200.7 2700.9Q1200.9 2702.6 1200 2703.2Z" fill="#f6cfe6"/><path d="M1198.9 2701.8Q1198.7 2702.3 1197.7 2701.4Q1196.6 2700.6 1195.7 2699.3Q1194.8 2698 1195 2697.5Q1195.2 2696.9 1196.3 2697.7Q1197.4 2698.5 1198.2 2699.9Q1199.1 2701.2 1198.9 2701.8Z" fill="#5f3b79"/><path d="M1222.9 2694Q1222.8 2695.7 1221.8 2696.1Q1220.7 2696.5 1219.3 2695.3Q1217.9 2694.1 1217 2692Q1216.1 2689.9 1216.2 2688Q1216.3 2686.2 1217.4 2685.7Q1218.5 2685.2 1219.9 2686.5Q1221.3 2687.8 1222.2 2690Q1223 2692.2 1222.9 2694Z" fill="#f6cfe6"/><path d="M1221.1 2692.8Q1221.5 2694.3 1220.9 2694.2Q1220.3 2694 1219.4 2692.3Q1218.4 2690.7 1218.1 2689.1Q1217.7 2687.6 1218.3 2687.7Q1218.9 2687.9 1219.8 2689.6Q1220.7 2691.3 1221.1 2692.8Z" fill="#5f3b79"/>
<!-- snake s11 --><path d="M556 2916 Q552 2900 548 2888" stroke="#a51c40" stroke-width="3" fill="none"/><polygon points="549.8,2914.6 547.2,2921 543.4,2927.4 543.3,2933.5 542.7,2939.6 542.4,2945.8 543.5,2952.2 545.7,2958.6 548.1,2964.5 549.8,2970 550.5,2975.1 550.6,2979.6 550,2983.3 548.6,2986.5 546.5,2989.7 543.6,2993.1 540.2,2996.8 536.5,3000.7 532.4,3004.8 528.2,3009 524.3,3013 520.5,3016.4 516.3,3019.6 511.5,3023 506.2,3026.8 500.3,3031.6 494.3,3038.1 489.7,3046.3 487.1,3055.2 486.1,3063.8 486.6,3072.5 488.6,3081 492.2,3089.2 497.3,3096.7 503.5,3102.7 509.7,3107.3 515.5,3111 521.1,3114.3 526.4,3117.3 531.3,3120.2 536,3123 540.5,3126.2 545.3,3129.6 550.3,3133.1 555.1,3136.4 559.6,3139.7 563.6,3142.8 566.8,3145.6 568.8,3148 570.1,3150.2 570.7,3152.5 570.9,3154.4 570.6,3155.7 570,3156.8 568.1,3158.3 565.2,3160.2 561.6,3161.9 557.9,3163.2 554.3,3163.9 551,3164.1 547.5,3163.6 543.6,3162.5 539.1,3160.7 534.2,3158.5 529.1,3156 523.9,3153.4 518.5,3150.6 512.9,3147.8 507.5,3145.2 502.4,3142.6 497.4,3139.9 492.3,3137.1 487.1,3134 481.6,3131 475.8,3127.9 469.6,3124.8 462.4,3122 454.4,3120 446,3119.2 437.5,3119.7 429.1,3121.5 420.4,3125 411.3,3131.9 405.3,3142.8 404.4,3154.8 407.1,3164.9 412,3173.3 418,3179.8 424.4,3184.6 430.4,3188.2 436,3191.3 441.5,3194.2 446.7,3197.1 451.6,3199.9 456.4,3202.8 461.1,3206 465.9,3209.5 470.7,3213 475.5,3216.5 480.4,3219.8 485.1,3223 489.8,3226.2 494.3,3229.5 498.3,3232.8 501.9,3236.2 504.9,3240.2 507.5,3244.6 509.5,3249.7 511.2,3255.2 513.1,3261 516.1,3266.5 519.5,3271.7 522.7,3277 525.5,3282.5 527.5,3288.2 529.5,3287.8 528.5,3281.8 528.5,3275.5 528.7,3269.1 528.6,3262.8 527.9,3256.7 526.6,3250.9 525.1,3244.8 523.3,3238.4 520.9,3231.8 517.7,3225.4 513.8,3219.4 509.5,3213.9 505.1,3209 500.5,3204.4 495.9,3200.1 491.1,3196 486.3,3192.2 481.4,3188.6 476.5,3184.8 471.4,3181 466.1,3177.3 460.7,3173.8 455.5,3170.4 450.5,3167.2 445.8,3164.1 441.7,3161.1 438.6,3158.4 436.7,3155.9 435.7,3153.7 435.4,3152.3 435.3,3152.3 435.1,3152.9 435.9,3152.9 438.4,3152.1 441.8,3151.4 445.4,3151.2 448.9,3151.5 452.6,3152.5 456.7,3154.2 461.3,3156.5 466.1,3159.1 471.2,3162 476.4,3165 481.8,3168.1 487.4,3171.2 493.1,3174.1 498.6,3176.7 503.8,3179.4 509.1,3182.2 514.6,3185 520.4,3187.9 526.5,3190.7 533.2,3193.4 540.9,3195.5 549.4,3196.8 558.1,3196.4 566.4,3194.8 574,3192.2 581.4,3188.7 588.6,3184 595.7,3177.4 601.1,3168.1 603.6,3157.7 603.3,3147.7 600.8,3138.3 596.4,3129.9 590.8,3123 585,3117.7 579.5,3113.3 574.2,3109.5 569,3106 564.1,3102.6 559,3099.1 553.6,3095.5 547.8,3092.1 542.3,3089 537,3086.2 532.1,3083.4 527.7,3080.8 524.1,3078.3 521.4,3076.1 519.7,3073.7 518.4,3070.9 517.6,3067.7 517.2,3064.3 517.5,3060.9 518.1,3058.2 519.3,3055.9 521.5,3053.6 524.9,3050.7 529.4,3047.4 534.4,3043.8 539.8,3039.5 545,3034.9 549.5,3030.2 553.8,3025.9 558.2,3021.4 562.7,3016.4 567,3010.8 571.1,3004.4 574.5,2996.9 576.7,2988.6 577.1,2980.3 576.6,2972.7 575.5,2965.8 575,2959.4 575.1,2953.5 575.4,2947.9 575.2,2942.3 573.8,2936.5 572,2930.6 570.6,2924.6 565.6,2919.1 561.8,2913.4" fill="#ef6ea3"/><clipPath id="c11"><polygon points="549.8,2914.6 547.2,2921 543.4,2927.4 543.3,2933.5 542.7,2939.6 542.4,2945.8 543.5,2952.2 545.7,2958.6 548.1,2964.5 549.8,2970 550.5,2975.1 550.6,2979.6 550,2983.3 548.6,2986.5 546.5,2989.7 543.6,2993.1 540.2,2996.8 536.5,3000.7 532.4,3004.8 528.2,3009 524.3,3013 520.5,3016.4 516.3,3019.6 511.5,3023 506.2,3026.8 500.3,3031.6 494.3,3038.1 489.7,3046.3 487.1,3055.2 486.1,3063.8 486.6,3072.5 488.6,3081 492.2,3089.2 497.3,3096.7 503.5,3102.7 509.7,3107.3 515.5,3111 521.1,3114.3 526.4,3117.3 531.3,3120.2 536,3123 540.5,3126.2 545.3,3129.6 550.3,3133.1 555.1,3136.4 559.6,3139.7 563.6,3142.8 566.8,3145.6 568.8,3148 570.1,3150.2 570.7,3152.5 570.9,3154.4 570.6,3155.7 570,3156.8 568.1,3158.3 565.2,3160.2 561.6,3161.9 557.9,3163.2 554.3,3163.9 551,3164.1 547.5,3163.6 543.6,3162.5 539.1,3160.7 534.2,3158.5 529.1,3156 523.9,3153.4 518.5,3150.6 512.9,3147.8 507.5,3145.2 502.4,3142.6 497.4,3139.9 492.3,3137.1 487.1,3134 481.6,3131 475.8,3127.9 469.6,3124.8 462.4,3122 454.4,3120 446,3119.2 437.5,3119.7 429.1,3121.5 420.4,3125 411.3,3131.9 405.3,3142.8 404.4,3154.8 407.1,3164.9 412,3173.3 418,3179.8 424.4,3184.6 430.4,3188.2 436,3191.3 441.5,3194.2 446.7,3197.1 451.6,3199.9 456.4,3202.8 461.1,3206 465.9,3209.5 470.7,3213 475.5,3216.5 480.4,3219.8 485.1,3223 489.8,3226.2 494.3,3229.5 498.3,3232.8 501.9,3236.2 504.9,3240.2 507.5,3244.6 509.5,3249.7 511.2,3255.2 513.1,3261 516.1,3266.5 519.5,3271.7 522.7,3277 525.5,3282.5 527.5,3288.2 529.5,3287.8 528.5,3281.8 528.5,3275.5 528.7,3269.1 528.6,3262.8 527.9,3256.7 526.6,3250.9 525.1,3244.8 523.3,3238.4 520.9,3231.8 517.7,3225.4 513.8,3219.4 509.5,3213.9 505.1,3209 500.5,3204.4 495.9,3200.1 491.1,3196 486.3,3192.2 481.4,3188.6 476.5,3184.8 471.4,3181 466.1,3177.3 460.7,3173.8 455.5,3170.4 450.5,3167.2 445.8,3164.1 441.7,3161.1 438.6,3158.4 436.7,3155.9 435.7,3153.7 435.4,3152.3 435.3,3152.3 435.1,3152.9 435.9,3152.9 438.4,3152.1 441.8,3151.4 445.4,3151.2 448.9,3151.5 452.6,3152.5 456.7,3154.2 461.3,3156.5 466.1,3159.1 471.2,3162 476.4,3165 481.8,3168.1 487.4,3171.2 493.1,3174.1 498.6,3176.7 503.8,3179.4 509.1,3182.2 514.6,3185 520.4,3187.9 526.5,3190.7 533.2,3193.4 540.9,3195.5 549.4,3196.8 558.1,3196.4 566.4,3194.8 574,3192.2 581.4,3188.7 588.6,3184 595.7,3177.4 601.1,3168.1 603.6,3157.7 603.3,3147.7 600.8,3138.3 596.4,3129.9 590.8,3123 585,3117.7 579.5,3113.3 574.2,3109.5 569,3106 564.1,3102.6 559,3099.1 553.6,3095.5 547.8,3092.1 542.3,3089 537,3086.2 532.1,3083.4 527.7,3080.8 524.1,3078.3 521.4,3076.1 519.7,3073.7 518.4,3070.9 517.6,3067.7 517.2,3064.3 517.5,3060.9 518.1,3058.2 519.3,3055.9 521.5,3053.6 524.9,3050.7 529.4,3047.4 534.4,3043.8 539.8,3039.5 545,3034.9 549.5,3030.2 553.8,3025.9 558.2,3021.4 562.7,3016.4 567,3010.8 571.1,3004.4 574.5,2996.9 576.7,2988.6 577.1,2980.3 576.6,2972.7 575.5,2965.8 575,2959.4 575.1,2953.5 575.4,2947.9 575.2,2942.3 573.8,2936.5 572,2930.6 570.6,2924.6 565.6,2919.1 561.8,2913.4"/></clipPath><g clip-path="url(#c11)"><path d="M550.7 2988.9Q547.5 2988.3 545.1 2986.4Q542.6 2984.6 541.5 2983.1Q540.3 2981.7 540.7 2980.4Q541.1 2979.2 543 2977.4Q544.8 2975.5 547.6 2974.3Q550.3 2973.1 553.3 2973.8Q556.3 2974.4 558.2 2977Q560.1 2979.6 559.6 2982.9Q559.2 2986.2 556.6 2987.9Q554 2989.6 550.7 2988.9Z" fill="none" stroke="#a51c40" stroke-width="2.5"/><path d="M556.9 3027.5Q553.7 3026 552.1 3022.9Q550.6 3019.7 551.2 3016.1Q551.9 3012.5 554.4 3009.6Q557 3006.7 560.5 3005.2Q564 3003.8 567.4 3004.3Q570.8 3004.8 572.7 3007.9Q574.6 3010.9 574 3015.5Q573.3 3020 570.5 3023.5Q567.6 3027 563.8 3028Q560.1 3029 556.9 3027.5Z" fill="none" stroke="#a51c40" stroke-width="2.5"/><path d="M516.8 3023.3Q514 3021.2 512.8 3017.9Q511.7 3014.7 512.4 3011.6Q513.1 3008.6 515.2 3006.7Q517.2 3004.9 520.6 3004.5Q523.9 3004 527 3005.6Q530.2 3007.1 531.7 3010.2Q533.3 3013.3 532.7 3016.9Q532.1 3020.4 529.4 3022.8Q526.8 3025.2 523.2 3025.3Q519.7 3025.3 516.8 3023.3Z" fill="none" stroke="#a51c40" stroke-width="2.5"/><path d="M521.3 3059.2Q518.2 3058.1 515.3 3056.1Q512.5 3054 512.1 3051Q511.7 3048 514.1 3045.7Q516.6 3043.5 520.1 3043.4Q523.6 3043.4 526.5 3045.4Q529.4 3047.4 530.5 3050.8Q531.6 3054.1 531 3057.2Q530.5 3060.2 529.4 3061.1Q528.4 3062 526.4 3061.2Q524.5 3060.4 521.3 3059.2Z" fill="none" stroke="#a51c40" stroke-width="2.5"/><path d="M492.7 3081.9Q490 3084.6 486.1 3084.2Q482.2 3083.8 479 3079.3Q475.7 3074.9 475.4 3068.4Q475.1 3062 477.9 3057.2Q480.6 3052.4 484.4 3051.4Q488.2 3050.5 491.1 3052.9Q494 3055.3 495.6 3059.1Q497.3 3062.9 497.5 3067.1Q497.8 3071.2 496.5 3075.2Q495.3 3079.2 492.7 3081.9Z" fill="none" stroke="#a51c40" stroke-width="2.5"/><path d="M532.7 3079.7Q531.6 3083.2 528.9 3085.7Q526.1 3088.2 522.6 3088.5Q519.1 3088.8 516.5 3086.7Q513.9 3084.6 514.1 3081.4Q514.3 3078.3 517 3075.9Q519.6 3073.5 522.8 3072.1Q526 3070.7 528.2 3069.8Q530.4 3069 531.5 3069.7Q532.6 3070.4 533.1 3073.3Q533.7 3076.2 532.7 3079.7Z" fill="none" stroke="#a51c40" stroke-width="2.5"/><path d="M538.7 3120.6Q537.7 3124.2 534.9 3126.6Q532.1 3129.1 528.8 3129.7Q525.5 3130.2 522.5 3128.5Q519.6 3126.8 517.9 3123.3Q516.3 3119.8 517.1 3116.1Q517.8 3112.4 520.6 3109.9Q523.4 3107.4 527.1 3107Q530.9 3106.6 534 3108.4Q537.2 3110.2 538.5 3113.6Q539.8 3117 538.7 3120.6Z" fill="none" stroke="#a51c40" stroke-width="2.5"/><path d="M579.8 3109Q578.7 3112.7 575.5 3114.9Q572.4 3117.1 568.5 3117.2Q564.7 3117.3 561.7 3115.2Q558.6 3113.1 557.4 3109.5Q556.2 3106 557.3 3102.3Q558.3 3098.6 561.4 3096.3Q564.4 3094.1 568.2 3093.9Q572 3093.8 575.1 3095.9Q578.2 3098 579.5 3101.7Q580.9 3105.4 579.8 3109Z" fill="none" stroke="#a51c40" stroke-width="2.5"/><path d="M573.5 3149.2Q570.3 3151 566.8 3151.9Q563.3 3152.8 561.1 3153.7Q559 3154.5 558.3 3153.8Q557.7 3153.2 557.8 3150.4Q558 3147.6 559.5 3144.2Q561 3140.7 564.1 3138.5Q567.2 3136.3 570.7 3136.4Q574.2 3136.5 576.4 3138.9Q578.5 3141.3 577.6 3144.3Q576.7 3147.4 573.5 3149.2Z" fill="none" stroke="#a51c40" stroke-width="2.5"/><path d="M594.1 3184Q590.1 3182.7 588.9 3179Q587.7 3175.2 588.3 3170.8Q589 3166.5 590.4 3162.2Q591.7 3157.9 594 3154.1Q596.3 3150.3 599.6 3148Q603 3145.8 606.9 3147.3Q610.8 3148.8 612.9 3155.1Q615 3161.4 612.2 3169.6Q609.5 3177.9 603.8 3181.6Q598.1 3185.3 594.1 3184Z" fill="none" stroke="#a51c40" stroke-width="2.5"/><path d="M554.6 3167.5Q553.5 3164.1 553.7 3160.4Q553.8 3156.7 554.5 3154.3Q555.2 3151.8 556.6 3151.3Q558 3150.7 560.2 3152Q562.4 3153.4 564.9 3156.1Q567.4 3158.8 568.8 3162.2Q570.2 3165.6 569 3168.8Q567.8 3172 564.7 3173.1Q561.6 3174.3 558.7 3172.6Q555.8 3171 554.6 3167.5Z" fill="none" stroke="#a51c40" stroke-width="2.5"/><path d="M521.8 3192.5Q522.1 3188.7 524.7 3186Q527.3 3183.2 531.1 3182.4Q534.9 3181.6 538.7 3182.8Q542.5 3184 545.7 3186.7Q548.8 3189.5 550.2 3193.1Q551.6 3196.8 549.7 3200.3Q547.8 3203.8 542.6 3205.3Q537.5 3206.7 532.2 3205Q526.9 3203.4 524.2 3199.9Q521.5 3196.3 521.8 3192.5Z" fill="none" stroke="#a51c40" stroke-width="2.5"/><path d="M511.4 3151Q511.9 3147.3 514.6 3144.6Q517.2 3141.9 521 3141.4Q524.8 3140.8 528.1 3142.5Q531.4 3144.2 532.9 3147.4Q534.4 3150.7 533.8 3154.3Q533.2 3158 530.6 3160.8Q528.1 3163.5 524.5 3164.1Q520.9 3164.8 517.6 3163.1Q514.3 3161.4 512.6 3158Q510.9 3154.7 511.4 3151Z" fill="none" stroke="#a51c40" stroke-width="2.5"/><path d="M472.2 3166.7Q473 3163 475.7 3160.5Q478.5 3158 482.2 3157.6Q485.9 3157.2 489.2 3159Q492.5 3160.8 494.2 3164.2Q496 3167.5 495.4 3171.2Q494.9 3174.9 492.2 3177.6Q489.6 3180.3 485.7 3180.7Q481.8 3181.2 478.2 3179.2Q474.6 3177.2 473 3173.8Q471.4 3170.3 472.2 3166.7Z" fill="none" stroke="#a51c40" stroke-width="2.5"/><path d="M461.8 3125.5Q461.5 3121.7 464.1 3118.9Q466.7 3116.1 471.4 3115.6Q476 3115.2 480 3117.2Q484 3119.3 485.9 3122.8Q487.7 3126.3 487 3129.9Q486.3 3133.6 483.5 3136.1Q480.7 3138.6 477 3139Q473.3 3139.5 469.9 3137.7Q466.4 3136 464.2 3132.7Q462 3129.4 461.8 3125.5Z" fill="none" stroke="#a51c40" stroke-width="2.5"/><path d="M438.4 3155.8Q436.8 3152.6 436.1 3149.1Q435.4 3145.6 437.3 3142.9Q439.1 3140.3 442.4 3140Q445.7 3139.8 447.9 3142.2Q450.2 3144.6 450.2 3148.2Q450.3 3151.8 449 3155.1Q447.7 3158.5 446.5 3160.5Q445.2 3162.6 444.1 3162.7Q442.9 3162.8 441.5 3160.8Q440 3158.9 438.4 3155.8Z" fill="none" stroke="#a51c40" stroke-width="2.5"/><path d="M409.9 3162.7Q407.4 3165.4 403.4 3164.6Q399.4 3163.8 396.3 3157.3Q393.1 3150.7 395.7 3140.7Q398.3 3130.7 405.1 3126.4Q411.8 3122.1 415.7 3123.8Q419.6 3125.5 420 3129.4Q420.3 3133.3 419 3137.8Q417.7 3142.3 416.5 3146.9Q415.3 3151.5 413.9 3155.7Q412.5 3159.9 409.9 3162.7Z" fill="none" stroke="#a51c40" stroke-width="2.5"/><path d="M449 3162.4Q448.2 3165.7 445.7 3167.8Q443.1 3169.8 439.7 3169.9Q436.2 3170 433.6 3167.8Q431 3165.7 431 3162.6Q431.1 3159.5 433.6 3157.2Q436.1 3154.9 439.1 3153.4Q442.1 3152 444 3151.3Q445.8 3150.6 447 3151.8Q448.3 3153 449 3156.1Q449.8 3159.2 449 3162.4Z" fill="none" stroke="#a51c40" stroke-width="2.5"/><path d="M457.1 3199.7Q456.3 3202.8 453.8 3204.6Q451.3 3206.5 448 3206.7Q444.7 3206.9 441.6 3205.4Q438.5 3203.8 436.8 3200.8Q435.1 3197.8 435.6 3194.6Q436.1 3191.4 438.7 3189.3Q441.4 3187.2 444.9 3187.1Q448.5 3186.9 451.7 3188.8Q454.8 3190.6 456.3 3193.7Q457.8 3196.7 457.1 3199.7Z" fill="none" stroke="#a51c40" stroke-width="2.5"/><path d="M494.1 3194.8Q493.3 3197.8 490.7 3199.3Q488.1 3200.8 484.6 3200.4Q481.1 3199.9 478.2 3197.7Q475.2 3195.5 473.8 3192.3Q472.4 3189 473.2 3185.9Q473.9 3182.9 476.6 3181.2Q479.2 3179.6 482.7 3180.1Q486.2 3180.6 489.2 3182.8Q492.2 3185.1 493.6 3188.4Q494.9 3191.8 494.1 3194.8Z" fill="none" stroke="#a51c40" stroke-width="2.5"/><path d="M499 3230.3Q498 3232.5 495.6 3233.5Q493.1 3234.4 490 3234.1Q486.8 3233.8 484 3232.2Q481.2 3230.6 479.9 3227.9Q478.6 3225.2 479.3 3222.4Q480.1 3219.6 482.8 3218.1Q485.4 3216.6 488.8 3217.1Q492.2 3217.6 494.9 3219.9Q497.7 3222.2 498.8 3225.1Q499.9 3228.1 499 3230.3Z" fill="none" stroke="#a51c40" stroke-width="2.5"/><path d="M527.2 3245.5Q525.7 3247.2 523.7 3246.6Q521.7 3245.9 519.7 3243.3Q517.7 3240.7 516.2 3237.2Q514.6 3233.6 514.1 3230.1Q513.5 3226.7 514.5 3224.2Q515.6 3221.8 518 3221.7Q520.5 3221.6 523.2 3224.5Q526 3227.3 527.5 3231.8Q529 3236.3 528.8 3240Q528.6 3243.8 527.2 3245.5Z" fill="none" stroke="#a51c40" stroke-width="2.5"/><path d="M522.5 3275Q522.3 3276.3 520.8 3275.5Q519.4 3274.7 516.6 3272.4Q513.9 3270.2 511.3 3267.1Q508.7 3264 508.5 3260.9Q508.3 3257.7 509.7 3256.2Q511 3254.6 513 3255.2Q515 3255.8 517 3258.4Q518.9 3261 520.3 3264.5Q521.6 3267.9 522.2 3270.9Q522.7 3273.8 522.5 3275Z" fill="none" stroke="#a51c40" stroke-width="2.5"/></g><path d="M566.7 2939.3Q565.8 2940.2 564.5 2939.5Q563.3 2938.9 563.1 2937.4Q562.8 2935.9 563.7 2935.1Q564.6 2934.2 565.8 2934.9Q567 2935.5 567.4 2937Q567.7 2938.5 566.7 2939.3Z" fill="#7a1530"/><path d="M552.4 2940.7Q551.3 2941.6 550.2 2940.9Q549.1 2940.3 549.1 2938.8Q549.1 2937.3 550.2 2936.4Q551.2 2935.6 552.3 2936.2Q553.3 2936.9 553.4 2938.4Q553.4 2939.9 552.4 2940.7Z" fill="#7a1530"/>
<!-- snake s12 --><path d="M2491 3040 L2497 3012 L2489 2995 M2497 3012 L2510 3000" stroke="#f2a4bd" stroke-width="4" fill="none" stroke-linecap="round"/><polygon points="2483.4,3030.9 2474.6,3032.6 2463.1,3032.5 2458.4,3036.6 2453,3040.4 2447,3044.1 2441.7,3048.5 2438.2,3054.3 2435.7,3060.7 2433.6,3067.6 2431.6,3074.5 2429.5,3081.2 2427.5,3087.7 2427.2,3094.5 2427.7,3101.4 2428,3108 2427.2,3114 2425.2,3119.5 2423.2,3124.8 2421.1,3130.3 2418.7,3136 2416.5,3142 2414.3,3147.7 2412.3,3153 2410.3,3158 2408.3,3162.3 2406.2,3166.2 2404.1,3169.6 2401.5,3173 2398.5,3176.6 2395.3,3180.3 2392,3183.8 2388.7,3187 2385.4,3189.8 2382.2,3192.2 2379.1,3194.2 2376.1,3195.7 2373.2,3196.8 2370.1,3197.5 2366.3,3198 2362,3198.3 2357.3,3198.4 2352.3,3198.2 2347,3197.9 2341.6,3197.4 2336,3196.8 2330.3,3196.1 2325,3195.4 2320.1,3194.7 2315.6,3193.7 2311,3192.4 2305.8,3190.8 2300.3,3189 2294.3,3187 2287.7,3185 2280.4,3183.2 2272.5,3181.8 2264.6,3181 2257,3180.8 2249.6,3181 2242.2,3181.6 2234.8,3182.6 2227.5,3183.9 2220.4,3185.7 2213.3,3187.8 2206,3190.4 2198.9,3193.5 2192.2,3197 2186.1,3200.5 2180.6,3204 2175.4,3207.4 2170.5,3210.5 2165.9,3213.4 2161.5,3216 2156.7,3218.6 2151.4,3221.3 2146.1,3224.3 2141,3227 2136.3,3229.6 2131.9,3231.7 2127.8,3233.5 2124.1,3234.9 2120.7,3235.8 2117.1,3236.4 2113.2,3236.7 2108.9,3236.8 2104.3,3236.5 2099.4,3236 2094.4,3235.3 2089.2,3234.4 2083.9,3233.3 2078.7,3232.1 2073.8,3231 2069.5,3229.6 2065.2,3228 2060.6,3225.9 2055.6,3223.5 2050.2,3220.8 2044.2,3217.9 2037.7,3215 2030.7,3212.4 2023.8,3210.3 2017.4,3208.6 2010.9,3207.1 2004.2,3205.7 1997.2,3204.6 1989.7,3203.8 1981.8,3203.5 1973.5,3204 1965.3,3205.4 1957.7,3207.3 1950.4,3209.8 1943.3,3212.8 1936.4,3216.2 1929.5,3220.4 1922.5,3225.6 1915.7,3232.3 1909.9,3240.4 1905.9,3249 1903.2,3257.4 1901.6,3265.6 1900.7,3273.8 1900.8,3282.3 1902.2,3291.4 1905.2,3300.6 1909.8,3308.9 1915.4,3315.9 1921.7,3321.9 1928.5,3326.9 1935.9,3331 1943.9,3334.1 1952,3336.1 1959.9,3336.9 1967.4,3337 1974.4,3336.5 1981.3,3335.7 1988,3334.6 1994.5,3333.3 2001.3,3331.6 2008.2,3329.5 2014.9,3326.7 2021,3323.7 2026.7,3320.8 2031.9,3317.7 2036.8,3314.7 2041.3,3311.9 2045.4,3309.6 2049.7,3307.7 2054.5,3306.4 2059.5,3305.3 2064.6,3304.8 2069.5,3304.9 2074.1,3305.7 2078.2,3307.3 2081.4,3310.1 2083.9,3313.8 2086.5,3318.3 2089.3,3323.2 2092.2,3328.5 2095.1,3334 2097.7,3339.5 2099.9,3345.1 2100.9,3344.9 2099.5,3339 2098.9,3333 2098.9,3326.8 2098.8,3320.5 2098.1,3314 2096.2,3307.3 2092.2,3301 2086.7,3295.5 2080.3,3291.5 2073.5,3288.7 2066.5,3286.9 2059.6,3285.8 2052.7,3285.3 2045.5,3285.3 2038.2,3286.4 2031.2,3288.3 2024.9,3290.7 2019.1,3293.3 2013.7,3296 2008.7,3298.5 2004,3300.6 1999.4,3302.1 1994.7,3303.1 1989.7,3303.6 1984.4,3303.9 1979.1,3303.9 1974,3303.6 1969.1,3303 1964.5,3302.1 1960.6,3300.9 1957.4,3299.3 1954.5,3297.3 1951.8,3294.9 1949.4,3292.3 1947.4,3289.5 1945.9,3286.8 1945.1,3284.5 1944.7,3282.3 1944.6,3279.4 1944.6,3276 1945.1,3272.3 1945.8,3268.7 1946.9,3265.7 1948,3263.5 1949.3,3261.9 1951.2,3260.4 1954.1,3258.7 1957.6,3256.9 1961.5,3255.3 1965.7,3253.9 1969.8,3252.9 1973.8,3252.1 1977.6,3251.8 1981.3,3251.9 1985.3,3252.3 1989.8,3253.1 1994.5,3254.1 1999.5,3255.3 2004.7,3256.8 2009.8,3258.2 2014.5,3259.7 2018.7,3261.3 2023.1,3263.3 2027.9,3265.7 2033.2,3268.4 2038.9,3271.3 2045.2,3274.3 2052.1,3277.2 2059.1,3279.6 2065.9,3281.5 2072.3,3283.2 2078.7,3284.7 2085.4,3286.1 2092.1,3287.3 2099.2,3288.3 2106.5,3289 2114.2,3289.2 2122.3,3288.9 2130.7,3287.8 2138.8,3285.9 2146.5,3283.4 2153.5,3280.6 2160,3277.6 2165.9,3274.6 2171.4,3271.7 2176.7,3269 2182.1,3266.2 2187.9,3263.1 2193.8,3259.6 2199.4,3256.1 2204.6,3252.8 2209.5,3249.6 2214.1,3246.7 2218.3,3244.1 2222.3,3242 2226.1,3240.3 2230.2,3238.8 2234.6,3237.5 2239.1,3236.3 2243.5,3235.4 2248,3234.8 2252.6,3234.4 2257.2,3234.2 2261.6,3234.3 2265.6,3234.6 2269.6,3235.3 2273.9,3236.3 2278.8,3237.7 2284.2,3239.4 2290.1,3241.3 2296.5,3243.2 2303.4,3245 2310.7,3246.5 2317.7,3247.5 2324.3,3248.3 2330.5,3249 2336.8,3249.6 2343.4,3250.1 2350.1,3250.5 2357.1,3250.6 2364.4,3250.5 2372.1,3249.9 2380.2,3248.7 2388.7,3246.5 2397,3243.4 2404.7,3239.5 2411.7,3235.1 2418.1,3230.2 2423.9,3225.2 2429.2,3220 2434.1,3214.6 2438.5,3209.2 2442.9,3203.3 2447.2,3196.9 2451.1,3189.9 2454.2,3182.9 2456.8,3176.2 2458.9,3169.8 2460.8,3163.8 2462.6,3158.2 2464.3,3152.8 2466.3,3147.4 2468.4,3141.6 2470.5,3135.7 2472.5,3129.8 2475.6,3124.5 2479.8,3119.7 2484.3,3115.3 2488.2,3110.9 2490.6,3106.2 2493.2,3101.8 2496.3,3097.9 2499.5,3094 2502.7,3089.9 2505.2,3085.2 2506,3079.3 2506.1,3072.7 2507.1,3066.3 2508.6,3060.1 2503.3,3049.7 2500.6,3041.1" fill="#1f8b57"/><clipPath id="c12"><polygon points="2483.4,3030.9 2474.6,3032.6 2463.1,3032.5 2458.4,3036.6 2453,3040.4 2447,3044.1 2441.7,3048.5 2438.2,3054.3 2435.7,3060.7 2433.6,3067.6 2431.6,3074.5 2429.5,3081.2 2427.5,3087.7 2427.2,3094.5 2427.7,3101.4 2428,3108 2427.2,3114 2425.2,3119.5 2423.2,3124.8 2421.1,3130.3 2418.7,3136 2416.5,3142 2414.3,3147.7 2412.3,3153 2410.3,3158 2408.3,3162.3 2406.2,3166.2 2404.1,3169.6 2401.5,3173 2398.5,3176.6 2395.3,3180.3 2392,3183.8 2388.7,3187 2385.4,3189.8 2382.2,3192.2 2379.1,3194.2 2376.1,3195.7 2373.2,3196.8 2370.1,3197.5 2366.3,3198 2362,3198.3 2357.3,3198.4 2352.3,3198.2 2347,3197.9 2341.6,3197.4 2336,3196.8 2330.3,3196.1 2325,3195.4 2320.1,3194.7 2315.6,3193.7 2311,3192.4 2305.8,3190.8 2300.3,3189 2294.3,3187 2287.7,3185 2280.4,3183.2 2272.5,3181.8 2264.6,3181 2257,3180.8 2249.6,3181 2242.2,3181.6 2234.8,3182.6 2227.5,3183.9 2220.4,3185.7 2213.3,3187.8 2206,3190.4 2198.9,3193.5 2192.2,3197 2186.1,3200.5 2180.6,3204 2175.4,3207.4 2170.5,3210.5 2165.9,3213.4 2161.5,3216 2156.7,3218.6 2151.4,3221.3 2146.1,3224.3 2141,3227 2136.3,3229.6 2131.9,3231.7 2127.8,3233.5 2124.1,3234.9 2120.7,3235.8 2117.1,3236.4 2113.2,3236.7 2108.9,3236.8 2104.3,3236.5 2099.4,3236 2094.4,3235.3 2089.2,3234.4 2083.9,3233.3 2078.7,3232.1 2073.8,3231 2069.5,3229.6 2065.2,3228 2060.6,3225.9 2055.6,3223.5 2050.2,3220.8 2044.2,3217.9 2037.7,3215 2030.7,3212.4 2023.8,3210.3 2017.4,3208.6 2010.9,3207.1 2004.2,3205.7 1997.2,3204.6 1989.7,3203.8 1981.8,3203.5 1973.5,3204 1965.3,3205.4 1957.7,3207.3 1950.4,3209.8 1943.3,3212.8 1936.4,3216.2 1929.5,3220.4 1922.5,3225.6 1915.7,3232.3 1909.9,3240.4 1905.9,3249 1903.2,3257.4 1901.6,3265.6 1900.7,3273.8 1900.8,3282.3 1902.2,3291.4 1905.2,3300.6 1909.8,3308.9 1915.4,3315.9 1921.7,3321.9 1928.5,3326.9 1935.9,3331 1943.9,3334.1 1952,3336.1 1959.9,3336.9 1967.4,3337 1974.4,3336.5 1981.3,3335.7 1988,3334.6 1994.5,3333.3 2001.3,3331.6 2008.2,3329.5 2014.9,3326.7 2021,3323.7 2026.7,3320.8 2031.9,3317.7 2036.8,3314.7 2041.3,3311.9 2045.4,3309.6 2049.7,3307.7 2054.5,3306.4 2059.5,3305.3 2064.6,3304.8 2069.5,3304.9 2074.1,3305.7 2078.2,3307.3 2081.4,3310.1 2083.9,3313.8 2086.5,3318.3 2089.3,3323.2 2092.2,3328.5 2095.1,3334 2097.7,3339.5 2099.9,3345.1 2100.9,3344.9 2099.5,3339 2098.9,3333 2098.9,3326.8 2098.8,3320.5 2098.1,3314 2096.2,3307.3 2092.2,3301 2086.7,3295.5 2080.3,3291.5 2073.5,3288.7 2066.5,3286.9 2059.6,3285.8 2052.7,3285.3 2045.5,3285.3 2038.2,3286.4 2031.2,3288.3 2024.9,3290.7 2019.1,3293.3 2013.7,3296 2008.7,3298.5 2004,3300.6 1999.4,3302.1 1994.7,3303.1 1989.7,3303.6 1984.4,3303.9 1979.1,3303.9 1974,3303.6 1969.1,3303 1964.5,3302.1 1960.6,3300.9 1957.4,3299.3 1954.5,3297.3 1951.8,3294.9 1949.4,3292.3 1947.4,3289.5 1945.9,3286.8 1945.1,3284.5 1944.7,3282.3 1944.6,3279.4 1944.6,3276 1945.1,3272.3 1945.8,3268.7 1946.9,3265.7 1948,3263.5 1949.3,3261.9 1951.2,3260.4 1954.1,3258.7 1957.6,3256.9 1961.5,3255.3 1965.7,3253.9 1969.8,3252.9 1973.8,3252.1 1977.6,3251.8 1981.3,3251.9 1985.3,3252.3 1989.8,3253.1 1994.5,3254.1 1999.5,3255.3 2004.7,3256.8 2009.8,3258.2 2014.5,3259.7 2018.7,3261.3 2023.1,3263.3 2027.9,3265.7 2033.2,3268.4 2038.9,3271.3 2045.2,3274.3 2052.1,3277.2 2059.1,3279.6 2065.9,3281.5 2072.3,3283.2 2078.7,3284.7 2085.4,3286.1 2092.1,3287.3 2099.2,3288.3 2106.5,3289 2114.2,3289.2 2122.3,3288.9 2130.7,3287.8 2138.8,3285.9 2146.5,3283.4 2153.5,3280.6 2160,3277.6 2165.9,3274.6 2171.4,3271.7 2176.7,3269 2182.1,3266.2 2187.9,3263.1 2193.8,3259.6 2199.4,3256.1 2204.6,3252.8 2209.5,3249.6 2214.1,3246.7 2218.3,3244.1 2222.3,3242 2226.1,3240.3 2230.2,3238.8 2234.6,3237.5 2239.1,3236.3 2243.5,3235.4 2248,3234.8 2252.6,3234.4 2257.2,3234.2 2261.6,3234.3 2265.6,3234.6 2269.6,3235.3 2273.9,3236.3 2278.8,3237.7 2284.2,3239.4 2290.1,3241.3 2296.5,3243.2 2303.4,3245 2310.7,3246.5 2317.7,3247.5 2324.3,3248.3 2330.5,3249 2336.8,3249.6 2343.4,3250.1 2350.1,3250.5 2357.1,3250.6 2364.4,3250.5 2372.1,3249.9 2380.2,3248.7 2388.7,3246.5 2397,3243.4 2404.7,3239.5 2411.7,3235.1 2418.1,3230.2 2423.9,3225.2 2429.2,3220 2434.1,3214.6 2438.5,3209.2 2442.9,3203.3 2447.2,3196.9 2451.1,3189.9 2454.2,3182.9 2456.8,3176.2 2458.9,3169.8 2460.8,3163.8 2462.6,3158.2 2464.3,3152.8 2466.3,3147.4 2468.4,3141.6 2470.5,3135.7 2472.5,3129.8 2475.6,3124.5 2479.8,3119.7 2484.3,3115.3 2488.2,3110.9 2490.6,3106.2 2493.2,3101.8 2496.3,3097.9 2499.5,3094 2502.7,3089.9 2505.2,3085.2 2506,3079.3 2506.1,3072.7 2507.1,3066.3 2508.6,3060.1 2503.3,3049.7 2500.6,3041.1"/></clipPath><g clip-path="url(#c12)"><polygon points="2469.9,3137.4 2457.7,3135.7 2445.5,3133.9 2433.4,3132 2421.2,3130 2412.9,3151.5 2425.4,3153.3 2437.8,3155 2450.2,3156.6 2462.5,3158.4" fill="#5fc681"/><polygon points="2448,3195.6 2435.6,3191.4 2423.5,3186.5 2411.7,3180.9 2400.1,3174.7 2387.2,3188.3 2397.3,3196.7 2407.9,3204.6 2418.9,3212 2430.2,3218.9" fill="#5fc681"/><polygon points="2388,3246.7 2381.3,3235.1 2375.7,3223 2371.1,3210.6 2367.4,3197.9 2348.3,3198 2349.8,3211.2 2351.7,3224.3 2353.9,3237.5 2356.5,3250.6" fill="#5fc681"/><polygon points="2314.8,3247.2 2314.1,3233.7 2313.9,3220.3 2314.3,3206.9 2315.3,3193.6 2293.4,3186.7 2292.1,3200.2 2290.5,3213.6 2288.8,3227 2287.2,3240.4" fill="#5fc681"/><polygon points="2257.7,3234.2 2255.5,3220.9 2252.8,3207.6 2249.5,3194.4 2245.5,3181.3 2215.6,3187.1 2222.3,3199.1 2228.4,3211.3 2234,3223.8 2239,3236.3" fill="#5fc681"/><polygon points="2211.7,3248.1 2202.6,3238 2193.3,3227.9 2183.9,3217.9 2174.4,3208 2155,3219.4 2163.5,3230.2 2172,3241 2180.8,3251.6 2189.9,3262" fill="#5fc681"/><polygon points="2151.6,3281.4 2143.8,3270.2 2136.5,3258.7 2130,3246.9 2124.3,3234.8 2108.9,3236.8 2110.4,3249.9 2112.7,3263 2115.6,3276.1 2119.5,3289.1" fill="#5fc681"/><polygon points="2073.2,3283.4 2073.5,3270.3 2074.1,3257.3 2074.9,3244.3 2076,3231.5 2058.5,3224.9 2055.2,3237.2 2052,3249.6 2049.2,3262.2 2046.8,3275" fill="#5fc681"/><polygon points="2014.6,3259.7 2016.6,3247.2 2018,3234.6 2019,3221.9 2019.7,3209.2 1993.8,3204.2 1995.1,3216.7 1995.7,3229.2 1995.8,3241.8 1995.6,3254.3" fill="#5fc681"/><polygon points="1969.9,3252.8 1964.8,3242 1959.1,3231.5 1952.7,3221.4 1945.8,3211.6 1921.2,3226.8 1931.1,3233.2 1940,3240.7 1948.2,3248.9 1955.7,3257.8" fill="#5fc681"/><polygon points="1945.7,3269.4 1934.5,3268.8 1923.3,3269.1 1912,3270.4 1900.8,3272.7 1906.2,3302.7 1914.7,3295.3 1924,3289.2 1934,3284.5 1944.6,3281.1" fill="#5fc681"/><polygon points="1952.3,3295.4 1948.3,3304.7 1945.3,3314.2 1943.4,3323.9 1942.7,3333.7 1965.1,3337 1963,3328.3 1961.4,3319.4 1960.6,3310.2 1960.7,3300.9" fill="#5fc681"/><polygon points="1983.4,3303.9 1986.5,3311.5 1990,3318.7 1993.7,3325.8 1997.7,3332.5 2013.2,3327.5 2008,3321.9 2003.3,3316 1999,3309.7 1995.1,3303" fill="#5fc681"/><polygon points="2012.4,3296.6 2017.8,3301.7 2023.3,3306.7 2028.7,3311.6 2034,3316.5 2043.3,3310.7 2039.1,3305.8 2034.4,3301 2029.2,3296.1 2023.8,3291.2" fill="#5fc681"/><polygon points="2048.6,3285.2 2052.1,3290.6 2055.1,3295.7 2057.8,3300.6 2060,3305.3 2067.6,3304.8 2066.1,3300.4 2064.2,3295.7 2061.8,3290.9 2059.1,3285.7" fill="#5fc681"/><polygon points="2076,3289.6 2077.4,3294.5 2078.3,3299.1 2078.6,3303.4 2078.3,3307.4 2082.6,3311.5 2084.2,3307.8 2085.2,3303.7 2085.5,3299.3 2085.2,3294.5" fill="#5fc681"/><polygon points="2096.1,3307.2 2094,3311.4 2091.9,3315.1 2089.9,3318.4 2088.3,3321.4 2092.4,3328.8 2093.1,3326 2094.4,3323.1 2096.2,3319.9 2098.4,3316.5" fill="#5fc681"/><path d="M2476.6 3126.2Q2472.7 3126.6 2470.7 3124.2Q2468.7 3121.8 2469.2 3117.5Q2469.7 3113.3 2472.4 3108.9Q2475.1 3104.6 2479.1 3102Q2483 3099.5 2487.6 3100Q2492.1 3100.4 2495.2 3103.2Q2498.2 3106 2498.8 3110Q2499.5 3114 2495.5 3117.5Q2491.4 3121 2486 3123.5Q2480.5 3125.9 2476.6 3126.2Z" fill="#f7a8c4"/></g><path d="M2476.4 3087.8Q2474.1 3087.7 2472.6 3085.9Q2471.2 3084.2 2471.5 3081.9Q2471.8 3079.5 2473.7 3078Q2475.6 3076.5 2478 3076.7Q2480.4 3077 2481.9 3078.8Q2483.3 3080.7 2483 3082.9Q2482.6 3085.2 2480.7 3086.6Q2478.8 3088 2476.4 3087.8Z" fill="#0b0f0c"/><path d="M2452.3 3080.8Q2450 3080.9 2448.5 3079Q2447 3077.2 2447.1 3074.4Q2447.2 3071.6 2448.9 3069.7Q2450.6 3067.7 2453 3067.8Q2455.3 3067.9 2456.8 3069.8Q2458.3 3071.8 2458.1 3074.4Q2457.9 3077 2456.2 3078.8Q2454.5 3080.7 2452.3 3080.8Z" fill="#0b0f0c"/>
<!-- ladder K --><g transform="translate(3213 2952) rotate(12.5)"><rect x="-23.3" y="17.1" width="47" height="5.2" rx="2.3" fill="#e8965c"/><rect x="-23.3" y="17.1" width="47" height="4.1" rx="2.1" fill="#a65f33"/><rect x="-23.3" y="45.8" width="47" height="5.2" rx="2.3" fill="#e8965c"/><rect x="-23.3" y="45.8" width="47" height="4.1" rx="2.1" fill="#a65f33"/><rect x="-23.3" y="74.5" width="47" height="5.2" rx="2.3" fill="#e8965c"/><rect x="-23.3" y="74.5" width="47" height="4.1" rx="2.1" fill="#a65f33"/><rect x="-23.3" y="103.2" width="47" height="5.2" rx="2.3" fill="#e8965c"/><rect x="-23.3" y="103.2" width="47" height="4.1" rx="2.1" fill="#a65f33"/><rect x="-23.3" y="131.9" width="47" height="5.2" rx="2.3" fill="#e8965c"/><rect x="-23.3" y="131.9" width="47" height="4.1" rx="2.1" fill="#a65f33"/><rect x="-23.3" y="160.7" width="47" height="5.2" rx="2.3" fill="#e8965c"/><rect x="-23.3" y="160.7" width="47" height="4.1" rx="2.1" fill="#a65f33"/><rect x="-23.3" y="189.4" width="47" height="5.2" rx="2.3" fill="#e8965c"/><rect x="-23.3" y="189.4" width="47" height="4.1" rx="2.1" fill="#a65f33"/><rect x="-23.3" y="218.1" width="47" height="5.2" rx="2.3" fill="#e8965c"/><rect x="-23.3" y="218.1" width="47" height="4.1" rx="2.1" fill="#a65f33"/><rect x="-23.3" y="246.8" width="47" height="5.2" rx="2.3" fill="#e8965c"/><rect x="-23.3" y="246.8" width="47" height="4.1" rx="2.1" fill="#a65f33"/><rect x="-23.3" y="275.6" width="47" height="5.2" rx="2.3" fill="#e8965c"/><rect x="-23.3" y="275.6" width="47" height="4.1" rx="2.1" fill="#a65f33"/><rect x="-30.7" y="0" width="9.3" height="297.8" rx="2" fill="#5a3a26"/><rect x="-24.7" y="2.8" width="2.8" height="293.2" rx="1.3" fill="#a65f33"/><rect x="21.4" y="0" width="9.3" height="297.8" rx="2" fill="#5a3a26"/><rect x="27.3" y="2.8" width="2.8" height="293.2" rx="1.3" fill="#a65f33"/></g>
<g transform="translate(1180 220) scale(0.1656)"><polygon points="205,650 560,290 1130,370 1370,410 1650,700 1480,880 890,1300 560,950" fill="#f4f0ea" stroke="#8d7d6e" stroke-width="4" stroke-linejoin="round"/><polygon points="560,950 330,720 620,380 1120,420 1350,470 1500,700 1380,1000 900,1100" fill="#cfc6bd"/><path d="M520 225 Q640 120 770 190 L720 300 L600 290Z" fill="#dbe37c" stroke="#b8c25a" stroke-width="4"/><rect x="0" y="-35" width="291.5" height="70" rx="10" fill="#f9c04a" transform="translate(900 440) rotate(-67.8)" stroke="#d9861c" stroke-width="6"/><rect x="0" y="-31" width="241.7" height="62" rx="10" fill="#f9c04a" transform="translate(740 450) rotate(-65.6)" stroke="#d9861c" stroke-width="6"/><rect x="0" y="-31" width="170" height="62" rx="10" fill="#f9c04a" transform="translate(820 440) rotate(-61.9)" stroke="#d9861c" stroke-width="6"/><rect x="0" y="-44" width="265.2" height="88" rx="10" fill="#f9c04a" transform="translate(660 460) rotate(-87.8)" stroke="#d9861c" stroke-width="6"/><rect x="0" y="-30" width="178" height="60" rx="10" fill="#f9c04a" transform="translate(470 440) rotate(-38.2)" stroke="#d9861c" stroke-width="6"/><rect x="0" y="-27.5" width="111.8" height="55" rx="10" fill="#f9c04a" transform="translate(980 400) rotate(-63.4)" stroke="#d9861c" stroke-width="6"/><rect x="0" y="-27.5" width="84.9" height="55" rx="10" fill="#f9c04a" transform="translate(560 420) rotate(-45)" stroke="#d9861c" stroke-width="6"/><rect x="0" y="-33" width="263.9" height="66" rx="10" fill="#f9c651" transform="translate(600 500) rotate(-9.8)" stroke="#d9861c" stroke-width="6"/><rect x="0" y="-33" width="447.2" height="66" rx="10" fill="#f9c651" transform="translate(370 320) rotate(63.4)" stroke="#d9861c" stroke-width="6"/><rect x="0" y="-33" width="288.1" height="66" rx="10" fill="#f9c651" transform="translate(500 425) rotate(51.3)" stroke="#d9861c" stroke-width="6"/><rect x="0" y="-35" width="362.4" height="70" rx="10" fill="#f9c651" transform="translate(280 590) rotate(39.4)" stroke="#d9861c" stroke-width="6"/><rect x="0" y="-27.5" width="103" height="55" rx="10" fill="#f9c651" transform="translate(390 530) rotate(60.9)" stroke="#d9861c" stroke-width="6"/><polygon points="1050,690 1200,1010 1110,1100 900,1070 830,980" fill="#f0902c" stroke="#d4601f" stroke-width="16" stroke-linejoin="round"/><rect x="0" y="-145" width="626.4" height="290" rx="110" fill="#f49c35" transform="translate(1215 425) rotate(73.3)" stroke="#d9611f" stroke-width="14"/><rect x="0" y="-70" width="329.8" height="140" rx="70" fill="#f8b54a" transform="translate(1265 560) rotate(76)"/><rect x="0" y="-160" width="750.5" height="320" rx="140" fill="#f49c35" transform="translate(545 880) rotate(-32.2)" stroke="#d9611f" stroke-width="14"/><rect x="0" y="-80" width="449.4" height="160" rx="80" fill="#f9b84e" transform="translate(680 760) rotate(-32.3)"/></g>
<g transform="translate(1170 660) scale(0.1708)"><clipPath id="ccrowd"><rect x="100" y="40" width="1760" height="865"/></clipPath><g clip-path="url(#ccrowd)"><rect x="125" y="420" width="205" height="360" rx="60" fill="#8cc5ea"/><ellipse cx="240" cy="330" rx="72" ry="140" fill="#062c48"/><path d="M175 330 Q190 520 250 565 Q240 440 300 330Z" fill="#062c48"/><rect x="380" y="360" width="240" height="360" rx="60" fill="#b08c72"/><rect x="452" y="273" width="56" height="75" fill="#f2b28f"/><ellipse cx="480" cy="235" rx="72" ry="78" fill="#062c48"/><circle cx="368" cy="212" r="42" fill="#062c48"/><rect x="590" y="430" width="170" height="300" rx="60" fill="#32bdb9"/><rect x="637" y="355" width="56" height="75" fill="#f2b28f"/><ellipse cx="665" cy="300" rx="75" ry="95" fill="#974a70"/><rect x="715" y="285" width="215" height="245" rx="60" fill="#1b8c82"/><rect x="772" y="233" width="56" height="75" fill="#f2b28f"/><ellipse cx="800" cy="185" rx="82" ry="88" fill="#8c334a"/><rect x="860" y="420" width="230" height="360" rx="60" fill="#8cc5ea"/><rect x="927" y="370" width="56" height="75" fill="#f2b28f"/><ellipse cx="955" cy="320" rx="75" ry="90" fill="#e35c4c"/><path d="M960 390 Q1040 430 1010 590 Q960 520 975 420Z" fill="#e35c4c"/><rect x="1030" y="310" width="210" height="330" rx="90" fill="#df3560"/><ellipse cx="1130" cy="235" rx="72" ry="115" fill="#062c48"/><path d="M1120 260 L1200 250 L1205 330Z" fill="#062c48"/><rect x="1250" y="295" width="230" height="345" rx="60" fill="#b08c72"/><rect x="1312" y="235" width="56" height="75" fill="#f2b28f"/><ellipse cx="1340" cy="175" rx="88" ry="100" fill="#e35c4c"/><rect x="1500" y="470" width="245" height="290" rx="60" fill="#32bdb9"/><rect x="1572" y="405" width="56" height="75" fill="#f2b28f"/><ellipse cx="1600" cy="345" rx="92" ry="100" fill="#974a70"/><rect x="1200" y="500" width="200" height="320" rx="60" fill="#f9b94b"/><rect x="1267" y="455" width="56" height="75" fill="#f2b28f"/><ellipse cx="1295" cy="400" rx="80" ry="95" fill="#062c48"/><ellipse cx="540" cy="600" rx="95" ry="170" fill="#e35c4c"/><rect x="1560" y="600" width="250" height="385" rx="60" fill="#8cc5ea"/><rect x="1612" y="545" width="56" height="75" fill="#f2b28f"/><ellipse cx="1640" cy="490" rx="90" ry="95" fill="#062c48"/><rect x="1295" y="650" width="320" height="335" rx="60" fill="#dcb8a0"/><rect x="1400" y="610" width="90" height="70" rx="15" fill="#dcb8a0"/><ellipse cx="1440" cy="545" rx="75" ry="85" fill="#e35c4c"/><circle cx="1450" cy="468" r="50" fill="#e35c4c"/><path d="M115 905 L115 800 Q130 700 290 610 L390 610 Q560 690 580 905Z" fill="#062c48"/><rect x="285" y="560" width="95" height="60" fill="#1b8c82"/><rect x="292" y="525" width="56" height="75" fill="#f2b28f"/><ellipse cx="320" cy="465" rx="92" ry="100" fill="#8c334a"/><rect x="590" y="610" width="420" height="375" rx="80" fill="#f4567d"/><rect x="777" y="530" width="56" height="75" fill="#f2b28f"/><ellipse cx="805" cy="470" rx="80" ry="100" fill="#062c48"/><path d="M965 905 Q960 740 1040 705 L1250 705 Q1310 760 1300 905Z" fill="#062c48"/><path d="M1050 705 Q1140 900 1240 705Z" fill="#f2b28f"/><ellipse cx="1130" cy="540" rx="70" ry="68" fill="#974a70"/><path d="M1105 560 Q1100 760 1150 875 Q1215 740 1185 545Z" fill="#974a70"/></g></g>
<g transform="translate(1900 580) scale(0.1035)"><circle cx="1270" cy="640" r="265" fill="#09a8b8"/><line x1="1270" y1="640" x2="1696.3" y2="748.9" stroke="#09a8b8" stroke-width="32.2"/><circle cx="1696.3" cy="748.9" r="46" fill="#09a8b8"/><line x1="1270" y1="640" x2="1526.6" y2="997.4" stroke="#09a8b8" stroke-width="32.2"/><circle cx="1526.6" cy="997.4" r="46" fill="#09a8b8"/><line x1="1270" y1="640" x2="1236.8" y2="1078.7" stroke="#09a8b8" stroke-width="32.2"/><circle cx="1236.8" cy="1078.7" r="46" fill="#09a8b8"/><line x1="1270" y1="640" x2="962.6" y2="954.8" stroke="#09a8b8" stroke-width="32.2"/><circle cx="962.6" cy="954.8" r="46" fill="#09a8b8"/><line x1="1270" y1="640" x2="832.2" y2="683.5" stroke="#09a8b8" stroke-width="32.2"/><circle cx="832.2" cy="683.5" r="46" fill="#09a8b8"/><line x1="1270" y1="640" x2="906.6" y2="391.9" stroke="#09a8b8" stroke-width="32.2"/><circle cx="906.6" cy="391.9" r="46" fill="#09a8b8"/><line x1="1270" y1="640" x2="1151.1" y2="216.4" stroke="#09a8b8" stroke-width="32.2"/><circle cx="1151.1" cy="216.4" r="46" fill="#09a8b8"/><line x1="1270" y1="640" x2="1451.2" y2="239.1" stroke="#09a8b8" stroke-width="32.2"/><circle cx="1451.2" cy="239.1" r="46" fill="#09a8b8"/><line x1="1270" y1="640" x2="1666.6" y2="449.4" stroke="#09a8b8" stroke-width="32.2"/><circle cx="1666.6" cy="449.4" r="46" fill="#09a8b8"/><circle cx="620" cy="840" r="215" fill="#1fc0d4"/><line x1="620" y1="840" x2="978.3" y2="950.8" stroke="#1fc0d4" stroke-width="25.2"/><circle cx="978.3" cy="950.8" r="36" fill="#1fc0d4"/><line x1="620" y1="840" x2="844.7" y2="1140.2" stroke="#1fc0d4" stroke-width="25.2"/><circle cx="844.7" cy="1140.2" r="36" fill="#1fc0d4"/><line x1="620" y1="840" x2="625.3" y2="1215" stroke="#1fc0d4" stroke-width="25.2"/><circle cx="625.3" cy="1215" r="36" fill="#1fc0d4"/><line x1="620" y1="840" x2="403.9" y2="1146.5" stroke="#1fc0d4" stroke-width="25.2"/><circle cx="403.9" cy="1146.5" r="36" fill="#1fc0d4"/><line x1="620" y1="840" x2="265" y2="960.9" stroke="#1fc0d4" stroke-width="25.2"/><circle cx="265" cy="960.9" r="36" fill="#1fc0d4"/><line x1="620" y1="840" x2="261.7" y2="729.2" stroke="#1fc0d4" stroke-width="25.2"/><circle cx="261.7" cy="729.2" r="36" fill="#1fc0d4"/><line x1="620" y1="840" x2="395.3" y2="539.8" stroke="#1fc0d4" stroke-width="25.2"/><circle cx="395.3" cy="539.8" r="36" fill="#1fc0d4"/><line x1="620" y1="840" x2="614.7" y2="465" stroke="#1fc0d4" stroke-width="25.2"/><circle cx="614.7" cy="465" r="36" fill="#1fc0d4"/><line x1="620" y1="840" x2="836.1" y2="533.5" stroke="#1fc0d4" stroke-width="25.2"/><circle cx="836.1" cy="533.5" r="36" fill="#1fc0d4"/><line x1="620" y1="840" x2="975" y2="719.1" stroke="#1fc0d4" stroke-width="25.2"/><circle cx="975" cy="719.1" r="36" fill="#1fc0d4"/><circle cx="1390" cy="1130" r="150" fill="#1fc0d4"/><line x1="1390" y1="1130" x2="1643.7" y2="1155.5" stroke="#1fc0d4" stroke-width="17.5"/><circle cx="1643.7" cy="1155.5" r="25" fill="#1fc0d4"/><line x1="1390" y1="1130" x2="1597" y2="1278.9" stroke="#1fc0d4" stroke-width="17.5"/><circle cx="1597" cy="1278.9" r="25" fill="#1fc0d4"/><line x1="1390" y1="1130" x2="1494.8" y2="1362.5" stroke="#1fc0d4" stroke-width="17.5"/><circle cx="1494.8" cy="1362.5" r="25" fill="#1fc0d4"/><line x1="1390" y1="1130" x2="1364.5" y2="1383.7" stroke="#1fc0d4" stroke-width="17.5"/><circle cx="1364.5" cy="1383.7" r="25" fill="#1fc0d4"/><line x1="1390" y1="1130" x2="1241.1" y2="1337" stroke="#1fc0d4" stroke-width="17.5"/><circle cx="1241.1" cy="1337" r="25" fill="#1fc0d4"/><line x1="1390" y1="1130" x2="1157.5" y2="1234.8" stroke="#1fc0d4" stroke-width="17.5"/><circle cx="1157.5" cy="1234.8" r="25" fill="#1fc0d4"/><line x1="1390" y1="1130" x2="1136.3" y2="1104.5" stroke="#1fc0d4" stroke-width="17.5"/><circle cx="1136.3" cy="1104.5" r="25" fill="#1fc0d4"/><line x1="1390" y1="1130" x2="1183" y2="981.1" stroke="#1fc0d4" stroke-width="17.5"/><circle cx="1183" cy="981.1" r="25" fill="#1fc0d4"/><line x1="1390" y1="1130" x2="1285.2" y2="897.5" stroke="#1fc0d4" stroke-width="17.5"/><circle cx="1285.2" cy="897.5" r="25" fill="#1fc0d4"/><line x1="1390" y1="1130" x2="1415.5" y2="876.3" stroke="#1fc0d4" stroke-width="17.5"/><circle cx="1415.5" cy="876.3" r="25" fill="#1fc0d4"/><line x1="1390" y1="1130" x2="1538.9" y2="923" stroke="#1fc0d4" stroke-width="17.5"/><circle cx="1538.9" cy="923" r="25" fill="#1fc0d4"/><line x1="1390" y1="1130" x2="1622.5" y2="1025.2" stroke="#1fc0d4" stroke-width="17.5"/><circle cx="1622.5" cy="1025.2" r="25" fill="#1fc0d4"/><circle cx="700" cy="1390" r="125" fill="#09a8b8"/><line x1="700" y1="1390" x2="920.5" y2="1434.7" stroke="#09a8b8" stroke-width="15.4"/><circle cx="920.5" cy="1434.7" r="22" fill="#09a8b8"/><line x1="700" y1="1390" x2="861.3" y2="1546.8" stroke="#09a8b8" stroke-width="15.4"/><circle cx="861.3" cy="1546.8" r="22" fill="#09a8b8"/><line x1="700" y1="1390" x2="750.9" y2="1609.2" stroke="#09a8b8" stroke-width="15.4"/><circle cx="750.9" cy="1609.2" r="22" fill="#09a8b8"/><line x1="700" y1="1390" x2="624.4" y2="1601.9" stroke="#09a8b8" stroke-width="15.4"/><circle cx="624.4" cy="1601.9" r="22" fill="#09a8b8"/><line x1="700" y1="1390" x2="521.8" y2="1527.4" stroke="#09a8b8" stroke-width="15.4"/><circle cx="521.8" cy="1527.4" r="22" fill="#09a8b8"/><line x1="700" y1="1390" x2="475.8" y2="1409.2" stroke="#09a8b8" stroke-width="15.4"/><circle cx="475.8" cy="1409.2" r="22" fill="#09a8b8"/><line x1="700" y1="1390" x2="501" y2="1285" stroke="#09a8b8" stroke-width="15.4"/><circle cx="501" cy="1285" r="22" fill="#09a8b8"/><line x1="700" y1="1390" x2="589.4" y2="1194.1" stroke="#09a8b8" stroke-width="15.4"/><circle cx="589.4" cy="1194.1" r="22" fill="#09a8b8"/><line x1="700" y1="1390" x2="712.9" y2="1165.4" stroke="#09a8b8" stroke-width="15.4"/><circle cx="712.9" cy="1165.4" r="22" fill="#09a8b8"/><line x1="700" y1="1390" x2="832.3" y2="1208" stroke="#09a8b8" stroke-width="15.4"/><circle cx="832.3" cy="1208" r="22" fill="#09a8b8"/><line x1="700" y1="1390" x2="909.7" y2="1308.4" stroke="#09a8b8" stroke-width="15.4"/><circle cx="909.7" cy="1308.4" r="22" fill="#09a8b8"/><rect x="700" y="585" width="550" height="850" rx="70" fill="#f4f7f9"/><path d="M790 560 H1160 V640 Q1165 700 1225 740 V1380 Q1225 1415 1190 1415 H760 Q725 1415 725 1380 V740 Q785 700 790 640Z" fill="#c5dbe3"/><rect x="735" y="435" width="480" height="150" rx="18" fill="#8f9daa"/><rect x="735" y="548" width="480" height="37" rx="10" fill="#5f7480"/><rect x="740" y="800" width="465" height="110" fill="#1fc0d4"/><rect x="740" y="910" width="465" height="140" fill="#0a8f8f"/><rect x="740" y="1050" width="465" height="240" fill="#ffffff"/><path d="M740 1290 H1205 V1345 Q1205 1380 1170 1380 H775 Q740 1380 740 1345Z" fill="#1fc0d4"/><text x="972" y="1012" font-family="'Liberation Sans',sans-serif" font-weight="700" font-size="84" fill="#e8fbfb" text-anchor="middle" textLength="400" lengthAdjust="spacingAndGlyphs">VACCINE</text><rect x="865" y="1095" width="225" height="22" fill="#666"/><rect x="785" y="1152" width="170" height="14" fill="#666"/><rect x="1005" y="1152" width="165" height="14" fill="#666"/><rect x="795" y="1185" width="370" height="14" fill="#666"/><rect x="895" y="1218" width="165" height="14" fill="#666"/></g>
<g transform="translate(3190 220) scale(0.1242)"><ellipse cx="960" cy="1610" rx="755" ry="135" fill="#bcc0a5"/><rect x="600" y="285" width="770" height="1135" rx="55" fill="#68b692"/><rect x="660" y="355" width="650" height="1100" fill="#f8f8fa"/><polygon points="890,160 1085,160 1170,270 820,270" fill="#68b692"/><rect x="820" y="270" width="350" height="130" fill="#2b9278"/><circle cx="992" cy="212" r="21" fill="#f6f7d8"/><text x="997" y="488" font-family="'Liberation Sans',sans-serif" font-weight="700" font-size="88" fill="#68b692" text-anchor="middle" textLength="455" lengthAdjust="spacingAndGlyphs">DIET PLAN</text><rect x="728" y="523" width="135" height="130" fill="#68b692"/><rect x="930" y="525" width="305" height="24" fill="#b5b1ba"/><rect x="930" y="573" width="305" height="24" fill="#b5b1ba"/><rect x="930" y="620" width="305" height="24" fill="#b5b1ba"/><rect x="728" y="733" width="135" height="130" fill="#68b692"/><rect x="930" y="735" width="305" height="24" fill="#b5b1ba"/><rect x="930" y="783" width="305" height="24" fill="#b5b1ba"/><rect x="930" y="830" width="305" height="24" fill="#b5b1ba"/><rect x="728" y="942" width="135" height="130" fill="#68b692"/><rect x="930" y="944" width="305" height="24" fill="#b5b1ba"/><rect x="930" y="992" width="305" height="24" fill="#b5b1ba"/><rect x="930" y="1039" width="305" height="24" fill="#b5b1ba"/><rect x="728" y="1150" width="135" height="130" fill="#68b692"/><rect x="930" y="1152" width="305" height="24" fill="#b5b1ba"/><rect x="930" y="1200" width="305" height="24" fill="#b5b1ba"/><rect x="930" y="1247" width="305" height="24" fill="#b5b1ba"/><ellipse cx="580" cy="478" rx="104" ry="108" fill="#4a2d35"/><rect x="555" y="540" width="60" height="90" fill="#f7b685"/><ellipse cx="585" cy="492" rx="62" ry="80" fill="#f7b685"/><path d="M450 1080 H700 L645 1595 H590 L575 1180 L530 1595 H478Z" fill="#0fa596"/><path d="M478 1595 H530 L520 1640 Q470 1690 430 1660Z" fill="#0d3b3e"/><path d="M590 1595 H645 L690 1660 Q650 1690 600 1640Z" fill="#0d3b3e"/><path d="M500 610 L560 590 L610 590 L680 615 Q770 640 800 700 L820 640 L850 660 L800 800 Q760 860 720 860 L700 800 L712 1075 Q580 1140 435 1075 L490 800 L420 860 Q360 840 290 735 L300 700 Q380 760 410 740Z" fill="#f8f8fa"/><path d="M510 610 L560 590 L585 740 L610 590 L655 610 L560 850Z" fill="#12a090"/><path d="M560 600 L610 600 L588 720Z" fill="#ffffff"/><path d="M780 640 Q760 580 800 570 Q850 560 870 600 L850 660Z" fill="#f7b685"/><circle cx="205" cy="585" r="52" fill="#b5dd8f"/><circle cx="275" cy="585" r="48" fill="#2f8a3a"/><circle cx="325" cy="590" r="40" fill="#7dc46a"/><circle cx="240" cy="620" r="20" fill="#e2312b"/><path d="M130 625 H380 Q370 705 255 712 Q140 705 130 625Z" fill="#1f6fb5"/><ellipse cx="255" cy="628" rx="125" ry="14" fill="#174f86"/><ellipse cx="1290" cy="1425" rx="78" ry="150" fill="#33682a" transform="rotate(12 1290 1425)"/><ellipse cx="1240" cy="1420" rx="22" ry="34" fill="#4f8a3d" transform="rotate(12 1240 1420)"/><circle cx="1010" cy="1430" r="180" fill="#5fae4d"/><ellipse cx="1000" cy="1430" rx="150" ry="140" fill="#b5dc95"/><ellipse cx="1160" cy="1460" rx="60" ry="120" fill="#6dbb58" transform="rotate(-10 1160 1460)"/><polyline points="1000,1560 1000,1350 940,1310" fill="none" stroke="#e4f3d2" stroke-width="14" stroke-linecap="round" stroke-linejoin="round"/><polyline points="1000,1450 1090,1360" fill="none" stroke="#e4f3d2" stroke-width="12" stroke-linecap="round" stroke-linejoin="round"/><polyline points="1000,1500 900,1430" fill="none" stroke="#e4f3d2" stroke-width="12" stroke-linecap="round" stroke-linejoin="round"/><circle cx="725" cy="1492" r="106" fill="#e2312b"/><circle cx="690" cy="1492" r="45" fill="#f76a63"/><path d="M650 1385 L720 1395 L790 1350 L750 1410 L700 1400Z" fill="#2f7a35"/><polygon points="690,1585 800,1600 790,1640 700,1650" fill="#5aa84a"/><path d="M790 1600 Q830 1535 930 1545 L1290 1580 Q1300 1592 1285 1600 L920 1685 Q810 1690 790 1600Z" fill="#f4883c"/></g>
<g transform="translate(3210 570) scale(0.1035)"><path d="M150 200 Q300 130 470 200 L440 860 Q520 960 500 1150 Q470 1280 330 1290 Q210 1300 190 1230 Q110 1120 130 1000 Q160 900 230 860Z" fill="#f9a88f"/><path d="M390 300 L460 300 L440 860 L330 860Z" fill="#f59a82"/><polyline points="230,1070 310,1100 380,1000 440,1080" fill="none" stroke="#c9633f" stroke-width="8" stroke-linecap="round" stroke-linejoin="round"/><polyline points="310,1100 250,1170" fill="none" stroke="#c9633f" stroke-width="8" stroke-linecap="round" stroke-linejoin="round"/><path d="M1400 570 Q1290 480 1300 380 Q1330 200 1420 160 Q1560 140 1680 250 Q1700 450 1650 540 L1610 600 L1650 1270 Q1500 1330 1330 1260Z" fill="#f9a88f"/><path d="M1560 640 L1640 640 L1650 1100 L1600 1100Z" fill="#f59a82"/><polyline points="1420,300 1470,380 1540,360 1580,440 1630,380" fill="none" stroke="#c9633f" stroke-width="8" stroke-linecap="round" stroke-linejoin="round"/><polyline points="1470,380 1420,330" fill="none" stroke="#c9633f" stroke-width="8" stroke-linecap="round" stroke-linejoin="round"/><path d="M320 760 Q300 240 580 250 Q730 260 755 555" stroke="#c62731" stroke-width="11" fill="none"/><path d="M1535 660 Q1560 1160 1290 1160 Q1120 1150 1105 1000" stroke="#c62731" stroke-width="11" fill="none"/><rect x="250" y="524" width="125" height="36" fill="#fdf3f1"/><rect x="257.7" y="634" width="125" height="36" fill="#fdf3f1"/><rect x="265.4" y="744" width="125" height="36" fill="#fdf3f1"/><rect x="1455" y="637" width="125" height="36" fill="#fdf3f1"/><rect x="1462.7" y="747" width="125" height="36" fill="#fdf3f1"/><rect x="1470.4" y="857" width="125" height="36" fill="#fdf3f1"/><path d="M930 1160 L640 900 Q520 720 600 600 Q700 460 850 540 L930 610 L1010 540 Q1160 460 1260 600 Q1340 720 1220 900Z" fill="#fdf0ee" stroke="#fdf0ee" stroke-width="60" stroke-linejoin="round"/><clipPath id="chrt"><path d="M930 1160 L640 900 Q520 720 600 600 Q700 460 850 540 L930 610 L1010 540 Q1160 460 1260 600 Q1340 720 1220 900Z"/></clipPath><g clip-path="url(#chrt)"><rect x="500" y="400" width="900" height="800" fill="#e5c5c9"/><path d="M500 765 L1400 745 V1250 H500Z" fill="#e31b23"/><path d="M600 765 L1300 745 L1290 770 Q950 780 600 800Z" fill="#9c0f18"/></g><circle cx="762" cy="735" r="118" fill="#f6e3e6" opacity="0.55"/><circle cx="757" cy="558" r="24" fill="#ae1621"/></g>
<g transform="translate(560 910) scale(0.1242)"><path d="M470 230 Q650 230 660 420 L640 560 Q700 700 680 800 L640 860 L300 1000 L220 1050 Q90 950 110 800 Q130 700 150 600 Q200 330 330 270 Q400 230 470 230Z" fill="#e8937d"/><path d="M330 680 Q240 760 240 900 L300 1320 L860 1300 Q800 1100 700 950 L690 760 Q560 640 330 680Z" fill="#f9dcd6"/><path d="M225 900 L300 900 L330 1080 L600 1050 L680 880 L640 850 L470 890 L440 1060 L240 1080Z" fill="#68b5e4"/><path d="M440 880 Q560 900 680 850 Q700 960 610 1040 L470 1075Z" fill="#68b5e4"/><path d="M245 1165 L655 1140 L740 1305 L320 1325Z" fill="#68b5e4"/><path d="M330 700 Q270 800 300 1000 L360 1300 L560 1310 Q480 1150 480 1000 Q460 760 420 700Z" fill="#f9dcd6"/><path d="M450 560 L640 590 L600 760 L500 720Z" fill="#f9dcd6"/><path d="M420 430 Q440 320 560 300 L650 420 L670 500 L640 520 L650 590 Q560 620 470 580 Q400 520 420 430Z" fill="#f9dcd6"/><path d="M455 595 Q520 640 585 615 L560 660 Q500 650 455 595Z" fill="#2d2b5e"/><path d="M560 640 Q640 700 690 760 Q690 820 640 850 L560 800 Q520 700 560 640Z" fill="#e8937d"/><ellipse cx="360" cy="505" rx="32" ry="40" fill="#f9dcd6"/><polyline points="495,435 525,440 550,428" fill="none" stroke="#2d2b5e" stroke-width="5" stroke-linecap="round" stroke-linejoin="round"/><polyline points="600,520 635,505" fill="none" stroke="#2d2b5e" stroke-width="5" stroke-linecap="round" stroke-linejoin="round"/><path d="M1380 115 Q1580 130 1600 330 Q1590 480 1640 600 Q1760 760 1790 1150 Q1860 1200 1820 1260 Q1560 1340 1260 1290 Q1230 1200 1240 1000 Q1120 1060 1040 1040 Q900 900 810 680 L880 620 Q1000 740 1080 790 Q1150 680 1280 600 Q1200 480 1190 260 Q1250 120 1380 115Z" fill="#ffffff"/><path d="M1195 240 Q1260 260 1290 420 L1200 380Z" fill="#f6d9d4"/><path d="M1165 395 Q1200 360 1285 410 L1290 560 Q1240 590 1200 520 Q1160 460 1165 395Z" fill="#68b5e4"/><ellipse cx="1228" cy="335" rx="13" ry="20" fill="#2d2b5e"/><path d="M700 490 Q800 500 875 620 L815 675 Q740 640 700 560Z" fill="#68b5e4"/><path d="M945 545 Q1000 490 1090 525 Q1130 580 1100 615 L1010 625 Q960 600 945 545Z" fill="#68b5e4"/><rect x="0" y="-7" width="169.1" height="14" rx="7" fill="#fbfdff" transform="translate(968 500) rotate(77.4)"/><polyline points="655,487 700,497" fill="none" stroke="#ffffff" stroke-width="7" stroke-linecap="round" stroke-linejoin="round"/><polyline points="1165,695 1220,645 1285,610 1265,585" fill="none" stroke="#2d2b5e" stroke-width="5" stroke-linecap="round" stroke-linejoin="round"/><polyline points="1220,980 1290,920" fill="none" stroke="#2d2b5e" stroke-width="5" stroke-linecap="round" stroke-linejoin="round"/><polyline points="1795,1155 1730,1205 1725,1228 1760,1225" fill="none" stroke="#2d2b5e" stroke-width="6" stroke-linecap="round" stroke-linejoin="round"/></g>
<g transform="translate(1950 910) scale(0.0932)"><path d="M413 390 H697 V1620 Q697 1762 555 1762 Q413 1762 413 1620Z" fill="#d9eef7" stroke="#a9cfe8" stroke-width="8"/><path d="M445 905 H665 V1620 Q665 1735 555 1735 Q445 1735 445 1620Z" fill="#b2102a"/><path d="M445 1375 Q500 1400 530 1470 Q620 1490 665 1570 V1620 Q665 1735 555 1735 Q445 1735 445 1620Z" fill="#80081f"/><path d="M450 418 H662 L650 448 H462Z" fill="#7a1f1a"/><path d="M375 232 Q380 225 395 225 H715 Q730 228 728 245 L705 390 H400Z" fill="#9f3424"/><path d="M380 250 Q420 350 560 350 Q680 340 720 300 L705 390 H400Z" fill="#8a2a1e"/></g>
<g transform="translate(2560 880) scale(0.1242)"><path d="M820 180 Q1180 190 1320 520 Q1460 880 1400 1120 Q1300 1300 1130 1240 Q1000 1200 1000 1100 L300 1100 Q220 1080 230 980 Q260 560 420 330 Q560 180 820 180Z" fill="#2c3436"/><path d="M560 1290 Q800 1240 1010 1280 Q1100 1330 1110 1500 L1130 1740 H470 Q420 1740 430 1690 L450 1400 Q480 1310 560 1290Z" fill="#f36565"/><path d="M700 1130 L880 1130 L900 1320 Q800 1370 700 1310Z" fill="#fed3c0"/><path d="M330 700 Q400 560 620 600 Q900 640 1060 780 Q1100 900 1040 1020 Q960 1180 760 1200 Q520 1210 400 1100 Q300 980 330 700Z" fill="#fed3c0"/><path d="M340 700 Q420 580 620 610 Q880 650 1050 790 Q960 880 760 870 Q620 850 560 800 Q450 860 330 820Z" fill="#f9a992"/><ellipse cx="1170" cy="860" rx="90" ry="120" fill="#fed3c0" transform="rotate(15 1170 860)"/><path d="M1130 900 Q1140 840 1190 830 Q1160 870 1190 890Z" fill="#f9a992"/><ellipse cx="400" cy="1010" rx="110" ry="95" fill="#f9a992"/><ellipse cx="875" cy="1015" rx="125" ry="100" fill="#f9a992"/><path d="M380 600 Q420 400 560 330 Q900 260 1180 480 Q1260 620 1240 740 Q1100 800 980 750 Q760 700 600 640 L580 670 Q480 640 430 600 L380 700Z" fill="#2c3436"/><polyline points="415,815 450,795 480,815" fill="none" stroke="#2c3436" stroke-width="10" stroke-linecap="round" stroke-linejoin="round"/><polyline points="730,845 765,825 795,845" fill="none" stroke="#2c3436" stroke-width="10" stroke-linecap="round" stroke-linejoin="round"/><polyline points="440,725 460,735 480,722" fill="none" stroke="#2c3436" stroke-width="6" stroke-linecap="round" stroke-linejoin="round"/><polyline points="715,745 735,755 755,742" fill="none" stroke="#2c3436" stroke-width="6" stroke-linecap="round" stroke-linejoin="round"/><rect x="0" y="-20" width="80.6" height="40" rx="20" fill="#555d5e" transform="translate(690 450) rotate(60.3)"/><rect x="0" y="-19" width="76.2" height="38" rx="19" fill="#555d5e" transform="translate(760 470) rotate(66.8)"/><rect x="0" y="-19" width="66.7" height="38" rx="19" fill="#555d5e" transform="translate(1135 480) rotate(77)"/><rect x="0" y="-18" width="60.8" height="36" rx="18" fill="#555d5e" transform="translate(1195 490) rotate(80.5)"/><ellipse cx="630" cy="1050" rx="95" ry="120" fill="#c9584c" transform="rotate(-15 630 1050)"/><ellipse cx="585" cy="962" rx="58" ry="24" fill="#ffffff" transform="rotate(-8 585 962)"/><path d="M560 1050 Q640 1000 720 1060 Q700 1140 640 1160Z" fill="#e07262"/><ellipse cx="545" cy="1018" rx="26" ry="11" fill="#6ec3ea" transform="rotate(-10 545 1018)"/><ellipse cx="610" cy="1060" rx="26" ry="11" fill="#6ec3ea" transform="rotate(-30 610 1060)"/><ellipse cx="700" cy="1110" rx="26" ry="11" fill="#6ec3ea" transform="rotate(70 700 1110)"/><path d="M225 1170 Q300 1140 420 1150 Q500 1100 580 1080 Q640 1150 700 1200 L800 1280 L800 1420 L760 1500 L640 1480 Q560 1400 520 1300 L300 1400 L225 1400 Q240 1300 225 1170Z" fill="#e6ecf5"/><path d="M250 1310 L560 1230 L580 1330 L520 1430 Q440 1500 400 1720 Q330 1800 200 1760 Q130 1700 170 1620Z" fill="#fed3c0"/><path d="M170 1650 Q260 1640 330 1720 Q300 1790 200 1760 Q140 1720 170 1650Z" fill="#f9a992"/><rect x="0" y="-27.5" width="126.5" height="55" rx="27.5" fill="#fed3c0" transform="translate(330 1300) rotate(-71.6)"/><rect x="0" y="-27.5" width="111.8" height="55" rx="27.5" fill="#fed3c0" transform="translate(420 1290) rotate(-63.4)"/><rect x="0" y="-27.5" width="86" height="55" rx="27.5" fill="#fed3c0" transform="translate(500 1310) rotate(-54.5)"/><path d="M640 1400 L700 1300 L900 1300 L960 1330 L920 1420 Q1000 1560 1130 1650 Q1160 1740 1080 1790 Q1000 1810 960 1760 Q900 1600 800 1500Z" fill="#fed3c0"/><path d="M1000 1660 Q1080 1640 1130 1660 Q1160 1740 1080 1790 Q1000 1810 960 1760Z" fill="#f9a992"/><rect x="0" y="-27.5" width="67.1" height="55" rx="27.5" fill="#fed3c0" transform="translate(680 1400) rotate(-116.6)"/><rect x="0" y="-27.5" width="67.1" height="55" rx="27.5" fill="#fed3c0" transform="translate(760 1330) rotate(-116.6)"/><rect x="0" y="-27.5" width="63.2" height="55" rx="27.5" fill="#fed3c0" transform="translate(850 1320) rotate(-71.6)"/><rect x="0" y="-27.5" width="58.3" height="55" rx="27.5" fill="#fed3c0" transform="translate(920 1360) rotate(-59)"/></g>
<g transform="translate(2510 1200) scale(0.1242)"><path d="M960 170 Q1440 190 1480 640 L1545 1420 L420 1420 L445 640 Q480 190 960 170Z" fill="#e8934c"/><path d="M720 1640 Q740 1440 900 1380 L1150 1300 Q1500 1380 1580 1450 Q1660 1520 1675 1640Z" fill="#9edbe4"/><path d="M850 1180 H1150 V1380 Q1000 1580 850 1440Z" fill="#fed7b9"/><path d="M850 1230 Q1000 1300 1150 1240 V1180 H850Z" fill="#fdc595"/><ellipse cx="1350" cy="848" rx="92" ry="95" fill="#fdc595"/><path d="M595 600 H1335 V900 Q1320 1240 965 1250 Q610 1240 595 900Z" fill="#fed7b9"/><path d="M595 600 Q850 620 1035 465 Q1150 590 1335 600 V690 Q1150 680 1035 560 Q850 700 595 680Z" fill="#fdc595"/><path d="M595 610 Q850 610 1035 465 Q1150 590 1335 605 L1335 400 L595 400Z" fill="#e8934c"/><circle cx="778" cy="757" r="37" fill="#3f5877"/><circle cx="1147" cy="757" r="37" fill="#3f5877"/><rect x="0" y="-34" width="75" height="68" rx="34" fill="#fdc595" transform="translate(963 840) rotate(90)"/><path d="M895 1045 Q963 1120 1030 1045" stroke="#3f5877" stroke-width="36" stroke-linecap="round" fill="none"/><circle cx="485" cy="1352" r="335" fill="#f3f5fa"/><path d="M330 1190 L560 940 Q600 910 630 960 L700 950 Q740 930 760 990 Q830 980 840 1050 L830 1110 Q880 1120 870 1170 L700 1360 L760 1400 Q800 1460 740 1500 L520 1510 Q420 1500 300 1360 Q260 1260 330 1190Z" fill="#fdc595"/><polyline points="540,1075 640,970" fill="none" stroke="#fdb07e" stroke-width="26" stroke-linecap="round" stroke-linejoin="round"/><polyline points="610,1140 750,1000" fill="none" stroke="#fdb07e" stroke-width="26" stroke-linecap="round" stroke-linejoin="round"/><polyline points="680,1210 830,1060" fill="none" stroke="#fdb07e" stroke-width="26" stroke-linecap="round" stroke-linejoin="round"/><circle cx="485" cy="1352" r="335" fill="none" stroke="#f0596e" stroke-width="50"/><polyline points="260,1150 720,1580" fill="none" stroke="#f0596e" stroke-width="50" stroke-linecap="round" stroke-linejoin="round"/></g>
<g transform="translate(1250 1560) scale(0.1139)"><defs><radialGradient id="vA" cx="0.4" cy="0.32" r="0.75"><stop offset="0" stop-color="#fdd25a"/><stop offset="0.55" stop-color="#f58a2a"/><stop offset="1" stop-color="#ee7a25"/></radialGradient><radialGradient id="vD" cx="0.4" cy="0.32" r="0.75"><stop offset="0" stop-color="#fbd0de"/><stop offset="0.55" stop-color="#f27ba6"/><stop offset="1" stop-color="#e9628f"/></radialGradient><radialGradient id="vB2" cx="0.4" cy="0.32" r="0.75"><stop offset="0" stop-color="#f9826a"/><stop offset="0.55" stop-color="#ee4a32"/><stop offset="1" stop-color="#dc3a2a"/></radialGradient><radialGradient id="vC" cx="0.4" cy="0.32" r="0.75"><stop offset="0" stop-color="#d2e86a"/><stop offset="0.55" stop-color="#86c043"/><stop offset="1" stop-color="#5ea536"/></radialGradient><radialGradient id="vB12" cx="0.4" cy="0.32" r="0.75"><stop offset="0" stop-color="#fcc658"/><stop offset="0.55" stop-color="#f58a2a"/><stop offset="1" stop-color="#ee7a25"/></radialGradient><radialGradient id="vB6" cx="0.4" cy="0.32" r="0.75"><stop offset="0" stop-color="#fdea8a"/><stop offset="0.55" stop-color="#f9c233"/><stop offset="1" stop-color="#f0ae25"/></radialGradient><radialGradient id="vH" cx="0.4" cy="0.32" r="0.75"><stop offset="0" stop-color="#f1f5f8"/><stop offset="0.55" stop-color="#b4bfc9"/><stop offset="1" stop-color="#9aa7b3"/></radialGradient><radialGradient id="vE" cx="0.4" cy="0.32" r="0.75"><stop offset="0" stop-color="#9fe6df"/><stop offset="0.55" stop-color="#3fc1b9"/><stop offset="1" stop-color="#2aa7a0"/></radialGradient></defs><circle cx="350" cy="810" r="235" fill="url(#vA)"/><ellipse cx="326.5" cy="939.2" rx="145.7" ry="65.8" fill="#ffffff" opacity="0.18"/><text x="350" y="946.8" font-family="'Liberation Sans',sans-serif" font-weight="700" font-size="380" fill="#f0452e" text-anchor="middle">A</text><circle cx="620" cy="345" r="188" fill="url(#vD)"/><ellipse cx="601.2" cy="448.4" rx="116.6" ry="52.6" fill="#ffffff" opacity="0.18"/><text x="620" y="447.6" font-family="'Liberation Sans',sans-serif" font-weight="700" font-size="285" fill="#f9cfe0" text-anchor="middle">D</text><circle cx="1110" cy="245" r="165" fill="url(#vB2)"/><ellipse cx="1093.5" cy="335.8" rx="102.3" ry="46.2" fill="#ffffff" opacity="0.18"/><text x="1110" y="335" font-family="'Liberation Sans',sans-serif" font-weight="700" font-size="250" fill="#e02424" text-anchor="middle">B<tspan font-size="125" dy="12.5">2</tspan></text><circle cx="1090" cy="895" r="385" fill="url(#vC)"/><ellipse cx="1051.5" cy="1106.8" rx="238.7" ry="107.8" fill="#ffffff" opacity="0.18"/><text x="1090" y="1125.4" font-family="'Liberation Sans',sans-serif" font-weight="700" font-size="640" fill="#2f9a3a" text-anchor="middle">C</text><circle cx="1545" cy="460" r="122" fill="url(#vB12)"/><ellipse cx="1532.8" cy="527.1" rx="75.6" ry="34.2" fill="#ffffff" opacity="0.18"/><text x="1545" y="523" font-family="'Liberation Sans',sans-serif" font-weight="700" font-size="175" fill="#fbd64a" text-anchor="middle">B<tspan font-size="87.5" dy="8.8">12</tspan></text><circle cx="1720" cy="825" r="100" fill="url(#vB6)"/><ellipse cx="1710" cy="880" rx="62" ry="28" fill="#ffffff" opacity="0.18"/><text x="1720" y="879" font-family="'Liberation Sans',sans-serif" font-weight="700" font-size="150" fill="#fdeb9a" text-anchor="middle">B<tspan font-size="75" dy="7.5">6</tspan></text><circle cx="1735" cy="1125" r="80" fill="url(#vH)"/><ellipse cx="1727" cy="1169" rx="49.6" ry="22.4" fill="#ffffff" opacity="0.18"/><text x="1735" y="1164.6" font-family="'Liberation Sans',sans-serif" font-weight="700" font-size="110" fill="#e3e9f0" text-anchor="middle">H</text><circle cx="1610" cy="1410" r="82" fill="url(#vE)"/><ellipse cx="1601.8" cy="1455.1" rx="50.8" ry="23" fill="#ffffff" opacity="0.18"/><text x="1610" y="1451.4" font-family="'Liberation Sans',sans-serif" font-weight="700" font-size="115" fill="#2aa7a0" text-anchor="middle">E</text></g>
<g transform="translate(560 1860) scale(0.1139)"><path d="M105 1540 L440 710 Q445 700 470 700 H1370 Q1395 700 1400 712 L1705 1540 V1670 Q1705 1690 1680 1690 H130 Q105 1690 105 1670Z" fill="#fdb15c"/><path d="M105 1560 H1705 V1670 Q1705 1690 1680 1690 H130 Q105 1690 105 1670Z" fill="#f58d2c"/><polygon points="250,1460 500,760 1340,760 1570,1460" fill="#fba545"/><path d="M705 1245 H1110 Q1090 1420 908 1425 Q725 1420 705 1245Z" fill="#ffffff"/><path d="M725 1300 Q900 1470 1090 1300" stroke="#3b8d99" stroke-width="10" fill="none"/><polygon points="870,1255 945,1255 915,1290 908,1370 900,1290" fill="#1f9fcf"/><path d="M520 740 L770 740 Q760 1000 740 1200 Q730 1330 660 1335 Q600 1320 560 1300 Q440 1260 370 1200 Q400 1100 520 830Z" fill="#fdd0c3"/><path d="M1050 740 L1300 740 L1300 830 Q1420 1100 1445 1200 Q1380 1260 1260 1300 Q1200 1330 1150 1335 Q1090 1320 1080 1200 Q1050 1000 1050 740Z" fill="#fdd0c3"/><circle cx="665" cy="1300" r="36" fill="#fee4dc"/><circle cx="570" cy="1275" r="27" fill="#fee4dc"/><circle cx="497" cy="1258" r="24" fill="#fee4dc"/><circle cx="433" cy="1235" r="20" fill="#fee4dc"/><circle cx="388" cy="1205" r="17" fill="#fee4dc"/><circle cx="1152" cy="1300" r="36" fill="#fee4dc"/><circle cx="1246" cy="1275" r="27" fill="#fee4dc"/><circle cx="1318" cy="1258" r="24" fill="#fee4dc"/><circle cx="1382" cy="1235" r="20" fill="#fee4dc"/><circle cx="1428" cy="1205" r="17" fill="#fee4dc"/><path d="M378 150 L770 135 L798 725 Q640 790 470 730Z" fill="#1a90b0"/><path d="M1050 140 L1440 150 L1350 735 Q1180 790 1020 725Z" fill="#1a90b0"/></g>
<g transform="translate(2540 1860) scale(0.1190)"><defs><linearGradient id="omf" x1="0" y1="0" x2="0" y2="1"><stop offset="0" stop-color="#8cc8ee"/><stop offset="0.55" stop-color="#93c0ea"/><stop offset="0.7" stop-color="#f3c9cf"/><stop offset="1" stop-color="#fdd2a8"/></linearGradient></defs><path d="M620 1040 Q800 1000 960 1130 L1060 1300 L1250 1330 L1260 1500 Q1200 1580 1080 1560 L1040 1780 H280 Q300 1500 420 1250 Q480 1100 620 1040Z" fill="#b89c85"/><polyline points="500,1240 470,1780" fill="none" stroke="#a58a74" stroke-width="22" stroke-linecap="round" stroke-linejoin="round"/><circle cx="780" cy="1462" r="285" fill="#ffffff"/><path d="M740 1290 Q640 1260 590 1400 Q540 1560 570 1650 Q660 1690 740 1620Z" fill="#a88bc6"/><path d="M800 1290 Q900 1260 950 1400 Q1000 1560 960 1650 Q880 1690 800 1620Z" fill="#a88bc6"/><polyline points="768,1210 768,1420" fill="none" stroke="#cdbfe0" stroke-width="22" stroke-linecap="round" stroke-linejoin="round"/><polyline points="768,1410 690,1470 620,1490" fill="none" stroke="#cdbfe0" stroke-width="12" stroke-linecap="round" stroke-linejoin="round"/><polyline points="768,1410 850,1470 910,1490" fill="none" stroke="#cdbfe0" stroke-width="12" stroke-linecap="round" stroke-linejoin="round"/><polyline points="690,1470 700,1540" fill="none" stroke="#cdbfe0" stroke-width="10" stroke-linecap="round" stroke-linejoin="round"/><polyline points="850,1470 880,1380" fill="none" stroke="#cdbfe0" stroke-width="10" stroke-linecap="round" stroke-linejoin="round"/><circle cx="632" cy="1320" r="21" fill="#1a1718"/><line x1="632" y1="1320" x2="674" y2="1320" stroke="#1a1718" stroke-width="9"/><circle cx="674" cy="1320" r="5" fill="#1a1718"/><line x1="632" y1="1320" x2="661.7" y2="1349.7" stroke="#1a1718" stroke-width="9"/><circle cx="661.7" cy="1349.7" r="5" fill="#1a1718"/><line x1="632" y1="1320" x2="632" y2="1362" stroke="#1a1718" stroke-width="9"/><circle cx="632" cy="1362" r="5" fill="#1a1718"/><line x1="632" y1="1320" x2="602.3" y2="1349.7" stroke="#1a1718" stroke-width="9"/><circle cx="602.3" cy="1349.7" r="5" fill="#1a1718"/><line x1="632" y1="1320" x2="590" y2="1320" stroke="#1a1718" stroke-width="9"/><circle cx="590" cy="1320" r="5" fill="#1a1718"/><line x1="632" y1="1320" x2="602.3" y2="1290.3" stroke="#1a1718" stroke-width="9"/><circle cx="602.3" cy="1290.3" r="5" fill="#1a1718"/><line x1="632" y1="1320" x2="632" y2="1278" stroke="#1a1718" stroke-width="9"/><circle cx="632" cy="1278" r="5" fill="#1a1718"/><line x1="632" y1="1320" x2="661.7" y2="1290.3" stroke="#1a1718" stroke-width="9"/><circle cx="661.7" cy="1290.3" r="5" fill="#1a1718"/><circle cx="960" cy="1418" r="21" fill="#1a1718"/><line x1="960" y1="1418" x2="1002" y2="1418" stroke="#1a1718" stroke-width="9"/><circle cx="1002" cy="1418" r="5" fill="#1a1718"/><line x1="960" y1="1418" x2="989.7" y2="1447.7" stroke="#1a1718" stroke-width="9"/><circle cx="989.7" cy="1447.7" r="5" fill="#1a1718"/><line x1="960" y1="1418" x2="960" y2="1460" stroke="#1a1718" stroke-width="9"/><circle cx="960" cy="1460" r="5" fill="#1a1718"/><line x1="960" y1="1418" x2="930.3" y2="1447.7" stroke="#1a1718" stroke-width="9"/><circle cx="930.3" cy="1447.7" r="5" fill="#1a1718"/><line x1="960" y1="1418" x2="918" y2="1418" stroke="#1a1718" stroke-width="9"/><circle cx="918" cy="1418" r="5" fill="#1a1718"/><line x1="960" y1="1418" x2="930.3" y2="1388.3" stroke="#1a1718" stroke-width="9"/><circle cx="930.3" cy="1388.3" r="5" fill="#1a1718"/><line x1="960" y1="1418" x2="960" y2="1376" stroke="#1a1718" stroke-width="9"/><circle cx="960" cy="1376" r="5" fill="#1a1718"/><line x1="960" y1="1418" x2="989.7" y2="1388.3" stroke="#1a1718" stroke-width="9"/><circle cx="989.7" cy="1388.3" r="5" fill="#1a1718"/><circle cx="628" cy="1553" r="21" fill="#1a1718"/><line x1="628" y1="1553" x2="670" y2="1553" stroke="#1a1718" stroke-width="9"/><circle cx="670" cy="1553" r="5" fill="#1a1718"/><line x1="628" y1="1553" x2="657.7" y2="1582.7" stroke="#1a1718" stroke-width="9"/><circle cx="657.7" cy="1582.7" r="5" fill="#1a1718"/><line x1="628" y1="1553" x2="628" y2="1595" stroke="#1a1718" stroke-width="9"/><circle cx="628" cy="1595" r="5" fill="#1a1718"/><line x1="628" y1="1553" x2="598.3" y2="1582.7" stroke="#1a1718" stroke-width="9"/><circle cx="598.3" cy="1582.7" r="5" fill="#1a1718"/><line x1="628" y1="1553" x2="586" y2="1553" stroke="#1a1718" stroke-width="9"/><circle cx="586" cy="1553" r="5" fill="#1a1718"/><line x1="628" y1="1553" x2="598.3" y2="1523.3" stroke="#1a1718" stroke-width="9"/><circle cx="598.3" cy="1523.3" r="5" fill="#1a1718"/><line x1="628" y1="1553" x2="628" y2="1511" stroke="#1a1718" stroke-width="9"/><circle cx="628" cy="1511" r="5" fill="#1a1718"/><line x1="628" y1="1553" x2="657.7" y2="1523.3" stroke="#1a1718" stroke-width="9"/><circle cx="657.7" cy="1523.3" r="5" fill="#1a1718"/><circle cx="745" cy="1645" r="21" fill="#1a1718"/><line x1="745" y1="1645" x2="787" y2="1645" stroke="#1a1718" stroke-width="9"/><circle cx="787" cy="1645" r="5" fill="#1a1718"/><line x1="745" y1="1645" x2="774.7" y2="1674.7" stroke="#1a1718" stroke-width="9"/><circle cx="774.7" cy="1674.7" r="5" fill="#1a1718"/><line x1="745" y1="1645" x2="745" y2="1687" stroke="#1a1718" stroke-width="9"/><circle cx="745" cy="1687" r="5" fill="#1a1718"/><line x1="745" y1="1645" x2="715.3" y2="1674.7" stroke="#1a1718" stroke-width="9"/><circle cx="715.3" cy="1674.7" r="5" fill="#1a1718"/><line x1="745" y1="1645" x2="703" y2="1645" stroke="#1a1718" stroke-width="9"/><circle cx="703" cy="1645" r="5" fill="#1a1718"/><line x1="745" y1="1645" x2="715.3" y2="1615.3" stroke="#1a1718" stroke-width="9"/><circle cx="715.3" cy="1615.3" r="5" fill="#1a1718"/><line x1="745" y1="1645" x2="745" y2="1603" stroke="#1a1718" stroke-width="9"/><circle cx="745" cy="1603" r="5" fill="#1a1718"/><line x1="745" y1="1645" x2="774.7" y2="1615.3" stroke="#1a1718" stroke-width="9"/><circle cx="774.7" cy="1615.3" r="5" fill="#1a1718"/><circle cx="720" cy="1248" r="12" fill="#1a1718"/><circle cx="920" cy="1282" r="12" fill="#1a1718"/><circle cx="540" cy="1410" r="12" fill="#1a1718"/><circle cx="1005" cy="1490" r="12" fill="#1a1718"/><circle cx="640" cy="1640" r="12" fill="#1a1718"/><circle cx="840" cy="1620" r="12" fill="#1a1718"/><circle cx="620" cy="1420" r="12" fill="#1a1718"/><circle cx="830" cy="1340" r="12" fill="#1a1718"/><circle cx="910" cy="1560" r="12" fill="#1a1718"/><path d="M500 690 Q460 740 490 800 Q540 860 600 840 L640 700Z" fill="#d9b8b8"/><path d="M620 640 L760 400 L1380 400 L1400 560 Q1380 800 1320 960 Q1240 1120 1010 1150 Q760 1140 640 1000 Q600 880 620 640Z" fill="url(#omf)"/><path d="M480 700 Q500 620 600 620 L680 660 L600 760 Q520 760 480 700Z" fill="#8cc8ee"/><path d="M560 640 Q560 330 700 220 Q900 100 1340 230 Q1440 400 1410 640 L1370 470 L1290 470 L1270 430 L1190 450 L1170 390 L1030 420 L1020 370 Q840 420 760 460 Q700 560 650 650 L600 700Z" fill="#a39a98"/><polyline points="750,230 680,560" fill="none" stroke="#8e8583" stroke-width="50" stroke-linecap="round" stroke-linejoin="round" stroke-linecap="butt" opacity="0.8"/><polyline points="955,190 900,400" fill="none" stroke="#8e8583" stroke-width="50" stroke-linecap="round" stroke-linejoin="round" stroke-linecap="butt" opacity="0.8"/><polyline points="1148,200 1120,400" fill="none" stroke="#8e8583" stroke-width="50" stroke-linecap="round" stroke-linejoin="round" stroke-linecap="butt" opacity="0.8"/><polyline points="1322,290 1340,440" fill="none" stroke="#8e8583" stroke-width="50" stroke-linecap="round" stroke-linejoin="round" stroke-linecap="butt" opacity="0.8"/><path d="M950 575 Q1020 540 1085 530" stroke="#9a8f8d" stroke-width="22" fill="none" stroke-linecap="round"/><path d="M1245 565 Q1275 600 1300 665" stroke="#9a8f8d" stroke-width="22" fill="none" stroke-linecap="round"/><polyline points="945,680 1020,740 925,775" fill="none" stroke="#111" stroke-width="24" stroke-linecap="round" stroke-linejoin="round"/><polyline points="1270,745 1205,785 1260,825" fill="none" stroke="#111" stroke-width="24" stroke-linecap="round" stroke-linejoin="round"/><path d="M775 700 Q810 790 780 850 Q730 870 715 810 Q730 760 775 700Z" fill="#ffffff"/><path d="M975 945 Q920 975 885 1040" stroke="#d9a66a" stroke-width="20" fill="none" stroke-linecap="round"/><ellipse cx="1075" cy="1065" rx="48" ry="85" fill="#c8164a" transform="rotate(30 1075 1065)"/><path d="M1020 1130 Q1100 1060 1200 1080 Q1250 1150 1230 1250 L1220 1340 Q1140 1380 1080 1340 Q1020 1250 1020 1130Z" fill="#fdc9a0" stroke="#f7a869" stroke-width="10"/><ellipse cx="1435" cy="1000" rx="55" ry="26" fill="#5bc1ea" transform="rotate(-5 1435 1000)"/><ellipse cx="1395" cy="1100" rx="55" ry="26" fill="#5bc1ea" transform="rotate(25 1395 1100)"/><ellipse cx="1320" cy="1185" rx="55" ry="26" fill="#5bc1ea" transform="rotate(60 1320 1185)"/></g>
<g transform="translate(3220 1500) scale(0.1398)"><path d="M170 1430 L360 1430 L350 1880 L185 1890 Q150 1650 170 1430Z" fill="#fac1a7"/><path d="M545 1035 Q630 1080 715 1035 Q900 1060 1000 1150 L1050 1300 L930 1500 L940 1860 Q650 1930 370 1870 L360 1440 L180 1420 Q200 1180 330 1110 Q440 1050 545 1035Z" fill="#9fb1ae"/><path d="M545 960 H715 V1035 Q630 1100 545 1035Z" fill="#fac1a7"/><path d="M1030 1120 Q1040 900 1100 870 Q1150 870 1145 960 Q1220 970 1210 1040 Q1215 1130 1160 1170 L1060 1480 Q940 1530 830 1470 Q820 1380 900 1260Z" fill="#fac1a7"/><polyline points="1120,965 1085,990 1080,1060 1100,1150 1170,1150 1195,1100" fill="none" stroke="#e4544a" stroke-width="9" stroke-linecap="round" stroke-linejoin="round"/><polyline points="1090,1030 1190,1020" fill="none" stroke="#e4544a" stroke-width="8" stroke-linecap="round" stroke-linejoin="round"/><polyline points="1095,1085 1195,1075" fill="none" stroke="#e4544a" stroke-width="8" stroke-linecap="round" stroke-linejoin="round"/><ellipse cx="235" cy="680" rx="38" ry="55" fill="#fac1a7"/><ellipse cx="915" cy="575" rx="40" ry="58" fill="#fac1a7"/><path d="M270 450 Q330 330 580 320 Q860 330 900 480 L915 700 Q880 900 700 960 Q500 990 380 900 Q260 780 270 450Z" fill="#fac1a7"/><path d="M260 720 Q400 640 560 615 L880 625 L915 640 Q930 800 840 900 Q720 990 560 975 Q380 960 300 840 Q265 780 260 720Z" fill="#bcbade"/><path d="M530 625 Q530 760 590 850" stroke="#8f8fcf" stroke-width="10" fill="none"/><path d="M245 620 Q280 640 275 710" stroke="#8f8fcf" stroke-width="9" fill="none"/><path d="M880 485 Q850 530 900 620" stroke="#8f8fcf" stroke-width="9" fill="none"/><path d="M205 635 Q180 480 270 340 Q400 200 600 190 Q760 200 830 180 Q900 190 905 250 Q930 290 910 340 Q970 420 950 500 L870 490 Q820 380 800 320 Q730 330 660 320 Q600 370 540 340 Q470 390 400 350 Q360 420 280 450 L275 620Z" fill="#3b3a39"/><ellipse cx="432" cy="580" rx="17" ry="38" fill="#1f1d1c"/><ellipse cx="642" cy="530" rx="17" ry="38" fill="#1f1d1c"/><path d="M385 490 Q410 470 430 478" stroke="#1f1d1c" stroke-width="11" fill="none" stroke-linecap="round"/><path d="M625 455 Q650 445 665 458" stroke="#1f1d1c" stroke-width="11" fill="none" stroke-linecap="round"/><polyline points="325,640 345,655" fill="none" stroke="#f0604f" stroke-width="8" stroke-linecap="round" stroke-linejoin="round"/><polyline points="352,622 372,640" fill="none" stroke="#f0604f" stroke-width="8" stroke-linecap="round" stroke-linejoin="round"/><polyline points="722,565 740,585" fill="none" stroke="#f0604f" stroke-width="8" stroke-linecap="round" stroke-linejoin="round"/><polyline points="750,555 765,578" fill="none" stroke="#f0604f" stroke-width="8" stroke-linecap="round" stroke-linejoin="round"/><circle cx="645" cy="1458" r="95" fill="none" stroke="#5b7c76" stroke-width="9"/><polyline points="628,1285 633,1320" fill="none" stroke="#5b7c76" stroke-width="9" stroke-linecap="round" stroke-linejoin="round"/><polyline points="755,1322 725,1350" fill="none" stroke="#5b7c76" stroke-width="9" stroke-linecap="round" stroke-linejoin="round"/><polyline points="770,1502 795,1500" fill="none" stroke="#5b7c76" stroke-width="9" stroke-linecap="round" stroke-linejoin="round"/><polyline points="640,1585 650,1615" fill="none" stroke="#5b7c76" stroke-width="9" stroke-linecap="round" stroke-linejoin="round"/><polyline points="520,1580 540,1568" fill="none" stroke="#5b7c76" stroke-width="9" stroke-linecap="round" stroke-linejoin="round"/><polyline points="500,1470 520,1478" fill="none" stroke="#5b7c76" stroke-width="9" stroke-linecap="round" stroke-linejoin="round"/><polyline points="515,1385 545,1395" fill="none" stroke="#5b7c76" stroke-width="9" stroke-linecap="round" stroke-linejoin="round"/><polyline points="340,1135 395,1170" fill="none" stroke="#5b7c76" stroke-width="9" stroke-linecap="round" stroke-linejoin="round"/><polyline points="860,1135 905,1105" fill="none" stroke="#5b7c76" stroke-width="9" stroke-linecap="round" stroke-linejoin="round"/><polyline points="420,1235 415,1330 395,1420" fill="none" stroke="#5b7c76" stroke-width="9" stroke-linecap="round" stroke-linejoin="round"/><polyline points="830,1170 820,1300 825,1400" fill="none" stroke="#5b7c76" stroke-width="9" stroke-linecap="round" stroke-linejoin="round"/><circle cx="598" cy="1440" r="6" fill="#5b7c76"/><circle cx="660" cy="1432" r="6" fill="#5b7c76"/><path d="M615 1472 Q630 1485 648 1470" stroke="#5b7c76" stroke-width="7" fill="none" stroke-linecap="round"/></g>
<g transform="translate(600 2190) scale(0.1087)"><path d="M304 184 H370 V291.1 Q370 389 467.9 389 H575 V455 H467.9 Q370 455 370 552.9 V660 H304 V552.9 Q304 455 206.1 455 H99 V389 H206.1 Q304 389 304 291.1Z" fill="#fcc235"/><path d="M1317 322 H1383 V398.5 Q1383 459 1443.5 459 H1520 V525 H1443.5 Q1383 525 1383 585.5 V662 H1317 V585.5 Q1317 525 1256.5 525 H1180 V459 H1256.5 Q1317 459 1317 398.5Z" fill="#fcc235"/><circle cx="978" cy="322" r="68" fill="#15b5d1"/><clipPath id="cb978"><circle cx="978" cy="322" r="68"/></clipPath><circle cx="1006.6" cy="350.6" r="54.4" fill="#8ad3e8" clip-path="url(#cb978)"/><circle cx="640" cy="660" r="68" fill="#15b5d1"/><clipPath id="cb640"><circle cx="640" cy="660" r="68"/></clipPath><circle cx="668.6" cy="688.6" r="54.4" fill="#8ad3e8" clip-path="url(#cb640)"/><circle cx="268" cy="1032" r="102" fill="#15b5d1"/><clipPath id="cb268"><circle cx="268" cy="1032" r="102"/></clipPath><circle cx="310.8" cy="1074.8" r="81.6" fill="#8ad3e8" clip-path="url(#cb268)"/><circle cx="300" cy="1473" r="68" fill="#15b5d1"/><clipPath id="cb300"><circle cx="300" cy="1473" r="68"/></clipPath><circle cx="328.6" cy="1501.6" r="54.4" fill="#8ad3e8" clip-path="url(#cb300)"/><circle cx="1045" cy="1270" r="475" fill="#2fb2e6" stroke="#2fb2e6" stroke-width="130" fill-opacity="0"/><circle cx="1045" cy="1270" r="410" fill="#bfe4f5"/><circle cx="1080" cy="1305" r="370" fill="#eaf4fa"/><circle cx="1045" cy="1270" r="475" fill="none" stroke="#2fb2e6" stroke-width="130"/><polygon points="1420,1110 1520,1010 1555,1075 1460,1170" fill="#0d7cc4"/><polygon points="1050,1470 1400,1130 1440,1200 1100,1530" fill="#bfe4f5"/><polygon points="780,1200 870,1110 1045,1282 1630,705 1720,795 1045,1470" fill="#80b957"/></g>
<g transform="translate(1220 2200) scale(0.1242)"><circle cx="820" cy="650" r="50" fill="#b4e1f2"/><circle cx="650" cy="770" r="80" fill="#b4e1f2"/><circle cx="1330" cy="855" r="98" fill="#b4e1f2"/><circle cx="1130" cy="790" r="50" fill="#b4e1f2"/><circle cx="1190" cy="960" r="90" fill="#b4e1f2"/><circle cx="1370" cy="1120" r="85" fill="#b4e1f2"/><polygon points="960,520 1075,520 1120,820 920,760" fill="#b4e1f2"/><path d="M880 350 L1560 140 L1780 240 L1770 345 L1110 490 L1100 520 Q1020 545 950 520 L945 495 Q880 450 880 350Z" fill="#a6c9dc"/><polyline points="1100,405 1740,250" fill="none" stroke="#7ea2b7" stroke-width="6" stroke-linecap="round" stroke-linejoin="round"/><polyline points="965,355 1035,372" fill="none" stroke="#dfeef5" stroke-width="6" stroke-linecap="round" stroke-linejoin="round"/><polyline points="1030,335 1100,352" fill="none" stroke="#dfeef5" stroke-width="6" stroke-linecap="round" stroke-linejoin="round"/><polyline points="1090,318 1150,333" fill="none" stroke="#dfeef5" stroke-width="6" stroke-linecap="round" stroke-linejoin="round"/><path d="M175 440 L600 770 L880 725 Q1000 780 1250 960 Q1270 1010 1200 1030 L1460 1180 Q1510 1230 1440 1245 Q1450 1310 1390 1335 L900 1100 L410 1040 L175 860Z" fill="#f08e7c"/><path d="M575 910 Q610 950 665 955" stroke="#d97868" stroke-width="7" fill="none"/><path d="M680 990 Q740 880 860 855 Q1000 880 1060 1000 Q1140 1080 1230 1180 Q1250 1300 1150 1310 Q1000 1260 960 1190 L700 1010Z" fill="#ffffff"/><path d="M785 975 Q790 890 890 870" stroke="#a9d8ea" stroke-width="6" fill="none"/><path d="M1115 1275 Q1210 1285 1225 1205" stroke="#a9d8ea" stroke-width="6" fill="none"/><path d="M140 935 L410 1035 Q600 1010 760 990 Q900 1000 1180 1110 L1390 1100 Q1410 1120 1380 1150 L1230 1280 Q1160 1310 1110 1300 Q1000 1250 940 1190 Q1100 1320 1200 1300 L1340 1290 Q1330 1400 1190 1440 L1000 1505 H880 L420 1280 L140 1270Z" fill="#fbb7a9"/><path d="M910 1180 Q1000 1200 1100 1290 Q1250 1290 1320 1200" stroke="#e9988a" stroke-width="6" fill="none"/></g>
<g transform="translate(1920 2520) scale(0.1139)"><path d="M200 1350 Q210 1160 370 1085 Q305 1020 305 940 Q305 790 470 790 Q635 790 635 940 Q635 1020 570 1085 Q730 1160 740 1350Z" fill="#7b7280" stroke="#111" stroke-width="44" stroke-linejoin="round"/><path d="M1205 1350 Q1215 1160 1375 1085 Q1310 1020 1310 940 Q1310 790 1475 790 Q1640 790 1640 940 Q1640 1020 1575 1085 Q1735 1160 1745 1350Z" fill="#7b7280" stroke="#111" stroke-width="44" stroke-linejoin="round"/><polyline points="1520,1115 1560,1150" fill="none" stroke="#a898b5" stroke-width="34" stroke-linecap="round" stroke-linejoin="round"/><polyline points="1600,1215 1655,1300" fill="none" stroke="#a898b5" stroke-width="34" stroke-linecap="round" stroke-linejoin="round"/><path d="M450 1350 Q470 1200 680 1130 L840 1075 H1110 L1280 1130 Q1480 1200 1490 1350Z" fill="#bfe6f7" stroke="#111" stroke-width="44" stroke-linejoin="round"/><rect x="475" y="1300" width="990" height="35" fill="#9fd3f0"/><path d="M840 960 H1100 V1090 Q970 1230 840 1090Z" fill="#fbb488" stroke="#111" stroke-width="44" stroke-linejoin="round"/><circle cx="705" cy="720" r="48" fill="#fdc49a" stroke="#111" stroke-width="44" stroke-linejoin="round"/><circle cx="1235" cy="720" r="48" fill="#fdc49a" stroke="#111" stroke-width="44" stroke-linejoin="round"/><path d="M755 510 H1185 V790 Q1150 1000 970 1030 Q790 1000 755 790Z" fill="#fdc49a" stroke="#111" stroke-width="44" stroke-linejoin="round"/><path d="M690 230 Q760 290 900 270 Q1100 210 1200 340 Q1330 370 1335 500 Q1330 560 1270 690 L1210 660 Q1150 560 1130 470 Q920 520 735 500 L735 660 L690 670 Q620 560 620 440 Q630 330 690 230Z" fill="#7b7280" stroke="#111" stroke-width="44" stroke-linejoin="round"/><polyline points="845,375 950,345" fill="none" stroke="#a898b5" stroke-width="34" stroke-linecap="round" stroke-linejoin="round"/><rect x="0" y="-18" width="57" height="36" rx="18" fill="#111" transform="translate(848 665) rotate(90)"/><rect x="0" y="-18" width="57" height="36" rx="18" fill="#111" transform="translate(1098 665) rotate(90)"/><rect x="0" y="-18" width="85" height="36" rx="18" fill="#111" transform="translate(925 862) rotate(0)"/><circle cx="968" cy="1562" r="230" fill="#f0568f" stroke="#111" stroke-width="44" stroke-linejoin="round"/><path d="M800 1700 Q840 1740 968 1750 Q1120 1740 1160 1640 Q1100 1760 800 1700Z" fill="#ee3b80"/><path d="M845 1540 Q790 1470 880 1400 Q980 1350 1060 1370Z" fill="#bfe6f7" stroke="#111" stroke-width="36" stroke-linejoin="round"/><path d="M1095 1440 Q1170 1560 1060 1640 Q980 1690 900 1630Z" fill="#bfe6f7" stroke="#111" stroke-width="36" stroke-linejoin="round"/></g>
<g transform="translate(2510 2160) scale(0.1294)"><path d="M880 300 Q1000 170 1250 175 Q1500 200 1570 450 L1600 930 Q1500 970 1280 940 L1230 700 L900 350Z" fill="#573826" stroke="#16202a" stroke-width="5" stroke-linejoin="round"/><path d="M300 740 Q420 700 470 720 L430 800 L380 1180 L860 1010 L780 1400 L510 1430 Q250 1480 180 1380 Q130 1200 240 900Z" fill="#f8cfa4" stroke="#16202a" stroke-width="5" stroke-linejoin="round"/><path d="M880 1010 L960 1015 Q1100 1080 1275 955 L1420 950 Q1600 1050 1650 1250 L1700 1500 L780 1525 L760 1400 L510 1440 L475 1150 Q650 1050 880 1010Z" fill="#fbf8f0" stroke="#16202a" stroke-width="5" stroke-linejoin="round"/><clipPath id="cdg"><path d="M795 1130 L1420 1040 L1330 1500 L780 1525Z"/></clipPath><g clip-path="url(#cdg)"><path d="M780 1150 Q1100 1220 1450 1110" stroke="#2cbde0" stroke-width="46" fill="none"/><path d="M780 1310 Q1100 1380 1450 1270" stroke="#2cbde0" stroke-width="46" fill="none"/><path d="M780 1465 Q1100 1535 1450 1425" stroke="#2cbde0" stroke-width="46" fill="none"/></g><path d="M1340 1230 Q1500 1205 1680 1190" stroke="#2cbde0" stroke-width="46" fill="none"/><path d="M1340 1415 Q1500 1390 1680 1375" stroke="#2cbde0" stroke-width="46" fill="none"/><polyline points="590,1095 580,1250 615,1410" fill="none" stroke="#2cbde0" stroke-width="42" stroke-linecap="round" stroke-linejoin="round"/><polyline points="740,1045 710,1200 735,1390" fill="none" stroke="#2cbde0" stroke-width="42" stroke-linecap="round" stroke-linejoin="round"/><path d="M1330 1480 Q1310 1200 1420 1070 Q1480 1040 1520 1035" stroke="#16202a" stroke-width="5" fill="none"/><path d="M770 1510 Q770 1300 800 1140" stroke="#16202a" stroke-width="5" fill="none"/><path d="M1010 860 L1240 800 L1275 955 Q1100 1085 955 1015 Q1010 960 1010 860Z" fill="#f8cfa4" stroke="#16202a" stroke-width="5" stroke-linejoin="round"/><path d="M905 345 Q960 430 1060 480 Q1150 520 1160 600 L1240 560 L1250 800 Q1100 900 900 880 Q820 850 815 760 L850 640 L840 560 Q860 450 905 345Z" fill="#f8cfa4" stroke="#16202a" stroke-width="5" stroke-linejoin="round"/><ellipse cx="1255" cy="600" rx="45" ry="85" fill="#f8cfa4" transform="rotate(10 1255 600)" stroke="#16202a" stroke-width="5" stroke-linejoin="round"/><path d="M905 345 Q960 430 1060 480 Q1150 520 1150 590 Q1160 640 1190 600 Q1210 540 1260 520 L1240 330 L1000 250Z" fill="#573826"/><ellipse cx="945" cy="515" rx="12" ry="20" fill="#16202a"/><path d="M1030 855 Q1100 840 1140 790" stroke="#16202a" stroke-width="6" fill="none"/><ellipse cx="410" cy="480" rx="27" ry="40" fill="#f8cfa4" stroke="#16202a" stroke-width="5" stroke-linejoin="round"/><ellipse cx="455" cy="480" rx="27" ry="40" fill="#f8cfa4" stroke="#16202a" stroke-width="5" stroke-linejoin="round"/><ellipse cx="505" cy="480" rx="27" ry="40" fill="#f8cfa4" stroke="#16202a" stroke-width="5" stroke-linejoin="round"/><ellipse cx="560" cy="480" rx="27" ry="40" fill="#f8cfa4" stroke="#16202a" stroke-width="5" stroke-linejoin="round"/><path d="M300 492 L830 488 Q850 600 830 720 L310 718 Q260 610 300 492Z" fill="#2cbde0" stroke="#16202a" stroke-width="5" stroke-linejoin="round"/><path d="M470 735 Q560 700 640 715 Q620 770 560 780 Q500 780 470 735Z" fill="#f8cfa4" stroke="#16202a" stroke-width="5" stroke-linejoin="round"/></g>
<g transform="translate(3190 2520) scale(0.1190)"><circle cx="1005" cy="825" r="585" fill="#bb1224"/><clipPath id="cfe"><circle cx="1005" cy="825" r="585"/></clipPath><circle cx="960" cy="770" r="590" fill="#e0232e" clip-path="url(#cfe)"/><ellipse cx="685" cy="488" rx="65" ry="118" fill="#fbb3bb" transform="rotate(38 685 488)"/><circle cx="365" cy="512" r="158" fill="#bb1224"/><clipPath id="cf365"><circle cx="365" cy="512" r="158"/></clipPath><circle cx="349.2" cy="496.2" r="158" fill="#e0232e" clip-path="url(#cf365)"/><ellipse cx="289.2" cy="425.1" rx="15.8" ry="34.8" fill="#fbb3bb" transform="rotate(38 289.2 425.1)"/><circle cx="1468" cy="1395" r="212" fill="#bb1224"/><clipPath id="cf1468"><circle cx="1468" cy="1395" r="212"/></clipPath><circle cx="1446.8" cy="1373.8" r="212" fill="#e0232e" clip-path="url(#cf1468)"/><ellipse cx="1366.2" cy="1278.4" rx="21.2" ry="46.6" fill="#fbb3bb" transform="rotate(38 1366.2 1278.4)"/><circle cx="1560" cy="290" r="95" fill="#bb1224"/><clipPath id="cf1560"><circle cx="1560" cy="290" r="95"/></clipPath><circle cx="1550.5" cy="280.5" r="95" fill="#e0232e" clip-path="url(#cf1560)"/><ellipse cx="1514.4" cy="237.8" rx="9.5" ry="20.9" fill="#fbb3bb" transform="rotate(38 1514.4 237.8)"/><text x="1045" y="1050" font-family="'Liberation Sans',sans-serif" font-weight="700" font-size="640" fill="#fff" text-anchor="middle" textLength="640" lengthAdjust="spacingAndGlyphs">Fe</text></g>
<g transform="translate(580 2820) scale(0.1242)"><polygon points="676,438.8 664.3,118.7 643.7,116.4 561.5,426" fill="#ee3a4e"/><ellipse cx="654" cy="117.6" rx="46.1" ry="34.6" fill="#ee3a4e" transform="rotate(6.4 654 117.6)"/><polygon points="812.8,545.5 932.4,356.4 917.7,341.9 730.6,464.8" fill="#ee3a4e"/><ellipse cx="925.1" cy="349.2" rx="46.1" ry="34.6" fill="#ee3a4e" transform="rotate(44.5 925.1 349.2)"/><polygon points="854.5,666.8 1063.9,551.1 1057.7,531.4 819.8,557" fill="#ee3a4e"/><ellipse cx="1060.8" cy="541.3" rx="46.1" ry="34.6" fill="#ee3a4e" transform="rotate(72.5 1060.8 541.3)"/><polygon points="832.5,798.1 1062.2,796.6 1066.3,776.2 855.5,685.2" fill="#ee3a4e"/><ellipse cx="1064.2" cy="786.4" rx="46.1" ry="34.6" fill="#ee3a4e" transform="rotate(101.5 1064.2 786.4)"/><polygon points="715.3,924.1 921.3,1091.4 937.1,1077.9 802.6,849" fill="#ee3a4e"/><ellipse cx="929.2" cy="1084.6" rx="46.1" ry="34.6" fill="#ee3a4e" transform="rotate(139.3 929.2 1084.6)"/><polygon points="597.3,955.4 691.2,1135.7 711.3,1130.6 709,927.4" fill="#ee3a4e"/><ellipse cx="701.3" cy="1133.2" rx="46.1" ry="34.6" fill="#ee3a4e" transform="rotate(165.9 701.3 1133.2)"/><polygon points="452.8,917.3 413.6,1181.9 433.2,1188.6 561.9,954" fill="#ee3a4e"/><ellipse cx="423.4" cy="1185.3" rx="46.1" ry="34.6" fill="#ee3a4e" transform="rotate(198.6 423.4 1185.3)"/><polygon points="339.3,777.5 224.9,903.9 235.8,921.6 400,875.4" fill="#ee3a4e"/><ellipse cx="230.4" cy="912.7" rx="46.1" ry="34.6" fill="#ee3a4e" transform="rotate(238.2 230.4 912.7)"/><polygon points="335.8,613.3 49.6,639.3 48.1,660 327.2,728.2" fill="#ee3a4e"/><ellipse cx="48.9" cy="649.6" rx="46.1" ry="34.6" fill="#ee3a4e" transform="rotate(274.3 48.9 649.6)"/><polygon points="404.8,499.8 179.6,408.8 168.3,426.1 341.6,596.1" fill="#ee3a4e"/><ellipse cx="174" cy="417.4" rx="46.1" ry="34.6" fill="#ee3a4e" transform="rotate(303.2 174 417.4)"/><polygon points="511.5,436.4 390.9,320.5 372.9,330.8 411.4,493.5" fill="#ee3a4e"/><ellipse cx="381.9" cy="325.7" rx="46.1" ry="34.6" fill="#ee3a4e" transform="rotate(330.3 381.9 325.7)"/><circle cx="590" cy="690" r="288" fill="#dc2340"/><clipPath id="cv11"><circle cx="590" cy="690" r="288"/></clipPath><circle cx="653.4" cy="626.6" r="273.6" fill="#ee3a4e" clip-path="url(#cv11)"/><polygon points="1346,945.1 1338.1,702.8 1322.5,701 1259.3,935.1" fill="#ee3a4e"/><ellipse cx="1330.3" cy="701.9" rx="34.9" ry="26.2" fill="#ee3a4e" transform="rotate(6.6 1330.3 701.9)"/><polygon points="1442.8,1017.1 1504.8,893.2 1493.1,882.8 1377.5,959.3" fill="#ee3a4e"/><ellipse cx="1499" cy="888" rx="34.9" ry="26.2" fill="#ee3a4e" transform="rotate(41.6 1499 888)"/><polygon points="1477.5,1097.7 1607.4,1003 1601.2,988.6 1443.1,1017.6" fill="#ee3a4e"/><ellipse cx="1604.3" cy="995.8" rx="34.9" ry="26.2" fill="#ee3a4e" transform="rotate(66.8 1604.3 995.8)"/><polygon points="1462.1,1220.1 1664.5,1228.4 1667.9,1213.1 1481,1134.9" fill="#ee3a4e"/><ellipse cx="1666.2" cy="1220.7" rx="34.9" ry="26.2" fill="#ee3a4e" transform="rotate(102.5 1666.2 1220.7)"/><polygon points="1372.7,1313.3 1515,1427.4 1527.1,1417.4 1439.5,1257.3" fill="#ee3a4e"/><ellipse cx="1521" cy="1422.4" rx="34.9" ry="26.2" fill="#ee3a4e" transform="rotate(140 1521 1422.4)"/><polygon points="1266.8,1335.6 1330.4,1512.7 1345.9,1510.3 1353,1322.3" fill="#ee3a4e"/><ellipse cx="1338.1" cy="1511.5" rx="34.9" ry="26.2" fill="#ee3a4e" transform="rotate(171.2 1338.1 1511.5)"/><polygon points="1174.2,1305.9 1154.3,1471.7 1169.1,1476.8 1256.6,1334.6" fill="#ee3a4e"/><ellipse cx="1161.7" cy="1474.2" rx="34.9" ry="26.2" fill="#ee3a4e" transform="rotate(199.2 1161.7 1474.2)"/><polygon points="1098.3,1221 955.4,1377.3 965.1,1389.7 1151.9,1289.8" fill="#ee3a4e"/><ellipse cx="960.3" cy="1383.5" rx="34.9" ry="26.2" fill="#ee3a4e" transform="rotate(232.1 960.3 1383.5)"/><polygon points="1080.2,1113.2 885.1,1170.8 886.8,1186.4 1089.8,1199.9" fill="#ee3a4e"/><ellipse cx="886" cy="1178.6" rx="34.9" ry="26.2" fill="#ee3a4e" transform="rotate(263.7 886 1178.6)"/><polygon points="1124.1,1008.2 940.6,956.3 933.6,970.4 1085,1086.2" fill="#ee3a4e"/><ellipse cx="937.1" cy="963.3" rx="34.9" ry="26.2" fill="#ee3a4e" transform="rotate(296.6 937.1 963.3)"/><polygon points="1227.5,941 1121.7,816.3 1107.8,823.6 1150.3,981.5" fill="#ee3a4e"/><ellipse cx="1114.8" cy="819.9" rx="34.9" ry="26.2" fill="#ee3a4e" transform="rotate(332.3 1114.8 819.9)"/><circle cx="1280" cy="1135" r="218" fill="#dc2340"/><clipPath id="cv12"><circle cx="1280" cy="1135" r="218"/></clipPath><circle cx="1328" cy="1087" r="207.1" fill="#ee3a4e" clip-path="url(#cv12)"/><polygon points="757.1,1354.3 751.9,1148.6 738.6,1147 683.6,1345.2" fill="#ee3a4e"/><ellipse cx="745.2" cy="1147.8" rx="29.6" ry="22.2" fill="#ee3a4e" transform="rotate(7 745.2 1147.8)"/><polygon points="843.3,1422.5 942.8,1278.4 933.4,1269.1 790.6,1370.5" fill="#ee3a4e"/><ellipse cx="938.1" cy="1273.7" rx="29.6" ry="22.2" fill="#ee3a4e" transform="rotate(44.6 938.1 1273.7)"/><polygon points="869.7,1497.7 974.9,1430.8 970.7,1418.1 846.4,1427.4" fill="#ee3a4e"/><ellipse cx="972.8" cy="1424.5" rx="29.6" ry="22.2" fill="#ee3a4e" transform="rotate(71.6 972.8 1424.5)"/><polygon points="852.7,1591 977,1590.5 980.2,1577.6 870.5,1519.2" fill="#ee3a4e"/><ellipse cx="978.6" cy="1584.1" rx="29.6" ry="22.2" fill="#ee3a4e" transform="rotate(103.9 978.6 1584.1)"/><polygon points="769.6,1670.7 861.1,1743 871.8,1735 829,1626.6" fill="#ee3a4e"/><ellipse cx="866.5" cy="1739" rx="29.6" ry="22.2" fill="#ee3a4e" transform="rotate(143.4 866.5 1739)"/><polygon points="681.3,1684.5 724.4,1800.1 737.6,1798.7 754.8,1676.5" fill="#ee3a4e"/><ellipse cx="731" cy="1799.4" rx="29.6" ry="22.2" fill="#ee3a4e" transform="rotate(173.8 731 1799.4)"/><polygon points="599,1652.4 571.2,1790.6 583.4,1796 666.7,1682.3" fill="#ee3a4e"/><ellipse cx="577.3" cy="1793.3" rx="29.6" ry="22.2" fill="#ee3a4e" transform="rotate(203.8 577.3 1793.3)"/><polygon points="535,1558.4 413.5,1655.1 419.6,1667 568.9,1624.1" fill="#ee3a4e"/><ellipse cx="416.5" cy="1661" rx="29.6" ry="22.2" fill="#ee3a4e" transform="rotate(242.7 416.5 1661)"/><polygon points="531.3,1489.6 409,1528.5 409.9,1541.8 536.5,1563.4" fill="#ee3a4e"/><ellipse cx="409.5" cy="1535.1" rx="29.6" ry="22.2" fill="#ee3a4e" transform="rotate(266 409.5 1535.1)"/><polygon points="574.9,1399.1 409.1,1337.4 402.4,1348.9 537.6,1463" fill="#ee3a4e"/><ellipse cx="405.7" cy="1343.2" rx="29.6" ry="22.2" fill="#ee3a4e" transform="rotate(300.3 405.7 1343.2)"/><polygon points="679.6,1345.7 594.9,1196.5 582.4,1200.9 609.8,1370.2" fill="#ee3a4e"/><ellipse cx="588.7" cy="1198.7" rx="29.6" ry="22.2" fill="#ee3a4e" transform="rotate(340.6 588.7 1198.7)"/><circle cx="700" cy="1515" r="185" fill="#dc2340"/><clipPath id="cv13"><circle cx="700" cy="1515" r="185"/></clipPath><circle cx="740.7" cy="1474.3" r="175.8" fill="#ee3a4e" clip-path="url(#cv13)"/></g>
<g transform="translate(1200 3150) scale(0.1346)"><circle cx="810.2" cy="330" r="88.2" fill="#1f8b3e"/><circle cx="772.1" cy="422.1" r="88.2" fill="#1f8b3e"/><circle cx="680" cy="460.2" r="88.2" fill="#1f8b3e"/><circle cx="587.9" cy="422.1" r="88.2" fill="#1f8b3e"/><circle cx="549.8" cy="330" r="88.2" fill="#1f8b3e"/><circle cx="587.9" cy="237.9" r="88.2" fill="#1f8b3e"/><circle cx="680" cy="199.8" r="88.2" fill="#1f8b3e"/><circle cx="772.1" cy="237.9" r="88.2" fill="#1f8b3e"/><circle cx="680" cy="330" r="147" fill="#1f8b3e"/><circle cx="1153.3" cy="730" r="90.3" fill="#1f8b3e"/><circle cx="1114.3" cy="824.3" r="90.3" fill="#1f8b3e"/><circle cx="1020" cy="863.3" r="90.3" fill="#1f8b3e"/><circle cx="925.7" cy="824.3" r="90.3" fill="#1f8b3e"/><circle cx="886.7" cy="730" r="90.3" fill="#1f8b3e"/><circle cx="925.7" cy="635.7" r="90.3" fill="#1f8b3e"/><circle cx="1020" cy="596.7" r="90.3" fill="#1f8b3e"/><circle cx="1114.3" cy="635.7" r="90.3" fill="#1f8b3e"/><circle cx="1020" cy="730" r="150.5" fill="#1f8b3e"/><polygon points="505,545 575,395 600,460 625,415 640,480 690,445 615,590" fill="#a6d131"/><polygon points="820,900 935,770 945,840 985,810 980,870 1025,850 920,960" fill="#a6d131"/><path d="M400 590 Q500 530 600 590 Q650 680 600 820 Q450 1150 160 1335 Q130 1330 135 1290 Q180 900 400 590Z" fill="#f0812a"/><path d="M700 920 Q800 870 890 950 Q920 1050 860 1150 Q620 1420 260 1545 Q225 1540 240 1500 Q420 1130 700 920Z" fill="#f0812a"/><polyline points="375,660 450,675" fill="none" stroke="#d9661c" stroke-width="24" stroke-linecap="round" stroke-linejoin="round"/><polyline points="470,810 570,845" fill="none" stroke="#d9661c" stroke-width="24" stroke-linecap="round" stroke-linejoin="round"/><polyline points="250,900 360,905" fill="none" stroke="#d9661c" stroke-width="24" stroke-linecap="round" stroke-linejoin="round"/><polyline points="290,1095 370,1135" fill="none" stroke="#d9661c" stroke-width="24" stroke-linecap="round" stroke-linejoin="round"/><polyline points="645,985 750,1040" fill="none" stroke="#d9661c" stroke-width="24" stroke-linecap="round" stroke-linejoin="round"/><polyline points="650,1185 750,1250" fill="none" stroke="#d9661c" stroke-width="24" stroke-linecap="round" stroke-linejoin="round"/><polyline points="450,1170 555,1225" fill="none" stroke="#d9661c" stroke-width="24" stroke-linecap="round" stroke-linejoin="round"/><polygon points="1410,275 1470,258 1490,350 1430,360" fill="#66b53a"/><path d="M1250 470 Q1270 380 1380 380 Q1450 330 1540 370 Q1640 320 1680 400 Q1720 560 1640 740 Q1560 790 1500 770 Q1420 800 1360 780 Q1250 640 1250 470Z" fill="#1c7b3c"/><polyline points="1395,500 1425,665" fill="none" stroke="#0d5c2c" stroke-width="26" stroke-linecap="round" stroke-linejoin="round"/><polyline points="1550,470 1560,660" fill="none" stroke="#0d5c2c" stroke-width="26" stroke-linecap="round" stroke-linejoin="round"/><ellipse cx="1315" cy="470" rx="22" ry="30" fill="#58b58e" transform="rotate(25 1315 470)"/><ellipse cx="1455" cy="420" rx="30" ry="22" fill="#58b58e" transform="rotate(-20 1455 420)"/><polygon points="1110,995 1160,1040 1185,985 1215,1035 1245,995 1270,1040 1320,1015 1290,1070 1130,1060" fill="#3f9a3c"/><path d="M1090 1075 Q1200 1030 1325 1085 Q1340 1230 1190 1385 Q1060 1230 1090 1075Z" fill="#df1f26"/><polygon points="1540,1070 1560,1115 1605,1090 1610,1140 1655,1130 1650,1175 1700,1185 1640,1215 1520,1130" fill="#3f9a3c"/><path d="M1490 1125 Q1610 1140 1665 1250 Q1590 1400 1400 1440 Q1340 1280 1490 1125Z" fill="#df1f26"/><circle cx="1145" cy="1135" r="17" fill="#f7a54a"/><circle cx="1220" cy="1125" r="17" fill="#f7a54a"/><circle cx="1250" cy="1190" r="17" fill="#f7a54a"/><circle cx="1155" cy="1225" r="17" fill="#f7a54a"/><circle cx="1210" cy="1280" r="17" fill="#f7a54a"/><circle cx="1490" cy="1195" r="17" fill="#f7a54a"/><circle cx="1565" cy="1230" r="17" fill="#f7a54a"/><circle cx="1455" cy="1280" r="17" fill="#f7a54a"/><circle cx="1555" cy="1300" r="17" fill="#f7a54a"/><circle cx="1475" cy="1355" r="17" fill="#f7a54a"/><path d="M530 1640 Q560 1590 620 1585 Q760 1400 940 1400 Q1120 1420 1210 1560 Q1280 1570 1290 1610 Q1260 1660 1200 1670 Q1080 1830 900 1830 Q720 1820 600 1695 Q540 1690 530 1640Z" fill="#fbd030"/><circle cx="825" cy="1490" r="24" fill="#eba82a"/><circle cx="1003" cy="1497" r="24" fill="#eba82a"/><circle cx="715" cy="1595" r="24" fill="#eba82a"/><circle cx="890" cy="1612" r="24" fill="#eba82a"/><circle cx="1107" cy="1603" r="24" fill="#eba82a"/><circle cx="805" cy="1740" r="24" fill="#eba82a"/><circle cx="1015" cy="1722" r="24" fill="#eba82a"/></g>
<g transform="translate(1800 2860) scale(0.1242)"><path d="M290 330 Q500 200 780 180 L840 400 Q980 480 1000 560 L1170 1270 Q900 1460 560 1460 L330 700 Q330 620 390 570Z" fill="#ffffff" stroke="#fff" stroke-width="110" stroke-linejoin="round"/><path d="M1240 185 L1770 500 Q1795 530 1780 560 L1270 1390 Q1240 1410 1210 1395 L1000 1250 L1000 560Z" fill="#ffffff" stroke="#fff" stroke-width="110" stroke-linejoin="round"/><rect x="215" y="1275" width="510" height="140" rx="20" fill="#ffffff" stroke="#fff" stroke-width="110" stroke-linejoin="round"/><ellipse cx="278" cy="920" rx="100" ry="140" fill="#ffffff" transform="rotate(15 278 920)" stroke="#fff" stroke-width="110" stroke-linejoin="round"/><ellipse cx="1000" cy="298" rx="105" ry="135" fill="#ffffff" transform="rotate(20 1000 298)" stroke="#fff" stroke-width="110" stroke-linejoin="round"/><circle cx="237" cy="640" r="95" fill="#ffffff"/><circle cx="1445" cy="262" r="100" fill="#ffffff"/><circle cx="350" cy="1140" r="90" fill="#ffffff"/><circle cx="1510" cy="1020" r="90" fill="#ffffff"/><circle cx="990" cy="1390" r="90" fill="#ffffff"/><path d="M1240 185 L1770 500 Q1795 530 1780 560 L1270 1390 Q1240 1410 1210 1395 L1000 1250 L1000 560Z" fill="#36c0ee"/><circle cx="1282" cy="392" r="76" fill="#f6dfe4"/><circle cx="1165" cy="578" r="76" fill="#f6dfe4"/><circle cx="1588" cy="582" r="76" fill="#f6dfe4"/><circle cx="1050" cy="765" r="76" fill="#f6dfe4"/><circle cx="1470" cy="768" r="76" fill="#f6dfe4"/><circle cx="1350" cy="960" r="76" fill="#f6dfe4"/><circle cx="1225" cy="1165" r="76" fill="#f6dfe4"/><path d="M1490 395 L1130 1000" stroke="#bfeafa" stroke-width="58" stroke-linecap="round" fill="none"/><path d="M1490 395 L1130 1000" stroke="#36c0ee" stroke-width="50" stroke-linecap="round" fill="none"/><path d="M390 570 Q600 520 840 400 Q980 480 1000 560 L1170 1270 Q900 1460 560 1460 L330 700 Q330 620 390 570Z" fill="#fba556"/><path d="M330 760 Q700 760 1010 580 L1140 1120 Q900 1280 500 1280Z" fill="#fdf1e3"/><path d="M330 700 Q330 620 390 570 L400 770 L500 1280 L560 1460 Q520 1440 500 1400Z" fill="#d8c6b6" opacity="0.85"/><path d="M290 330 Q500 200 780 180 L840 400 Q640 520 390 570Z" fill="#fdf1e3"/><polyline points="330,345 385,540" fill="none" stroke="#bcd9e0" stroke-width="3" stroke-linecap="round" stroke-linejoin="round"/><polyline points="408,325 463,512" fill="none" stroke="#bcd9e0" stroke-width="3" stroke-linecap="round" stroke-linejoin="round"/><polyline points="486,305 541,484" fill="none" stroke="#bcd9e0" stroke-width="3" stroke-linecap="round" stroke-linejoin="round"/><polyline points="564,285 619,456" fill="none" stroke="#bcd9e0" stroke-width="3" stroke-linecap="round" stroke-linejoin="round"/><polyline points="642,265 697,428" fill="none" stroke="#bcd9e0" stroke-width="3" stroke-linecap="round" stroke-linejoin="round"/><polyline points="720,245 775,400" fill="none" stroke="#bcd9e0" stroke-width="3" stroke-linecap="round" stroke-linejoin="round"/><ellipse cx="920" cy="560" rx="35" ry="55" fill="#ffffff" transform="rotate(-20 920 560)"/><ellipse cx="990" cy="700" rx="35" ry="60" fill="#ffffff" transform="rotate(-15 990 700)"/><rect x="0" y="-34" width="321.4" height="68" rx="0" fill="#f36f6f" transform="translate(740 825) rotate(74.7)"/><rect x="0" y="-34" width="287.8" height="68" rx="0" fill="#f36f6f" transform="translate(640 1020) rotate(-17.2)"/><ellipse cx="1000" cy="298" rx="105" ry="135" fill="#fdf1e3" transform="rotate(20 1000 298)"/><path d="M920 250 Q960 160 1030 165 Q1110 190 1095 270 L1075 330Z" fill="#f7a29b"/><ellipse cx="278" cy="920" rx="100" ry="140" fill="#fdf1e3" transform="rotate(15 278 920)"/><path d="M195 880 Q230 780 300 780 Q375 800 372 880 L355 945Z" fill="#36c0ee"/><rect x="215" y="1275" width="510" height="140" rx="20" fill="#f6dfe4"/><rect x="372" y="1290" width="175" height="112" fill="none" stroke="#d9b8c2" stroke-width="3"/><circle cx="265" cy="1305" r="7" fill="#c26f8e"/><circle cx="303" cy="1342" r="7" fill="#c26f8e"/><circle cx="265" cy="1378" r="7" fill="#c26f8e"/><circle cx="660" cy="1305" r="7" fill="#c26f8e"/><circle cx="622" cy="1342" r="7" fill="#c26f8e"/><circle cx="660" cy="1378" r="7" fill="#c26f8e"/><circle cx="237" cy="640" r="57" fill="none" stroke="#2b2226" stroke-width="5"/><circle cx="1445" cy="262" r="57" fill="none" stroke="#2b2226" stroke-width="5"/><circle cx="990" cy="1390" r="55" fill="#fdeee2"/><polyline points="305,1125 405,1155" fill="none" stroke="#2b2226" stroke-width="9" stroke-linecap="round" stroke-linejoin="round"/><polyline points="370,1090 342,1195" fill="none" stroke="#2b2226" stroke-width="9" stroke-linecap="round" stroke-linejoin="round"/><polyline points="1470,985 1550,1055" fill="none" stroke="#2b2226" stroke-width="9" stroke-linecap="round" stroke-linejoin="round"/><polyline points="1545,980 1475,1060" fill="none" stroke="#2b2226" stroke-width="9" stroke-linecap="round" stroke-linejoin="round"/></g>
<g transform="translate(2560 2860) scale(0.0984)"><polygon points="545,178 1180,178 1200,420 530,420" fill="#402650"/><path d="M600 370 L1110 370 Q1400 480 1470 760 L1280 950 L1400 1200 Q1450 1400 1400 1560 Q1300 1780 850 1770 Q400 1780 290 1560 Q240 1400 280 1250 L450 950 L255 780 Q320 470 600 370Z" fill="#f56462"/><path d="M640 178 H1070 Q1020 260 965 275 Q960 340 1110 375 Q1000 560 850 565 Q700 560 590 375 Q740 340 740 275 Q690 260 640 178Z" fill="#fedfd0"/><path d="M590 1190 Q800 1160 1050 1070 Q1190 1100 1225 1250 Q1230 1500 1000 1620 Q800 1700 620 1580 Q480 1400 490 1280Z" fill="#402650"/><circle cx="1040" cy="1270" r="150" fill="#fedfd0"/><path d="M930 1280 Q760 1240 760 1340 Q680 1340 670 1420 Q690 1500 740 1520 Q700 1600 780 1590 Q950 1600 1040 1480 Q1100 1400 1040 1300Z" fill="#fedfd0"/><ellipse cx="860" cy="1215" rx="45" ry="40" fill="#fedfd0"/><path d="M600 1190 Q720 1200 770 1280" stroke="#fedfd0" stroke-width="14" fill="none"/><path d="M255 780 Q330 770 450 850 L440 960 L370 1100 L530 1400 L640 1470 L720 1560 Q700 1610 640 1600 Q540 1570 420 1440 Q220 1260 205 1150 Q200 940 255 780Z" fill="#fedfd0"/><path d="M1470 760 Q1400 790 1280 860 L1290 975 Q1100 950 850 895 L870 935 Q780 980 750 1050 Q790 1110 880 1100 Q980 1080 1030 1055 L1440 1195 Q1510 1180 1515 1100 Q1520 900 1470 760Z" fill="#fedfd0"/><path d="M490 655 Q440 790 470 880" stroke="#7a2a3a" stroke-width="5" fill="none"/><path d="M1245 715 Q1290 830 1225 930" stroke="#7a2a3a" stroke-width="5" fill="none"/><path d="M678 768 Q687.6 818.4 738 828 Q687.6 837.6 678 888 Q668.4 837.6 618 828 Q668.4 818.4 678 768Z" fill="#fdd35a"/><path d="M505 832 Q514.3 880.7 563 890 Q514.3 899.3 505 948 Q495.7 899.3 447 890 Q495.7 880.7 505 832Z" fill="#fdd35a"/><path d="M625 942 Q639.1 1015.9 713 1030 Q639.1 1044.1 625 1118 Q610.9 1044.1 537 1030 Q610.9 1015.9 625 942Z" fill="#fdd35a"/></g>
<g transform="translate(3180 3180) scale(0.1294)"><path d="M1130 470 L1260 380 Q1290 365 1310 400 L1740 900 Q1760 940 1720 970 L1410 1150 Q1370 1160 1350 1130 L1130 700 Q1100 560 1130 470Z" fill="#f7f7fa" stroke="#f7f7fa" stroke-width="150" stroke-linejoin="round" stroke-linecap="round"/><path d="M330 740 L460 570 L760 580 L1000 720 L1040 820 L920 1000 L760 1120 L560 1060 L310 920Z" fill="#f7f7fa" stroke="#f7f7fa" stroke-width="150" stroke-linejoin="round" stroke-linecap="round"/><polyline points="960,320 1130,200 1190,330" fill="none" stroke="#f7f7fa" stroke-width="150" stroke-linecap="round" stroke-linejoin="round"/><polyline points="245,700 190,950" fill="none" stroke="#f7f7fa" stroke-width="170" stroke-linecap="round" stroke-linejoin="round"/><polyline points="415,510 385,690" fill="none" stroke="#f7f7fa" stroke-width="150" stroke-linecap="round" stroke-linejoin="round"/><circle cx="870" cy="490" r="95" fill="#f7f7fa"/><circle cx="990" cy="590" r="90" fill="#f7f7fa"/><path d="M1130 470 L1260 380 Q1290 365 1310 400 L1740 900 Q1760 940 1720 970 L1410 1150 Q1370 1160 1350 1130 L1130 700 Q1100 560 1130 470Z" fill="#ec4580"/><path d="M1215 640 Q1230 560 1330 540 Q1420 530 1470 600 L1650 910 L1395 1050 L1215 740Z" fill="#f7f7fa"/><rect x="0" y="-18" width="187.9" height="36" rx="0" fill="#ec4580" transform="translate(1280 725) rotate(-28.6)"/><rect x="0" y="-18" width="154.4" height="36" rx="0" fill="#ec4580" transform="translate(1340 785) rotate(-29.1)"/><rect x="0" y="-18" width="98.6" height="36" rx="0" fill="#ec4580" transform="translate(1395 845) rotate(-30.5)"/><polygon points="1110,350 1195,305 1225,345 1140,395" fill="#ec4580"/><polygon points="1130,385 1215,340 1260,395 1160,450" fill="#ec4580"/><path d="M915 335 Q960 270 1050 250 Q1110 230 1135 175 L1155 195 L1140 230 L1170 285 L1105 320 L1090 290 Q1010 300 960 385Z" fill="#ec4580"/><path d="M885 435 Q915 485 905 515 Q880 545 845 520 Q830 490 885 435Z" fill="#ec4580"/><path d="M1005 535 Q1035 585 1025 615 Q1000 645 965 620 Q950 590 1005 535Z" fill="#ec4580"/><polygon points="395,495 460,510 405,725 345,705" fill="#ec4580"/><polygon points="250,680 315,695 240,985 175,965" fill="#ec4580"/><path d="M470 575 Q640 590 760 575 L860 610 Q870 640 840 640 L770 630 L760 655 L1000 725 Q1010 760 980 760 L820 715 L810 740 L1045 815 Q1050 850 1020 850 L870 805 L860 830 L965 865 Q970 895 940 895 L830 865 L760 800 L740 760 Q600 740 440 745Z" fill="#ec4580"/><path d="M345 760 Q520 770 700 760 Q760 790 750 830 L640 815 L635 840 L880 905 Q885 940 855 940 L700 900 L690 925 L925 990 Q930 1025 900 1025 L690 970 L680 995 L845 1045 Q850 1080 820 1080 L620 1030 L610 1055 L770 1100 Q775 1135 745 1135 L560 1085 Q430 1000 300 945Z" fill="#ec4580"/></g>
<g font-family="'DejaVu Sans','Liberation Sans',sans-serif" font-weight="700" font-size="56" fill="#fff" text-anchor="middle">
<circle cx="230.5" cy="222.5" r="43" fill="#ee3377"/>
<text x="213" y="237">5</text>
<text x="249" y="237">0</text>
<circle cx="890.6" cy="222.5" r="43" fill="#ee3377"/>
<text x="873.1" y="237">4</text>
<text x="909.1" y="237">9</text>
<circle cx="1536.7" cy="222.5" r="43" fill="#ee3377"/>
<text x="1519.2" y="237">4</text>
<text x="1555.2" y="237">8</text>
<circle cx="2183.7" cy="222.5" r="43" fill="#ee3377"/>
<text x="2166.2" y="237">4</text>
<text x="2202.2" y="237">7</text>
<circle cx="2830.3" cy="222.5" r="43" fill="#ee3377"/>
<text x="2812.8" y="237">4</text>
<text x="2848.8" y="237">6</text>
<circle cx="230.5" cy="541" r="43" fill="#ee3377"/>
<text x="216" y="555.5">4</text>
<text x="249" y="555.5">1</text>
<circle cx="890.6" cy="541" r="43" fill="#ee3377"/>
<text x="873.1" y="555.5">4</text>
<text x="909.1" y="555.5">2</text>
<circle cx="1536.7" cy="541" r="43" fill="#ee3377"/>
<text x="1519.2" y="555.5">4</text>
<text x="1555.2" y="555.5">3</text>
<circle cx="2183.7" cy="541" r="43" fill="#ee3377"/>
<text x="2166.2" y="555.5">4</text>
<text x="2202.2" y="555.5">4</text>
<circle cx="2830.3" cy="541" r="43" fill="#ee3377"/>
<text x="2812.8" y="555.5">4</text>
<text x="2848.8" y="555.5">5</text>
<circle cx="230.5" cy="867" r="43" fill="#ee3377"/>
<text x="213" y="881.5">4</text>
<text x="249" y="881.5">0</text>
<circle cx="890.6" cy="867" r="43" fill="#ee3377"/>
<text x="873.1" y="881.5">3</text>
<text x="909.1" y="881.5">9</text>
<circle cx="1536.7" cy="867" r="43" fill="#ee3377"/>
<text x="1519.2" y="881.5">3</text>
<text x="1555.2" y="881.5">8</text>
<circle cx="2183.7" cy="867" r="43" fill="#ee3377"/>
<text x="2166.2" y="881.5">3</text>
<text x="2202.2" y="881.5">7</text>
<circle cx="2830.3" cy="867" r="43" fill="#ee3377"/>
<text x="2812.8" y="881.5">3</text>
<text x="2848.8" y="881.5">6</text>
<circle cx="230.5" cy="1191.5" r="43" fill="#ee3377"/>
<text x="216" y="1206">3</text>
<text x="249" y="1206">1</text>
<circle cx="890.6" cy="1191.5" r="43" fill="#ee3377"/>
<text x="873.1" y="1206">3</text>
<text x="909.1" y="1206">2</text>
<circle cx="1536.7" cy="1191.5" r="43" fill="#ee3377"/>
<text x="1519.2" y="1206">3</text>
<text x="1555.2" y="1206">3</text>
<circle cx="2183.7" cy="1191.5" r="43" fill="#ee3377"/>
<text x="2166.2" y="1206">3</text>
<text x="2202.2" y="1206">4</text>
<circle cx="2830.3" cy="1191.5" r="43" fill="#ee3377"/>
<text x="2812.8" y="1206">3</text>
<text x="2848.8" y="1206">5</text>
<circle cx="230.5" cy="1524.5" r="43" fill="#ee3377"/>
<text x="213" y="1539">3</text>
<text x="249" y="1539">0</text>
<circle cx="890.6" cy="1524.5" r="43" fill="#ee3377"/>
<text x="873.1" y="1539">2</text>
<text x="909.1" y="1539">9</text>
<circle cx="1536.7" cy="1524.5" r="43" fill="#ee3377"/>
<text x="1519.2" y="1539">2</text>
<text x="1555.2" y="1539">8</text>
<circle cx="2183.7" cy="1524.5" r="43" fill="#ee3377"/>
<text x="2166.2" y="1539">2</text>
<text x="2202.2" y="1539">7</text>
<circle cx="2830.3" cy="1524.5" r="43" fill="#ee3377"/>
<text x="2812.8" y="1539">2</text>
<text x="2848.8" y="1539">6</text>
<circle cx="230.5" cy="1848" r="43" fill="#ee3377"/>
<text x="216" y="1862.5">2</text>
<text x="249" y="1862.5">1</text>
<circle cx="890.6" cy="1848" r="43" fill="#ee3377"/>
<text x="873.1" y="1862.5">2</text>
<text x="909.1" y="1862.5">2</text>
<circle cx="1536.7" cy="1848" r="43" fill="#ee3377"/>
<text x="1519.2" y="1862.5">2</text>
<text x="1555.2" y="1862.5">3</text>
<circle cx="2183.7" cy="1848" r="43" fill="#ee3377"/>
<text x="2166.2" y="1862.5">2</text>
<text x="2202.2" y="1862.5">4</text>
<circle cx="2830.3" cy="1848" r="43" fill="#ee3377"/>
<text x="2812.8" y="1862.5">2</text>
<text x="2848.8" y="1862.5">5</text>
<circle cx="230.5" cy="2167" r="43" fill="#ee3377"/>
<text x="213" y="2181.5">2</text>
<text x="249" y="2181.5">0</text>
<circle cx="890.6" cy="2167" r="43" fill="#ee3377"/>
<text x="873.1" y="2181.5">1</text>
<text x="906.1" y="2181.5">9</text>
<circle cx="1536.7" cy="2167" r="43" fill="#ee3377"/>
<text x="1519.2" y="2181.5">1</text>
<text x="1552.2" y="2181.5">8</text>
<circle cx="2183.7" cy="2167" r="43" fill="#ee3377"/>
<text x="2166.2" y="2181.5">1</text>
<text x="2199.2" y="2181.5">7</text>
<circle cx="2830.3" cy="2167" r="43" fill="#ee3377"/>
<text x="2812.8" y="2181.5">1</text>
<text x="2845.8" y="2181.5">6</text>
<circle cx="230.5" cy="2500" r="43" fill="#ee3377"/>
<text x="216" y="2514.5">1</text>
<text x="246" y="2514.5">1</text>
<circle cx="890.6" cy="2500" r="43" fill="#ee3377"/>
<text x="873.1" y="2514.5">1</text>
<text x="906.1" y="2514.5">2</text>
<circle cx="1536.7" cy="2500" r="43" fill="#ee3377"/>
<text x="1519.2" y="2514.5">1</text>
<text x="1552.2" y="2514.5">3</text>
<circle cx="2183.7" cy="2500" r="43" fill="#ee3377"/>
<text x="2166.2" y="2514.5">1</text>
<text x="2199.2" y="2514.5">4</text>
<circle cx="2830.3" cy="2500" r="43" fill="#ee3377"/>
<text x="2812.8" y="2514.5">1</text>
<text x="2845.8" y="2514.5">5</text>
<circle cx="230.5" cy="2821" r="43" fill="#ee3377"/>
<text x="213" y="2835.5">1</text>
<text x="246" y="2835.5">0</text>
<circle cx="890.6" cy="2821" r="43" fill="#ee3377"/>
<text x="891.1" y="2835.5">9</text>
<circle cx="1536.7" cy="2821" r="43" fill="#ee3377"/>
<text x="1537.2" y="2835.5">8</text>
<circle cx="2183.7" cy="2821" r="43" fill="#ee3377"/>
<text x="2184.2" y="2835.5">7</text>
<circle cx="2830.3" cy="2821" r="43" fill="#ee3377"/>
<text x="2830.8" y="2835.5">6</text>
<circle cx="230.5" cy="3146" r="43" fill="#ee3377"/>
<text x="231" y="3160.5">1</text>
<circle cx="890.6" cy="3146" r="43" fill="#ee3377"/>
<text x="891.1" y="3160.5">2</text>
<circle cx="1536.7" cy="3146" r="43" fill="#ee3377"/>
<text x="1537.2" y="3160.5">3</text>
<circle cx="2183.7" cy="3146" r="43" fill="#ee3377"/>
<text x="2184.2" y="3160.5">4</text>
<circle cx="2830.3" cy="3146" r="43" fill="#ee3377"/>
<text x="2830.8" y="3160.5">5</text>
</g>

<g transform="translate(10 0) scale(0.2899)"><path d="M105 110 Q40 200 110 260" stroke="#e9605a" stroke-width="34" fill="none" stroke-linecap="round"/><path d="M105 110 Q190 60 265 120" stroke="#e9605a" stroke-width="34" fill="none" stroke-linecap="round"/><path d="M450 105 Q370 50 300 115" stroke="#f3ea6e" stroke-width="34" fill="none" stroke-linecap="round"/><path d="M450 105 Q520 190 450 250" stroke="#f3ea6e" stroke-width="34" fill="none" stroke-linecap="round"/><path d="M455 460 Q530 380 455 310" stroke="#6ec3ea" stroke-width="34" fill="none" stroke-linecap="round"/><path d="M455 460 Q380 520 305 450" stroke="#6ec3ea" stroke-width="34" fill="none" stroke-linecap="round"/><path d="M110 455 Q190 520 260 455" stroke="#f29ab9" stroke-width="34" fill="none" stroke-linecap="round"/><path d="M110 455 Q45 380 115 310" stroke="#f29ab9" stroke-width="34" fill="none" stroke-linecap="round"/><circle cx="283" cy="135" r="20" fill="#f1c7a5"/><circle cx="130" cy="283" r="20" fill="#f1c7a5"/><circle cx="432" cy="283" r="20" fill="#f1c7a5"/><circle cx="283" cy="438" r="20" fill="#f1c7a5"/><circle cx="278" cy="282" r="155" fill="none" stroke="#90cf8d" stroke-width="8"/><circle cx="105" cy="110" r="42" fill="#5c3a21"/><circle cx="450" cy="105" r="42" fill="#5c3a21"/><circle cx="110" cy="455" r="42" fill="#5c3a21"/><circle cx="455" cy="460" r="42" fill="#5c3a21"/><ellipse cx="478" cy="68" rx="18" ry="26" fill="#5c3a21" transform="rotate(30 478 68)"/><circle cx="285" cy="315" r="62" fill="#1a8fb0"/><path d="M230 300 Q285 260 345 300 Q330 360 285 378 Q240 360 230 300Z" fill="#116a8c"/><path d="M250 225 H305 L300 245 Q330 270 335 300 H235 Q240 265 258 245Z" fill="#bfe6f2" stroke="#56b7d6" stroke-width="6"/><ellipse cx="285" cy="300" rx="95" ry="38" fill="none" transform="rotate(-20 285 300)" stroke="#b9d85a" stroke-width="6"/><ellipse cx="290" cy="310" rx="95" ry="34" fill="none" transform="rotate(25 290 310)" stroke="#2a9fc4" stroke-width="6"/><circle cx="267" cy="188" r="11" fill="#56b7d6"/><circle cx="378" cy="270" r="9" fill="#2a9fc4"/><circle cx="188" cy="238" r="8" fill="#b9d85a"/></g><text x="189" y="78" font-family="'Liberation Sans',sans-serif" font-style="italic" font-size="41" fill="#2e3192" textLength="346" lengthAdjust="spacingAndGlyphs">Science Societies</text><text x="202" y="127.5" font-family="'Liberation Sans',sans-serif" font-style="italic" font-size="41" fill="#2e3192" textLength="324" lengthAdjust="spacingAndGlyphs">and Public Trust</text><g transform="translate(1670 0) scale(0.1294)"><path d="M300 110 Q300 50 340 45 Q375 20 410 45 Q455 50 450 110 L430 150 L440 195 Q455 215 440 245 L300 245 Q290 215 305 195 L318 150Z" fill="#8a8a8a"/><ellipse cx="372" cy="230" rx="66" ry="18" fill="#5f5f5f"/><circle cx="372" cy="120" r="30" fill="#b5b5b5"/><circle cx="325" cy="125" r="18" fill="#a5a5a5"/><circle cx="420" cy="125" r="18" fill="#a5a5a5"/><path d="M380 574 H462 Q500 500 580 530 Q640 570 660 660 Q690 720 720 735 Q720 640 830 580 Q1000 510 1250 550 Q1400 590 1470 632 L1190 632 L1340 715 L1140 690 L1250 772 L1100 745 L1190 830 L1040 795 Q1200 840 1370 795" stroke="#2a2a7a" stroke-width="14" fill="none" stroke-linecap="round" stroke-linejoin="round"/><path d="M462 580 Q440 760 500 880 Q560 980 665 985" stroke="#2a2a7a" stroke-width="14" fill="none" stroke-linecap="round" stroke-linejoin="round"/><circle cx="540" cy="578" r="14" fill="#2a2a7a"/><path d="M420 635 Q440 520 520 440" stroke="#1f8a4c" stroke-width="7" fill="none"/><path d="M470 520 Q480 420 455 395 Q435 450 470 520Z" fill="#1f8a4c"/><path d="M500 470 Q540 410 590 402 Q560 450 500 470Z" fill="#1f8a4c"/><path d="M480 505 Q540 470 560 470 Q530 510 480 505Z" fill="#1f8a4c"/><path d="M455 555 Q410 520 400 475 Q440 500 455 555Z" fill="#1f8a4c"/><path d="M470 540 Q500 520 520 522 Q500 545 470 540Z" fill="#1f8a4c"/><text x="470" y="122" font-family="'Liberation Sans','Noto Sans Devanagari','Lohit Devanagari',sans-serif" font-weight="700" font-style="italic" font-size="50" fill="#0e5a7a" textLength="1205" lengthAdjust="spacingAndGlyphs">NATIONAL CHILDREN'S SCIENCE CONGRESS</text><text x="1075" y="170" font-family="'Liberation Sans','Noto Sans Devanagari','Lohit Devanagari',sans-serif" font-size="24" fill="#777" text-anchor="middle" textLength="1220" lengthAdjust="spacingAndGlyphs">A PROGRAM OF NCSTC, DEPARTMENT OF SCIENCE &amp; TECHNOLOGY,</text><text x="1075" y="205" font-family="'Liberation Sans','Noto Sans Devanagari','Lohit Devanagari',sans-serif" font-size="24" fill="#777" text-anchor="middle" textLength="430" lengthAdjust="spacingAndGlyphs">GOVERNMENT OF INDIA</text><text x="372" y="288" font-family="'Liberation Sans','Noto Sans Devanagari','Lohit Devanagari',sans-serif" font-size="17" fill="#666" text-anchor="middle">सत्यमेव जयते</text><text x="700" y="1006" font-family="'Liberation Sans','Noto Sans Devanagari','Lohit Devanagari',sans-serif" font-size="74" fill="#a5352a" textLength="735" lengthAdjust="spacingAndGlyphs">राविप्रौसंप NCSTC</text><text x="942" y="1080" font-family="'Liberation Sans','Noto Sans Devanagari','Lohit Devanagari',sans-serif" font-size="66" fill="#2f3a5f" text-anchor="middle" textLength="1675" lengthAdjust="spacingAndGlyphs">SUPPORTED &amp; CATALYSED BY NCSTC, DST,</text><text x="945" y="1150" font-family="'Liberation Sans','Noto Sans Devanagari','Lohit Devanagari',sans-serif" font-size="66" fill="#2f3a5f" text-anchor="middle" textLength="600" lengthAdjust="spacingAndGlyphs">GOVT. OF INDIA</text></g><g transform="translate(3160 0) scale(0.2277)"><ellipse cx="700" cy="262" rx="220" ry="206" fill="none" stroke="#e2231a" stroke-width="10"/><ellipse cx="700" cy="258" rx="168" ry="154" fill="none" stroke="#ee5a24" stroke-width="10"/><ellipse cx="700" cy="255" rx="110" ry="105" fill="none" stroke="#f7931e" stroke-width="10"/><text x="88" y="430" font-family="'Liberation Sans',sans-serif" font-size="489" fill="#253a7a" stroke="#253a7a" stroke-width="9" textLength="350" lengthAdjust="spacingAndGlyphs">N</text><text x="955" y="430" font-family="'Liberation Sans',sans-serif" font-size="489" fill="#253a7a" stroke="#253a7a" stroke-width="9" textLength="940" lengthAdjust="spacingAndGlyphs">STC</text><rect x="650" y="175" width="92" height="230" rx="46" fill="#253a7a"/><path d="M560 335 Q600 310 650 340 L740 290 Q790 270 810 295 Q850 280 870 305 Q920 300 940 330 L940 420 Q900 480 780 470 Q690 470 650 420 L570 375 Q545 355 560 335Z" fill="#253a7a"/><text x="983" y="598" font-family="'Liberation Sans',sans-serif" font-weight="700" font-size="62" fill="#253a7a" text-anchor="middle" textLength="1785" lengthAdjust="spacingAndGlyphs">NETWORK OF ORGANIZATIONS FOR SCIENCE</text><text x="995" y="712" font-family="'Liberation Sans',sans-serif" font-weight="700" font-size="62" fill="#253a7a" text-anchor="middle" textLength="1560" lengthAdjust="spacingAndGlyphs">AND TECHNOLOGY  COMMUNICATION</text></g>
</svg>

<div class="t r" style="left:900.8px;top:277.4px">दस्त होने पर<br>तली-भुनी चीजें<br>खा सकते हैं।</div>
<div class="t g" style="left:897.4px;top:606.4px">टीबी से बचाव के<br>लिए भीड़भाड़ से<br>दूर रहें।</div>
<div class="t r" style="left:1547.0px;top:606.4px">टीबी से बचाव के<br>लिए टीकाकरण<br>आवश्यक नहीं है।</div>
<div class="t r" style="left:2848.6px;top:278.0px">एनीमिया का कारण<br>केवल आहार की<br>कमी है।</div>
<div class="t g" style="left:2848.6px;top:604.3px">रक्तदान के बाद<br>आयरन युक्त<br>भोजन करें।</div>
<div class="t r" style="left:260.6px;top:927.3px">कोविड-19 के<br>लक्षण हमेशा<br>गंभीर होते हैं।</div>
<div class="t g" style="left:1560.6px;top:934.0px">नियमित रूप से<br>हेमोग्लोबिन की<br>जांच कराएं।</div>
<div class="t g" style="left:2187.0px;top:934.0px">खांसते और छींकते<br>समय रुमाल या टिश्यू<br>का उपयोग करें।</div>
<div class="t r" style="left:1547.0px;top:1256.6px">एनीमिया में लोहे<br>की गोलियां लेना<br>खतरनाक है।</div>
<div class="t g" style="left:2255.5px;top:1246.0px">बार-बार<br>चेहरे को<br>छूने से बचें।</div>
<div class="t g" style="left:883.7px;top:1584.0px">विटामिन बी12 और<br>फोलिक एसिड का<br>सेवन करें।</div>
<div class="t r" style="left:255.0px;top:1896.0px">एनीमिया केवल<br>वजन बढ़ने से<br>होता है।</div>
<div class="t r" style="left:1581.0px;top:1898.4px">दस्त का<br>घरेलू इलाज<br>काफी है।</div>
<div class="t g" style="left:2228.0px;top:1894.0px">टीबी के मरीज<br>का उपचार<br>अधूरा न छोड़ें।</div>
<div class="t r" style="left:2876.0px;top:1555.0px">टीबी के मरीज से<br>बिना मास्क के<br>बात कर सकते हैं।</div>
<div class="t g" style="left:245.0px;top:2204.7px">दस्त से बचने<br>के लिए साफ-<br>सफाई का<br>ध्यान रखें।</div>
<div class="t g" style="left:890.6px;top:2227.3px">हाथ धोने के लिए<br>साबुन और पानी<br>का इस्तेमाल करें।</div>
<div class="t r" style="left:914.5px;top:2563.4px">खांसते समय<br>मुंह ढकने की<br>जरूरत नहीं।</div>
<div class="t r" style="left:2185.0px;top:2256.0px">साफ पानी पीना<br>जरूरी नहीं।</div>
<div class="t g" style="left:1531.0px;top:2553.0px">कोविड-19 के लक्षण<br>दिखने पर तुरंत सेल्फ<br>आइसोलेशन में जाएं।</div>
<div class="t g" style="left:2885.0px;top:2525.0px">लोहे से भरपूर<br>खाद्य पदार्थ जैसे<br>पालक, चुकंदर,<br>और सेब खाएं।</div>
<div class="t r" style="left:262.0px;top:2882.0px">कोविड-19 का<br>कोई लक्षण<br>नहीं होता।</div>
<div class="t g" style="left:897.4px;top:3222.3px">आयरन और<br>विटामिन युक्त<br>भोजन करें।</div>
<div class="t g" style="left:1553.8px;top:2884.0px">दस्त में उचित<br>दवाइयों का<br>सेवन करें।</div>
<div class="t r" style="left:2205.6px;top:2884.0px">एनीमिया केवल<br>गर्भवती महिलाओं<br>में होता है।</div>
<div class="t g" style="left:2838.0px;top:3229.3px">कोविड-19 से<br>बचाव के लिए हाथ<br>सैनिटाइज करें।</div>
</div></body></html>
